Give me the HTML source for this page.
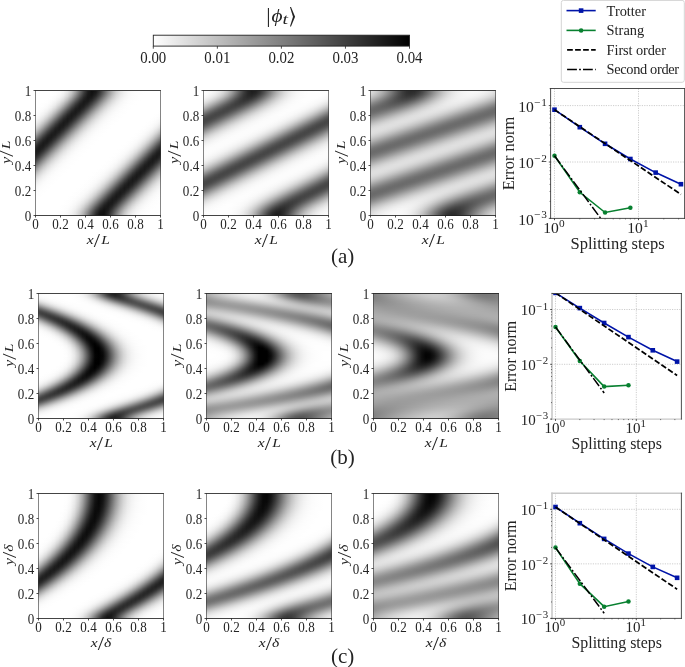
<!DOCTYPE html>
<html lang="en"><head><meta charset="utf-8"><title>Splitting error figure</title>
<style>
html,body{margin:0;padding:0;background:#fff}
body{width:685px;height:667px;position:relative;overflow:hidden;font-family:"Liberation Serif", serif}
.hm{position:absolute;overflow:hidden}
.hm i{display:block;height:1px;width:100%}
svg{position:absolute;left:0;top:0;will-change:transform}
text{font-family:"Liberation Serif", serif;fill:#242424}
.sp{fill:none;stroke:#222;stroke-width:.9}
.spv{fill:none;stroke:#333;stroke-width:.6}
.sph{fill:none;stroke:#222;stroke-width:.85}
.sp2{stroke:#222;stroke-width:.9}
.tkl{fill:none;stroke:#222;stroke-width:.8}
.tkm{fill:none;stroke:#333;stroke-width:.7}
.grid{fill:none;stroke:#b8b8b8;stroke-width:.7;stroke-dasharray:1.2 1.2}
.ref{fill:none;stroke:#000}
.r1{stroke-width:1.75}
.r2{stroke-width:1.5}
.tk{font-size:13.6px}
.al{font-size:13.5px;font-style:italic}
.sl{font-size:19.5px;font-style:normal}
.pl{font-size:15.6px}
.sup{font-size:11.3px}
.pl2{font-size:16.5px}
.cbt{font-size:15.8px}
.cbl{font-size:21px}
.ang{font-family:"DejaVu Math TeX Gyre","DejaVu Serif",serif;font-size:18px}
.cbs{font-size:15px}
.lg{font-size:14.4px}
.sub{font-size:21px}
</style></head><body>
<div class="hm" style="left:35px;top:90px;width:126px;height:126px"><i style="background:linear-gradient(90deg,#fff,#fff,#fff,#fff,#fff,#fefefe,#fcfcfc,#f5f5f5,#e6e6e6,#cacaca,#a2a2a2,#717171,#414141,#1e1e1e,#101010,#191919,#373737,#606060,#8b8b8b,#b1b1b1,#cecece,#e3e3e3,#f0f0f0,#f7f7f7,#fbfbfb,#fdfdfd,#fefefe,#fff,#fff,#fff,#fff,#fff)"></i><i style="background:linear-gradient(90deg,#fff,#fff,#fff,#fff,#fff,#fefefe,#fcfcfc,#f5f5f5,#e5e5e5,#cacaca,#a2a2a2,#717171,#414141,#1e1e1e,#101010,#191919,#373737,#606060,#8b8b8b,#b1b1b1,#cecece,#e3e3e3,#f0f0f0,#f7f7f7,#fbfbfb,#fdfdfd,#fefefe,#fff,#fff,#fff,#fff,#fff)"></i><i style="background:linear-gradient(90deg,#fff,#fff,#fff,#fff,#fff,#fefefe,#fbfbfb,#f4f4f4,#e4e4e4,#c8c8c8,#9f9f9f,#6e6e6e,#3f3f3f,#1d1d1d,#101010,#1b1b1b,#393939,#626262,#8d8d8d,#b3b3b3,#d0d0d0,#e4e4e4,#f0f0f0,#f8f8f8,#fcfcfc,#fefefe,#fefefe,#fff,#fff,#fff,#fff,#fff)"></i><i style="background:linear-gradient(90deg,#fff,#fff,#fff,#fff,#fff,#fefefe,#fbfbfb,#f2f2f2,#e1e1e1,#c4c4c4,#9a9a9a,#696969,#3b3b3b,#1b1b1b,#111,#1e1e1e,#3e3e3e,#676767,#919191,#b6b6b6,#d2d2d2,#e5e5e5,#f1f1f1,#f8f8f8,#fcfcfc,#fefefe,#fefefe,#fff,#fff,#fff,#fff,#fff)"></i><i style="background:linear-gradient(90deg,#fff,#fff,#fff,#fff,#fff,#fefefe,#fafafa,#f0f0f0,#ddd,#bebebe,#949494,#636363,#373737,#191919,#121212,#222,#434343,#6c6c6c,#969696,#bababa,#d5d5d5,#e7e7e7,#f2f2f2,#f9f9f9,#fcfcfc,#fefefe,#fefefe,#fff,#fff,#fff,#fff,#fff)"></i><i style="background:linear-gradient(90deg,#fff,#fff,#fff,#fff,#fff,#fdfdfd,#f8f8f8,#eee,#d9d9d9,#b8b8b8,#8c8c8c,#5c5c5c,#323232,#181818,#141414,#262626,#494949,#737373,#9c9c9c,#bebebe,#d8d8d8,#e9e9e9,#f3f3f3,#f9f9f9,#fcfcfc,#fefefe,#fff,#fff,#fff,#fff,#fff,#fff)"></i><i style="background:linear-gradient(90deg,#fff,#fff,#fff,#fff,#fefefe,#fcfcfc,#f7f7f7,#eaeaea,#d4d4d4,#b1b1b1,#848484,#555,#2d2d2d,#171717,#171717,#2c2c2c,#505050,#7a7a7a,#a2a2a2,#c3c3c3,#dbdbdb,#ebebeb,#f4f4f4,#fafafa,#fdfdfd,#fefefe,#fff,#fff,#fff,#fff,#fff,#fff)"></i><i style="background:linear-gradient(90deg,#fff,#fff,#fff,#fff,#fefefe,#fbfbfb,#f5f5f5,#e6e6e6,#cdcdcd,#a8a8a8,#7b7b7b,#4d4d4d,#282828,#161616,#1a1a1a,#333,#585858,#828282,#a8a8a8,#c7c7c7,#dedede,#ededed,#f6f6f6,#fafafa,#fdfdfd,#fefefe,#fff,#fff,#fff,#fff,#fff,#fff)"></i><i style="background:linear-gradient(90deg,#fff,#fff,#fff,#fff,#fefefe,#fafafa,#f2f2f2,#e2e2e2,#c6c6c6,#9f9f9f,#717171,#454545,#242424,#161616,#1e1e1e,#3a3a3a,#606060,#8a8a8a,#afafaf,#ccc,#e1e1e1,#efefef,#f7f7f7,#fbfbfb,#fdfdfd,#fefefe,#fff,#fff,#fff,#fff,#fff,#fff)"></i><i style="background:linear-gradient(90deg,#fff,#fff,#fff,#fff,#fdfdfd,#f9f9f9,#efefef,#dcdcdc,#bfbfbf,#969696,#686868,#3d3d3d,#202020,#171717,#242424,#424242,#696969,#929292,#b6b6b6,#d1d1d1,#e4e4e4,#f1f1f1,#f8f8f8,#fcfcfc,#fdfdfd,#fefefe,#fff,#fff,#fff,#fff,#fff,#fff)"></i><i style="background:linear-gradient(90deg,#fff,#fff,#fff,#fefefe,#fcfcfc,#f7f7f7,#ececec,#d7d7d7,#b6b6b6,#8c8c8c,#5e5e5e,#363636,#1d1d1d,#191919,#292929,#4a4a4a,#727272,#9a9a9a,#bcbcbc,#d6d6d6,#e7e7e7,#f2f2f2,#f9f9f9,#fcfcfc,#fefefe,#fefefe,#fff,#fff,#fff,#fff,#fff,#fff)"></i><i style="background:linear-gradient(90deg,#fff,#fff,#fff,#fefefe,#fbfbfb,#f5f5f5,#e7e7e7,#d0d0d0,#adadad,#818181,#545454,#2f2f2f,#1a1a1a,#1b1b1b,#303030,#535353,#7c7c7c,#a2a2a2,#c2c2c2,#dadada,#eaeaea,#f4f4f4,#fafafa,#fdfdfd,#fefefe,#fff,#fff,#fff,#fff,#fff,#fff,#fff)"></i><i style="background:linear-gradient(90deg,#fff,#fff,#fff,#fefefe,#fafafa,#f2f2f2,#e3e3e3,#c8c8c8,#a3a3a3,#777,#4a4a4a,#292929,#191919,#1f1f1f,#383838,#5c5c5c,#858585,#aaa,#c9c9c9,#dedede,#ededed,#f6f6f6,#fafafa,#fdfdfd,#fefefe,#fff,#fff,#fff,#fff,#fff,#fff,#fff)"></i><i style="background:linear-gradient(90deg,#fff,#fff,#fefefe,#fdfdfd,#f9f9f9,#efefef,#ddd,#c0c0c0,#999,#6c6c6c,#414141,#232323,#191919,#242424,#404040,#666,#8e8e8e,#b2b2b2,#cecece,#e2e2e2,#efefef,#f7f7f7,#fbfbfb,#fdfdfd,#fefefe,#fff,#fff,#fff,#fff,#fff,#fff,#fff)"></i><i style="background:linear-gradient(90deg,#fff,#fff,#fefefe,#fcfcfc,#f7f7f7,#ececec,#d7d7d7,#b8b8b8,#8e8e8e,#616161,#393939,#1f1f1f,#1a1a1a,#292929,#484848,#707070,#979797,#b9b9b9,#d4d4d4,#e6e6e6,#f1f1f1,#f8f8f8,#fcfcfc,#fefefe,#fefefe,#fff,#fff,#fff,#fff,#fff,#fff,#fff)"></i><i style="background:linear-gradient(90deg,#fff,#fff,#fefefe,#fbfbfb,#f5f5f5,#e8e8e8,#d1d1d1,#aeaeae,#848484,#575757,#313131,#1c1c1c,#1c1c1c,#303030,#515151,#797979,#a0a0a0,#c0c0c0,#d9d9d9,#e9e9e9,#f3f3f3,#f9f9f9,#fcfcfc,#fefefe,#fff,#fff,#fff,#fff,#fff,#fff,#fff,#fff)"></i><i style="background:linear-gradient(90deg,#fff,#fff,#fefefe,#fafafa,#f2f2f2,#e3e3e3,#c9c9c9,#a5a5a5,#797979,#4d4d4d,#2b2b2b,#1a1a1a,#1f1f1f,#373737,#5b5b5b,#838383,#a8a8a8,#c7c7c7,#ddd,#ececec,#f5f5f5,#fafafa,#fdfdfd,#fefefe,#fff,#fff,#fff,#fff,#fff,#fff,#fff,#fff)"></i><i style="background:linear-gradient(90deg,#fff,#fefefe,#fdfdfd,#f9f9f9,#f0f0f0,#dedede,#c1c1c1,#9a9a9a,#6e6e6e,#434343,#252525,#1a1a1a,#232323,#3f3f3f,#646464,#8c8c8c,#b1b1b1,#cdcdcd,#e2e2e2,#efefef,#f7f7f7,#fbfbfb,#fdfdfd,#fefefe,#fff,#fff,#fff,#fff,#fff,#fff,#fff,#fff)"></i><i style="background:linear-gradient(90deg,#fff,#fefefe,#fcfcfc,#f7f7f7,#ececec,#d8d8d8,#b9b9b9,#909090,#636363,#3b3b3b,#202020,#1a1a1a,#292929,#474747,#6e6e6e,#969696,#b8b8b8,#d3d3d3,#e5e5e5,#f1f1f1,#f8f8f8,#fcfcfc,#fdfdfd,#fefefe,#fff,#fff,#fff,#fff,#fff,#fff,#fff,#fff)"></i><i style="background:linear-gradient(90deg,#fff,#fefefe,#fbfbfb,#f5f5f5,#e8e8e8,#d1d1d1,#afafaf,#858585,#585858,#333,#1d1d1d,#1c1c1c,#2f2f2f,#505050,#787878,#9f9f9f,#bfbfbf,#d8d8d8,#e9e9e9,#f3f3f3,#f9f9f9,#fcfcfc,#fefefe,#fefefe,#fff,#fff,#fff,#fff,#fff,#fff,#fff,#fff)"></i><i style="background:linear-gradient(90deg,#fff,#fdfdfd,#fafafa,#f3f3f3,#e3e3e3,#cacaca,#a6a6a6,#7a7a7a,#4e4e4e,#2c2c2c,#1b1b1b,#1f1f1f,#363636,#5a5a5a,#828282,#a7a7a7,#c6c6c6,#ddd,#ececec,#f5f5f5,#fafafa,#fdfdfd,#fefefe,#fff,#fff,#fff,#fff,#fff,#fff,#fff,#fff,#fefefe)"></i><i style="background:linear-gradient(90deg,#fefefe,#fdfdfd,#f9f9f9,#f0f0f0,#dedede,#c2c2c2,#9b9b9b,#6f6f6f,#444,#262626,#1a1a1a,#232323,#3e3e3e,#636363,#8c8c8c,#b0b0b0,#cdcdcd,#e1e1e1,#efefef,#f6f6f6,#fbfbfb,#fdfdfd,#fefefe,#fff,#fff,#fff,#fff,#fff,#fff,#fff,#fff,#fefefe)"></i><i style="background:linear-gradient(90deg,#fefefe,#fcfcfc,#f7f7f7,#ececec,#d8d8d8,#b9b9b9,#919191,#646464,#3c3c3c,#212121,#1a1a1a,#282828,#464646,#6d6d6d,#959595,#b8b8b8,#d2d2d2,#e5e5e5,#f1f1f1,#f8f8f8,#fcfcfc,#fdfdfd,#fefefe,#fff,#fff,#fff,#fff,#fff,#fff,#fff,#fff,#fefefe)"></i><i style="background:linear-gradient(90deg,#fefefe,#fbfbfb,#f5f5f5,#e8e8e8,#d2d2d2,#b0b0b0,#868686,#595959,#343434,#1d1d1d,#1c1c1c,#2e2e2e,#4f4f4f,#777,#9e9e9e,#bfbfbf,#d8d8d8,#e9e9e9,#f3f3f3,#f9f9f9,#fcfcfc,#fefefe,#fefefe,#fff,#fff,#fff,#fff,#fff,#fff,#fff,#fff,#fdfdfd)"></i><i style="background:linear-gradient(90deg,#fdfdfd,#fafafa,#f3f3f3,#e4e4e4,#cacaca,#a6a6a6,#7b7b7b,#4f4f4f,#2c2c2c,#1b1b1b,#1f1f1f,#353535,#595959,#818181,#a7a7a7,#c6c6c6,#dcdcdc,#ececec,#f5f5f5,#fafafa,#fdfdfd,#fefefe,#fff,#fff,#fff,#fff,#fff,#fff,#fff,#fff,#fefefe,#fdfdfd)"></i><i style="background:linear-gradient(90deg,#fdfdfd,#f9f9f9,#f0f0f0,#dedede,#c3c3c3,#9c9c9c,#707070,#454545,#262626,#1a1a1a,#232323,#3d3d3d,#636363,#8b8b8b,#afafaf,#ccc,#e1e1e1,#eee,#f6f6f6,#fbfbfb,#fdfdfd,#fefefe,#fff,#fff,#fff,#fff,#fff,#fff,#fff,#fff,#fefefe,#fcfcfc)"></i><i style="background:linear-gradient(90deg,#fcfcfc,#f7f7f7,#ececec,#d9d9d9,#bababa,#929292,#656565,#3c3c3c,#212121,#1a1a1a,#282828,#464646,#6c6c6c,#949494,#b7b7b7,#d2d2d2,#e5e5e5,#f1f1f1,#f8f8f8,#fcfcfc,#fdfdfd,#fefefe,#fff,#fff,#fff,#fff,#fff,#fff,#fff,#fff,#fefefe,#fbfbfb)"></i><i style="background:linear-gradient(90deg,#fbfbfb,#f5f5f5,#e8e8e8,#d2d2d2,#b1b1b1,#878787,#5a5a5a,#343434,#1e1e1e,#1c1c1c,#2e2e2e,#4f4f4f,#767676,#9d9d9d,#bebebe,#d7d7d7,#e8e8e8,#f3f3f3,#f9f9f9,#fcfcfc,#fefefe,#fefefe,#fff,#fff,#fff,#fff,#fff,#fff,#fff,#fff,#fdfdfd,#fafafa)"></i><i style="background:linear-gradient(90deg,#fafafa,#f3f3f3,#e4e4e4,#cbcbcb,#a7a7a7,#7c7c7c,#505050,#2d2d2d,#1b1b1b,#1e1e1e,#353535,#585858,#808080,#a6a6a6,#c5c5c5,#dcdcdc,#ebebeb,#f5f5f5,#fafafa,#fdfdfd,#fefefe,#fff,#fff,#fff,#fff,#fff,#fff,#fff,#fff,#fefefe,#fdfdfd,#f9f9f9)"></i><i style="background:linear-gradient(90deg,#f9f9f9,#f0f0f0,#dfdfdf,#c3c3c3,#9d9d9d,#717171,#464646,#272727,#1a1a1a,#222,#3c3c3c,#626262,#8a8a8a,#aeaeae,#ccc,#e1e1e1,#eee,#f6f6f6,#fbfbfb,#fdfdfd,#fefefe,#fff,#fff,#fff,#fff,#fff,#fff,#fff,#fff,#fefefe,#fcfcfc,#f7f7f7)"></i><i style="background:linear-gradient(90deg,#f7f7f7,#ececec,#d9d9d9,#bbb,#939393,#666,#3d3d3d,#222,#1a1a1a,#272727,#454545,#6b6b6b,#939393,#b6b6b6,#d2d2d2,#e5e5e5,#f1f1f1,#f8f8f8,#fcfcfc,#fdfdfd,#fefefe,#fff,#fff,#fff,#fff,#fff,#fff,#fff,#fff,#fefefe,#fbfbfb,#f5f5f5)"></i><i style="background:linear-gradient(90deg,#f5f5f5,#e8e8e8,#d3d3d3,#b2b2b2,#888,#5b5b5b,#353535,#1e1e1e,#1b1b1b,#2d2d2d,#4e4e4e,#757575,#9d9d9d,#bebebe,#d7d7d7,#e8e8e8,#f3f3f3,#f9f9f9,#fcfcfc,#fefefe,#fefefe,#fff,#fff,#fff,#fff,#fff,#fff,#fff,#fff,#fdfdfd,#fafafa,#f3f3f3)"></i><i style="background:linear-gradient(90deg,#f3f3f3,#e4e4e4,#cbcbcb,#a8a8a8,#7d7d7d,#515151,#2e2e2e,#1b1b1b,#1e1e1e,#343434,#575757,#7f7f7f,#a5a5a5,#c5c5c5,#dcdcdc,#ebebeb,#f5f5f5,#fafafa,#fdfdfd,#fefefe,#fff,#fff,#fff,#fff,#fff,#fff,#fff,#fff,#fefefe,#fdfdfd,#f9f9f9,#f0f0f0)"></i><i style="background:linear-gradient(90deg,#f0f0f0,#dfdfdf,#c4c4c4,#9e9e9e,#727272,#474747,#272727,#1a1a1a,#222,#3c3c3c,#616161,#898989,#aeaeae,#cbcbcb,#e0e0e0,#eee,#f6f6f6,#fbfbfb,#fdfdfd,#fefefe,#fff,#fff,#fff,#fff,#fff,#fff,#fff,#fff,#fefefe,#fcfcfc,#f7f7f7,#ededed)"></i><i style="background:linear-gradient(90deg,#ededed,#d9d9d9,#bbb,#949494,#676767,#3e3e3e,#222,#1a1a1a,#262626,#444,#6b6b6b,#939393,#b6b6b6,#d1d1d1,#e4e4e4,#f1f1f1,#f8f8f8,#fcfcfc,#fdfdfd,#fefefe,#fff,#fff,#fff,#fff,#fff,#fff,#fff,#fff,#fefefe,#fbfbfb,#f5f5f5,#e9e9e9)"></i><i style="background:linear-gradient(90deg,#e9e9e9,#d3d3d3,#b2b2b2,#898989,#5c5c5c,#363636,#1e1e1e,#1b1b1b,#2c2c2c,#4d4d4d,#757575,#9c9c9c,#bdbdbd,#d7d7d7,#e8e8e8,#f3f3f3,#f9f9f9,#fcfcfc,#fefefe,#fff,#fff,#fff,#fff,#fff,#fff,#fff,#fff,#fff,#fdfdfd,#fafafa,#f3f3f3,#e4e4e4)"></i><i style="background:linear-gradient(90deg,#e4e4e4,#ccc,#a9a9a9,#7e7e7e,#525252,#2f2f2f,#1c1c1c,#1e1e1e,#333,#565656,#7e7e7e,#a5a5a5,#c4c4c4,#dcdcdc,#ebebeb,#f5f5f5,#fafafa,#fdfdfd,#fefefe,#fff,#fff,#fff,#fff,#fff,#fff,#fff,#fff,#fefefe,#fdfdfd,#f9f9f9,#f0f0f0,#dfdfdf)"></i><i style="background:linear-gradient(90deg,#dfdfdf,#c4c4c4,#9f9f9f,#737373,#484848,#282828,#1a1a1a,#212121,#3b3b3b,#606060,#888,#adadad,#cbcbcb,#e0e0e0,#eee,#f6f6f6,#fbfbfb,#fdfdfd,#fefefe,#fff,#fff,#fff,#fff,#fff,#fff,#fff,#fff,#fefefe,#fcfcfc,#f7f7f7,#ededed,#dadada)"></i><i style="background:linear-gradient(90deg,#dadada,#bcbcbc,#959595,#686868,#3f3f3f,#232323,#1a1a1a,#262626,#434343,#6a6a6a,#929292,#b5b5b5,#d1d1d1,#e4e4e4,#f1f1f1,#f8f8f8,#fcfcfc,#fdfdfd,#fefefe,#fff,#fff,#fff,#fff,#fff,#fff,#fff,#fff,#fefefe,#fbfbfb,#f5f5f5,#e9e9e9,#d3d3d3)"></i><i style="background:linear-gradient(90deg,#d3d3d3,#b3b3b3,#8a8a8a,#5e5e5e,#373737,#1f1f1f,#1b1b1b,#2c2c2c,#4c4c4c,#747474,#9b9b9b,#bdbdbd,#d6d6d6,#e8e8e8,#f3f3f3,#f9f9f9,#fcfcfc,#fefefe,#fff,#fff,#fff,#fff,#fff,#fff,#fff,#fff,#fff,#fdfdfd,#fafafa,#f3f3f3,#e4e4e4,#ccc)"></i><i style="background:linear-gradient(90deg,#ccc,#aaa,#7f7f7f,#535353,#2f2f2f,#1c1c1c,#1d1d1d,#323232,#555,#7e7e7e,#a4a4a4,#c4c4c4,#dbdbdb,#ebebeb,#f5f5f5,#fafafa,#fdfdfd,#fefefe,#fff,#fff,#fff,#fff,#fff,#fff,#fff,#fff,#fefefe,#fdfdfd,#f9f9f9,#f0f0f0,#e0e0e0,#c5c5c5)"></i><i style="background:linear-gradient(90deg,#c5c5c5,#a0a0a0,#747474,#494949,#292929,#1a1a1a,#212121,#3a3a3a,#5f5f5f,#878787,#adadad,#cbcbcb,#e0e0e0,#eee,#f6f6f6,#fbfbfb,#fdfdfd,#fefefe,#fff,#fff,#fff,#fff,#fff,#fff,#fff,#fff,#fefefe,#fcfcfc,#f7f7f7,#ededed,#dadada,#bdbdbd)"></i><i style="background:linear-gradient(90deg,#bdbdbd,#969696,#696969,#404040,#232323,#1a1a1a,#252525,#424242,#696969,#919191,#b5b5b5,#d1d1d1,#e4e4e4,#f1f1f1,#f8f8f8,#fcfcfc,#fdfdfd,#fefefe,#fff,#fff,#fff,#fff,#fff,#fff,#fff,#fff,#fefefe,#fbfbfb,#f5f5f5,#e9e9e9,#d4d4d4,#b4b4b4)"></i><i style="background:linear-gradient(90deg,#b4b4b4,#8b8b8b,#5f5f5f,#383838,#1f1f1f,#1b1b1b,#2b2b2b,#4b4b4b,#737373,#9a9a9a,#bcbcbc,#d6d6d6,#e8e8e8,#f3f3f3,#f9f9f9,#fcfcfc,#fefefe,#fff,#fff,#fff,#fff,#fff,#fff,#fff,#fff,#fefefe,#fdfdfd,#fafafa,#f3f3f3,#e5e5e5,#cdcdcd,#ababab)"></i><i style="background:linear-gradient(90deg,#ababab,#808080,#545454,#303030,#1c1c1c,#1d1d1d,#323232,#545454,#7d7d7d,#a3a3a3,#c4c4c4,#dbdbdb,#ebebeb,#f5f5f5,#fafafa,#fdfdfd,#fefefe,#fff,#fff,#fff,#fff,#fff,#fff,#fff,#fff,#fefefe,#fdfdfd,#f9f9f9,#f0f0f0,#e0e0e0,#c5c5c5,#a1a1a1)"></i><i style="background:linear-gradient(90deg,#a1a1a1,#757575,#4a4a4a,#292929,#1a1a1a,#202020,#393939,#5e5e5e,#878787,#acacac,#cacaca,#e0e0e0,#eee,#f6f6f6,#fbfbfb,#fdfdfd,#fefefe,#fff,#fff,#fff,#fff,#fff,#fff,#fff,#fff,#fefefe,#fcfcfc,#f7f7f7,#ededed,#dadada,#bdbdbd,#969696)"></i><i style="background:linear-gradient(90deg,#979797,#6a6a6a,#414141,#242424,#1a1a1a,#252525,#414141,#686868,#909090,#b4b4b4,#d0d0d0,#e4e4e4,#f0f0f0,#f8f8f8,#fcfcfc,#fefefe,#fefefe,#fff,#fff,#fff,#fff,#fff,#fff,#fff,#fff,#fefefe,#fbfbfb,#f5f5f5,#e9e9e9,#d4d4d4,#b5b5b5,#8c8c8c)"></i><i style="background:linear-gradient(90deg,#8c8c8c,#606060,#383838,#1f1f1f,#1a1a1a,#2a2a2a,#4a4a4a,#727272,#9a9a9a,#bcbcbc,#d6d6d6,#e8e8e8,#f3f3f3,#f9f9f9,#fcfcfc,#fefefe,#fff,#fff,#fff,#fff,#fff,#fff,#fff,#fff,#fefefe,#fdfdfd,#fafafa,#f3f3f3,#e5e5e5,#cdcdcd,#ababab,#818181)"></i><i style="background:linear-gradient(90deg,#818181,#555,#313131,#1c1c1c,#1d1d1d,#313131,#535353,#7c7c7c,#a3a3a3,#c3c3c3,#dbdbdb,#ebebeb,#f5f5f5,#fafafa,#fdfdfd,#fefefe,#fff,#fff,#fff,#fff,#fff,#fff,#fff,#fff,#fefefe,#fdfdfd,#f9f9f9,#f0f0f0,#e0e0e0,#c6c6c6,#a2a2a2,#767676)"></i><i style="background:linear-gradient(90deg,#767676,#4b4b4b,#2a2a2a,#1a1a1a,#202020,#383838,#5d5d5d,#868686,#ababab,#cacaca,#e0e0e0,#eee,#f6f6f6,#fbfbfb,#fdfdfd,#fefefe,#fff,#fff,#fff,#fff,#fff,#fff,#fff,#fff,#fefefe,#fcfcfc,#f7f7f7,#ededed,#dbdbdb,#bebebe,#979797,#6b6b6b)"></i><i style="background:linear-gradient(90deg,#6b6b6b,#424242,#242424,#1a1a1a,#242424,#404040,#676767,#8f8f8f,#b4b4b4,#d0d0d0,#e4e4e4,#f0f0f0,#f8f8f8,#fcfcfc,#fefefe,#fefefe,#fff,#fff,#fff,#fff,#fff,#fff,#fff,#fff,#fefefe,#fbfbfb,#f5f5f5,#e9e9e9,#d5d5d5,#b5b5b5,#8d8d8d,#616161)"></i><i style="background:linear-gradient(90deg,#616161,#393939,#202020,#1a1a1a,#2a2a2a,#494949,#717171,#999,#bbb,#d6d6d6,#e7e7e7,#f3f3f3,#f9f9f9,#fcfcfc,#fefefe,#fff,#fff,#fff,#fff,#fff,#fff,#fff,#fff,#fefefe,#fdfdfd,#fafafa,#f3f3f3,#e5e5e5,#cecece,#acacac,#828282,#565656)"></i><i style="background:linear-gradient(90deg,#565656,#313131,#1c1c1c,#1c1c1c,#303030,#525252,#7b7b7b,#a2a2a2,#c3c3c3,#dbdbdb,#ebebeb,#f5f5f5,#fafafa,#fdfdfd,#fefefe,#fff,#fff,#fff,#fff,#fff,#fff,#fff,#fff,#fefefe,#fdfdfd,#f9f9f9,#f0f0f0,#e0e0e0,#c7c7c7,#a2a2a2,#777,#4c4c4c)"></i><i style="background:linear-gradient(90deg,#4c4c4c,#2b2b2b,#1a1a1a,#1f1f1f,#373737,#5c5c5c,#858585,#ababab,#c9c9c9,#dfdfdf,#eee,#f6f6f6,#fbfbfb,#fdfdfd,#fefefe,#fff,#fff,#fff,#fff,#fff,#fff,#fff,#fff,#fefefe,#fcfcfc,#f7f7f7,#ededed,#dbdbdb,#bfbfbf,#989898,#6c6c6c,#434343)"></i><i style="background:linear-gradient(90deg,#434343,#252525,#1a1a1a,#242424,#3f3f3f,#666,#8f8f8f,#b3b3b3,#d0d0d0,#e4e4e4,#f0f0f0,#f8f8f8,#fcfcfc,#fefefe,#fefefe,#fff,#fff,#fff,#fff,#fff,#fff,#fff,#fff,#fefefe,#fbfbfb,#f5f5f5,#e9e9e9,#d5d5d5,#b6b6b6,#8e8e8e,#626262,#3a3a3a)"></i><i style="background:linear-gradient(90deg,#3a3a3a,#202020,#1a1a1a,#292929,#484848,#707070,#989898,#bbb,#d5d5d5,#e7e7e7,#f3f3f3,#f9f9f9,#fcfcfc,#fefefe,#fff,#fff,#fff,#fff,#fff,#fff,#fff,#fff,#fefefe,#fdfdfd,#fafafa,#f3f3f3,#e5e5e5,#cecece,#adadad,#838383,#575757,#323232)"></i><i style="background:linear-gradient(90deg,#323232,#1d1d1d,#1c1c1c,#2f2f2f,#515151,#7a7a7a,#a1a1a1,#c2c2c2,#dadada,#ebebeb,#f4f4f4,#fafafa,#fdfdfd,#fefefe,#fff,#fff,#fff,#fff,#fff,#fff,#fff,#fff,#fefefe,#fdfdfd,#f9f9f9,#f0f0f0,#e1e1e1,#c7c7c7,#a3a3a3,#787878,#4d4d4d,#2b2b2b)"></i><i style="background:linear-gradient(90deg,#2b2b2b,#1b1b1b,#1f1f1f,#373737,#5b5b5b,#848484,#aaa,#c9c9c9,#dfdfdf,#eee,#f6f6f6,#fbfbfb,#fdfdfd,#fefefe,#fff,#fff,#fff,#fff,#fff,#fff,#fff,#fff,#fefefe,#fcfcfc,#f7f7f7,#ededed,#dbdbdb,#bfbfbf,#999,#6d6d6d,#444,#252525)"></i><i style="background:linear-gradient(90deg,#252525,#1a1a1a,#232323,#3f3f3f,#656565,#8e8e8e,#b2b2b2,#cfcfcf,#e3e3e3,#f0f0f0,#f8f8f8,#fcfcfc,#fefefe,#fefefe,#fff,#fff,#fff,#fff,#fff,#fff,#fff,#fff,#fefefe,#fbfbfb,#f5f5f5,#eaeaea,#d5d5d5,#b7b7b7,#8f8f8f,#636363,#3b3b3b,#212121)"></i><i style="background:linear-gradient(90deg,#212121,#1a1a1a,#282828,#474747,#6f6f6f,#979797,#bababa,#d5d5d5,#e7e7e7,#f2f2f2,#f9f9f9,#fcfcfc,#fefefe,#fff,#fff,#fff,#fff,#fff,#fff,#fff,#fff,#fefefe,#fdfdfd,#fafafa,#f3f3f3,#e5e5e5,#cfcfcf,#aeaeae,#848484,#585858,#333,#1d1d1d)"></i><i style="background:linear-gradient(90deg,#1d1d1d,#1c1c1c,#2f2f2f,#505050,#797979,#a1a1a1,#c2c2c2,#dadada,#ebebeb,#f4f4f4,#fafafa,#fdfdfd,#fefefe,#fff,#fff,#fff,#fff,#fff,#fff,#fff,#fff,#fefefe,#fdfdfd,#f9f9f9,#f0f0f0,#e1e1e1,#c8c8c8,#a4a4a4,#797979,#4e4e4e,#2c2c2c,#1b1b1b)"></i><i style="background:linear-gradient(90deg,#1b1b1b,#1e1e1e,#363636,#5a5a5a,#838383,#a9a9a9,#c8c8c8,#dfdfdf,#eee,#f6f6f6,#fbfbfb,#fdfdfd,#fefefe,#fff,#fff,#fff,#fff,#fff,#fff,#fff,#fff,#fefefe,#fcfcfc,#f7f7f7,#ededed,#dcdcdc,#c0c0c0,#9a9a9a,#6f6f6f,#454545,#262626,#1a1a1a)"></i><i style="background:linear-gradient(90deg,#1a1a1a,#232323,#3e3e3e,#646464,#8d8d8d,#b2b2b2,#cfcfcf,#e3e3e3,#f0f0f0,#f8f8f8,#fcfcfc,#fefefe,#fefefe,#fff,#fff,#fff,#fff,#fff,#fff,#fff,#fff,#fefefe,#fbfbfb,#f5f5f5,#eaeaea,#d6d6d6,#b7b7b7,#909090,#646464,#3c3c3c,#212121,#1a1a1a)"></i><i style="background:linear-gradient(90deg,#1a1a1a,#282828,#464646,#6e6e6e,#979797,#bababa,#d5d5d5,#e7e7e7,#f2f2f2,#f9f9f9,#fcfcfc,#fefefe,#fff,#fff,#fff,#fff,#fff,#fff,#fff,#fff,#fefefe,#fdfdfd,#fafafa,#f3f3f3,#e6e6e6,#cfcfcf,#aeaeae,#858585,#595959,#343434,#1d1d1d,#1b1b1b)"></i><i style="background:linear-gradient(90deg,#1b1b1b,#2e2e2e,#505050,#787878,#a0a0a0,#c1c1c1,#dadada,#eaeaea,#f4f4f4,#fafafa,#fdfdfd,#fefefe,#fff,#fff,#fff,#fff,#fff,#fff,#fff,#fff,#fefefe,#fdfdfd,#f9f9f9,#f0f0f0,#e1e1e1,#c8c8c8,#a5a5a5,#7a7a7a,#4f4f4f,#2d2d2d,#1b1b1b,#1e1e1e)"></i><i style="background:linear-gradient(90deg,#1e1e1e,#353535,#595959,#828282,#a9a9a9,#c8c8c8,#dfdfdf,#ededed,#f6f6f6,#fbfbfb,#fdfdfd,#fefefe,#fff,#fff,#fff,#fff,#fff,#fff,#fff,#fff,#fefefe,#fcfcfc,#f7f7f7,#ededed,#dcdcdc,#c0c0c0,#9b9b9b,#707070,#464646,#262626,#1a1a1a,#222)"></i><i style="background:linear-gradient(90deg,#222,#3d3d3d,#636363,#8c8c8c,#b1b1b1,#cecece,#e3e3e3,#f0f0f0,#f8f8f8,#fcfcfc,#fefefe,#fefefe,#fff,#fff,#fff,#fff,#fff,#fff,#fff,#fff,#fefefe,#fbfbfb,#f5f5f5,#eaeaea,#d6d6d6,#b8b8b8,#919191,#656565,#3d3d3d,#212121,#1a1a1a,#272727)"></i><i style="background:linear-gradient(90deg,#272727,#454545,#6d6d6d,#969696,#b9b9b9,#d4d4d4,#e7e7e7,#f2f2f2,#f9f9f9,#fcfcfc,#fefefe,#fff,#fff,#fff,#fff,#fff,#fff,#fff,#fff,#fefefe,#fdfdfd,#fafafa,#f3f3f3,#e6e6e6,#d0d0d0,#afafaf,#868686,#5a5a5a,#353535,#1e1e1e,#1b1b1b,#2d2d2d)"></i><i style="background:linear-gradient(90deg,#2d2d2d,#4f4f4f,#777,#9f9f9f,#c1c1c1,#dadada,#eaeaea,#f4f4f4,#fafafa,#fdfdfd,#fefefe,#fff,#fff,#fff,#fff,#fff,#fff,#fff,#fff,#fefefe,#fdfdfd,#f9f9f9,#f1f1f1,#e1e1e1,#c9c9c9,#a6a6a6,#7b7b7b,#505050,#2d2d2d,#1b1b1b,#1e1e1e,#343434)"></i><i style="background:linear-gradient(90deg,#343434,#585858,#818181,#a8a8a8,#c8c8c8,#dedede,#ededed,#f6f6f6,#fbfbfb,#fdfdfd,#fefefe,#fff,#fff,#fff,#fff,#fff,#fff,#fff,#fff,#fefefe,#fcfcfc,#f7f7f7,#eee,#dcdcdc,#c1c1c1,#9c9c9c,#717171,#474747,#272727,#1a1a1a,#222,#3c3c3c)"></i><i style="background:linear-gradient(90deg,#3c3c3c,#626262,#8b8b8b,#b1b1b1,#cecece,#e3e3e3,#f0f0f0,#f8f8f8,#fcfcfc,#fefefe,#fefefe,#fff,#fff,#fff,#fff,#fff,#fff,#fff,#fff,#fefefe,#fbfbfb,#f5f5f5,#eaeaea,#d6d6d6,#b9b9b9,#929292,#666,#3e3e3e,#222,#1a1a1a,#272727,#454545)"></i><i style="background:linear-gradient(90deg,#454545,#6c6c6c,#959595,#b9b9b9,#d4d4d4,#e7e7e7,#f2f2f2,#f9f9f9,#fcfcfc,#fefefe,#fff,#fff,#fff,#fff,#fff,#fff,#fff,#fff,#fefefe,#fdfdfd,#fafafa,#f3f3f3,#e6e6e6,#d0d0d0,#b0b0b0,#878787,#5b5b5b,#353535,#1e1e1e,#1b1b1b,#2d2d2d,#4e4e4e)"></i><i style="background:linear-gradient(90deg,#4e4e4e,#767676,#9e9e9e,#c0c0c0,#d9d9d9,#eaeaea,#f4f4f4,#fafafa,#fdfdfd,#fefefe,#fff,#fff,#fff,#fff,#fff,#fff,#fff,#fff,#fefefe,#fdfdfd,#f9f9f9,#f1f1f1,#e2e2e2,#c9c9c9,#a7a7a7,#7c7c7c,#515151,#2e2e2e,#1b1b1b,#1d1d1d,#333,#575757)"></i><i style="background:linear-gradient(90deg,#575757,#808080,#a7a7a7,#c7c7c7,#dedede,#ededed,#f6f6f6,#fbfbfb,#fdfdfd,#fefefe,#fff,#fff,#fff,#fff,#fff,#fff,#fff,#fff,#fefefe,#fcfcfc,#f7f7f7,#eee,#dcdcdc,#c2c2c2,#9d9d9d,#727272,#484848,#282828,#1a1a1a,#212121,#3b3b3b,#616161)"></i><i style="background:linear-gradient(90deg,#616161,#8a8a8a,#b0b0b0,#cecece,#e3e3e3,#f0f0f0,#f8f8f8,#fcfcfc,#fefefe,#fefefe,#fff,#fff,#fff,#fff,#fff,#fff,#fff,#fff,#fefefe,#fbfbfb,#f5f5f5,#eaeaea,#d7d7d7,#b9b9b9,#939393,#676767,#3e3e3e,#222,#1a1a1a,#262626,#444,#6b6b6b)"></i><i style="background:linear-gradient(90deg,#6b6b6b,#949494,#b8b8b8,#d4d4d4,#e7e7e7,#f2f2f2,#f9f9f9,#fcfcfc,#fefefe,#fff,#fff,#fff,#fff,#fff,#fff,#fff,#fff,#fefefe,#fdfdfd,#fafafa,#f3f3f3,#e6e6e6,#d0d0d0,#b1b1b1,#888,#5c5c5c,#363636,#1e1e1e,#1b1b1b,#2c2c2c,#4d4d4d,#757575)"></i><i style="background:linear-gradient(90deg,#757575,#9e9e9e,#c0c0c0,#d9d9d9,#eaeaea,#f4f4f4,#fafafa,#fdfdfd,#fefefe,#fff,#fff,#fff,#fff,#fff,#fff,#fff,#fff,#fefefe,#fdfdfd,#f9f9f9,#f1f1f1,#e2e2e2,#cacaca,#a7a7a7,#7d7d7d,#525252,#2f2f2f,#1b1b1b,#1d1d1d,#333,#565656,#808080)"></i><i style="background:linear-gradient(90deg,#7f7f7f,#a7a7a7,#c7c7c7,#dedede,#ededed,#f6f6f6,#fbfbfb,#fdfdfd,#fefefe,#fff,#fff,#fff,#fff,#fff,#fff,#fff,#fff,#fefefe,#fcfcfc,#f7f7f7,#eee,#ddd,#c2c2c2,#9e9e9e,#737373,#494949,#282828,#1a1a1a,#212121,#3a3a3a,#606060,#8a8a8a)"></i><i style="background:linear-gradient(90deg,#8a8a8a,#afafaf,#cdcdcd,#e2e2e2,#f0f0f0,#f8f8f8,#fcfcfc,#fefefe,#fefefe,#fff,#fff,#fff,#fff,#fff,#fff,#fff,#fff,#fefefe,#fbfbfb,#f5f5f5,#eaeaea,#d7d7d7,#bababa,#939393,#686868,#3f3f3f,#232323,#1a1a1a,#252525,#434343,#6a6a6a,#939393)"></i><i style="background:linear-gradient(90deg,#939393,#b7b7b7,#d3d3d3,#e6e6e6,#f2f2f2,#f9f9f9,#fcfcfc,#fefefe,#fff,#fff,#fff,#fff,#fff,#fff,#fff,#fff,#fefefe,#fdfdfd,#fafafa,#f3f3f3,#e6e6e6,#d1d1d1,#b1b1b1,#898989,#5d5d5d,#373737,#1f1f1f,#1a1a1a,#2b2b2b,#4c4c4c,#747474,#9d9d9d)"></i><i style="background:linear-gradient(90deg,#9d9d9d,#bfbfbf,#d9d9d9,#eaeaea,#f4f4f4,#fafafa,#fdfdfd,#fefefe,#fff,#fff,#fff,#fff,#fff,#fff,#fff,#fff,#fefefe,#fdfdfd,#f9f9f9,#f1f1f1,#e2e2e2,#cacaca,#a8a8a8,#7e7e7e,#535353,#2f2f2f,#1c1c1c,#1d1d1d,#323232,#555,#7f7f7f,#a6a6a6)"></i><i style="background:linear-gradient(90deg,#a6a6a6,#c6c6c6,#dedede,#ededed,#f6f6f6,#fbfbfb,#fdfdfd,#fefefe,#fff,#fff,#fff,#fff,#fff,#fff,#fff,#fff,#fefefe,#fcfcfc,#f7f7f7,#eee,#ddd,#c3c3c3,#9e9e9e,#747474,#4a4a4a,#292929,#1a1a1a,#202020,#3a3a3a,#5f5f5f,#898989,#afafaf)"></i><i style="background:linear-gradient(90deg,#afafaf,#cdcdcd,#e2e2e2,#f0f0f0,#f8f8f8,#fcfcfc,#fefefe,#fefefe,#fff,#fff,#fff,#fff,#fff,#fff,#fff,#fefefe,#fdfdfd,#fbfbfb,#f5f5f5,#eaeaea,#d7d7d7,#bbb,#949494,#696969,#404040,#232323,#191919,#252525,#424242,#696969,#939393,#b7b7b7)"></i><i style="background:linear-gradient(90deg,#b7b7b7,#d3d3d3,#e6e6e6,#f2f2f2,#f9f9f9,#fcfcfc,#fefefe,#fff,#fff,#fff,#fff,#fff,#fff,#fff,#fff,#fefefe,#fdfdfd,#fafafa,#f3f3f3,#e7e7e7,#d1d1d1,#b2b2b2,#8a8a8a,#5f5f5f,#383838,#1f1f1f,#1a1a1a,#2a2a2a,#4b4b4b,#747474,#9c9c9c,#bfbfbf)"></i><i style="background:linear-gradient(90deg,#bfbfbf,#d8d8d8,#eaeaea,#f4f4f4,#fafafa,#fdfdfd,#fefefe,#fff,#fff,#fff,#fff,#fff,#fff,#fff,#fff,#fefefe,#fcfcfc,#f9f9f9,#f1f1f1,#e2e2e2,#cbcbcb,#a9a9a9,#7f7f7f,#545454,#303030,#1c1c1c,#1c1c1c,#313131,#545454,#7e7e7e,#a5a5a5,#c6c6c6)"></i><i style="background:linear-gradient(90deg,#c6c6c6,#ddd,#ededed,#f6f6f6,#fbfbfb,#fdfdfd,#fefefe,#fff,#fff,#fff,#fff,#fff,#fff,#fff,#fff,#fefefe,#fcfcfc,#f7f7f7,#eee,#ddd,#c3c3c3,#9f9f9f,#757575,#4a4a4a,#2a2a2a,#1a1a1a,#202020,#393939,#5e5e5e,#888,#aeaeae,#ccc)"></i><i style="background:linear-gradient(90deg,#ccc,#e2e2e2,#f0f0f0,#f8f8f8,#fcfcfc,#fefefe,#fefefe,#fff,#fff,#fff,#fff,#fff,#fff,#fff,#fefefe,#fdfdfd,#fbfbfb,#f5f5f5,#ebebeb,#d8d8d8,#bbb,#959595,#6a6a6a,#414141,#242424,#191919,#242424,#414141,#686868,#929292,#b6b6b6,#d3d3d3)"></i><i style="background:linear-gradient(90deg,#d3d3d3,#e6e6e6,#f2f2f2,#f9f9f9,#fcfcfc,#fefefe,#fff,#fff,#fff,#fff,#fff,#fff,#fff,#fff,#fefefe,#fdfdfd,#fafafa,#f3f3f3,#e7e7e7,#d2d2d2,#b3b3b3,#8b8b8b,#606060,#393939,#1f1f1f,#1a1a1a,#2a2a2a,#4a4a4a,#737373,#9b9b9b,#bebebe,#d8d8d8)"></i><i style="background:linear-gradient(90deg,#d8d8d8,#eaeaea,#f4f4f4,#fafafa,#fdfdfd,#fefefe,#fff,#fff,#fff,#fff,#fff,#fff,#fff,#fff,#fefefe,#fcfcfc,#f9f9f9,#f1f1f1,#e2e2e2,#cbcbcb,#aaa,#808080,#555,#313131,#1c1c1c,#1c1c1c,#303030,#535353,#7d7d7d,#a5a5a5,#c5c5c5,#ddd)"></i><i style="background:linear-gradient(90deg,#ddd,#ededed,#f6f6f6,#fbfbfb,#fdfdfd,#fefefe,#fff,#fff,#fff,#fff,#fff,#fff,#fff,#fff,#fefefe,#fcfcfc,#f7f7f7,#eee,#dedede,#c4c4c4,#a0a0a0,#767676,#4b4b4b,#2a2a2a,#1a1a1a,#1f1f1f,#383838,#5d5d5d,#878787,#adadad,#ccc,#e2e2e2)"></i><i style="background:linear-gradient(90deg,#e2e2e2,#f0f0f0,#f7f7f7,#fcfcfc,#fefefe,#fefefe,#fff,#fff,#fff,#fff,#fff,#fff,#fff,#fefefe,#fdfdfd,#fbfbfb,#f5f5f5,#ebebeb,#d8d8d8,#bcbcbc,#969696,#6b6b6b,#424242,#242424,#191919,#242424,#404040,#676767,#919191,#b6b6b6,#d2d2d2,#e6e6e6)"></i><i style="background:linear-gradient(90deg,#e6e6e6,#f2f2f2,#f9f9f9,#fcfcfc,#fefefe,#fff,#fff,#fff,#fff,#fff,#fff,#fff,#fff,#fefefe,#fdfdfd,#fafafa,#f3f3f3,#e7e7e7,#d2d2d2,#b3b3b3,#8c8c8c,#616161,#3a3a3a,#202020,#1a1a1a,#292929,#494949,#727272,#9b9b9b,#bebebe,#d8d8d8,#e9e9e9)"></i><i style="background:linear-gradient(90deg,#eaeaea,#f4f4f4,#fafafa,#fdfdfd,#fefefe,#fff,#fff,#fff,#fff,#fff,#fff,#fff,#fff,#fefefe,#fcfcfc,#f9f9f9,#f1f1f1,#e3e3e3,#cbcbcb,#aaa,#818181,#565656,#323232,#1c1c1c,#1c1c1c,#303030,#525252,#7c7c7c,#a4a4a4,#c5c5c5,#ddd,#ededed)"></i><i style="background:linear-gradient(90deg,#ededed,#f6f6f6,#fbfbfb,#fdfdfd,#fefefe,#fff,#fff,#fff,#fff,#fff,#fff,#fff,#fff,#fefefe,#fcfcfc,#f7f7f7,#eee,#dedede,#c4c4c4,#a1a1a1,#777,#4c4c4c,#2b2b2b,#1a1a1a,#1f1f1f,#373737,#5c5c5c,#868686,#adadad,#ccc,#e2e2e2,#efefef)"></i><i style="background:linear-gradient(90deg,#f0f0f0,#f7f7f7,#fcfcfc,#fefefe,#fefefe,#fff,#fff,#fff,#fff,#fff,#fff,#fff,#fefefe,#fdfdfd,#fbfbfb,#f5f5f5,#ebebeb,#d8d8d8,#bcbcbc,#979797,#6c6c6c,#434343,#252525,#191919,#232323,#3f3f3f,#666,#909090,#b5b5b5,#d2d2d2,#e6e6e6,#f2f2f2)"></i><i style="background:linear-gradient(90deg,#f2f2f2,#f9f9f9,#fcfcfc,#fefefe,#fff,#fff,#fff,#fff,#fff,#fff,#fff,#fff,#fefefe,#fdfdfd,#fafafa,#f3f3f3,#e7e7e7,#d2d2d2,#b4b4b4,#8d8d8d,#626262,#3a3a3a,#202020,#1a1a1a,#282828,#484848,#717171,#9a9a9a,#bdbdbd,#d8d8d8,#e9e9e9,#f4f4f4)"></i><i style="background:linear-gradient(90deg,#f4f4f4,#fafafa,#fdfdfd,#fefefe,#fff,#fff,#fff,#fff,#fff,#fff,#fff,#fff,#fefefe,#fcfcfc,#f9f9f9,#f1f1f1,#e3e3e3,#ccc,#ababab,#828282,#575757,#333,#1d1d1d,#1c1c1c,#2f2f2f,#515151,#7b7b7b,#a3a3a3,#c4c4c4,#ddd,#ededed,#f6f6f6)"></i><i style="background:linear-gradient(90deg,#f6f6f6,#fbfbfb,#fdfdfd,#fefefe,#fff,#fff,#fff,#fff,#fff,#fff,#fff,#fff,#fefefe,#fcfcfc,#f7f7f7,#eee,#dedede,#c5c5c5,#a2a2a2,#787878,#4d4d4d,#2c2c2c,#1a1a1a,#1e1e1e,#363636,#5b5b5b,#858585,#acacac,#cbcbcb,#e1e1e1,#efefef,#f7f7f7)"></i><i style="background:linear-gradient(90deg,#f7f7f7,#fcfcfc,#fefefe,#fefefe,#fff,#fff,#fff,#fff,#fff,#fff,#fff,#fefefe,#fdfdfd,#fbfbfb,#f5f5f5,#ebebeb,#d9d9d9,#bdbdbd,#989898,#6d6d6d,#444,#262626,#191919,#232323,#3e3e3e,#656565,#8f8f8f,#b5b5b5,#d2d2d2,#e6e6e6,#f2f2f2,#f9f9f9)"></i><i style="background:linear-gradient(90deg,#f9f9f9,#fcfcfc,#fefefe,#fff,#fff,#fff,#fff,#fff,#fff,#fff,#fff,#fefefe,#fdfdfd,#fafafa,#f3f3f3,#e7e7e7,#d3d3d3,#b5b5b5,#8e8e8e,#636363,#3b3b3b,#212121,#1a1a1a,#282828,#474747,#707070,#999,#bcbcbc,#d7d7d7,#e9e9e9,#f4f4f4,#fafafa)"></i><i style="background:linear-gradient(90deg,#fafafa,#fdfdfd,#fefefe,#fff,#fff,#fff,#fff,#fff,#fff,#fff,#fff,#fefefe,#fcfcfc,#f9f9f9,#f1f1f1,#e3e3e3,#ccc,#acacac,#838383,#585858,#333,#1d1d1d,#1b1b1b,#2e2e2e,#515151,#7a7a7a,#a2a2a2,#c4c4c4,#dcdcdc,#ececec,#f6f6f6,#fbfbfb)"></i><i style="background:linear-gradient(90deg,#fbfbfb,#fdfdfd,#fefefe,#fff,#fff,#fff,#fff,#fff,#fff,#fff,#fff,#fefefe,#fcfcfc,#f7f7f7,#eee,#dedede,#c5c5c5,#a3a3a3,#797979,#4e4e4e,#2c2c2c,#1b1b1b,#1e1e1e,#353535,#5a5a5a,#848484,#ababab,#cbcbcb,#e1e1e1,#efefef,#f7f7f7,#fcfcfc)"></i><i style="background:linear-gradient(90deg,#fcfcfc,#fefefe,#fefefe,#fff,#fff,#fff,#fff,#fff,#fff,#fff,#fefefe,#fdfdfd,#fbfbfb,#f6f6f6,#ebebeb,#d9d9d9,#bebebe,#999,#6e6e6e,#454545,#262626,#191919,#222,#3d3d3d,#646464,#8e8e8e,#b4b4b4,#d1d1d1,#e5e5e5,#f2f2f2,#f9f9f9,#fcfcfc)"></i><i style="background:linear-gradient(90deg,#fcfcfc,#fefefe,#fff,#fff,#fff,#fff,#fff,#fff,#fff,#fff,#fefefe,#fdfdfd,#fafafa,#f4f4f4,#e7e7e7,#d3d3d3,#b5b5b5,#8f8f8f,#646464,#3c3c3c,#212121,#1a1a1a,#272727,#464646,#6f6f6f,#989898,#bcbcbc,#d7d7d7,#e9e9e9,#f4f4f4,#fafafa,#fdfdfd)"></i><i style="background:linear-gradient(90deg,#fdfdfd,#fefefe,#fff,#fff,#fff,#fff,#fff,#fff,#fff,#fff,#fefefe,#fcfcfc,#f9f9f9,#f1f1f1,#e3e3e3,#cdcdcd,#adadad,#848484,#595959,#343434,#1d1d1d,#1b1b1b,#2d2d2d,#505050,#797979,#a2a2a2,#c3c3c3,#dcdcdc,#ececec,#f6f6f6,#fbfbfb,#fdfdfd)"></i><i style="background:linear-gradient(90deg,#fdfdfd,#fefefe,#fff,#fff,#fff,#fff,#fff,#fff,#fff,#fff,#fefefe,#fcfcfc,#f7f7f7,#eee,#dfdfdf,#c6c6c6,#a3a3a3,#7a7a7a,#4f4f4f,#2d2d2d,#1b1b1b,#1e1e1e,#353535,#595959,#838383,#ababab,#cacaca,#e1e1e1,#efefef,#f7f7f7,#fcfcfc,#fefefe)"></i><i style="background:linear-gradient(90deg,#fefefe,#fefefe,#fff,#fff,#fff,#fff,#fff,#fff,#fff,#fefefe,#fdfdfd,#fbfbfb,#f6f6f6,#ebebeb,#dadada,#bebebe,#9a9a9a,#6f6f6f,#464646,#272727,#191919,#212121,#3c3c3c,#636363,#8d8d8d,#b3b3b3,#d1d1d1,#e5e5e5,#f2f2f2,#f9f9f9,#fcfcfc,#fefefe)"></i><i style="background:linear-gradient(90deg,#fefefe,#fff,#fff,#fff,#fff,#fff,#fff,#fff,#fff,#fefefe,#fdfdfd,#fafafa,#f4f4f4,#e8e8e8,#d4d4d4,#b6b6b6,#909090,#656565,#3d3d3d,#222,#191919,#262626,#454545,#6e6e6e,#979797,#bbb,#d7d7d7,#e9e9e9,#f4f4f4,#fafafa,#fdfdfd,#fefefe)"></i><i style="background:linear-gradient(90deg,#fefefe,#fff,#fff,#fff,#fff,#fff,#fff,#fff,#fff,#fefefe,#fcfcfc,#f9f9f9,#f1f1f1,#e4e4e4,#cdcdcd,#aeaeae,#858585,#5a5a5a,#353535,#1e1e1e,#1b1b1b,#2c2c2c,#4e4e4e,#787878,#a1a1a1,#c3c3c3,#dcdcdc,#ececec,#f6f6f6,#fbfbfb,#fdfdfd,#fefefe)"></i><i style="background:linear-gradient(90deg,#fefefe,#fff,#fff,#fff,#fff,#fff,#fff,#fff,#fff,#fefefe,#fcfcfc,#f7f7f7,#efefef,#dfdfdf,#c7c7c7,#a4a4a4,#7b7b7b,#505050,#2d2d2d,#1b1b1b,#1d1d1d,#333,#585858,#828282,#aaa,#cacaca,#e1e1e1,#efefef,#f7f7f7,#fcfcfc,#fefefe,#fefefe)"></i><i style="background:linear-gradient(90deg,#fefefe,#fff,#fff,#fff,#fff,#fff,#fff,#fff,#fefefe,#fdfdfd,#fbfbfb,#f6f6f6,#ececec,#dadada,#bfbfbf,#9b9b9b,#707070,#474747,#272727,#191919,#212121,#3b3b3b,#626262,#8c8c8c,#b2b2b2,#d0d0d0,#e5e5e5,#f2f2f2,#f9f9f9,#fcfcfc,#fefefe,#fff)"></i><i style="background:linear-gradient(90deg,#fff,#fff,#fff,#fff,#fff,#fff,#fff,#fff,#fefefe,#fdfdfd,#fafafa,#f4f4f4,#e8e8e8,#d5d5d5,#b7b7b7,#919191,#666,#3e3e3e,#222,#191919,#252525,#444,#6c6c6c,#969696,#bbb,#d6d6d6,#e9e9e9,#f4f4f4,#fafafa,#fdfdfd,#fefefe,#fff)"></i><i style="background:linear-gradient(90deg,#fff,#fff,#fff,#fff,#fff,#fff,#fff,#fff,#fefefe,#fdfdfd,#f9f9f9,#f2f2f2,#e5e5e5,#cfcfcf,#afafaf,#878787,#5c5c5c,#353535,#1d1d1d,#191919,#2b2b2b,#4d4d4d,#767676,#a0a0a0,#c2c2c2,#dcdcdc,#ececec,#f6f6f6,#fbfbfb,#fdfdfd,#fefefe,#fff)"></i><i style="background:linear-gradient(90deg,#fff,#fff,#fff,#fff,#fff,#fff,#fff,#fff,#fefefe,#fcfcfc,#f8f8f8,#f0f0f0,#e1e1e1,#c8c8c8,#a6a6a6,#7d7d7d,#525252,#2e2e2e,#1a1a1a,#1b1b1b,#313131,#565656,#808080,#a9a9a9,#c9c9c9,#e0e0e0,#efefef,#f7f7f7,#fcfcfc,#fefefe,#fefefe,#fff)"></i><i style="background:linear-gradient(90deg,#fff,#fff,#fff,#fff,#fff,#fff,#fff,#fff,#fefefe,#fbfbfb,#f7f7f7,#ededed,#dcdcdc,#c2c2c2,#9d9d9d,#737373,#484848,#272727,#181818,#1e1e1e,#393939,#606060,#8a8a8a,#b1b1b1,#d0d0d0,#e5e5e5,#f2f2f2,#f9f9f9,#fcfcfc,#fefefe,#fff,#fff)"></i><i style="background:linear-gradient(90deg,#fff,#fff,#fff,#fff,#fff,#fff,#fff,#fefefe,#fdfdfd,#fbfbfb,#f5f5f5,#eaeaea,#d7d7d7,#bababa,#949494,#696969,#3f3f3f,#212121,#171717,#222,#404040,#696969,#949494,#b9b9b9,#d5d5d5,#e8e8e8,#f4f4f4,#fafafa,#fdfdfd,#fefefe,#fff,#fff)"></i><i style="background:linear-gradient(90deg,#fff,#fff,#fff,#fff,#fff,#fff,#fff,#fefefe,#fdfdfd,#fafafa,#f3f3f3,#e7e7e7,#d2d2d2,#b3b3b3,#8b8b8b,#5f5f5f,#373737,#1d1d1d,#171717,#272727,#484848,#737373,#9d9d9d,#c1c1c1,#dbdbdb,#ececec,#f6f6f6,#fbfbfb,#fdfdfd,#fefefe,#fff,#fff)"></i><i style="background:linear-gradient(90deg,#fff,#fff,#fff,#fff,#fff,#fff,#fff,#fefefe,#fdfdfd,#f9f9f9,#f2f2f2,#e4e4e4,#cdcdcd,#acacac,#828282,#555,#2f2f2f,#191919,#181818,#2c2c2c,#515151,#7c7c7c,#a6a6a6,#c7c7c7,#dfdfdf,#efefef,#f7f7f7,#fcfcfc,#fefefe,#fefefe,#fff,#fff)"></i><i style="background:linear-gradient(90deg,#fff,#fff,#fff,#fff,#fff,#fff,#fff,#fefefe,#fcfcfc,#f8f8f8,#f0f0f0,#e0e0e0,#c7c7c7,#a4a4a4,#797979,#4d4d4d,#282828,#161616,#191919,#323232,#595959,#858585,#adadad,#cdcdcd,#e3e3e3,#f1f1f1,#f8f8f8,#fcfcfc,#fefefe,#fff,#fff,#fff)"></i><i style="background:linear-gradient(90deg,#fff,#fff,#fff,#fff,#fff,#fff,#fff,#fefefe,#fcfcfc,#f7f7f7,#eee,#ddd,#c2c2c2,#9d9d9d,#717171,#444,#232323,#131313,#1b1b1b,#383838,#616161,#8d8d8d,#b5b5b5,#d3d3d3,#e7e7e7,#f3f3f3,#fafafa,#fdfdfd,#fefefe,#fff,#fff,#fff)"></i><i style="background:linear-gradient(90deg,#fff,#fff,#fff,#fff,#fff,#fff,#fff,#fefefe,#fbfbfb,#f6f6f6,#ececec,#d9d9d9,#bdbdbd,#969696,#696969,#3d3d3d,#1d1d1d,#121212,#1e1e1e,#3e3e3e,#696969,#959595,#bbb,#d7d7d7,#eaeaea,#f5f5f5,#fafafa,#fdfdfd,#fefefe,#fff,#fff,#fff)"></i><i style="background:linear-gradient(90deg,#fff,#fff,#fff,#fff,#fff,#fff,#fefefe,#fdfdfd,#fbfbfb,#f5f5f5,#eaeaea,#d6d6d6,#b8b8b8,#909090,#626262,#373737,#191919,#111,#212121,#434343,#6f6f6f,#9c9c9c,#c0c0c0,#dbdbdb,#ececec,#f6f6f6,#fbfbfb,#fdfdfd,#fefefe,#fff,#fff,#fff)"></i><i style="background:linear-gradient(90deg,#fff,#fff,#fff,#fff,#fff,#fff,#fefefe,#fdfdfd,#fafafa,#f4f4f4,#e8e8e8,#d3d3d3,#b4b4b4,#8a8a8a,#5c5c5c,#323232,#161616,#111,#232323,#484848,#757575,#a1a1a1,#c5c5c5,#dedede,#eee,#f7f7f7,#fcfcfc,#fefefe,#fff,#fff,#fff,#fff)"></i><i style="background:linear-gradient(90deg,#fff,#fff,#fff,#fff,#fff,#fff,#fefefe,#fdfdfd,#fafafa,#f3f3f3,#e7e7e7,#d1d1d1,#b0b0b0,#868686,#575757,#2e2e2e,#141414,#111,#262626,#4c4c4c,#7a7a7a,#a5a5a5,#c8c8c8,#e1e1e1,#f0f0f0,#f8f8f8,#fcfcfc,#fefefe,#fff,#fff,#fff,#fff)"></i><i style="background:linear-gradient(90deg,#fff,#fff,#fff,#fff,#fff,#fff,#fefefe,#fdfdfd,#fafafa,#f3f3f3,#e6e6e6,#cfcfcf,#aeaeae,#838383,#545454,#2b2b2b,#121212,#111,#272727,#4f4f4f,#7d7d7d,#a8a8a8,#cacaca,#e2e2e2,#f1f1f1,#f9f9f9,#fcfcfc,#fefefe,#fff,#fff,#fff,#fff)"></i><i style="background:linear-gradient(90deg,#fff,#fff,#fff,#fff,#fff,#fff,#fefefe,#fdfdfd,#fafafa,#f3f3f3,#e6e6e6,#cfcfcf,#aeaeae,#838383,#545454,#2b2b2b,#121212,#111,#272727,#4f4f4f,#7d7d7d,#a8a8a8,#cbcbcb,#e2e2e2,#f1f1f1,#f9f9f9,#fcfcfc,#fefefe,#fff,#fff,#fff,#fff)"></i></div>
<div class="hm" style="left:203px;top:90px;width:126px;height:126px"><i style="background:linear-gradient(90deg,#fdfdfd,#fcfcfc,#f8f8f8,#f2f2f2,#e8e8e8,#d9d9d9,#c2c2c2,#a5a5a5,#828282,#5f5f5f,#3f3f3f,#282828,#1e1e1e,#222,#333,#4d4d4d,#6d6d6d,#8d8d8d,#ababab,#c4c4c4,#d8d8d8,#e6e6e6,#f0f0f0,#f6f6f6,#fafafa,#fcfcfc,#fefefe,#fefefe,#fff,#fefefe,#fefefe,#fdfdfd)"></i><i style="background:linear-gradient(90deg,#fdfdfd,#fcfcfc,#f8f8f8,#f2f2f2,#e8e8e8,#d9d9d9,#c2c2c2,#a5a5a5,#828282,#5f5f5f,#3f3f3f,#282828,#1e1e1e,#222,#333,#4d4d4d,#6d6d6d,#8d8d8d,#ababab,#c4c4c4,#d8d8d8,#e6e6e6,#f0f0f0,#f6f6f6,#fafafa,#fcfcfc,#fefefe,#fefefe,#fff,#fefefe,#fefefe,#fdfdfd)"></i><i style="background:linear-gradient(90deg,#fdfdfd,#fbfbfb,#f8f8f8,#f1f1f1,#e7e7e7,#d6d6d6,#bfbfbf,#a2a2a2,#7f7f7f,#5d5d5d,#3e3e3e,#282828,#1f1f1f,#242424,#353535,#505050,#6f6f6f,#8f8f8f,#adadad,#c6c6c6,#d9d9d9,#e7e7e7,#f0f0f0,#f7f7f7,#fafafa,#fdfdfd,#fefefe,#fefefe,#fff,#fefefe,#fefefe,#fdfdfd)"></i><i style="background:linear-gradient(90deg,#fdfdfd,#fafafa,#f6f6f6,#efefef,#e3e3e3,#d2d2d2,#bbb,#9d9d9d,#7b7b7b,#595959,#3c3c3c,#282828,#202020,#272727,#393939,#545454,#747474,#949494,#b0b0b0,#c8c8c8,#dbdbdb,#e8e8e8,#f1f1f1,#f7f7f7,#fbfbfb,#fdfdfd,#fefefe,#fefefe,#fefefe,#fefefe,#fefefe,#fcfcfc)"></i><i style="background:linear-gradient(90deg,#fcfcfc,#f9f9f9,#f4f4f4,#ececec,#dfdfdf,#cdcdcd,#b4b4b4,#969696,#757575,#545454,#393939,#282828,#232323,#2b2b2b,#3f3f3f,#5a5a5a,#7a7a7a,#999,#b4b4b4,#cbcbcb,#ddd,#eaeaea,#f2f2f2,#f8f8f8,#fbfbfb,#fdfdfd,#fefefe,#fefefe,#fefefe,#fefefe,#fdfdfd,#fbfbfb)"></i><i style="background:linear-gradient(90deg,#fbfbfb,#f7f7f7,#f1f1f1,#e8e8e8,#dadada,#c6c6c6,#adadad,#8f8f8f,#6e6e6e,#505050,#373737,#282828,#262626,#313131,#464646,#626262,#808080,#9f9f9f,#b9b9b9,#cfcfcf,#dfdfdf,#ebebeb,#f3f3f3,#f8f8f8,#fbfbfb,#fdfdfd,#fefefe,#fefefe,#fefefe,#fefefe,#fcfcfc,#fafafa)"></i><i style="background:linear-gradient(90deg,#f9f9f9,#f5f5f5,#eee,#e3e3e3,#d4d4d4,#bfbfbf,#a5a5a5,#868686,#676767,#4b4b4b,#353535,#2a2a2a,#2a2a2a,#373737,#4e4e4e,#6a6a6a,#888,#a5a5a5,#bebebe,#d3d3d3,#e2e2e2,#ededed,#f4f4f4,#f9f9f9,#fcfcfc,#fdfdfd,#fefefe,#fefefe,#fefefe,#fdfdfd,#fbfbfb,#f8f8f8)"></i><i style="background:linear-gradient(90deg,#f8f8f8,#f2f2f2,#eaeaea,#ddd,#ccc,#b6b6b6,#9b9b9b,#7d7d7d,#606060,#464646,#333,#2c2c2c,#303030,#3f3f3f,#565656,#737373,#909090,#acacac,#c4c4c4,#d7d7d7,#e5e5e5,#efefef,#f6f6f6,#fafafa,#fcfcfc,#fdfdfd,#fefefe,#fefefe,#fefefe,#fcfcfc,#fafafa,#f6f6f6)"></i><i style="background:linear-gradient(90deg,#f5f5f5,#eee,#e5e5e5,#d6d6d6,#c4c4c4,#acacac,#919191,#747474,#585858,#414141,#333,#2f2f2f,#363636,#484848,#606060,#7c7c7c,#999,#b3b3b3,#cacaca,#dbdbdb,#e8e8e8,#f1f1f1,#f7f7f7,#fafafa,#fcfcfc,#fefefe,#fefefe,#fefefe,#fdfdfd,#fbfbfb,#f9f9f9,#f4f4f4)"></i><i style="background:linear-gradient(90deg,#f2f2f2,#eaeaea,#dfdfdf,#cfcfcf,#bababa,#a2a2a2,#878787,#6b6b6b,#515151,#3e3e3e,#333,#333,#3e3e3e,#515151,#6a6a6a,#868686,#a2a2a2,#bbb,#cfcfcf,#dfdfdf,#ebebeb,#f3f3f3,#f8f8f8,#fbfbfb,#fdfdfd,#fefefe,#fefefe,#fdfdfd,#fcfcfc,#fafafa,#f7f7f7,#f1f1f1)"></i><i style="background:linear-gradient(90deg,#efefef,#e5e5e5,#d8d8d8,#c6c6c6,#b0b0b0,#979797,#7c7c7c,#626262,#4b4b4b,#3c3c3c,#353535,#393939,#464646,#5b5b5b,#757575,#919191,#ababab,#c2c2c2,#d5d5d5,#e3e3e3,#ededed,#f4f4f4,#f9f9f9,#fcfcfc,#fdfdfd,#fefefe,#fefefe,#fdfdfd,#fbfbfb,#f9f9f9,#f4f4f4,#ededed)"></i><i style="background:linear-gradient(90deg,#eaeaea,#dfdfdf,#d0d0d0,#bcbcbc,#a5a5a5,#8c8c8c,#727272,#5a5a5a,#464646,#3b3b3b,#383838,#404040,#505050,#666,#808080,#9b9b9b,#b4b4b4,#c9c9c9,#dadada,#e7e7e7,#f0f0f0,#f6f6f6,#fafafa,#fcfcfc,#fdfdfd,#fefefe,#fdfdfd,#fcfcfc,#fafafa,#f7f7f7,#f1f1f1,#e8e8e8)"></i><i style="background:linear-gradient(90deg,#e5e5e5,#d8d8d8,#c7c7c7,#b2b2b2,#9a9a9a,#818181,#686868,#525252,#434343,#3b3b3b,#3d3d3d,#474747,#5a5a5a,#717171,#8b8b8b,#a5a5a5,#bcbcbc,#cfcfcf,#dfdfdf,#eaeaea,#f2f2f2,#f7f7f7,#fbfbfb,#fcfcfc,#fdfdfd,#fefefe,#fdfdfd,#fbfbfb,#f9f9f9,#f4f4f4,#ededed,#e2e2e2)"></i><i style="background:linear-gradient(90deg,#dfdfdf,#d0d0d0,#bdbdbd,#a7a7a7,#8f8f8f,#767676,#5f5f5f,#4c4c4c,#404040,#3d3d3d,#424242,#505050,#646464,#7d7d7d,#969696,#aeaeae,#c4c4c4,#d6d6d6,#e3e3e3,#ededed,#f4f4f4,#f9f9f9,#fbfbfb,#fdfdfd,#fdfdfd,#fdfdfd,#fcfcfc,#fafafa,#f7f7f7,#f1f1f1,#e8e8e8,#dcdcdc)"></i><i style="background:linear-gradient(90deg,#d8d8d8,#c7c7c7,#b3b3b3,#9c9c9c,#838383,#6b6b6b,#565656,#474747,#3f3f3f,#404040,#494949,#5a5a5a,#707070,#888,#a1a1a1,#b8b8b8,#cbcbcb,#dbdbdb,#e7e7e7,#f0f0f0,#f6f6f6,#fafafa,#fcfcfc,#fdfdfd,#fdfdfd,#fdfdfd,#fbfbfb,#f9f9f9,#f4f4f4,#ededed,#e3e3e3,#d5d5d5)"></i><i style="background:linear-gradient(90deg,#d1d1d1,#bebebe,#a8a8a8,#909090,#787878,#616161,#505050,#444,#404040,#454545,#525252,#646464,#7b7b7b,#939393,#ababab,#c0c0c0,#d2d2d2,#e1e1e1,#ebebeb,#f3f3f3,#f7f7f7,#fbfbfb,#fcfcfc,#fdfdfd,#fdfdfd,#fcfcfc,#fafafa,#f7f7f7,#f1f1f1,#e8e8e8,#dcdcdc,#ccc)"></i><i style="background:linear-gradient(90deg,#c8c8c8,#b4b4b4,#9d9d9d,#848484,#6d6d6d,#595959,#4a4a4a,#434343,#434343,#4b4b4b,#5b5b5b,#6f6f6f,#878787,#9e9e9e,#b5b5b5,#c9c9c9,#d9d9d9,#e5e5e5,#eee,#f5f5f5,#f9f9f9,#fbfbfb,#fdfdfd,#fdfdfd,#fdfdfd,#fbfbfb,#f9f9f9,#f4f4f4,#ededed,#e3e3e3,#d5d5d5,#c3c3c3)"></i><i style="background:linear-gradient(90deg,#bebebe,#a9a9a9,#919191,#797979,#636363,#525252,#464646,#434343,#474747,#535353,#656565,#7a7a7a,#929292,#a9a9a9,#bebebe,#d0d0d0,#dedede,#e9e9e9,#f1f1f1,#f7f7f7,#fafafa,#fcfcfc,#fdfdfd,#fdfdfd,#fcfcfc,#fafafa,#f7f7f7,#f1f1f1,#e8e8e8,#dcdcdc,#cdcdcd,#b9b9b9)"></i><i style="background:linear-gradient(90deg,#b4b4b4,#9d9d9d,#858585,#6e6e6e,#5a5a5a,#4c4c4c,#444,#454545,#4d4d4d,#5c5c5c,#6f6f6f,#868686,#9d9d9d,#b3b3b3,#c7c7c7,#d7d7d7,#e4e4e4,#ededed,#f4f4f4,#f8f8f8,#fbfbfb,#fcfcfc,#fdfdfd,#fdfdfd,#fbfbfb,#f9f9f9,#f4f4f4,#ededed,#e3e3e3,#d5d5d5,#c4c4c4,#afafaf)"></i><i style="background:linear-gradient(90deg,#a9a9a9,#919191,#7a7a7a,#646464,#535353,#484848,#444,#494949,#545454,#656565,#7a7a7a,#919191,#a8a8a8,#bdbdbd,#cecece,#ddd,#e8e8e8,#f0f0f0,#f6f6f6,#f9f9f9,#fcfcfc,#fdfdfd,#fdfdfd,#fcfcfc,#fafafa,#f7f7f7,#f1f1f1,#e9e9e9,#ddd,#cdcdcd,#bababa,#a3a3a3)"></i><i style="background:linear-gradient(90deg,#9e9e9e,#868686,#6f6f6f,#5b5b5b,#4d4d4d,#464646,#464646,#4e4e4e,#5c5c5c,#707070,#868686,#9c9c9c,#b2b2b2,#c5c5c5,#d6d6d6,#e2e2e2,#ececec,#f3f3f3,#f7f7f7,#fafafa,#fcfcfc,#fdfdfd,#fdfdfd,#fbfbfb,#f9f9f9,#f4f4f4,#ededed,#e3e3e3,#d5d5d5,#c4c4c4,#afafaf,#989898)"></i><i style="background:linear-gradient(90deg,#929292,#7a7a7a,#656565,#545454,#494949,#454545,#494949,#555,#666,#7a7a7a,#919191,#a7a7a7,#bcbcbc,#cdcdcd,#dcdcdc,#e7e7e7,#efefef,#f5f5f5,#f9f9f9,#fbfbfb,#fcfcfc,#fdfdfd,#fcfcfc,#fafafa,#f7f7f7,#f1f1f1,#e9e9e9,#ddd,#cdcdcd,#bababa,#a4a4a4,#8c8c8c)"></i><i style="background:linear-gradient(90deg,#868686,#6f6f6f,#5c5c5c,#4d4d4d,#464646,#464646,#4e4e4e,#5d5d5d,#707070,#868686,#9c9c9c,#b1b1b1,#c5c5c5,#d5d5d5,#e2e2e2,#ebebeb,#f2f2f2,#f7f7f7,#fafafa,#fcfcfc,#fdfdfd,#fcfcfc,#fbfbfb,#f9f9f9,#f4f4f4,#ededed,#e3e3e3,#d6d6d6,#c4c4c4,#afafaf,#989898,#808080)"></i><i style="background:linear-gradient(90deg,#7b7b7b,#656565,#545454,#494949,#464646,#4a4a4a,#555,#666,#7a7a7a,#919191,#a7a7a7,#bbb,#cdcdcd,#dbdbdb,#e6e6e6,#efefef,#f5f5f5,#f9f9f9,#fbfbfb,#fcfcfc,#fdfdfd,#fcfcfc,#fafafa,#f7f7f7,#f1f1f1,#e9e9e9,#ddd,#cecece,#bababa,#a4a4a4,#8d8d8d,#757575)"></i><i style="background:linear-gradient(90deg,#707070,#5c5c5c,#4e4e4e,#464646,#474747,#4f4f4f,#5d5d5d,#707070,#858585,#9c9c9c,#b1b1b1,#c4c4c4,#d4d4d4,#e1e1e1,#ebebeb,#f2f2f2,#f7f7f7,#fafafa,#fcfcfc,#fdfdfd,#fcfcfc,#fbfbfb,#f9f9f9,#f4f4f4,#ededed,#e3e3e3,#d6d6d6,#c5c5c5,#b0b0b0,#999,#818181,#6b6b6b)"></i><i style="background:linear-gradient(90deg,#666,#545454,#494949,#464646,#4a4a4a,#555,#666,#7a7a7a,#919191,#a7a7a7,#bbb,#ccc,#dbdbdb,#e6e6e6,#eee,#f4f4f4,#f8f8f8,#fbfbfb,#fcfcfc,#fdfdfd,#fcfcfc,#fafafa,#f7f7f7,#f1f1f1,#e9e9e9,#ddd,#cecece,#bbb,#a5a5a5,#8d8d8d,#767676,#616161)"></i><i style="background:linear-gradient(90deg,#5d5d5d,#4e4e4e,#474747,#474747,#4f4f4f,#5d5d5d,#707070,#858585,#9c9c9c,#b1b1b1,#c4c4c4,#d4d4d4,#e1e1e1,#eaeaea,#f1f1f1,#f6f6f6,#fafafa,#fcfcfc,#fcfcfc,#fcfcfc,#fbfbfb,#f9f9f9,#f4f4f4,#eee,#e4e4e4,#d6d6d6,#c5c5c5,#b0b0b0,#999,#818181,#6b6b6b,#585858)"></i><i style="background:linear-gradient(90deg,#555,#4a4a4a,#464646,#4a4a4a,#555,#666,#7a7a7a,#909090,#a6a6a6,#bababa,#ccc,#dadada,#e6e6e6,#eee,#f4f4f4,#f8f8f8,#fbfbfb,#fcfcfc,#fcfcfc,#fcfcfc,#fafafa,#f7f7f7,#f1f1f1,#e9e9e9,#ddd,#cecece,#bbb,#a5a5a5,#8e8e8e,#767676,#616161,#515151)"></i><i style="background:linear-gradient(90deg,#4e4e4e,#474747,#474747,#4e4e4e,#5d5d5d,#6f6f6f,#858585,#9b9b9b,#b0b0b0,#c3c3c3,#d3d3d3,#e0e0e0,#eaeaea,#f1f1f1,#f6f6f6,#fafafa,#fbfbfb,#fcfcfc,#fcfcfc,#fbfbfb,#f9f9f9,#f4f4f4,#eee,#e4e4e4,#d6d6d6,#c5c5c5,#b1b1b1,#9a9a9a,#828282,#6c6c6c,#595959,#4c4c4c)"></i><i style="background:linear-gradient(90deg,#4a4a4a,#464646,#4a4a4a,#555,#656565,#7a7a7a,#909090,#a6a6a6,#bababa,#ccc,#dadada,#e5e5e5,#eee,#f4f4f4,#f8f8f8,#fbfbfb,#fcfcfc,#fcfcfc,#fcfcfc,#fafafa,#f7f7f7,#f1f1f1,#e9e9e9,#dedede,#cecece,#bbb,#a6a6a6,#8e8e8e,#777,#626262,#525252,#484848)"></i><i style="background:linear-gradient(90deg,#474747,#474747,#4e4e4e,#5c5c5c,#6f6f6f,#858585,#9b9b9b,#b0b0b0,#c3c3c3,#d3d3d3,#e0e0e0,#eaeaea,#f1f1f1,#f6f6f6,#f9f9f9,#fbfbfb,#fcfcfc,#fcfcfc,#fbfbfb,#f9f9f9,#f4f4f4,#eee,#e4e4e4,#d7d7d7,#c6c6c6,#b1b1b1,#9a9a9a,#828282,#6c6c6c,#595959,#4c4c4c,#464646)"></i><i style="background:linear-gradient(90deg,#464646,#4a4a4a,#545454,#656565,#797979,#909090,#a6a6a6,#bababa,#cbcbcb,#dadada,#e5e5e5,#eee,#f4f4f4,#f8f8f8,#fbfbfb,#fcfcfc,#fcfcfc,#fcfcfc,#fafafa,#f7f7f7,#f1f1f1,#e9e9e9,#dedede,#cfcfcf,#bcbcbc,#a6a6a6,#8e8e8e,#777,#626262,#525252,#484848,#464646)"></i><i style="background:linear-gradient(90deg,#474747,#4e4e4e,#5c5c5c,#6f6f6f,#848484,#9b9b9b,#b0b0b0,#c3c3c3,#d3d3d3,#e0e0e0,#eaeaea,#f1f1f1,#f6f6f6,#f9f9f9,#fbfbfb,#fcfcfc,#fcfcfc,#fbfbfb,#f9f9f9,#f4f4f4,#eee,#e4e4e4,#d7d7d7,#c6c6c6,#b1b1b1,#9b9b9b,#838383,#6c6c6c,#595959,#4c4c4c,#464646,#484848)"></i><i style="background:linear-gradient(90deg,#494949,#545454,#656565,#797979,#8f8f8f,#a5a5a5,#bababa,#cbcbcb,#dadada,#e5e5e5,#eee,#f4f4f4,#f8f8f8,#fafafa,#fcfcfc,#fcfcfc,#fcfcfc,#fafafa,#f7f7f7,#f2f2f2,#e9e9e9,#dedede,#cfcfcf,#bcbcbc,#a6a6a6,#8f8f8f,#787878,#636363,#525252,#484848,#464646,#4b4b4b)"></i><i style="background:linear-gradient(90deg,#4e4e4e,#5c5c5c,#6e6e6e,#848484,#9a9a9a,#afafaf,#c3c3c3,#d3d3d3,#e0e0e0,#eaeaea,#f1f1f1,#f6f6f6,#f9f9f9,#fbfbfb,#fcfcfc,#fcfcfc,#fbfbfb,#f9f9f9,#f5f5f5,#eee,#e4e4e4,#d7d7d7,#c6c6c6,#b2b2b2,#9b9b9b,#838383,#6d6d6d,#5a5a5a,#4c4c4c,#464646,#484848,#515151)"></i><i style="background:linear-gradient(90deg,#545454,#646464,#797979,#8f8f8f,#a5a5a5,#b9b9b9,#cbcbcb,#dadada,#e5e5e5,#eee,#f4f4f4,#f8f8f8,#fafafa,#fcfcfc,#fcfcfc,#fcfcfc,#fafafa,#f7f7f7,#f2f2f2,#eaeaea,#dedede,#cfcfcf,#bdbdbd,#a7a7a7,#8f8f8f,#787878,#636363,#525252,#484848,#464646,#4b4b4b,#575757)"></i><i style="background:linear-gradient(90deg,#5b5b5b,#6e6e6e,#838383,#9a9a9a,#afafaf,#c2c2c2,#d3d3d3,#e0e0e0,#eaeaea,#f1f1f1,#f6f6f6,#f9f9f9,#fbfbfb,#fcfcfc,#fcfcfc,#fbfbfb,#f9f9f9,#f5f5f5,#eee,#e4e4e4,#d7d7d7,#c6c6c6,#b2b2b2,#9b9b9b,#848484,#6d6d6d,#5a5a5a,#4d4d4d,#464646,#484848,#505050,#606060)"></i><i style="background:linear-gradient(90deg,#646464,#787878,#8e8e8e,#a4a4a4,#b9b9b9,#cbcbcb,#d9d9d9,#e5e5e5,#ededed,#f4f4f4,#f8f8f8,#fafafa,#fcfcfc,#fcfcfc,#fcfcfc,#fafafa,#f7f7f7,#f2f2f2,#eaeaea,#dedede,#d0d0d0,#bdbdbd,#a7a7a7,#909090,#787878,#636363,#535353,#494949,#464646,#4b4b4b,#575757,#696969)"></i><i style="background:linear-gradient(90deg,#6e6e6e,#838383,#999,#afafaf,#c2c2c2,#d2d2d2,#dfdfdf,#e9e9e9,#f1f1f1,#f6f6f6,#f9f9f9,#fbfbfb,#fcfcfc,#fcfcfc,#fbfbfb,#f9f9f9,#f5f5f5,#eee,#e5e5e5,#d8d8d8,#c7c7c7,#b3b3b3,#9c9c9c,#848484,#6e6e6e,#5b5b5b,#4d4d4d,#464646,#484848,#505050,#5f5f5f,#737373)"></i><i style="background:linear-gradient(90deg,#787878,#8e8e8e,#a4a4a4,#b9b9b9,#cacaca,#d9d9d9,#e5e5e5,#ededed,#f4f4f4,#f8f8f8,#fafafa,#fcfcfc,#fcfcfc,#fcfcfc,#fafafa,#f7f7f7,#f2f2f2,#eaeaea,#dfdfdf,#d0d0d0,#bdbdbd,#a8a8a8,#909090,#797979,#646464,#535353,#494949,#464646,#4b4b4b,#575757,#686868,#7d7d7d)"></i><i style="background:linear-gradient(90deg,#838383,#999,#aeaeae,#c2c2c2,#d2d2d2,#dfdfdf,#e9e9e9,#f1f1f1,#f6f6f6,#f9f9f9,#fbfbfb,#fcfcfc,#fcfcfc,#fbfbfb,#f9f9f9,#f5f5f5,#eee,#e5e5e5,#d8d8d8,#c7c7c7,#b3b3b3,#9c9c9c,#858585,#6e6e6e,#5b5b5b,#4d4d4d,#464646,#474747,#505050,#5f5f5f,#727272,#888)"></i><i style="background:linear-gradient(90deg,#8e8e8e,#a4a4a4,#b8b8b8,#cacaca,#d9d9d9,#e5e5e5,#ededed,#f3f3f3,#f8f8f8,#fafafa,#fcfcfc,#fcfcfc,#fcfcfc,#fafafa,#f7f7f7,#f2f2f2,#eaeaea,#dfdfdf,#d0d0d0,#bebebe,#a8a8a8,#919191,#797979,#646464,#535353,#494949,#464646,#4b4b4b,#575757,#686868,#7d7d7d,#939393)"></i><i style="background:linear-gradient(90deg,#999,#aeaeae,#c1c1c1,#d2d2d2,#dfdfdf,#e9e9e9,#f1f1f1,#f6f6f6,#f9f9f9,#fbfbfb,#fcfcfc,#fcfcfc,#fbfbfb,#f9f9f9,#f5f5f5,#eee,#e5e5e5,#d8d8d8,#c7c7c7,#b3b3b3,#9d9d9d,#858585,#6e6e6e,#5b5b5b,#4d4d4d,#464646,#474747,#505050,#5e5e5e,#727272,#888,#9e9e9e)"></i><i style="background:linear-gradient(90deg,#a3a3a3,#b8b8b8,#cacaca,#d9d9d9,#e4e4e4,#ededed,#f3f3f3,#f8f8f8,#fafafa,#fcfcfc,#fcfcfc,#fcfcfc,#fafafa,#f7f7f7,#f2f2f2,#eaeaea,#dfdfdf,#d0d0d0,#bebebe,#a9a9a9,#919191,#7a7a7a,#646464,#545454,#494949,#464646,#4b4b4b,#565656,#686868,#7c7c7c,#939393,#a9a9a9)"></i><i style="background:linear-gradient(90deg,#aeaeae,#c1c1c1,#d2d2d2,#dfdfdf,#e9e9e9,#f1f1f1,#f6f6f6,#f9f9f9,#fbfbfb,#fcfcfc,#fcfcfc,#fbfbfb,#f9f9f9,#f5f5f5,#eee,#e5e5e5,#d8d8d8,#c8c8c8,#b4b4b4,#9d9d9d,#868686,#6f6f6f,#5c5c5c,#4e4e4e,#474747,#474747,#4f4f4f,#5e5e5e,#717171,#878787,#9e9e9e,#b3b3b3)"></i><i style="background:linear-gradient(90deg,#b8b8b8,#cacaca,#d9d9d9,#e4e4e4,#ededed,#f3f3f3,#f8f8f8,#fafafa,#fcfcfc,#fcfcfc,#fcfcfc,#fafafa,#f7f7f7,#f2f2f2,#eaeaea,#dfdfdf,#d1d1d1,#bebebe,#a9a9a9,#929292,#7a7a7a,#656565,#545454,#494949,#464646,#4a4a4a,#565656,#676767,#7c7c7c,#929292,#a8a8a8,#bcbcbc)"></i><i style="background:linear-gradient(90deg,#c1c1c1,#d1d1d1,#dfdfdf,#e9e9e9,#f0f0f0,#f6f6f6,#f9f9f9,#fbfbfb,#fcfcfc,#fcfcfc,#fbfbfb,#f9f9f9,#f5f5f5,#efefef,#e5e5e5,#d8d8d8,#c8c8c8,#b4b4b4,#9e9e9e,#868686,#6f6f6f,#5c5c5c,#4e4e4e,#474747,#474747,#4f4f4f,#5e5e5e,#717171,#878787,#9d9d9d,#b2b2b2,#c5c5c5)"></i><i style="background:linear-gradient(90deg,#c9c9c9,#d8d8d8,#e4e4e4,#ededed,#f3f3f3,#f8f8f8,#fafafa,#fcfcfc,#fcfcfc,#fcfcfc,#fafafa,#f7f7f7,#f2f2f2,#eaeaea,#dfdfdf,#d1d1d1,#bfbfbf,#a9a9a9,#929292,#7b7b7b,#656565,#545454,#494949,#464646,#4a4a4a,#565656,#676767,#7b7b7b,#929292,#a8a8a8,#bcbcbc,#cdcdcd)"></i><i style="background:linear-gradient(90deg,#d1d1d1,#dfdfdf,#e9e9e9,#f0f0f0,#f6f6f6,#f9f9f9,#fbfbfb,#fcfcfc,#fcfcfc,#fbfbfb,#f9f9f9,#f5f5f5,#efefef,#e5e5e5,#d9d9d9,#c8c8c8,#b5b5b5,#9e9e9e,#868686,#707070,#5c5c5c,#4e4e4e,#474747,#474747,#4f4f4f,#5d5d5d,#717171,#868686,#9d9d9d,#b2b2b2,#c5c5c5,#d5d5d5)"></i><i style="background:linear-gradient(90deg,#d8d8d8,#e4e4e4,#ededed,#f3f3f3,#f8f8f8,#fafafa,#fcfcfc,#fcfcfc,#fcfcfc,#fafafa,#f7f7f7,#f2f2f2,#eaeaea,#e0e0e0,#d1d1d1,#bfbfbf,#aaa,#939393,#7b7b7b,#666,#545454,#494949,#464646,#4a4a4a,#555,#666,#7b7b7b,#919191,#a7a7a7,#bcbcbc,#cdcdcd,#dbdbdb)"></i><i style="background:linear-gradient(90deg,#dedede,#e9e9e9,#f0f0f0,#f6f6f6,#f9f9f9,#fbfbfb,#fcfcfc,#fcfcfc,#fbfbfb,#f9f9f9,#f5f5f5,#efefef,#e6e6e6,#d9d9d9,#c9c9c9,#b5b5b5,#9f9f9f,#878787,#707070,#5d5d5d,#4e4e4e,#474747,#474747,#4f4f4f,#5d5d5d,#707070,#868686,#9c9c9c,#b2b2b2,#c5c5c5,#d4d4d4,#e1e1e1)"></i><i style="background:linear-gradient(90deg,#e4e4e4,#ededed,#f3f3f3,#f7f7f7,#fafafa,#fcfcfc,#fcfcfc,#fcfcfc,#fafafa,#f7f7f7,#f2f2f2,#ebebeb,#e0e0e0,#d1d1d1,#bfbfbf,#aaa,#939393,#7c7c7c,#666,#555,#4a4a4a,#464646,#4a4a4a,#555,#666,#7b7b7b,#919191,#a7a7a7,#bbb,#cdcdcd,#dbdbdb,#e6e6e6)"></i><i style="background:linear-gradient(90deg,#e9e9e9,#f0f0f0,#f5f5f5,#f9f9f9,#fbfbfb,#fcfcfc,#fcfcfc,#fbfbfb,#f9f9f9,#f5f5f5,#efefef,#e6e6e6,#d9d9d9,#c9c9c9,#b5b5b5,#9f9f9f,#878787,#717171,#5d5d5d,#4e4e4e,#474747,#474747,#4f4f4f,#5d5d5d,#707070,#868686,#9c9c9c,#b1b1b1,#c4c4c4,#d4d4d4,#e1e1e1,#ebebeb)"></i><i style="background:linear-gradient(90deg,#ededed,#f3f3f3,#f7f7f7,#fafafa,#fcfcfc,#fcfcfc,#fcfcfc,#fafafa,#f7f7f7,#f2f2f2,#ebebeb,#e0e0e0,#d2d2d2,#c0c0c0,#ababab,#939393,#7c7c7c,#666,#555,#4a4a4a,#464646,#4a4a4a,#555,#666,#7a7a7a,#919191,#a7a7a7,#bbb,#cdcdcd,#dbdbdb,#e6e6e6,#eee)"></i><i style="background:linear-gradient(90deg,#f0f0f0,#f5f5f5,#f9f9f9,#fbfbfb,#fcfcfc,#fcfcfc,#fbfbfb,#f9f9f9,#f5f5f5,#efefef,#e6e6e6,#d9d9d9,#c9c9c9,#b6b6b6,#9f9f9f,#888,#717171,#5d5d5d,#4f4f4f,#474747,#474747,#4e4e4e,#5c5c5c,#6f6f6f,#858585,#9c9c9c,#b1b1b1,#c4c4c4,#d4d4d4,#e1e1e1,#ebebeb,#f2f2f2)"></i><i style="background:linear-gradient(90deg,#f3f3f3,#f7f7f7,#fafafa,#fcfcfc,#fcfcfc,#fcfcfc,#fafafa,#f7f7f7,#f2f2f2,#ebebeb,#e0e0e0,#d2d2d2,#c0c0c0,#ababab,#949494,#7c7c7c,#676767,#555,#4a4a4a,#464646,#4a4a4a,#545454,#656565,#7a7a7a,#909090,#a6a6a6,#bbb,#ccc,#dbdbdb,#e6e6e6,#eee,#f4f4f4)"></i><i style="background:linear-gradient(90deg,#f5f5f5,#f9f9f9,#fbfbfb,#fcfcfc,#fcfcfc,#fbfbfb,#f9f9f9,#f5f5f5,#efefef,#e6e6e6,#dadada,#cacaca,#b6b6b6,#a0a0a0,#888,#727272,#5e5e5e,#4f4f4f,#474747,#474747,#4e4e4e,#5c5c5c,#6f6f6f,#858585,#9b9b9b,#b1b1b1,#c4c4c4,#d4d4d4,#e1e1e1,#eaeaea,#f2f2f2,#f6f6f6)"></i><i style="background:linear-gradient(90deg,#f7f7f7,#fafafa,#fcfcfc,#fcfcfc,#fcfcfc,#fafafa,#f7f7f7,#f2f2f2,#ebebeb,#e0e0e0,#d2d2d2,#c0c0c0,#ababab,#949494,#7d7d7d,#676767,#565656,#4a4a4a,#464646,#494949,#545454,#656565,#797979,#909090,#a6a6a6,#bababa,#ccc,#dbdbdb,#e6e6e6,#eee,#f4f4f4,#f8f8f8)"></i><i style="background:linear-gradient(90deg,#f9f9f9,#fbfbfb,#fcfcfc,#fcfcfc,#fbfbfb,#f9f9f9,#f5f5f5,#efefef,#e6e6e6,#dadada,#cacaca,#b6b6b6,#a0a0a0,#898989,#727272,#5e5e5e,#4f4f4f,#474747,#474747,#4e4e4e,#5c5c5c,#6f6f6f,#848484,#9b9b9b,#b0b0b0,#c3c3c3,#d4d4d4,#e1e1e1,#eaeaea,#f1f1f1,#f6f6f6,#fafafa)"></i><i style="background:linear-gradient(90deg,#fafafa,#fcfcfc,#fcfcfc,#fcfcfc,#fafafa,#f7f7f7,#f3f3f3,#ebebeb,#e1e1e1,#d2d2d2,#c1c1c1,#acacac,#959595,#7d7d7d,#686868,#565656,#4a4a4a,#464646,#494949,#545454,#646464,#797979,#8f8f8f,#a5a5a5,#bababa,#ccc,#dadada,#e6e6e6,#eee,#f4f4f4,#f8f8f8,#fbfbfb)"></i><i style="background:linear-gradient(90deg,#fbfbfb,#fcfcfc,#fcfcfc,#fbfbfb,#f9f9f9,#f5f5f5,#efefef,#e6e6e6,#dadada,#cacaca,#b7b7b7,#a1a1a1,#898989,#727272,#5e5e5e,#4f4f4f,#474747,#474747,#4e4e4e,#5b5b5b,#6e6e6e,#848484,#9a9a9a,#b0b0b0,#c3c3c3,#d3d3d3,#e0e0e0,#eaeaea,#f1f1f1,#f6f6f6,#fafafa,#fbfbfb)"></i><i style="background:linear-gradient(90deg,#fcfcfc,#fcfcfc,#fcfcfc,#fafafa,#f7f7f7,#f3f3f3,#ebebeb,#e1e1e1,#d3d3d3,#c1c1c1,#acacac,#959595,#7e7e7e,#686868,#565656,#4a4a4a,#464646,#494949,#545454,#646464,#797979,#8f8f8f,#a5a5a5,#bababa,#cbcbcb,#dadada,#e6e6e6,#eee,#f4f4f4,#f8f8f8,#fbfbfb,#fcfcfc)"></i><i style="background:linear-gradient(90deg,#fcfcfc,#fcfcfc,#fbfbfb,#f9f9f9,#f5f5f5,#efefef,#e6e6e6,#dadada,#cacaca,#b7b7b7,#a1a1a1,#8a8a8a,#737373,#5f5f5f,#505050,#474747,#464646,#4d4d4d,#5b5b5b,#6e6e6e,#838383,#9a9a9a,#afafaf,#c3c3c3,#d3d3d3,#e0e0e0,#eaeaea,#f1f1f1,#f6f6f6,#fafafa,#fbfbfb,#fcfcfc)"></i><i style="background:linear-gradient(90deg,#fcfcfc,#fcfcfc,#fafafa,#f7f7f7,#f3f3f3,#ebebeb,#e1e1e1,#d3d3d3,#c1c1c1,#adadad,#969696,#7e7e7e,#686868,#575757,#4b4b4b,#464646,#494949,#535353,#646464,#787878,#8e8e8e,#a5a5a5,#b9b9b9,#cbcbcb,#dadada,#e5e5e5,#eee,#f4f4f4,#f8f8f8,#fbfbfb,#fcfcfc,#fcfcfc)"></i><i style="background:linear-gradient(90deg,#fcfcfc,#fbfbfb,#f9f9f9,#f5f5f5,#efefef,#e7e7e7,#dbdbdb,#cbcbcb,#b8b8b8,#a2a2a2,#8a8a8a,#737373,#5f5f5f,#505050,#474747,#464646,#4d4d4d,#5b5b5b,#6d6d6d,#838383,#999,#afafaf,#c2c2c2,#d3d3d3,#e0e0e0,#eaeaea,#f1f1f1,#f6f6f6,#f9f9f9,#fbfbfb,#fcfcfc,#fcfcfc)"></i><i style="background:linear-gradient(90deg,#fcfcfc,#fafafa,#f8f8f8,#f3f3f3,#ebebeb,#e1e1e1,#d3d3d3,#c2c2c2,#adadad,#969696,#7f7f7f,#696969,#575757,#4b4b4b,#464646,#494949,#535353,#636363,#787878,#8e8e8e,#a4a4a4,#b9b9b9,#cbcbcb,#dadada,#e5e5e5,#eee,#f4f4f4,#f8f8f8,#fbfbfb,#fcfcfc,#fcfcfc,#fcfcfc)"></i><i style="background:linear-gradient(90deg,#fbfbfb,#f9f9f9,#f5f5f5,#efefef,#e7e7e7,#dbdbdb,#cbcbcb,#b8b8b8,#a2a2a2,#8b8b8b,#747474,#5f5f5f,#505050,#474747,#464646,#4d4d4d,#5a5a5a,#6d6d6d,#828282,#999,#afafaf,#c2c2c2,#d3d3d3,#e0e0e0,#eaeaea,#f1f1f1,#f6f6f6,#f9f9f9,#fbfbfb,#fcfcfc,#fcfcfc,#fbfbfb)"></i><i style="background:linear-gradient(90deg,#fafafa,#f8f8f8,#f3f3f3,#ececec,#e1e1e1,#d3d3d3,#c2c2c2,#adadad,#979797,#7f7f7f,#696969,#575757,#4b4b4b,#464646,#494949,#535353,#636363,#777,#8e8e8e,#a4a4a4,#b9b9b9,#cbcbcb,#dadada,#e5e5e5,#eee,#f4f4f4,#f8f8f8,#fbfbfb,#fcfcfc,#fcfcfc,#fcfcfc,#fafafa)"></i><i style="background:linear-gradient(90deg,#f9f9f9,#f5f5f5,#f0f0f0,#e7e7e7,#dbdbdb,#cbcbcb,#b8b8b8,#a2a2a2,#8b8b8b,#747474,#606060,#505050,#474747,#464646,#4d4d4d,#5a5a5a,#6c6c6c,#828282,#999,#aeaeae,#c2c2c2,#d2d2d2,#e0e0e0,#eaeaea,#f1f1f1,#f6f6f6,#f9f9f9,#fbfbfb,#fcfcfc,#fcfcfc,#fbfbfb,#f8f8f8)"></i><i style="background:linear-gradient(90deg,#f8f8f8,#f3f3f3,#ececec,#e1e1e1,#d4d4d4,#c2c2c2,#aeaeae,#979797,#808080,#6a6a6a,#575757,#4b4b4b,#464646,#494949,#525252,#636363,#777,#8d8d8d,#a3a3a3,#b8b8b8,#cacaca,#d9d9d9,#e5e5e5,#eee,#f4f4f4,#f8f8f8,#fbfbfb,#fcfcfc,#fcfcfc,#fcfcfc,#fafafa,#f7f7f7)"></i><i style="background:linear-gradient(90deg,#f6f6f6,#f0f0f0,#e7e7e7,#dbdbdb,#ccc,#b9b9b9,#a3a3a3,#8c8c8c,#757575,#606060,#515151,#484848,#464646,#4d4d4d,#5a5a5a,#6c6c6c,#828282,#989898,#aeaeae,#c2c2c2,#d2d2d2,#dfdfdf,#eaeaea,#f1f1f1,#f6f6f6,#f9f9f9,#fbfbfb,#fcfcfc,#fcfcfc,#fbfbfb,#f8f8f8,#f4f4f4)"></i><i style="background:linear-gradient(90deg,#f3f3f3,#ececec,#e2e2e2,#d4d4d4,#c3c3c3,#aeaeae,#979797,#808080,#6a6a6a,#585858,#4b4b4b,#464646,#484848,#525252,#626262,#767676,#8d8d8d,#a3a3a3,#b8b8b8,#cacaca,#d9d9d9,#e5e5e5,#eee,#f4f4f4,#f8f8f8,#fbfbfb,#fcfcfc,#fcfcfc,#fcfcfc,#fafafa,#f7f7f7,#f1f1f1)"></i><i style="background:linear-gradient(90deg,#f0f0f0,#e7e7e7,#dbdbdb,#ccc,#b9b9b9,#a3a3a3,#8c8c8c,#757575,#616161,#515151,#484848,#464646,#4c4c4c,#595959,#6c6c6c,#818181,#989898,#aeaeae,#c1c1c1,#d2d2d2,#dfdfdf,#eaeaea,#f1f1f1,#f6f6f6,#f9f9f9,#fbfbfb,#fcfcfc,#fcfcfc,#fbfbfb,#f9f9f9,#f4f4f4,#eee)"></i><i style="background:linear-gradient(90deg,#ececec,#e2e2e2,#d4d4d4,#c3c3c3,#afafaf,#989898,#818181,#6b6b6b,#585858,#4b4b4b,#464646,#484848,#525252,#626262,#767676,#8c8c8c,#a3a3a3,#b8b8b8,#cacaca,#d9d9d9,#e5e5e5,#ededed,#f4f4f4,#f8f8f8,#fafafa,#fcfcfc,#fcfcfc,#fcfcfc,#fafafa,#f7f7f7,#f1f1f1,#eaeaea)"></i><i style="background:linear-gradient(90deg,#e7e7e7,#dcdcdc,#ccc,#b9b9b9,#a4a4a4,#8c8c8c,#757575,#616161,#515151,#484848,#464646,#4c4c4c,#595959,#6b6b6b,#818181,#979797,#adadad,#c1c1c1,#d2d2d2,#dfdfdf,#e9e9e9,#f1f1f1,#f6f6f6,#f9f9f9,#fbfbfb,#fcfcfc,#fcfcfc,#fbfbfb,#f9f9f9,#f4f4f4,#eee,#e5e5e5)"></i><i style="background:linear-gradient(90deg,#e2e2e2,#d4d4d4,#c3c3c3,#afafaf,#989898,#818181,#6b6b6b,#585858,#4c4c4c,#464646,#484848,#525252,#616161,#767676,#8c8c8c,#a2a2a2,#b7b7b7,#cacaca,#d9d9d9,#e5e5e5,#ededed,#f4f4f4,#f8f8f8,#fafafa,#fcfcfc,#fcfcfc,#fcfcfc,#fafafa,#f7f7f7,#f2f2f2,#eaeaea,#dfdfdf)"></i><i style="background:linear-gradient(90deg,#dcdcdc,#ccc,#bababa,#a4a4a4,#8d8d8d,#767676,#616161,#515151,#484848,#464646,#4c4c4c,#595959,#6b6b6b,#808080,#979797,#adadad,#c1c1c1,#d1d1d1,#dfdfdf,#e9e9e9,#f1f1f1,#f6f6f6,#f9f9f9,#fbfbfb,#fcfcfc,#fcfcfc,#fbfbfb,#f9f9f9,#f4f4f4,#eee,#e5e5e5,#d8d8d8)"></i><i style="background:linear-gradient(90deg,#d5d5d5,#c4c4c4,#afafaf,#999,#818181,#6b6b6b,#595959,#4c4c4c,#464646,#484848,#515151,#616161,#757575,#8b8b8b,#a2a2a2,#b7b7b7,#c9c9c9,#d9d9d9,#e4e4e4,#ededed,#f4f4f4,#f8f8f8,#fafafa,#fcfcfc,#fcfcfc,#fcfcfc,#fafafa,#f7f7f7,#f2f2f2,#eaeaea,#dfdfdf,#d1d1d1)"></i><i style="background:linear-gradient(90deg,#cdcdcd,#bababa,#a5a5a5,#8d8d8d,#767676,#626262,#525252,#484848,#464646,#4c4c4c,#585858,#6a6a6a,#808080,#979797,#acacac,#c0c0c0,#d1d1d1,#dfdfdf,#e9e9e9,#f1f1f1,#f6f6f6,#f9f9f9,#fbfbfb,#fcfcfc,#fcfcfc,#fbfbfb,#f9f9f9,#f5f5f5,#eee,#e5e5e5,#d9d9d9,#c8c8c8)"></i><i style="background:linear-gradient(90deg,#c4c4c4,#b0b0b0,#999,#828282,#6c6c6c,#595959,#4c4c4c,#464646,#484848,#515151,#616161,#757575,#8b8b8b,#a1a1a1,#b7b7b7,#c9c9c9,#d8d8d8,#e4e4e4,#ededed,#f4f4f4,#f8f8f8,#fafafa,#fcfcfc,#fcfcfc,#fcfcfc,#fafafa,#f7f7f7,#f2f2f2,#eaeaea,#dfdfdf,#d1d1d1,#bfbfbf)"></i><i style="background:linear-gradient(90deg,#bababa,#a5a5a5,#8e8e8e,#777,#626262,#525252,#484848,#464646,#4c4c4c,#585858,#6a6a6a,#7f7f7f,#969696,#acacac,#c0c0c0,#d1d1d1,#dfdfdf,#e9e9e9,#f1f1f1,#f6f6f6,#f9f9f9,#fbfbfb,#fcfcfc,#fcfcfc,#fbfbfb,#f9f9f9,#f5f5f5,#eee,#e5e5e5,#d9d9d9,#c9c9c9,#b5b5b5)"></i><i style="background:linear-gradient(90deg,#b0b0b0,#9a9a9a,#828282,#6c6c6c,#595959,#4c4c4c,#464646,#484848,#515151,#606060,#747474,#8b8b8b,#a1a1a1,#b6b6b6,#c9c9c9,#d8d8d8,#e4e4e4,#ededed,#f3f3f3,#f8f8f8,#fafafa,#fcfcfc,#fcfcfc,#fcfcfc,#fafafa,#f7f7f7,#f2f2f2,#eaeaea,#e0e0e0,#d1d1d1,#c0c0c0,#ababab)"></i><i style="background:linear-gradient(90deg,#a5a5a5,#8e8e8e,#777,#626262,#525252,#484848,#464646,#4b4b4b,#585858,#6a6a6a,#7f7f7f,#969696,#acacac,#c0c0c0,#d1d1d1,#dedede,#e9e9e9,#f1f1f1,#f6f6f6,#f9f9f9,#fbfbfb,#fcfcfc,#fcfcfc,#fbfbfb,#f9f9f9,#f5f5f5,#eee,#e5e5e5,#d9d9d9,#c9c9c9,#b6b6b6,#a0a0a0)"></i><i style="background:linear-gradient(90deg,#9a9a9a,#838383,#6d6d6d,#5a5a5a,#4c4c4c,#464646,#484848,#515151,#606060,#747474,#8a8a8a,#a1a1a1,#b6b6b6,#c8c8c8,#d8d8d8,#e4e4e4,#ededed,#f3f3f3,#f8f8f8,#fafafa,#fcfcfc,#fcfcfc,#fcfcfc,#fafafa,#f7f7f7,#f2f2f2,#eaeaea,#e0e0e0,#d2d2d2,#c0c0c0,#ababab,#949494)"></i><i style="background:linear-gradient(90deg,#8f8f8f,#787878,#636363,#525252,#484848,#464646,#4b4b4b,#575757,#696969,#7f7f7f,#959595,#ababab,#bfbfbf,#d0d0d0,#dedede,#e9e9e9,#f0f0f0,#f6f6f6,#f9f9f9,#fbfbfb,#fcfcfc,#fcfcfc,#fbfbfb,#f9f9f9,#f5f5f5,#efefef,#e6e6e6,#d9d9d9,#c9c9c9,#b6b6b6,#a0a0a0,#898989)"></i><i style="background:linear-gradient(90deg,#838383,#6d6d6d,#5a5a5a,#4d4d4d,#464646,#484848,#505050,#606060,#737373,#8a8a8a,#a0a0a0,#b6b6b6,#c8c8c8,#d8d8d8,#e4e4e4,#ededed,#f3f3f3,#f8f8f8,#fafafa,#fcfcfc,#fcfcfc,#fcfcfc,#fafafa,#f7f7f7,#f2f2f2,#eaeaea,#e0e0e0,#d2d2d2,#c0c0c0,#acacac,#959595,#7e7e7e)"></i><i style="background:linear-gradient(90deg,#787878,#636363,#535353,#494949,#464646,#4b4b4b,#575757,#696969,#7e7e7e,#959595,#ababab,#bfbfbf,#d0d0d0,#dedede,#e9e9e9,#f0f0f0,#f6f6f6,#f9f9f9,#fbfbfb,#fcfcfc,#fcfcfc,#fbfbfb,#f9f9f9,#f5f5f5,#efefef,#e6e6e6,#d9d9d9,#cacaca,#b6b6b6,#a1a1a1,#898989,#737373)"></i><i style="background:linear-gradient(90deg,#6d6d6d,#5a5a5a,#4d4d4d,#464646,#474747,#505050,#5f5f5f,#737373,#898989,#a0a0a0,#b5b5b5,#c8c8c8,#d7d7d7,#e4e4e4,#ededed,#f3f3f3,#f8f8f8,#fafafa,#fcfcfc,#fcfcfc,#fcfcfc,#fafafa,#f7f7f7,#f2f2f2,#ebebeb,#e0e0e0,#d2d2d2,#c1c1c1,#acacac,#959595,#7e7e7e,#686868)"></i><i style="background:linear-gradient(90deg,#646464,#535353,#494949,#464646,#4b4b4b,#575757,#686868,#7e7e7e,#949494,#ababab,#bfbfbf,#d0d0d0,#dedede,#e9e9e9,#f0f0f0,#f6f6f6,#f9f9f9,#fbfbfb,#fcfcfc,#fcfcfc,#fbfbfb,#f9f9f9,#f5f5f5,#efefef,#e6e6e6,#dadada,#cacaca,#b7b7b7,#a1a1a1,#8a8a8a,#737373,#5f5f5f)"></i><i style="background:linear-gradient(90deg,#5b5b5b,#4d4d4d,#464646,#474747,#505050,#5f5f5f,#737373,#898989,#9f9f9f,#b5b5b5,#c8c8c8,#d7d7d7,#e4e4e4,#ededed,#f3f3f3,#f8f8f8,#fafafa,#fcfcfc,#fcfcfc,#fcfcfc,#fafafa,#f7f7f7,#f2f2f2,#ebebeb,#e0e0e0,#d2d2d2,#c1c1c1,#acacac,#969696,#7e7e7e,#696969,#575757)"></i><i style="background:linear-gradient(90deg,#535353,#494949,#464646,#4b4b4b,#575757,#686868,#7d7d7d,#949494,#aaa,#bebebe,#d0d0d0,#dedede,#e8e8e8,#f0f0f0,#f6f6f6,#f9f9f9,#fbfbfb,#fcfcfc,#fcfcfc,#fbfbfb,#f9f9f9,#f5f5f5,#efefef,#e6e6e6,#dadada,#cacaca,#b7b7b7,#a1a1a1,#8a8a8a,#737373,#5f5f5f,#505050)"></i><i style="background:linear-gradient(90deg,#4d4d4d,#464646,#474747,#505050,#5f5f5f,#727272,#888,#9f9f9f,#b4b4b4,#c7c7c7,#d7d7d7,#e3e3e3,#ededed,#f3f3f3,#f8f8f8,#fafafa,#fcfcfc,#fcfcfc,#fcfcfc,#fafafa,#f7f7f7,#f2f2f2,#ebebeb,#e0e0e0,#d3d3d3,#c1c1c1,#adadad,#969696,#7f7f7f,#696969,#575757,#4b4b4b)"></i><i style="background:linear-gradient(90deg,#494949,#464646,#4a4a4a,#565656,#686868,#7d7d7d,#949494,#aaa,#bebebe,#cfcfcf,#ddd,#e8e8e8,#f0f0f0,#f6f6f6,#f9f9f9,#fbfbfb,#fcfcfc,#fcfcfc,#fbfbfb,#f9f9f9,#f5f5f5,#efefef,#e6e6e6,#dadada,#cbcbcb,#b8b8b8,#a2a2a2,#8b8b8b,#747474,#606060,#505050,#474747)"></i><i style="background:linear-gradient(90deg,#464646,#474747,#4f4f4f,#5e5e5e,#727272,#888,#9f9f9f,#b4b4b4,#c7c7c7,#d7d7d7,#e3e3e3,#ececec,#f3f3f3,#f8f8f8,#fafafa,#fcfcfc,#fcfcfc,#fcfcfc,#fafafa,#f7f7f7,#f2f2f2,#ebebeb,#e1e1e1,#d3d3d3,#c2c2c2,#adadad,#979797,#7f7f7f,#6a6a6a,#575757,#4b4b4b,#464646)"></i><i style="background:linear-gradient(90deg,#464646,#4a4a4a,#565656,#676767,#7c7c7c,#939393,#a9a9a9,#bebebe,#cfcfcf,#ddd,#e8e8e8,#f0f0f0,#f6f6f6,#f9f9f9,#fbfbfb,#fcfcfc,#fcfcfc,#fbfbfb,#f9f9f9,#f5f5f5,#efefef,#e6e6e6,#dadada,#cbcbcb,#b8b8b8,#a2a2a2,#8b8b8b,#747474,#606060,#515151,#484848,#464646)"></i><i style="background:linear-gradient(90deg,#474747,#4f4f4f,#5e5e5e,#717171,#878787,#9e9e9e,#b4b4b4,#c7c7c7,#d7d7d7,#e3e3e3,#ececec,#f3f3f3,#f7f7f7,#fafafa,#fcfcfc,#fcfcfc,#fcfcfc,#fafafa,#f7f7f7,#f2f2f2,#ebebeb,#e1e1e1,#d3d3d3,#c2c2c2,#aeaeae,#979797,#808080,#6a6a6a,#585858,#4b4b4b,#464646,#484848)"></i><i style="background:linear-gradient(90deg,#4a4a4a,#565656,#676767,#7c7c7c,#939393,#a9a9a9,#bdbdbd,#cfcfcf,#ddd,#e8e8e8,#f0f0f0,#f5f5f5,#f9f9f9,#fbfbfb,#fcfcfc,#fcfcfc,#fbfbfb,#f9f9f9,#f5f5f5,#efefef,#e6e6e6,#dbdbdb,#cbcbcb,#b8b8b8,#a3a3a3,#8b8b8b,#757575,#606060,#515151,#484848,#464646,#4c4c4c)"></i><i style="background:linear-gradient(90deg,#4f4f4f,#5d5d5d,#717171,#878787,#9e9e9e,#b3b3b3,#c6c6c6,#d6d6d6,#e3e3e3,#ececec,#f3f3f3,#f7f7f7,#fafafa,#fcfcfc,#fcfcfc,#fcfcfc,#fafafa,#f7f7f7,#f3f3f3,#ebebeb,#e1e1e1,#d3d3d3,#c2c2c2,#aeaeae,#979797,#808080,#6a6a6a,#585858,#4b4b4b,#464646,#484848,#525252)"></i><i style="background:linear-gradient(90deg,#555,#666,#7c7c7c,#929292,#a9a9a9,#bdbdbd,#cfcfcf,#ddd,#e8e8e8,#f0f0f0,#f5f5f5,#f9f9f9,#fbfbfb,#fcfcfc,#fcfcfc,#fbfbfb,#f9f9f9,#f5f5f5,#efefef,#e7e7e7,#dbdbdb,#cbcbcb,#b9b9b9,#a3a3a3,#8c8c8c,#757575,#616161,#515151,#484848,#464646,#4c4c4c,#595959)"></i><i style="background:linear-gradient(90deg,#5d5d5d,#707070,#878787,#9d9d9d,#b3b3b3,#c6c6c6,#d6d6d6,#e3e3e3,#ececec,#f3f3f3,#f7f7f7,#fafafa,#fcfcfc,#fcfcfc,#fcfcfc,#fbfbfb,#f8f8f8,#f3f3f3,#ececec,#e1e1e1,#d4d4d4,#c2c2c2,#aeaeae,#989898,#808080,#6b6b6b,#585858,#4b4b4b,#464646,#484848,#525252,#616161)"></i><i style="background:linear-gradient(90deg,#666,#7b7b7b,#929292,#a8a8a8,#bdbdbd,#cecece,#ddd,#e8e8e8,#f0f0f0,#f5f5f5,#f9f9f9,#fbfbfb,#fcfcfc,#fcfcfc,#fcfcfc,#f9f9f9,#f6f6f6,#f0f0f0,#e7e7e7,#dbdbdb,#ccc,#b9b9b9,#a3a3a3,#8c8c8c,#757575,#616161,#515151,#484848,#464646,#4c4c4c,#595959,#6b6b6b)"></i><i style="background:linear-gradient(90deg,#707070,#868686,#9d9d9d,#b3b3b3,#c6c6c6,#d6d6d6,#e3e3e3,#ececec,#f3f3f3,#f7f7f7,#fafafa,#fcfcfc,#fdfdfd,#fcfcfc,#fbfbfb,#f8f8f8,#f3f3f3,#ececec,#e2e2e2,#d4d4d4,#c3c3c3,#aeaeae,#989898,#818181,#6b6b6b,#585858,#4b4b4b,#464646,#484848,#515151,#616161,#757575)"></i><i style="background:linear-gradient(90deg,#7b7b7b,#919191,#a8a8a8,#bcbcbc,#cecece,#ddd,#e8e8e8,#f0f0f0,#f5f5f5,#f9f9f9,#fbfbfb,#fcfcfc,#fdfdfd,#fcfcfc,#fafafa,#f6f6f6,#f0f0f0,#e7e7e7,#dcdcdc,#ccc,#b9b9b9,#a3a3a3,#8c8c8c,#757575,#616161,#515151,#484848,#464646,#4b4b4b,#585858,#6b6b6b,#808080)"></i><i style="background:linear-gradient(90deg,#868686,#9d9d9d,#b2b2b2,#c6c6c6,#d6d6d6,#e2e2e2,#ececec,#f3f3f3,#f7f7f7,#fafafa,#fcfcfc,#fdfdfd,#fcfcfc,#fbfbfb,#f8f8f8,#f4f4f4,#ececec,#e2e2e2,#d5d5d5,#c3c3c3,#afafaf,#989898,#818181,#6b6b6b,#585858,#4b4b4b,#454545,#474747,#515151,#616161,#757575,#8b8b8b)"></i><i style="background:linear-gradient(90deg,#919191,#a7a7a7,#bcbcbc,#cecece,#dcdcdc,#e7e7e7,#f0f0f0,#f5f5f5,#f9f9f9,#fbfbfb,#fcfcfc,#fdfdfd,#fcfcfc,#fafafa,#f6f6f6,#f1f1f1,#e8e8e8,#dcdcdc,#cdcdcd,#bababa,#a4a4a4,#8c8c8c,#757575,#616161,#515151,#474747,#454545,#4b4b4b,#585858,#6a6a6a,#808080,#979797)"></i><i style="background:linear-gradient(90deg,#9c9c9c,#b2b2b2,#c5c5c5,#d5d5d5,#e2e2e2,#ececec,#f3f3f3,#f7f7f7,#fafafa,#fcfcfc,#fdfdfd,#fdfdfd,#fbfbfb,#f9f9f9,#f4f4f4,#ededed,#e3e3e3,#d5d5d5,#c4c4c4,#afafaf,#989898,#818181,#6a6a6a,#585858,#4b4b4b,#454545,#474747,#505050,#606060,#747474,#8b8b8b,#a2a2a2)"></i><i style="background:linear-gradient(90deg,#a7a7a7,#bcbcbc,#cecece,#dcdcdc,#e7e7e7,#f0f0f0,#f5f5f5,#f9f9f9,#fbfbfb,#fdfdfd,#fdfdfd,#fcfcfc,#fbfbfb,#f7f7f7,#f2f2f2,#e9e9e9,#ddd,#cecece,#bbb,#a4a4a4,#8d8d8d,#757575,#606060,#505050,#464646,#444,#4a4a4a,#575757,#696969,#7f7f7f,#969696,#acacac)"></i><i style="background:linear-gradient(90deg,#b1b1b1,#c5c5c5,#d5d5d5,#e2e2e2,#ececec,#f3f3f3,#f7f7f7,#fafafa,#fcfcfc,#fdfdfd,#fdfdfd,#fcfcfc,#f9f9f9,#f5f5f5,#eee,#e4e4e4,#d7d7d7,#c5c5c5,#b0b0b0,#999,#818181,#6a6a6a,#575757,#4a4a4a,#444,#464646,#4f4f4f,#5f5f5f,#747474,#8a8a8a,#a1a1a1,#b6b6b6)"></i><i style="background:linear-gradient(90deg,#bbb,#cdcdcd,#dcdcdc,#e7e7e7,#efefef,#f5f5f5,#f9f9f9,#fbfbfb,#fdfdfd,#fdfdfd,#fdfdfd,#fbfbfb,#f8f8f8,#f3f3f3,#ebebeb,#dfdfdf,#cfcfcf,#bcbcbc,#a5a5a5,#8d8d8d,#757575,#606060,#4f4f4f,#454545,#434343,#494949,#565656,#686868,#7e7e7e,#959595,#acacac,#c0c0c0)"></i><i style="background:linear-gradient(90deg,#c5c5c5,#d5d5d5,#e2e2e2,#ececec,#f3f3f3,#f7f7f7,#fafafa,#fcfcfc,#fdfdfd,#fdfdfd,#fcfcfc,#fafafa,#f6f6f6,#f0f0f0,#e6e6e6,#d9d9d9,#c7c7c7,#b2b2b2,#9a9a9a,#818181,#6a6a6a,#565656,#484848,#424242,#444,#4e4e4e,#5e5e5e,#727272,#898989,#a0a0a0,#b6b6b6,#c9c9c9)"></i><i style="background:linear-gradient(90deg,#cdcdcd,#dcdcdc,#e7e7e7,#efefef,#f5f5f5,#f9f9f9,#fbfbfb,#fdfdfd,#fdfdfd,#fdfdfd,#fcfcfc,#f9f9f9,#f4f4f4,#ededed,#e1e1e1,#d2d2d2,#bebebe,#a7a7a7,#8e8e8e,#757575,#5f5f5f,#4d4d4d,#434343,#414141,#474747,#545454,#676767,#7d7d7d,#959595,#ababab,#c0c0c0,#d1d1d1)"></i><i style="background:linear-gradient(90deg,#d5d5d5,#e2e2e2,#ebebeb,#f3f3f3,#f7f7f7,#fafafa,#fcfcfc,#fdfdfd,#fdfdfd,#fdfdfd,#fbfbfb,#f8f8f8,#f2f2f2,#e9e9e9,#dcdcdc,#cacaca,#b5b5b5,#9c9c9c,#828282,#696969,#555,#464646,#3f3f3f,#414141,#4b4b4b,#5c5c5c,#717171,#888,#a0a0a0,#b5b5b5,#c8c8c8,#d8d8d8)"></i><i style="background:linear-gradient(90deg,#dbdbdb,#e7e7e7,#efefef,#f5f5f5,#f9f9f9,#fbfbfb,#fdfdfd,#fdfdfd,#fdfdfd,#fcfcfc,#fafafa,#f6f6f6,#efefef,#e5e5e5,#d6d6d6,#c2c2c2,#ababab,#909090,#767676,#5e5e5e,#4b4b4b,#404040,#3d3d3d,#434343,#515151,#646464,#7b7b7b,#939393,#aaa,#bfbfbf,#d0d0d0,#dfdfdf)"></i><i style="background:linear-gradient(90deg,#e1e1e1,#ebebeb,#f2f2f2,#f7f7f7,#fafafa,#fcfcfc,#fdfdfd,#fefefe,#fdfdfd,#fcfcfc,#f9f9f9,#f4f4f4,#ececec,#e0e0e0,#cfcfcf,#b9b9b9,#a0a0a0,#858585,#6a6a6a,#535353,#434343,#3c3c3c,#3d3d3d,#474747,#585858,#6e6e6e,#868686,#9e9e9e,#b4b4b4,#c8c8c8,#d8d8d8,#e4e4e4)"></i><i style="background:linear-gradient(90deg,#e7e7e7,#efefef,#f5f5f5,#f9f9f9,#fbfbfb,#fdfdfd,#fefefe,#fefefe,#fdfdfd,#fbfbfb,#f8f8f8,#f2f2f2,#e9e9e9,#dbdbdb,#c8c8c8,#b0b0b0,#959595,#797979,#5f5f5f,#4a4a4a,#3c3c3c,#393939,#3e3e3e,#4c4c4c,#606060,#787878,#919191,#a9a9a9,#bebebe,#d0d0d0,#dedede,#e9e9e9)"></i><i style="background:linear-gradient(90deg,#ebebeb,#f2f2f2,#f7f7f7,#fafafa,#fcfcfc,#fdfdfd,#fefefe,#fefefe,#fdfdfd,#fbfbfb,#f7f7f7,#f0f0f0,#e5e5e5,#d5d5d5,#c0c0c0,#a6a6a6,#8a8a8a,#6d6d6d,#545454,#414141,#373737,#373737,#414141,#525252,#696969,#828282,#9b9b9b,#b3b3b3,#c7c7c7,#d7d7d7,#e4e4e4,#ededed)"></i><i style="background:linear-gradient(90deg,#efefef,#f5f5f5,#f9f9f9,#fbfbfb,#fdfdfd,#fefefe,#fefefe,#fefefe,#fcfcfc,#fafafa,#f5f5f5,#ededed,#e1e1e1,#cfcfcf,#b8b8b8,#9c9c9c,#7f7f7f,#626262,#4a4a4a,#393939,#333,#373737,#444,#595959,#727272,#8c8c8c,#a5a5a5,#bcbcbc,#cfcfcf,#ddd,#e9e9e9,#f1f1f1)"></i><i style="background:linear-gradient(90deg,#f2f2f2,#f7f7f7,#fafafa,#fcfcfc,#fdfdfd,#fefefe,#fefefe,#fdfdfd,#fcfcfc,#f9f9f9,#f3f3f3,#eaeaea,#dcdcdc,#c9c9c9,#b0b0b0,#939393,#747474,#575757,#404040,#333,#303030,#383838,#494949,#616161,#7b7b7b,#969696,#afafaf,#c4c4c4,#d6d6d6,#e3e3e3,#ededed,#f3f3f3)"></i><i style="background:linear-gradient(90deg,#f5f5f5,#f9f9f9,#fbfbfb,#fdfdfd,#fefefe,#fefefe,#fefefe,#fdfdfd,#fbfbfb,#f8f8f8,#f2f2f2,#e7e7e7,#d8d8d8,#c3c3c3,#a8a8a8,#898989,#6a6a6a,#4d4d4d,#383838,#2d2d2d,#2e2e2e,#3a3a3a,#4e4e4e,#686868,#848484,#a0a0a0,#b8b8b8,#ccc,#dcdcdc,#e8e8e8,#f0f0f0,#f6f6f6)"></i><i style="background:linear-gradient(90deg,#f7f7f7,#fafafa,#fcfcfc,#fdfdfd,#fefefe,#fefefe,#fefefe,#fdfdfd,#fbfbfb,#f7f7f7,#f0f0f0,#e4e4e4,#d3d3d3,#bcbcbc,#a0a0a0,#808080,#606060,#444,#313131,#292929,#2d2d2d,#3d3d3d,#545454,#707070,#8d8d8d,#a8a8a8,#c0c0c0,#d3d3d3,#e1e1e1,#ececec,#f3f3f3,#f8f8f8)"></i><i style="background:linear-gradient(90deg,#f8f8f8,#fbfbfb,#fdfdfd,#fefefe,#fefefe,#fefefe,#fefefe,#fdfdfd,#fafafa,#f6f6f6,#eee,#e1e1e1,#cfcfcf,#b6b6b6,#989898,#777,#575757,#3c3c3c,#2b2b2b,#262626,#2d2d2d,#404040,#5a5a5a,#787878,#959595,#b0b0b0,#c7c7c7,#d8d8d8,#e6e6e6,#efefef,#f5f5f5,#f9f9f9)"></i><i style="background:linear-gradient(90deg,#fafafa,#fcfcfc,#fdfdfd,#fefefe,#fefefe,#fefefe,#fefefe,#fdfdfd,#fafafa,#f5f5f5,#ececec,#dfdfdf,#cbcbcb,#b1b1b1,#929292,#707070,#505050,#363636,#262626,#232323,#2e2e2e,#434343,#5f5f5f,#7e7e7e,#9c9c9c,#b7b7b7,#cdcdcd,#ddd,#e9e9e9,#f2f2f2,#f7f7f7,#fafafa)"></i><i style="background:linear-gradient(90deg,#fbfbfb,#fdfdfd,#fefefe,#fefefe,#fff,#fefefe,#fefefe,#fcfcfc,#f9f9f9,#f4f4f4,#ebebeb,#dcdcdc,#c8c8c8,#acacac,#8c8c8c,#6a6a6a,#494949,#303030,#222,#222,#2f2f2f,#464646,#646464,#848484,#a2a2a2,#bcbcbc,#d1d1d1,#e1e1e1,#ececec,#f4f4f4,#f8f8f8,#fbfbfb)"></i><i style="background:linear-gradient(90deg,#fbfbfb,#fdfdfd,#fefefe,#fefefe,#fff,#fefefe,#fefefe,#fcfcfc,#f9f9f9,#f3f3f3,#eaeaea,#dadada,#c5c5c5,#a9a9a9,#878787,#646464,#444,#2c2c2c,#202020,#212121,#303030,#494949,#686868,#888,#a7a7a7,#c1c1c1,#d5d5d5,#e4e4e4,#eee,#f5f5f5,#f9f9f9,#fcfcfc)"></i><i style="background:linear-gradient(90deg,#fcfcfc,#fdfdfd,#fefefe,#fefefe,#fff,#fefefe,#fefefe,#fcfcfc,#f9f9f9,#f3f3f3,#e9e9e9,#d9d9d9,#c3c3c3,#a6a6a6,#858585,#626262,#414141,#2a2a2a,#1e1e1e,#212121,#313131,#4b4b4b,#6a6a6a,#8b8b8b,#aaa,#c3c3c3,#d7d7d7,#e5e5e5,#efefef,#f6f6f6,#fafafa,#fcfcfc)"></i><i style="background:linear-gradient(90deg,#fcfcfc,#fdfdfd,#fefefe,#fefefe,#fff,#fefefe,#fefefe,#fcfcfc,#f9f9f9,#f3f3f3,#e9e9e9,#d9d9d9,#c3c3c3,#a6a6a6,#858585,#616161,#414141,#2a2a2a,#1e1e1e,#212121,#313131,#4b4b4b,#6a6a6a,#8b8b8b,#aaa,#c3c3c3,#d7d7d7,#e5e5e5,#efefef,#f6f6f6,#fafafa,#fcfcfc)"></i></div>
<div class="hm" style="left:370px;top:90px;width:126px;height:126px"><i style="background:linear-gradient(90deg,#dfdfdf,#d3d3d3,#c4c4c4,#b2b2b2,#9c9c9c,#848484,#6b6b6b,#535353,#3f3f3f,#313131,#2b2b2b,#2d2d2d,#383838,#4b4b4b,#626262,#7c7c7c,#959595,#adadad,#c2c2c2,#d3d3d3,#e1e1e1,#eaeaea,#f1f1f1,#f5f5f5,#f8f8f8,#f8f8f8,#f8f8f8,#f5f5f5,#f2f2f2,#ededed,#e6e6e6,#dcdcdc)"></i><i style="background:linear-gradient(90deg,#dfdfdf,#d3d3d3,#c4c4c4,#b2b2b2,#9c9c9c,#848484,#6b6b6b,#535353,#3f3f3f,#313131,#2b2b2b,#2d2d2d,#383838,#4b4b4b,#626262,#7c7c7c,#959595,#adadad,#c2c2c2,#d3d3d3,#e1e1e1,#eaeaea,#f1f1f1,#f5f5f5,#f8f8f8,#f8f8f8,#f8f8f8,#f5f5f5,#f2f2f2,#ededed,#e6e6e6,#dcdcdc)"></i><i style="background:linear-gradient(90deg,#ddd,#d1d1d1,#c2c2c2,#b0b0b0,#9a9a9a,#828282,#696969,#525252,#3e3e3e,#313131,#2c2c2c,#2f2f2f,#3b3b3b,#4d4d4d,#656565,#7e7e7e,#989898,#afafaf,#c4c4c4,#d4d4d4,#e1e1e1,#ebebeb,#f1f1f1,#f5f5f5,#f7f7f7,#f8f8f8,#f7f7f7,#f5f5f5,#f1f1f1,#ececec,#e4e4e4,#dadada)"></i><i style="background:linear-gradient(90deg,#dadada,#cecece,#bebebe,#acacac,#969696,#7f7f7f,#676767,#505050,#3e3e3e,#323232,#2e2e2e,#323232,#3f3f3f,#525252,#696969,#828282,#9b9b9b,#b2b2b2,#c6c6c6,#d6d6d6,#e3e3e3,#ececec,#f2f2f2,#f5f5f5,#f7f7f7,#f7f7f7,#f6f6f6,#f3f3f3,#efefef,#e9e9e9,#e1e1e1,#d7d7d7)"></i><i style="background:linear-gradient(90deg,#d6d6d6,#c9c9c9,#b9b9b9,#a7a7a7,#929292,#7b7b7b,#646464,#4f4f4f,#3e3e3e,#333,#313131,#363636,#444,#575757,#6e6e6e,#878787,#a0a0a0,#b6b6b6,#c9c9c9,#d8d8d8,#e4e4e4,#ececec,#f2f2f2,#f5f5f5,#f7f7f7,#f6f6f6,#f4f4f4,#f1f1f1,#ededed,#e6e6e6,#dedede,#d3d3d3)"></i><i style="background:linear-gradient(90deg,#d1d1d1,#c4c4c4,#b4b4b4,#a1a1a1,#8c8c8c,#767676,#606060,#4d4d4d,#3e3e3e,#353535,#353535,#3c3c3c,#4a4a4a,#5e5e5e,#757575,#8e8e8e,#a5a5a5,#bababa,#ccc,#dbdbdb,#e6e6e6,#ededed,#f2f2f2,#f5f5f5,#f6f6f6,#f5f5f5,#f3f3f3,#efefef,#e9e9e9,#e2e2e2,#d9d9d9,#cecece)"></i><i style="background:linear-gradient(90deg,#cbcbcb,#bdbdbd,#adadad,#9a9a9a,#868686,#717171,#5d5d5d,#4b4b4b,#3f3f3f,#383838,#3a3a3a,#424242,#525252,#666,#7d7d7d,#949494,#ababab,#bfbfbf,#d0d0d0,#ddd,#e7e7e7,#eee,#f2f2f2,#f4f4f4,#f5f5f5,#f3f3f3,#f0f0f0,#ececec,#e5e5e5,#ddd,#d4d4d4,#c8c8c8)"></i><i style="background:linear-gradient(90deg,#c4c4c4,#b6b6b6,#a5a5a5,#939393,#7f7f7f,#6c6c6c,#595959,#4a4a4a,#404040,#3c3c3c,#404040,#4a4a4a,#5a5a5a,#6e6e6e,#858585,#9c9c9c,#b1b1b1,#c4c4c4,#d4d4d4,#e0e0e0,#e9e9e9,#efefef,#f2f2f2,#f4f4f4,#f3f3f3,#f1f1f1,#ededed,#e8e8e8,#e1e1e1,#d8d8d8,#cdcdcd,#c1c1c1)"></i><i style="background:linear-gradient(90deg,#bcbcbc,#aeaeae,#9d9d9d,#8b8b8b,#797979,#676767,#575757,#4a4a4a,#434343,#414141,#474747,#525252,#636363,#787878,#8e8e8e,#a4a4a4,#b8b8b8,#c9c9c9,#d8d8d8,#e3e3e3,#eaeaea,#efefef,#f2f2f2,#f2f2f2,#f1f1f1,#eee,#e9e9e9,#e3e3e3,#dbdbdb,#d1d1d1,#c6c6c6,#b9b9b9)"></i><i style="background:linear-gradient(90deg,#b4b4b4,#a5a5a5,#959595,#848484,#737373,#636363,#555,#4b4b4b,#464646,#474747,#4e4e4e,#5b5b5b,#6d6d6d,#818181,#979797,#ababab,#bebebe,#cecece,#dbdbdb,#e5e5e5,#ececec,#f0f0f0,#f1f1f1,#f1f1f1,#eee,#eaeaea,#e5e5e5,#dedede,#d5d5d5,#cacaca,#bebebe,#b1b1b1)"></i><i style="background:linear-gradient(90deg,#ababab,#9d9d9d,#8d8d8d,#7d7d7d,#6d6d6d,#5f5f5f,#545454,#4d4d4d,#4a4a4a,#4e4e4e,#575757,#656565,#777,#8b8b8b,#a0a0a0,#b3b3b3,#c5c5c5,#d3d3d3,#dfdfdf,#e7e7e7,#ededed,#efefef,#f0f0f0,#efefef,#ebebeb,#e6e6e6,#e0e0e0,#d7d7d7,#cecece,#c2c2c2,#b6b6b6,#a8a8a8)"></i><i style="background:linear-gradient(90deg,#a2a2a2,#949494,#858585,#767676,#686868,#5d5d5d,#545454,#4f4f4f,#505050,#565656,#616161,#707070,#828282,#959595,#a9a9a9,#bbb,#cbcbcb,#d8d8d8,#e2e2e2,#e9e9e9,#ededed,#efefef,#eee,#ececec,#e7e7e7,#e1e1e1,#dadada,#d1d1d1,#c6c6c6,#bababa,#adadad,#9f9f9f)"></i><i style="background:linear-gradient(90deg,#999,#8b8b8b,#7d7d7d,#707070,#656565,#5b5b5b,#555,#545454,#575757,#5e5e5e,#6b6b6b,#7a7a7a,#8c8c8c,#9f9f9f,#b1b1b1,#c2c2c2,#d0d0d0,#dcdcdc,#e4e4e4,#eaeaea,#ededed,#ededed,#ececec,#e8e8e8,#e3e3e3,#dcdcdc,#d3d3d3,#c9c9c9,#bebebe,#b1b1b1,#a4a4a4,#969696)"></i><i style="background:linear-gradient(90deg,#919191,#838383,#777,#6b6b6b,#626262,#5b5b5b,#585858,#595959,#5e5e5e,#686868,#757575,#858585,#979797,#a9a9a9,#bababa,#c9c9c9,#d5d5d5,#dfdfdf,#e6e6e6,#ebebeb,#ececec,#ececec,#e9e9e9,#e4e4e4,#dedede,#d6d6d6,#ccc,#c1c1c1,#b5b5b5,#a8a8a8,#9b9b9b,#8d8d8d)"></i><i style="background:linear-gradient(90deg,#888,#7c7c7c,#717171,#686868,#616161,#5c5c5c,#5c5c5c,#5f5f5f,#676767,#727272,#808080,#909090,#a1a1a1,#b2b2b2,#c1c1c1,#cfcfcf,#dadada,#e2e2e2,#e8e8e8,#ebebeb,#ebebeb,#e9e9e9,#e5e5e5,#dfdfdf,#d8d8d8,#cfcfcf,#c4c4c4,#b8b8b8,#acacac,#9f9f9f,#929292,#858585)"></i><i style="background:linear-gradient(90deg,#808080,#767676,#6c6c6c,#656565,#616161,#5f5f5f,#616161,#676767,#707070,#7c7c7c,#8b8b8b,#9b9b9b,#ababab,#bbb,#c9c9c9,#d5d5d5,#dedede,#e4e4e4,#e8e8e8,#eaeaea,#e9e9e9,#e6e6e6,#e1e1e1,#dadada,#d1d1d1,#c7c7c7,#bcbcbc,#afafaf,#a3a3a3,#969696,#898989,#7e7e7e)"></i><i style="background:linear-gradient(90deg,#797979,#707070,#696969,#646464,#626262,#636363,#676767,#6f6f6f,#797979,#878787,#959595,#a5a5a5,#b4b4b4,#c3c3c3,#cfcfcf,#d9d9d9,#e1e1e1,#e6e6e6,#e8e8e8,#e8e8e8,#e6e6e6,#e2e2e2,#dbdbdb,#d3d3d3,#cacaca,#bfbfbf,#b3b3b3,#a6a6a6,#9a9a9a,#8d8d8d,#828282,#777)"></i><i style="background:linear-gradient(90deg,#747474,#6c6c6c,#676767,#656565,#656565,#686868,#6f6f6f,#787878,#848484,#919191,#a0a0a0,#afafaf,#bdbdbd,#cacaca,#d5d5d5,#ddd,#e3e3e3,#e7e7e7,#e8e8e8,#e6e6e6,#e2e2e2,#ddd,#d5d5d5,#ccc,#c2c2c2,#b6b6b6,#aaa,#9d9d9d,#919191,#858585,#7a7a7a,#727272)"></i><i style="background:linear-gradient(90deg,#6f6f6f,#6a6a6a,#676767,#676767,#696969,#6f6f6f,#777,#818181,#8e8e8e,#9c9c9c,#aaa,#b8b8b8,#c5c5c5,#d0d0d0,#d9d9d9,#e0e0e0,#e5e5e5,#e6e6e6,#e6e6e6,#e3e3e3,#dedede,#d7d7d7,#cecece,#c4c4c4,#b9b9b9,#adadad,#a0a0a0,#949494,#888,#7e7e7e,#757575,#6d6d6d)"></i><i style="background:linear-gradient(90deg,#6c6c6c,#686868,#686868,#6a6a6a,#6f6f6f,#767676,#808080,#8b8b8b,#989898,#a6a6a6,#b3b3b3,#c0c0c0,#ccc,#d6d6d6,#ddd,#e2e2e2,#e5e5e5,#e5e5e5,#e3e3e3,#dfdfdf,#d9d9d9,#d1d1d1,#c7c7c7,#bcbcbc,#b0b0b0,#a4a4a4,#979797,#8b8b8b,#808080,#777,#707070,#6b6b6b)"></i><i style="background:linear-gradient(90deg,#6a6a6a,#696969,#6a6a6a,#6f6f6f,#757575,#7e7e7e,#898989,#959595,#a2a2a2,#afafaf,#bcbcbc,#c8c8c8,#d2d2d2,#dadada,#e0e0e0,#e3e3e3,#e5e5e5,#e3e3e3,#e0e0e0,#dadada,#d3d3d3,#c9c9c9,#bfbfbf,#b3b3b3,#a7a7a7,#9a9a9a,#8e8e8e,#838383,#7a7a7a,#727272,#6c6c6c,#696969)"></i><i style="background:linear-gradient(90deg,#6a6a6a,#6b6b6b,#6e6e6e,#757575,#7d7d7d,#878787,#939393,#9f9f9f,#acacac,#b8b8b8,#c4c4c4,#cecece,#d7d7d7,#dedede,#e2e2e2,#e4e4e4,#e3e3e3,#e0e0e0,#dbdbdb,#d5d5d5,#ccc,#c2c2c2,#b6b6b6,#aaa,#9e9e9e,#929292,#868686,#7c7c7c,#747474,#6e6e6e,#6b6b6b,#6a6a6a)"></i><i style="background:linear-gradient(90deg,#6b6b6b,#6e6e6e,#747474,#7c7c7c,#858585,#909090,#9c9c9c,#a9a9a9,#b5b5b5,#c1c1c1,#cbcbcb,#d4d4d4,#dbdbdb,#e0e0e0,#e3e3e3,#e3e3e3,#e1e1e1,#ddd,#d6d6d6,#cecece,#c4c4c4,#b9b9b9,#adadad,#a1a1a1,#959595,#898989,#7f7f7f,#767676,#707070,#6c6c6c,#6a6a6a,#6b6b6b)"></i><i style="background:linear-gradient(90deg,#6e6e6e,#737373,#7a7a7a,#838383,#8e8e8e,#9a9a9a,#a6a6a6,#b2b2b2,#bebebe,#c8c8c8,#d1d1d1,#d9d9d9,#dedede,#e1e1e1,#e2e2e2,#e1e1e1,#ddd,#d8d8d8,#d0d0d0,#c7c7c7,#bcbcbc,#b0b0b0,#a4a4a4,#989898,#8c8c8c,#818181,#787878,#717171,#6d6d6d,#6b6b6b,#6b6b6b,#6f6f6f)"></i><i style="background:linear-gradient(90deg,#727272,#797979,#828282,#8c8c8c,#979797,#a3a3a3,#afafaf,#bbb,#c5c5c5,#cfcfcf,#d6d6d6,#dcdcdc,#e0e0e0,#e2e2e2,#e1e1e1,#dedede,#d9d9d9,#d2d2d2,#c9c9c9,#bfbfbf,#b4b4b4,#a7a7a7,#9b9b9b,#8f8f8f,#848484,#7a7a7a,#737373,#6e6e6e,#6b6b6b,#6b6b6b,#6e6e6e,#737373)"></i><i style="background:linear-gradient(90deg,#777,#808080,#8a8a8a,#959595,#a0a0a0,#acacac,#b8b8b8,#c3c3c3,#ccc,#d4d4d4,#dbdbdb,#dfdfdf,#e1e1e1,#e1e1e1,#dfdfdf,#dadada,#d4d4d4,#ccc,#c2c2c2,#b6b6b6,#ababab,#9e9e9e,#929292,#878787,#7d7d7d,#757575,#6f6f6f,#6c6c6c,#6b6b6b,#6d6d6d,#727272,#797979)"></i><i style="background:linear-gradient(90deg,#7e7e7e,#878787,#929292,#9e9e9e,#aaa,#b5b5b5,#c0c0c0,#cacaca,#d2d2d2,#d9d9d9,#dedede,#e0e0e0,#e1e1e1,#dfdfdf,#dbdbdb,#d5d5d5,#cecece,#c4c4c4,#b9b9b9,#aeaeae,#a1a1a1,#959595,#8a8a8a,#7f7f7f,#777,#707070,#6c6c6c,#6b6b6b,#6d6d6d,#717171,#777,#808080)"></i><i style="background:linear-gradient(90deg,#858585,#909090,#9b9b9b,#a7a7a7,#b2b2b2,#bdbdbd,#c7c7c7,#d0d0d0,#d7d7d7,#dcdcdc,#dfdfdf,#e0e0e0,#dfdfdf,#dcdcdc,#d7d7d7,#d0d0d0,#c7c7c7,#bcbcbc,#b1b1b1,#a5a5a5,#989898,#8d8d8d,#828282,#797979,#727272,#6d6d6d,#6b6b6b,#6c6c6c,#707070,#767676,#7e7e7e,#878787)"></i><i style="background:linear-gradient(90deg,#8d8d8d,#989898,#a4a4a4,#b0b0b0,#bbb,#c5c5c5,#cecece,#d5d5d5,#dbdbdb,#dedede,#e0e0e0,#e0e0e0,#ddd,#d8d8d8,#d2d2d2,#c9c9c9,#bfbfbf,#b4b4b4,#a8a8a8,#9c9c9c,#909090,#858585,#7b7b7b,#737373,#6e6e6e,#6b6b6b,#6c6c6c,#6e6e6e,#747474,#7c7c7c,#858585,#909090)"></i><i style="background:linear-gradient(90deg,#959595,#a1a1a1,#adadad,#b8b8b8,#c3c3c3,#ccc,#d3d3d3,#d9d9d9,#dedede,#e0e0e0,#e0e0e0,#dedede,#d9d9d9,#d3d3d3,#cbcbcb,#c2c2c2,#b7b7b7,#ababab,#9f9f9f,#939393,#878787,#7d7d7d,#757575,#6f6f6f,#6c6c6c,#6b6b6b,#6d6d6d,#727272,#797979,#838383,#8d8d8d,#989898)"></i><i style="background:linear-gradient(90deg,#9e9e9e,#aaa,#b5b5b5,#c0c0c0,#cacaca,#d2d2d2,#d8d8d8,#ddd,#dfdfdf,#e0e0e0,#dedede,#dbdbdb,#d5d5d5,#cdcdcd,#c4c4c4,#bababa,#aeaeae,#a2a2a2,#969696,#8a8a8a,#808080,#777,#717171,#6c6c6c,#6b6b6b,#6d6d6d,#717171,#777,#808080,#8a8a8a,#959595,#a1a1a1)"></i><i style="background:linear-gradient(90deg,#a7a7a7,#b3b3b3,#bebebe,#c7c7c7,#d0d0d0,#d7d7d7,#dcdcdc,#dfdfdf,#e0e0e0,#dfdfdf,#dcdcdc,#d6d6d6,#cfcfcf,#c7c7c7,#bcbcbc,#b1b1b1,#a5a5a5,#999,#8d8d8d,#828282,#797979,#727272,#6d6d6d,#6b6b6b,#6c6c6c,#707070,#767676,#7e7e7e,#888,#939393,#9e9e9e,#aaa)"></i><i style="background:linear-gradient(90deg,#b0b0b0,#bbb,#c5c5c5,#cecece,#d5d5d5,#dadada,#dedede,#e0e0e0,#dfdfdf,#ddd,#d8d8d8,#d1d1d1,#c9c9c9,#bfbfbf,#b4b4b4,#a8a8a8,#9c9c9c,#909090,#858585,#7b7b7b,#747474,#6e6e6e,#6c6c6c,#6c6c6c,#6e6e6e,#747474,#7b7b7b,#858585,#909090,#9b9b9b,#a7a7a7,#b3b3b3)"></i><i style="background:linear-gradient(90deg,#b8b8b8,#c3c3c3,#ccc,#d3d3d3,#d9d9d9,#ddd,#dfdfdf,#dfdfdf,#ddd,#d9d9d9,#d3d3d3,#cbcbcb,#c2c2c2,#b7b7b7,#ababab,#9f9f9f,#939393,#888,#7e7e7e,#757575,#6f6f6f,#6c6c6c,#6b6b6b,#6d6d6d,#727272,#797979,#828282,#8d8d8d,#989898,#a4a4a4,#b0b0b0,#bbb)"></i><i style="background:linear-gradient(90deg,#c0c0c0,#c9c9c9,#d1d1d1,#d8d8d8,#dcdcdc,#dfdfdf,#dfdfdf,#dedede,#dadada,#d5d5d5,#cdcdcd,#c4c4c4,#bababa,#aeaeae,#a2a2a2,#969696,#8b8b8b,#808080,#777,#717171,#6d6d6d,#6b6b6b,#6d6d6d,#717171,#777,#808080,#8a8a8a,#959595,#a1a1a1,#adadad,#b8b8b8,#c2c2c2)"></i><i style="background:linear-gradient(90deg,#c7c7c7,#d0d0d0,#d6d6d6,#dbdbdb,#dedede,#dfdfdf,#dfdfdf,#dbdbdb,#d6d6d6,#d0d0d0,#c7c7c7,#bdbdbd,#b2b2b2,#a6a6a6,#999,#8e8e8e,#838383,#7a7a7a,#727272,#6d6d6d,#6b6b6b,#6c6c6c,#6f6f6f,#757575,#7d7d7d,#878787,#929292,#9e9e9e,#aaa,#b5b5b5,#c0c0c0,#c9c9c9)"></i><i style="background:linear-gradient(90deg,#cecece,#d5d5d5,#dadada,#dedede,#dfdfdf,#dfdfdf,#dcdcdc,#d8d8d8,#d1d1d1,#c9c9c9,#bfbfbf,#b5b5b5,#a9a9a9,#9d9d9d,#919191,#868686,#7c7c7c,#747474,#6e6e6e,#6c6c6c,#6c6c6c,#6e6e6e,#737373,#7b7b7b,#848484,#8f8f8f,#9b9b9b,#a7a7a7,#b2b2b2,#bdbdbd,#c7c7c7,#cfcfcf)"></i><i style="background:linear-gradient(90deg,#d3d3d3,#d9d9d9,#ddd,#dfdfdf,#dfdfdf,#ddd,#d9d9d9,#d3d3d3,#ccc,#c2c2c2,#b7b7b7,#acacac,#a0a0a0,#949494,#888,#7e7e7e,#767676,#707070,#6c6c6c,#6b6b6b,#6d6d6d,#727272,#797979,#828282,#8c8c8c,#989898,#a4a4a4,#afafaf,#bababa,#c5c5c5,#cdcdcd,#d5d5d5)"></i><i style="background:linear-gradient(90deg,#d8d8d8,#dcdcdc,#dfdfdf,#dfdfdf,#dedede,#dbdbdb,#d5d5d5,#cecece,#c5c5c5,#bababa,#afafaf,#a3a3a3,#979797,#8b8b8b,#818181,#787878,#717171,#6d6d6d,#6b6b6b,#6c6c6c,#707070,#777,#7f7f7f,#898989,#959595,#a0a0a0,#acacac,#b8b8b8,#c2c2c2,#cbcbcb,#d3d3d3,#d9d9d9)"></i><i style="background:linear-gradient(90deg,#dbdbdb,#dedede,#dfdfdf,#dfdfdf,#dcdcdc,#d7d7d7,#d0d0d0,#c7c7c7,#bdbdbd,#b2b2b2,#a6a6a6,#9a9a9a,#8e8e8e,#838383,#7a7a7a,#737373,#6e6e6e,#6b6b6b,#6c6c6c,#6f6f6f,#757575,#7d7d7d,#878787,#929292,#9d9d9d,#a9a9a9,#b5b5b5,#bfbfbf,#c9c9c9,#d1d1d1,#d8d8d8,#dcdcdc)"></i><i style="background:linear-gradient(90deg,#dedede,#dfdfdf,#dfdfdf,#ddd,#d8d8d8,#d2d2d2,#cacaca,#c0c0c0,#b5b5b5,#a9a9a9,#9d9d9d,#919191,#868686,#7c7c7c,#747474,#6f6f6f,#6c6c6c,#6b6b6b,#6e6e6e,#737373,#7b7b7b,#848484,#8f8f8f,#9a9a9a,#a6a6a6,#b2b2b2,#bdbdbd,#c7c7c7,#cfcfcf,#d6d6d6,#dbdbdb,#dedede)"></i><i style="background:linear-gradient(90deg,#dfdfdf,#dfdfdf,#ddd,#d9d9d9,#d4d4d4,#ccc,#c3c3c3,#b8b8b8,#acacac,#a0a0a0,#949494,#898989,#7f7f7f,#767676,#707070,#6c6c6c,#6b6b6b,#6d6d6d,#727272,#787878,#818181,#8c8c8c,#979797,#a3a3a3,#afafaf,#bababa,#c4c4c4,#cdcdcd,#d4d4d4,#dadada,#dedede,#dfdfdf)"></i><i style="background:linear-gradient(90deg,#dfdfdf,#dedede,#dbdbdb,#d5d5d5,#cecece,#c5c5c5,#bbb,#afafaf,#a4a4a4,#979797,#8c8c8c,#818181,#787878,#717171,#6d6d6d,#6b6b6b,#6c6c6c,#707070,#767676,#7f7f7f,#898989,#949494,#a0a0a0,#acacac,#b7b7b7,#c2c2c2,#cbcbcb,#d3d3d3,#d9d9d9,#ddd,#dfdfdf,#dfdfdf)"></i><i style="background:linear-gradient(90deg,#dfdfdf,#dcdcdc,#d7d7d7,#d0d0d0,#c8c8c8,#bebebe,#b3b3b3,#a7a7a7,#9b9b9b,#8f8f8f,#848484,#7a7a7a,#737373,#6e6e6e,#6b6b6b,#6c6c6c,#6f6f6f,#757575,#7c7c7c,#868686,#919191,#9d9d9d,#a9a9a9,#b4b4b4,#bfbfbf,#c9c9c9,#d1d1d1,#d7d7d7,#dcdcdc,#dfdfdf,#dfdfdf,#dedede)"></i><i style="background:linear-gradient(90deg,#ddd,#d8d8d8,#d2d2d2,#cacaca,#c0c0c0,#b6b6b6,#aaa,#9e9e9e,#929292,#878787,#7d7d7d,#757575,#6f6f6f,#6c6c6c,#6b6b6b,#6e6e6e,#737373,#7a7a7a,#838383,#8e8e8e,#9a9a9a,#a6a6a6,#b1b1b1,#bcbcbc,#c6c6c6,#cfcfcf,#d6d6d6,#dbdbdb,#dedede,#dfdfdf,#dfdfdf,#dcdcdc)"></i><i style="background:linear-gradient(90deg,#dadada,#d4d4d4,#ccc,#c3c3c3,#b9b9b9,#adadad,#a1a1a1,#959595,#898989,#7f7f7f,#777,#707070,#6c6c6c,#6b6b6b,#6d6d6d,#717171,#787878,#818181,#8b8b8b,#979797,#a2a2a2,#aeaeae,#b9b9b9,#c4c4c4,#cdcdcd,#d4d4d4,#dadada,#dedede,#dfdfdf,#dfdfdf,#ddd,#d8d8d8)"></i><i style="background:linear-gradient(90deg,#d6d6d6,#cecece,#c6c6c6,#bbb,#b0b0b0,#a4a4a4,#989898,#8c8c8c,#828282,#797979,#727272,#6d6d6d,#6b6b6b,#6c6c6c,#707070,#767676,#7e7e7e,#888,#939393,#9f9f9f,#ababab,#b7b7b7,#c1c1c1,#cbcbcb,#d2d2d2,#d9d9d9,#ddd,#dfdfdf,#dfdfdf,#dedede,#dadada,#d4d4d4)"></i><i style="background:linear-gradient(90deg,#d1d1d1,#c8c8c8,#bebebe,#b3b3b3,#a7a7a7,#9b9b9b,#8f8f8f,#848484,#7b7b7b,#737373,#6e6e6e,#6b6b6b,#6c6c6c,#6f6f6f,#747474,#7c7c7c,#868686,#909090,#9c9c9c,#a8a8a8,#b4b4b4,#bebebe,#c8c8c8,#d0d0d0,#d7d7d7,#dcdcdc,#dfdfdf,#e0e0e0,#dedede,#dbdbdb,#d6d6d6,#cfcfcf)"></i><i style="background:linear-gradient(90deg,#cacaca,#c1c1c1,#b6b6b6,#aaa,#9e9e9e,#929292,#878787,#7d7d7d,#757575,#6f6f6f,#6c6c6c,#6b6b6b,#6e6e6e,#727272,#7a7a7a,#838383,#8d8d8d,#999,#a5a5a5,#b1b1b1,#bcbcbc,#c6c6c6,#cecece,#d6d6d6,#dbdbdb,#dedede,#dfdfdf,#dfdfdf,#dcdcdc,#d7d7d7,#d1d1d1,#c8c8c8)"></i><i style="background:linear-gradient(90deg,#c4c4c4,#b9b9b9,#aeaeae,#a2a2a2,#969696,#8a8a8a,#808080,#777,#717171,#6c6c6c,#6b6b6b,#6d6d6d,#717171,#787878,#808080,#8b8b8b,#969696,#a2a2a2,#aeaeae,#b9b9b9,#c3c3c3,#ccc,#d4d4d4,#dadada,#ddd,#dfdfdf,#dfdfdf,#ddd,#d9d9d9,#d3d3d3,#cbcbcb,#c1c1c1)"></i><i style="background:linear-gradient(90deg,#bcbcbc,#b1b1b1,#a5a5a5,#999,#8d8d8d,#828282,#797979,#727272,#6d6d6d,#6b6b6b,#6c6c6c,#707070,#767676,#7e7e7e,#888,#939393,#9f9f9f,#ababab,#b6b6b6,#c1c1c1,#cacaca,#d2d2d2,#d8d8d8,#ddd,#dfdfdf,#dfdfdf,#dedede,#dadada,#d4d4d4,#cdcdcd,#c4c4c4,#b9b9b9)"></i><i style="background:linear-gradient(90deg,#b4b4b4,#a8a8a8,#9c9c9c,#909090,#858585,#7b7b7b,#747474,#6e6e6e,#6c6c6c,#6c6c6c,#6e6e6e,#747474,#7b7b7b,#858585,#909090,#9c9c9c,#a7a7a7,#b3b3b3,#bebebe,#c8c8c8,#d0d0d0,#d7d7d7,#dcdcdc,#dfdfdf,#e0e0e0,#dedede,#dbdbdb,#d6d6d6,#cfcfcf,#c6c6c6,#bcbcbc,#b1b1b1)"></i><i style="background:linear-gradient(90deg,#ababab,#9f9f9f,#939393,#888,#7e7e7e,#757575,#6f6f6f,#6c6c6c,#6b6b6b,#6d6d6d,#727272,#797979,#828282,#8d8d8d,#989898,#a4a4a4,#b0b0b0,#bbb,#c5c5c5,#cecece,#d5d5d5,#dbdbdb,#dedede,#dfdfdf,#dfdfdf,#dcdcdc,#d8d8d8,#d1d1d1,#c9c9c9,#bfbfbf,#b4b4b4,#a8a8a8)"></i><i style="background:linear-gradient(90deg,#a2a2a2,#969696,#8b8b8b,#808080,#777,#717171,#6d6d6d,#6b6b6b,#6d6d6d,#717171,#777,#808080,#8a8a8a,#959595,#a1a1a1,#adadad,#b8b8b8,#c3c3c3,#ccc,#d3d3d3,#d9d9d9,#ddd,#dfdfdf,#dfdfdf,#ddd,#d9d9d9,#d3d3d3,#cbcbcb,#c2c2c2,#b7b7b7,#ababab,#9f9f9f)"></i><i style="background:linear-gradient(90deg,#999,#8e8e8e,#838383,#7a7a7a,#727272,#6d6d6d,#6b6b6b,#6c6c6c,#6f6f6f,#757575,#7d7d7d,#878787,#929292,#9e9e9e,#aaa,#b5b5b5,#c0c0c0,#cacaca,#d2d2d2,#d8d8d8,#dcdcdc,#dfdfdf,#dfdfdf,#dedede,#dadada,#d5d5d5,#cdcdcd,#c4c4c4,#bababa,#aeaeae,#a2a2a2,#969696)"></i><i style="background:linear-gradient(90deg,#919191,#868686,#7c7c7c,#747474,#6e6e6e,#6c6c6c,#6b6b6b,#6e6e6e,#737373,#7b7b7b,#848484,#8f8f8f,#9b9b9b,#a7a7a7,#b2b2b2,#bdbdbd,#c7c7c7,#d0d0d0,#d6d6d6,#dbdbdb,#dfdfdf,#e0e0e0,#dedede,#dbdbdb,#d6d6d6,#cfcfcf,#c7c7c7,#bdbdbd,#b1b1b1,#a6a6a6,#9a9a9a,#8e8e8e)"></i><i style="background:linear-gradient(90deg,#888,#7e7e7e,#767676,#707070,#6c6c6c,#6b6b6b,#6d6d6d,#727272,#797979,#828282,#8c8c8c,#989898,#a4a4a4,#afafaf,#bbb,#c5c5c5,#cecece,#d5d5d5,#dadada,#dedede,#dfdfdf,#dfdfdf,#dcdcdc,#d8d8d8,#d1d1d1,#c9c9c9,#bfbfbf,#b5b5b5,#a9a9a9,#9d9d9d,#919191,#868686)"></i><i style="background:linear-gradient(90deg,#818181,#787878,#717171,#6d6d6d,#6b6b6b,#6c6c6c,#707070,#777,#7f7f7f,#898989,#959595,#a1a1a1,#acacac,#b8b8b8,#c2c2c2,#cbcbcb,#d3d3d3,#d9d9d9,#ddd,#dfdfdf,#dfdfdf,#ddd,#d9d9d9,#d3d3d3,#ccc,#c2c2c2,#b8b8b8,#acacac,#a0a0a0,#949494,#898989,#7e7e7e)"></i><i style="background:linear-gradient(90deg,#7a7a7a,#737373,#6e6e6e,#6b6b6b,#6c6c6c,#6f6f6f,#757575,#7d7d7d,#878787,#929292,#9d9d9d,#a9a9a9,#b5b5b5,#c0c0c0,#c9c9c9,#d1d1d1,#d8d8d8,#dcdcdc,#dfdfdf,#dfdfdf,#dedede,#dbdbdb,#d5d5d5,#cecece,#c5c5c5,#bababa,#afafaf,#a3a3a3,#979797,#8b8b8b,#818181,#787878)"></i><i style="background:linear-gradient(90deg,#747474,#6f6f6f,#6c6c6c,#6b6b6b,#6e6e6e,#737373,#7b7b7b,#848484,#8f8f8f,#9a9a9a,#a6a6a6,#b2b2b2,#bdbdbd,#c7c7c7,#cfcfcf,#d6d6d6,#dbdbdb,#dedede,#e0e0e0,#dfdfdf,#dcdcdc,#d7d7d7,#d0d0d0,#c7c7c7,#bdbdbd,#b2b2b2,#a6a6a6,#9a9a9a,#8e8e8e,#848484,#7a7a7a,#737373)"></i><i style="background:linear-gradient(90deg,#707070,#6c6c6c,#6b6b6b,#6d6d6d,#717171,#787878,#818181,#8c8c8c,#979797,#a3a3a3,#afafaf,#bababa,#c4c4c4,#cdcdcd,#d5d5d5,#dadada,#dedede,#dfdfdf,#dfdfdf,#ddd,#d8d8d8,#d2d2d2,#cacaca,#c0c0c0,#b5b5b5,#a9a9a9,#9d9d9d,#919191,#868686,#7c7c7c,#747474,#6f6f6f)"></i><i style="background:linear-gradient(90deg,#6d6d6d,#6b6b6b,#6c6c6c,#707070,#767676,#7f7f7f,#898989,#949494,#a0a0a0,#acacac,#b7b7b7,#c2c2c2,#cbcbcb,#d3d3d3,#d9d9d9,#ddd,#dfdfdf,#dfdfdf,#ddd,#dadada,#d4d4d4,#ccc,#c3c3c3,#b8b8b8,#adadad,#a1a1a1,#959595,#898989,#7f7f7f,#767676,#707070,#6c6c6c)"></i><i style="background:linear-gradient(90deg,#6b6b6b,#6c6c6c,#6f6f6f,#747474,#7c7c7c,#868686,#919191,#9d9d9d,#a9a9a9,#b4b4b4,#bfbfbf,#c9c9c9,#d1d1d1,#d7d7d7,#dcdcdc,#dfdfdf,#dfdfdf,#dedede,#dbdbdb,#d5d5d5,#cecece,#c5c5c5,#bbb,#b0b0b0,#a4a4a4,#989898,#8c8c8c,#818181,#787878,#717171,#6d6d6d,#6b6b6b)"></i><i style="background:linear-gradient(90deg,#6b6b6b,#6e6e6e,#737373,#7a7a7a,#838383,#8e8e8e,#9a9a9a,#a6a6a6,#b1b1b1,#bcbcbc,#c6c6c6,#cfcfcf,#d6d6d6,#dbdbdb,#dedede,#e0e0e0,#dfdfdf,#dcdcdc,#d7d7d7,#d0d0d0,#c8c8c8,#bebebe,#b3b3b3,#a7a7a7,#9b9b9b,#8f8f8f,#848484,#7b7b7b,#737373,#6e6e6e,#6b6b6b,#6c6c6c)"></i><i style="background:linear-gradient(90deg,#6d6d6d,#717171,#787878,#818181,#8b8b8b,#979797,#a2a2a2,#aeaeae,#b9b9b9,#c4c4c4,#cdcdcd,#d4d4d4,#dadada,#dedede,#dfdfdf,#dfdfdf,#ddd,#d8d8d8,#d2d2d2,#cacaca,#c1c1c1,#b6b6b6,#aaa,#9e9e9e,#929292,#878787,#7d7d7d,#757575,#6f6f6f,#6c6c6c,#6b6b6b,#6e6e6e)"></i><i style="background:linear-gradient(90deg,#707070,#767676,#7e7e7e,#888,#939393,#9f9f9f,#ababab,#b7b7b7,#c1c1c1,#cbcbcb,#d2d2d2,#d9d9d9,#ddd,#dfdfdf,#dfdfdf,#dedede,#dadada,#d4d4d4,#ccc,#c3c3c3,#b9b9b9,#adadad,#a1a1a1,#959595,#8a8a8a,#7f7f7f,#777,#707070,#6c6c6c,#6b6b6b,#6d6d6d,#717171)"></i><i style="background:linear-gradient(90deg,#747474,#7c7c7c,#858585,#909090,#9c9c9c,#a8a8a8,#b4b4b4,#bfbfbf,#c8c8c8,#d1d1d1,#d7d7d7,#dcdcdc,#dfdfdf,#e0e0e0,#dedede,#dbdbdb,#d6d6d6,#cfcfcf,#c6c6c6,#bcbcbc,#b0b0b0,#a4a4a4,#989898,#8d8d8d,#828282,#797979,#727272,#6d6d6d,#6b6b6b,#6c6c6c,#707070,#767676)"></i><i style="background:linear-gradient(90deg,#7a7a7a,#838383,#8d8d8d,#999,#a5a5a5,#b1b1b1,#bcbcbc,#c6c6c6,#cfcfcf,#d6d6d6,#dbdbdb,#dedede,#dfdfdf,#dfdfdf,#dcdcdc,#d7d7d7,#d1d1d1,#c8c8c8,#bebebe,#b3b3b3,#a8a8a8,#9b9b9b,#909090,#858585,#7b7b7b,#737373,#6e6e6e,#6b6b6b,#6c6c6c,#6e6e6e,#747474,#7c7c7c)"></i><i style="background:linear-gradient(90deg,#808080,#8b8b8b,#969696,#a2a2a2,#aeaeae,#b9b9b9,#c3c3c3,#ccc,#d4d4d4,#dadada,#ddd,#dfdfdf,#dfdfdf,#ddd,#d9d9d9,#d3d3d3,#cbcbcb,#c1c1c1,#b6b6b6,#ababab,#9f9f9f,#939393,#878787,#7d7d7d,#757575,#6f6f6f,#6c6c6c,#6b6b6b,#6d6d6d,#727272,#797979,#838383)"></i><i style="background:linear-gradient(90deg,#888,#939393,#9f9f9f,#ababab,#b6b6b6,#c1c1c1,#cacaca,#d2d2d2,#d8d8d8,#ddd,#dfdfdf,#dfdfdf,#dedede,#dadada,#d4d4d4,#cdcdcd,#c4c4c4,#b9b9b9,#aeaeae,#a2a2a2,#969696,#8a8a8a,#808080,#777,#717171,#6d6d6d,#6b6b6b,#6d6d6d,#717171,#777,#808080,#8a8a8a)"></i><i style="background:linear-gradient(90deg,#909090,#9c9c9c,#a7a7a7,#b3b3b3,#bebebe,#c8c8c8,#d0d0d0,#d7d7d7,#dcdcdc,#dfdfdf,#e0e0e0,#dedede,#dbdbdb,#d6d6d6,#cfcfcf,#c6c6c6,#bcbcbc,#b1b1b1,#a5a5a5,#999,#8d8d8d,#838383,#797979,#727272,#6d6d6d,#6b6b6b,#6c6c6c,#6f6f6f,#757575,#7e7e7e,#888,#939393)"></i><i style="background:linear-gradient(90deg,#989898,#a4a4a4,#b0b0b0,#bbb,#c5c5c5,#cecece,#d5d5d5,#dbdbdb,#dedede,#dfdfdf,#dfdfdf,#dcdcdc,#d8d8d8,#d1d1d1,#c9c9c9,#bfbfbf,#b4b4b4,#a8a8a8,#9c9c9c,#909090,#858585,#7c7c7c,#747474,#6e6e6e,#6c6c6c,#6c6c6c,#6e6e6e,#747474,#7b7b7b,#858585,#909090,#9b9b9b)"></i><i style="background:linear-gradient(90deg,#a1a1a1,#adadad,#b8b8b8,#c3c3c3,#ccc,#d4d4d4,#d9d9d9,#ddd,#dfdfdf,#dfdfdf,#ddd,#d9d9d9,#d3d3d3,#cbcbcb,#c2c2c2,#b7b7b7,#ababab,#9f9f9f,#939393,#888,#7e7e7e,#767676,#707070,#6c6c6c,#6b6b6b,#6d6d6d,#727272,#797979,#828282,#8d8d8d,#989898,#a4a4a4)"></i><i style="background:linear-gradient(90deg,#aaa,#b5b5b5,#c0c0c0,#cacaca,#d2d2d2,#d8d8d8,#dcdcdc,#dfdfdf,#dfdfdf,#dedede,#dadada,#d5d5d5,#cdcdcd,#c4c4c4,#bababa,#aeaeae,#a2a2a2,#969696,#8b8b8b,#808080,#787878,#717171,#6d6d6d,#6b6b6b,#6c6c6c,#707070,#777,#808080,#8a8a8a,#959595,#a1a1a1,#adadad)"></i><i style="background:linear-gradient(90deg,#b2b2b2,#bdbdbd,#c7c7c7,#d0d0d0,#d7d7d7,#dcdcdc,#dfdfdf,#e0e0e0,#dedede,#dbdbdb,#d6d6d6,#cfcfcf,#c7c7c7,#bdbdbd,#b1b1b1,#a6a6a6,#9a9a9a,#8e8e8e,#838383,#7a7a7a,#727272,#6e6e6e,#6b6b6b,#6c6c6c,#6f6f6f,#757575,#7d7d7d,#878787,#929292,#9e9e9e,#aaa,#b5b5b5)"></i><i style="background:linear-gradient(90deg,#bbb,#c5c5c5,#cecece,#d5d5d5,#dadada,#dedede,#dfdfdf,#dfdfdf,#dcdcdc,#d8d8d8,#d1d1d1,#c9c9c9,#bfbfbf,#b4b4b4,#a9a9a9,#9d9d9d,#919191,#868686,#7c7c7c,#747474,#6f6f6f,#6c6c6c,#6b6b6b,#6e6e6e,#737373,#7b7b7b,#848484,#8f8f8f,#9b9b9b,#a7a7a7,#b2b2b2,#bdbdbd)"></i><i style="background:linear-gradient(90deg,#c2c2c2,#ccc,#d3d3d3,#d9d9d9,#ddd,#dfdfdf,#dfdfdf,#ddd,#d9d9d9,#d3d3d3,#cbcbcb,#c2c2c2,#b7b7b7,#acacac,#a0a0a0,#949494,#898989,#7e7e7e,#767676,#707070,#6c6c6c,#6b6b6b,#6d6d6d,#727272,#797979,#828282,#8c8c8c,#989898,#a3a3a3,#afafaf,#bababa,#c5c5c5)"></i><i style="background:linear-gradient(90deg,#c9c9c9,#d1d1d1,#d8d8d8,#dcdcdc,#dfdfdf,#dfdfdf,#dedede,#dadada,#d5d5d5,#cecece,#c5c5c5,#bababa,#afafaf,#a3a3a3,#979797,#8b8b8b,#818181,#787878,#717171,#6d6d6d,#6b6b6b,#6c6c6c,#707070,#777,#7f7f7f,#898989,#949494,#a0a0a0,#acacac,#b8b8b8,#c2c2c2,#cbcbcb)"></i><i style="background:linear-gradient(90deg,#cfcfcf,#d6d6d6,#dbdbdb,#dedede,#e0e0e0,#dfdfdf,#dcdcdc,#d7d7d7,#d0d0d0,#c7c7c7,#bdbdbd,#b2b2b2,#a6a6a6,#9a9a9a,#8e8e8e,#848484,#7a7a7a,#737373,#6e6e6e,#6b6b6b,#6c6c6c,#6f6f6f,#757575,#7d7d7d,#868686,#919191,#9d9d9d,#a9a9a9,#b5b5b5,#bfbfbf,#c9c9c9,#d1d1d1)"></i><i style="background:linear-gradient(90deg,#d5d5d5,#dadada,#dedede,#dfdfdf,#dfdfdf,#ddd,#d8d8d8,#d2d2d2,#cacaca,#c0c0c0,#b5b5b5,#a9a9a9,#9d9d9d,#919191,#868686,#7d7d7d,#757575,#6f6f6f,#6c6c6c,#6b6b6b,#6e6e6e,#737373,#7a7a7a,#848484,#8e8e8e,#9a9a9a,#a6a6a6,#b2b2b2,#bdbdbd,#c7c7c7,#cfcfcf,#d6d6d6)"></i><i style="background:linear-gradient(90deg,#d9d9d9,#ddd,#dfdfdf,#dfdfdf,#ddd,#d9d9d9,#d4d4d4,#ccc,#c3c3c3,#b8b8b8,#adadad,#a1a1a1,#959595,#898989,#7f7f7f,#767676,#707070,#6c6c6c,#6b6b6b,#6d6d6d,#717171,#787878,#818181,#8b8b8b,#979797,#a3a3a3,#afafaf,#bababa,#c4c4c4,#cdcdcd,#d5d5d5,#dadada)"></i><i style="background:linear-gradient(90deg,#dcdcdc,#dfdfdf,#dfdfdf,#dedede,#dbdbdb,#d5d5d5,#cecece,#c5c5c5,#bbb,#b0b0b0,#a4a4a4,#989898,#8c8c8c,#828282,#787878,#727272,#6d6d6d,#6b6b6b,#6c6c6c,#707070,#767676,#7f7f7f,#898989,#949494,#a0a0a0,#acacac,#b7b7b7,#c2c2c2,#cbcbcb,#d3d3d3,#d9d9d9,#ddd)"></i><i style="background:linear-gradient(90deg,#dedede,#dfdfdf,#dfdfdf,#dcdcdc,#d7d7d7,#d0d0d0,#c8c8c8,#bebebe,#b3b3b3,#a7a7a7,#9b9b9b,#8f8f8f,#848484,#7b7b7b,#737373,#6e6e6e,#6b6b6b,#6c6c6c,#6f6f6f,#747474,#7c7c7c,#868686,#919191,#9d9d9d,#a9a9a9,#b4b4b4,#bfbfbf,#c9c9c9,#d1d1d1,#d7d7d7,#dcdcdc,#dfdfdf)"></i><i style="background:linear-gradient(90deg,#dfdfdf,#dfdfdf,#ddd,#d8d8d8,#d2d2d2,#cacaca,#c0c0c0,#b6b6b6,#aaa,#9e9e9e,#929292,#878787,#7d7d7d,#757575,#6f6f6f,#6c6c6c,#6b6b6b,#6e6e6e,#737373,#7a7a7a,#838383,#8e8e8e,#999,#a5a5a5,#b1b1b1,#bcbcbc,#c6c6c6,#cfcfcf,#d6d6d6,#dbdbdb,#dedede,#dfdfdf)"></i><i style="background:linear-gradient(90deg,#dfdfdf,#ddd,#dadada,#d4d4d4,#ccc,#c3c3c3,#b9b9b9,#adadad,#a1a1a1,#959595,#8a8a8a,#7f7f7f,#777,#707070,#6c6c6c,#6b6b6b,#6d6d6d,#717171,#787878,#818181,#8b8b8b,#969696,#a2a2a2,#aeaeae,#b9b9b9,#c4c4c4,#cdcdcd,#d4d4d4,#dadada,#dedede,#dfdfdf,#dfdfdf)"></i><i style="background:linear-gradient(90deg,#dedede,#dbdbdb,#d6d6d6,#cecece,#c6c6c6,#bbb,#b0b0b0,#a4a4a4,#989898,#8d8d8d,#828282,#797979,#727272,#6d6d6d,#6b6b6b,#6c6c6c,#707070,#767676,#7e7e7e,#888,#939393,#9f9f9f,#ababab,#b7b7b7,#c1c1c1,#cbcbcb,#d2d2d2,#d9d9d9,#ddd,#dfdfdf,#dfdfdf,#dedede)"></i><i style="background:linear-gradient(90deg,#dcdcdc,#d7d7d7,#d0d0d0,#c8c8c8,#bebebe,#b3b3b3,#a7a7a7,#9b9b9b,#909090,#858585,#7b7b7b,#737373,#6e6e6e,#6b6b6b,#6c6c6c,#6e6e6e,#747474,#7c7c7c,#858585,#909090,#9c9c9c,#a8a8a8,#b4b4b4,#bebebe,#c8c8c8,#d1d1d1,#d7d7d7,#dcdcdc,#dfdfdf,#dfdfdf,#dedede,#dbdbdb)"></i><i style="background:linear-gradient(90deg,#d9d9d9,#d2d2d2,#cacaca,#c1c1c1,#b6b6b6,#ababab,#9f9f9f,#939393,#878787,#7d7d7d,#757575,#6f6f6f,#6c6c6c,#6b6b6b,#6d6d6d,#727272,#797979,#838383,#8d8d8d,#999,#a5a5a5,#b1b1b1,#bcbcbc,#c6c6c6,#cfcfcf,#d6d6d6,#dbdbdb,#dedede,#dfdfdf,#dfdfdf,#dcdcdc,#d7d7d7)"></i><i style="background:linear-gradient(90deg,#d4d4d4,#cdcdcd,#c4c4c4,#b9b9b9,#aeaeae,#a2a2a2,#969696,#8a8a8a,#808080,#777,#717171,#6d6d6d,#6b6b6b,#6d6d6d,#717171,#777,#808080,#8a8a8a,#969696,#a2a2a2,#aeaeae,#b9b9b9,#c3c3c3,#ccc,#d4d4d4,#dadada,#ddd,#dfdfdf,#dfdfdf,#ddd,#d9d9d9,#d2d2d2)"></i><i style="background:linear-gradient(90deg,#cfcfcf,#c6c6c6,#bcbcbc,#b1b1b1,#a5a5a5,#999,#8d8d8d,#838383,#797979,#727272,#6d6d6d,#6b6b6b,#6c6c6c,#6f6f6f,#757575,#7e7e7e,#888,#939393,#9f9f9f,#ababab,#b6b6b6,#c1c1c1,#cacaca,#d2d2d2,#d8d8d8,#ddd,#dfdfdf,#dfdfdf,#dedede,#dadada,#d4d4d4,#cdcdcd)"></i><i style="background:linear-gradient(90deg,#c8c8c8,#bfbfbf,#b4b4b4,#a8a8a8,#9c9c9c,#909090,#858585,#7c7c7c,#747474,#6e6e6e,#6c6c6c,#6c6c6c,#6e6e6e,#747474,#7b7b7b,#858585,#909090,#9b9b9b,#a7a7a7,#b3b3b3,#bebebe,#c8c8c8,#d0d0d0,#d7d7d7,#dcdcdc,#dfdfdf,#dfdfdf,#dedede,#dbdbdb,#d6d6d6,#cfcfcf,#c6c6c6)"></i><i style="background:linear-gradient(90deg,#c1c1c1,#b7b7b7,#ababab,#9f9f9f,#939393,#888,#7e7e7e,#767676,#707070,#6c6c6c,#6b6b6b,#6d6d6d,#727272,#797979,#828282,#8d8d8d,#989898,#a4a4a4,#b0b0b0,#bbb,#c6c6c6,#cecece,#d5d5d5,#dbdbdb,#dedede,#dfdfdf,#dfdfdf,#dcdcdc,#d7d7d7,#d1d1d1,#c9c9c9,#bfbfbf)"></i><i style="background:linear-gradient(90deg,#b9b9b9,#aeaeae,#a2a2a2,#969696,#8b8b8b,#808080,#787878,#717171,#6d6d6d,#6b6b6b,#6c6c6c,#707070,#777,#808080,#8a8a8a,#959595,#a1a1a1,#adadad,#b9b9b9,#c3c3c3,#ccc,#d4d4d4,#dadada,#ddd,#dfdfdf,#dfdfdf,#ddd,#d9d9d9,#d3d3d3,#cbcbcb,#c1c1c1,#b7b7b7)"></i><i style="background:linear-gradient(90deg,#b1b1b1,#a5a5a5,#999,#8e8e8e,#838383,#7a7a7a,#727272,#6e6e6e,#6b6b6b,#6c6c6c,#6f6f6f,#757575,#7d7d7d,#878787,#929292,#9e9e9e,#aaa,#b6b6b6,#c0c0c0,#cacaca,#d2d2d2,#d8d8d8,#ddd,#dfdfdf,#dfdfdf,#dedede,#dadada,#d4d4d4,#cdcdcd,#c4c4c4,#bababa,#aeaeae)"></i><i style="background:linear-gradient(90deg,#a8a8a8,#9c9c9c,#919191,#868686,#7c7c7c,#747474,#6f6f6f,#6c6c6c,#6b6b6b,#6e6e6e,#737373,#7b7b7b,#848484,#8f8f8f,#9b9b9b,#a7a7a7,#b3b3b3,#bebebe,#c8c8c8,#d0d0d0,#d7d7d7,#dcdcdc,#dfdfdf,#e0e0e0,#dedede,#dbdbdb,#d6d6d6,#cfcfcf,#c6c6c6,#bcbcbc,#b1b1b1,#a5a5a5)"></i><i style="background:linear-gradient(90deg,#9f9f9f,#949494,#888,#7e7e7e,#767676,#707070,#6c6c6c,#6b6b6b,#6d6d6d,#727272,#797979,#828282,#8c8c8c,#989898,#a4a4a4,#b0b0b0,#bbb,#c5c5c5,#cecece,#d6d6d6,#dbdbdb,#dedede,#e0e0e0,#dfdfdf,#dcdcdc,#d7d7d7,#d1d1d1,#c9c9c9,#bfbfbf,#b4b4b4,#a8a8a8,#9c9c9c)"></i><i style="background:linear-gradient(90deg,#969696,#8b8b8b,#818181,#787878,#717171,#6d6d6d,#6b6b6b,#6c6c6c,#707070,#777,#7f7f7f,#898989,#959595,#a1a1a1,#adadad,#b8b8b8,#c3c3c3,#ccc,#d4d4d4,#dadada,#dedede,#e0e0e0,#e0e0e0,#ddd,#d9d9d9,#d3d3d3,#cbcbcb,#c1c1c1,#b7b7b7,#ababab,#9f9f9f,#949494)"></i><i style="background:linear-gradient(90deg,#8e8e8e,#838383,#7a7a7a,#737373,#6e6e6e,#6b6b6b,#6c6c6c,#6f6f6f,#757575,#7d7d7d,#878787,#929292,#9e9e9e,#aaa,#b5b5b5,#c0c0c0,#cacaca,#d2d2d2,#d9d9d9,#ddd,#e0e0e0,#e0e0e0,#dedede,#dadada,#d5d5d5,#cdcdcd,#c4c4c4,#b9b9b9,#aeaeae,#a2a2a2,#969696,#8b8b8b)"></i><i style="background:linear-gradient(90deg,#868686,#7c7c7c,#747474,#6f6f6f,#6c6c6c,#6b6b6b,#6e6e6e,#737373,#7a7a7a,#848484,#8f8f8f,#9a9a9a,#a7a7a7,#b2b2b2,#bebebe,#c8c8c8,#d1d1d1,#d8d8d8,#ddd,#e0e0e0,#e0e0e0,#dfdfdf,#dcdcdc,#d6d6d6,#cfcfcf,#c6c6c6,#bcbcbc,#b1b1b1,#a5a5a5,#999,#8e8e8e,#838383)"></i><i style="background:linear-gradient(90deg,#7e7e7e,#767676,#707070,#6c6c6c,#6b6b6b,#6d6d6d,#717171,#787878,#818181,#8c8c8c,#979797,#a3a3a3,#afafaf,#bbb,#c5c5c5,#cfcfcf,#d6d6d6,#dcdcdc,#dfdfdf,#e1e1e1,#e0e0e0,#ddd,#d8d8d8,#d1d1d1,#c9c9c9,#bfbfbf,#b4b4b4,#a8a8a8,#9c9c9c,#909090,#858585,#7c7c7c)"></i><i style="background:linear-gradient(90deg,#777,#717171,#6c6c6c,#6b6b6b,#6c6c6c,#707070,#767676,#7f7f7f,#898989,#949494,#a0a0a0,#acacac,#b8b8b8,#c3c3c3,#cdcdcd,#d5d5d5,#dbdbdb,#dfdfdf,#e1e1e1,#e1e1e1,#dedede,#dadada,#d3d3d3,#cbcbcb,#c1c1c1,#b6b6b6,#ababab,#9f9f9f,#939393,#888,#7e7e7e,#767676)"></i><i style="background:linear-gradient(90deg,#727272,#6d6d6d,#6b6b6b,#6b6b6b,#6e6e6e,#747474,#7c7c7c,#868686,#919191,#9d9d9d,#a9a9a9,#b5b5b5,#c0c0c0,#cacaca,#d3d3d3,#dadada,#dfdfdf,#e1e1e1,#e2e2e2,#e0e0e0,#dcdcdc,#d6d6d6,#cecece,#c4c4c4,#b9b9b9,#adadad,#a1a1a1,#959595,#8a8a8a,#808080,#777,#717171)"></i><i style="background:linear-gradient(90deg,#6e6e6e,#6b6b6b,#6b6b6b,#6d6d6d,#727272,#7a7a7a,#838383,#8e8e8e,#9a9a9a,#a6a6a6,#b2b2b2,#bebebe,#c8c8c8,#d1d1d1,#d8d8d8,#dedede,#e1e1e1,#e2e2e2,#e1e1e1,#dedede,#d8d8d8,#d0d0d0,#c7c7c7,#bcbcbc,#b0b0b0,#a4a4a4,#989898,#8c8c8c,#828282,#797979,#727272,#6d6d6d)"></i><i style="background:linear-gradient(90deg,#6b6b6b,#6a6a6a,#6c6c6c,#717171,#777,#808080,#8b8b8b,#979797,#a3a3a3,#afafaf,#bbb,#c6c6c6,#cfcfcf,#d7d7d7,#ddd,#e1e1e1,#e3e3e3,#e3e3e3,#e0e0e0,#dadada,#d3d3d3,#cacaca,#bfbfbf,#b3b3b3,#a7a7a7,#9a9a9a,#8f8f8f,#848484,#7a7a7a,#737373,#6d6d6d,#6a6a6a)"></i><i style="background:linear-gradient(90deg,#6a6a6a,#6b6b6b,#6f6f6f,#757575,#7e7e7e,#888,#939393,#a0a0a0,#acacac,#b8b8b8,#c3c3c3,#cdcdcd,#d5d5d5,#dcdcdc,#e1e1e1,#e4e4e4,#e4e4e4,#e2e2e2,#ddd,#d6d6d6,#cdcdcd,#c2c2c2,#b6b6b6,#aaa,#9d9d9d,#919191,#858585,#7c7c7c,#747474,#6e6e6e,#6a6a6a,#6a6a6a)"></i><i style="background:linear-gradient(90deg,#6a6a6a,#6d6d6d,#737373,#7b7b7b,#858585,#909090,#9c9c9c,#a9a9a9,#b5b5b5,#c0c0c0,#cbcbcb,#d4d4d4,#dbdbdb,#e0e0e0,#e4e4e4,#e5e5e5,#e4e4e4,#e0e0e0,#d9d9d9,#d1d1d1,#c6c6c6,#bababa,#adadad,#a0a0a0,#939393,#878787,#7d7d7d,#747474,#6e6e6e,#6a6a6a,#696969,#6a6a6a)"></i><i style="background:linear-gradient(90deg,#6b6b6b,#717171,#797979,#828282,#8d8d8d,#999,#a5a5a5,#b2b2b2,#bdbdbd,#c8c8c8,#d2d2d2,#dadada,#e0e0e0,#e4e4e4,#e6e6e6,#e5e5e5,#e2e2e2,#ddd,#d4d4d4,#cacaca,#bebebe,#b1b1b1,#a3a3a3,#969696,#898989,#7e7e7e,#757575,#6e6e6e,#6a6a6a,#686868,#696969,#6d6d6d)"></i><i style="background:linear-gradient(90deg,#6e6e6e,#767676,#7f7f7f,#8a8a8a,#969696,#a2a2a2,#aeaeae,#bababa,#c5c5c5,#cfcfcf,#d8d8d8,#dfdfdf,#e4e4e4,#e6e6e6,#e7e7e7,#e5e5e5,#e0e0e0,#d8d8d8,#cfcfcf,#c3c3c3,#b5b5b5,#a7a7a7,#999,#8c8c8c,#808080,#767676,#6e6e6e,#696969,#676767,#676767,#6a6a6a,#707070)"></i><i style="background:linear-gradient(90deg,#737373,#7c7c7c,#878787,#929292,#9f9f9f,#ababab,#b7b7b7,#c3c3c3,#cdcdcd,#d6d6d6,#ddd,#e3e3e3,#e7e7e7,#e8e8e8,#e7e7e7,#e3e3e3,#ddd,#d3d3d3,#c8c8c8,#bababa,#acacac,#9d9d9d,#8e8e8e,#818181,#767676,#6e6e6e,#686868,#656565,#656565,#686868,#6d6d6d,#757575)"></i><i style="background:linear-gradient(90deg,#797979,#838383,#8f8f8f,#9b9b9b,#a8a8a8,#b4b4b4,#c0c0c0,#cacaca,#d4d4d4,#dcdcdc,#e2e2e2,#e7e7e7,#e9e9e9,#e9e9e9,#e6e6e6,#e1e1e1,#d8d8d8,#cdcdcd,#c0c0c0,#b1b1b1,#a1a1a1,#929292,#848484,#777,#6e6e6e,#676767,#636363,#636363,#656565,#6a6a6a,#727272,#7b7b7b)"></i><i style="background:linear-gradient(90deg,#7f7f7f,#8b8b8b,#979797,#a4a4a4,#b1b1b1,#bdbdbd,#c8c8c8,#d2d2d2,#dadada,#e1e1e1,#e6e6e6,#eaeaea,#ebebeb,#e9e9e9,#e5e5e5,#dedede,#d3d3d3,#c6c6c6,#b7b7b7,#a7a7a7,#979797,#878787,#797979,#6e6e6e,#666,#616161,#606060,#626262,#676767,#6e6e6e,#777,#828282)"></i><i style="background:linear-gradient(90deg,#878787,#939393,#a0a0a0,#adadad,#b9b9b9,#c5c5c5,#cfcfcf,#d8d8d8,#e0e0e0,#e6e6e6,#eaeaea,#ececec,#ebebeb,#e8e8e8,#e3e3e3,#d9d9d9,#cdcdcd,#bfbfbf,#aeaeae,#9d9d9d,#8c8c8c,#7c7c7c,#6f6f6f,#656565,#5f5f5f,#5d5d5d,#5e5e5e,#636363,#6a6a6a,#737373,#7e7e7e,#8a8a8a)"></i><i style="background:linear-gradient(90deg,#8f8f8f,#9c9c9c,#a9a9a9,#b6b6b6,#c2c2c2,#cdcdcd,#d6d6d6,#dedede,#e5e5e5,#e9e9e9,#ececec,#ededed,#ececec,#e7e7e7,#dfdfdf,#d5d5d5,#c7c7c7,#b6b6b6,#a4a4a4,#929292,#818181,#717171,#666,#5e5e5e,#5a5a5a,#5a5a5a,#5e5e5e,#646464,#6e6e6e,#797979,#858585,#929292)"></i><i style="background:linear-gradient(90deg,#979797,#a5a5a5,#b2b2b2,#bfbfbf,#cacaca,#d4d4d4,#dcdcdc,#e3e3e3,#e9e9e9,#ededed,#eee,#eee,#ebebeb,#e5e5e5,#dcdcdc,#cfcfcf,#bfbfbf,#adadad,#9a9a9a,#878787,#767676,#676767,#5d5d5d,#575757,#555,#585858,#5e5e5e,#686868,#737373,#808080,#8d8d8d,#9b9b9b)"></i><i style="background:linear-gradient(90deg,#a0a0a0,#aeaeae,#bbb,#c7c7c7,#d1d1d1,#dadada,#e2e2e2,#e8e8e8,#ececec,#efefef,#f0f0f0,#eee,#eaeaea,#e2e2e2,#d7d7d7,#c9c9c9,#b8b8b8,#a4a4a4,#909090,#7c7c7c,#6b6b6b,#5d5d5d,#555,#515151,#525252,#575757,#606060,#6c6c6c,#797979,#878787,#959595,#a4a4a4)"></i><i style="background:linear-gradient(90deg,#a9a9a9,#b6b6b6,#c3c3c3,#cecece,#d8d8d8,#e0e0e0,#e6e6e6,#ececec,#efefef,#f1f1f1,#f1f1f1,#eee,#e8e8e8,#dfdfdf,#d3d3d3,#c2c2c2,#afafaf,#9a9a9a,#858585,#717171,#616161,#545454,#4e4e4e,#4c4c4c,#505050,#585858,#636363,#717171,#808080,#8f8f8f,#9e9e9e,#acacac)"></i><i style="background:linear-gradient(90deg,#b1b1b1,#bfbfbf,#cacaca,#d5d5d5,#dedede,#e5e5e5,#ebebeb,#efefef,#f2f2f2,#f2f2f2,#f1f1f1,#ededed,#e6e6e6,#dcdcdc,#cdcdcd,#bbb,#a7a7a7,#909090,#7b7b7b,#676767,#575757,#4c4c4c,#474747,#494949,#4f4f4f,#5a5a5a,#676767,#777,#878787,#979797,#a6a6a6,#b5b5b5)"></i><i style="background:linear-gradient(90deg,#b9b9b9,#c6c6c6,#d1d1d1,#dbdbdb,#e3e3e3,#e9e9e9,#eee,#f1f1f1,#f3f3f3,#f3f3f3,#f1f1f1,#ececec,#e4e4e4,#d8d8d8,#c8c8c8,#b4b4b4,#9e9e9e,#878787,#707070,#5d5d5d,#4e4e4e,#454545,#424242,#464646,#4f4f4f,#5c5c5c,#6c6c6c,#7d7d7d,#8e8e8e,#9f9f9f,#aeaeae,#bdbdbd)"></i><i style="background:linear-gradient(90deg,#c1c1c1,#cdcdcd,#d7d7d7,#e0e0e0,#e7e7e7,#ededed,#f1f1f1,#f4f4f4,#f5f5f5,#f4f4f4,#f1f1f1,#ebebeb,#e1e1e1,#d4d4d4,#c2c2c2,#adadad,#969696,#7d7d7d,#676767,#545454,#464646,#3f3f3f,#3f3f3f,#454545,#505050,#5f5f5f,#717171,#838383,#959595,#a7a7a7,#b6b6b6,#c4c4c4)"></i><i style="background:linear-gradient(90deg,#c7c7c7,#d3d3d3,#ddd,#e5e5e5,#ebebeb,#f0f0f0,#f3f3f3,#f5f5f5,#f6f6f6,#f4f4f4,#f0f0f0,#e9e9e9,#dedede,#d0d0d0,#bdbdbd,#a6a6a6,#8e8e8e,#757575,#5e5e5e,#4b4b4b,#3f3f3f,#3a3a3a,#3c3c3c,#444,#525252,#636363,#767676,#8a8a8a,#9c9c9c,#aeaeae,#bdbdbd,#cacaca)"></i><i style="background:linear-gradient(90deg,#cdcdcd,#d8d8d8,#e1e1e1,#e9e9e9,#eee,#f2f2f2,#f5f5f5,#f7f7f7,#f6f6f6,#f4f4f4,#efefef,#e8e8e8,#dcdcdc,#ccc,#b7b7b7,#a0a0a0,#868686,#6d6d6d,#565656,#444,#393939,#353535,#393939,#444,#545454,#676767,#7b7b7b,#909090,#a3a3a3,#b4b4b4,#c3c3c3,#d0d0d0)"></i><i style="background:linear-gradient(90deg,#d2d2d2,#ddd,#e5e5e5,#ececec,#f1f1f1,#f4f4f4,#f7f7f7,#f8f8f8,#f7f7f7,#f4f4f4,#efefef,#e6e6e6,#d9d9d9,#c8c8c8,#b3b3b3,#9a9a9a,#7f7f7f,#666,#4f4f4f,#3e3e3e,#343434,#323232,#383838,#454545,#565656,#6b6b6b,#808080,#959595,#a9a9a9,#bababa,#c9c9c9,#d5d5d5)"></i><i style="background:linear-gradient(90deg,#d6d6d6,#e0e0e0,#e8e8e8,#eee,#f3f3f3,#f6f6f6,#f8f8f8,#f8f8f8,#f7f7f7,#f4f4f4,#eee,#e4e4e4,#d7d7d7,#c5c5c5,#aeaeae,#959595,#7a7a7a,#606060,#494949,#393939,#303030,#303030,#373737,#464646,#595959,#6e6e6e,#848484,#9a9a9a,#adadad,#bebebe,#cdcdcd,#d9d9d9)"></i><i style="background:linear-gradient(90deg,#d9d9d9,#e3e3e3,#eaeaea,#f0f0f0,#f4f4f4,#f7f7f7,#f8f8f8,#f9f9f9,#f7f7f7,#f4f4f4,#ededed,#e3e3e3,#d5d5d5,#c2c2c2,#ababab,#919191,#757575,#5b5b5b,#454545,#353535,#2d2d2d,#2e2e2e,#373737,#464646,#5a5a5a,#717171,#888,#9d9d9d,#b1b1b1,#c2c2c2,#d0d0d0,#dcdcdc)"></i><i style="background:linear-gradient(90deg,#dbdbdb,#e4e4e4,#ececec,#f1f1f1,#f5f5f5,#f8f8f8,#f9f9f9,#f9f9f9,#f7f7f7,#f3f3f3,#ededed,#e2e2e2,#d4d4d4,#c1c1c1,#a9a9a9,#8f8f8f,#737373,#595959,#424242,#333,#2c2c2c,#2d2d2d,#373737,#474747,#5c5c5c,#737373,#8a8a8a,#a0a0a0,#b3b3b3,#c4c4c4,#d2d2d2,#ddd)"></i><i style="background:linear-gradient(90deg,#dbdbdb,#e4e4e4,#ececec,#f1f1f1,#f5f5f5,#f8f8f8,#f9f9f9,#f9f9f9,#f7f7f7,#f3f3f3,#ededed,#e2e2e2,#d4d4d4,#c1c1c1,#a9a9a9,#8e8e8e,#737373,#595959,#424242,#333,#2c2c2c,#2d2d2d,#373737,#474747,#5c5c5c,#737373,#8a8a8a,#a0a0a0,#b3b3b3,#c4c4c4,#d2d2d2,#ddd)"></i></div>
<div class="hm" style="left:38px;top:293px;width:126px;height:126px"><i style="background:linear-gradient(90deg,#fcfcfc,#fdfdfd,#fefefe,#fff,#fff,#fff,#fff,#fff,#fefefe,#fdfdfd,#fafafa,#f3f3f3,#e7e7e7,#d2d2d2,#b4b4b4,#8e8e8e,#656565,#404040,#282828,#212121,#2c2c2c,#464646,#676767,#8a8a8a,#aaa,#c5c5c5,#d9d9d9,#e7e7e7,#f0f0f0,#f7f7f7,#fafafa,#fcfcfc)"></i><i style="background:linear-gradient(90deg,#fcfcfc,#fdfdfd,#fefefe,#fff,#fff,#fff,#fff,#fff,#fefefe,#fdfdfd,#fafafa,#f3f3f3,#e7e7e7,#d2d2d2,#b4b4b4,#8e8e8e,#656565,#414141,#282828,#212121,#2c2c2c,#464646,#676767,#8a8a8a,#aaa,#c4c4c4,#d9d9d9,#e7e7e7,#f0f0f0,#f7f7f7,#fafafa,#fcfcfc)"></i><i style="background:linear-gradient(90deg,#fbfbfb,#fdfdfd,#fefefe,#fefefe,#fff,#fff,#fff,#fff,#fefefe,#fdfdfd,#fafafa,#f5f5f5,#e9e9e9,#d6d6d6,#bababa,#969696,#6e6e6e,#494949,#2f2f2f,#252525,#2c2c2c,#424242,#616161,#838383,#a3a3a3,#bdbdbd,#d3d3d3,#e2e2e2,#ededed,#f4f4f4,#f9f9f9,#fcfcfc)"></i><i style="background:linear-gradient(90deg,#f9f9f9,#fcfcfc,#fdfdfd,#fefefe,#fff,#fff,#fff,#fff,#fff,#fefefe,#fbfbfb,#f6f6f6,#ededed,#dcdcdc,#c3c3c3,#a2a2a2,#7c7c7c,#575757,#3b3b3b,#2c2c2c,#2e2e2e,#3e3e3e,#595959,#787878,#969696,#b2b2b2,#c9c9c9,#dadada,#e7e7e7,#f0f0f0,#f6f6f6,#fafafa)"></i><i style="background:linear-gradient(90deg,#f6f6f6,#fafafa,#fcfcfc,#fefefe,#fefefe,#fff,#fff,#fff,#fff,#fefefe,#fcfcfc,#f8f8f8,#f0f0f0,#e2e2e2,#cdcdcd,#afafaf,#8c8c8c,#696969,#4a4a4a,#373737,#333,#3c3c3c,#505050,#6b6b6b,#888,#a3a3a3,#bbb,#cfcfcf,#dfdfdf,#eaeaea,#f2f2f2,#f7f7f7)"></i><i style="background:linear-gradient(90deg,#f2f2f2,#f7f7f7,#fafafa,#fdfdfd,#fefefe,#fefefe,#fff,#fff,#fff,#fefefe,#fdfdfd,#fafafa,#f4f4f4,#e8e8e8,#d7d7d7,#bdbdbd,#9e9e9e,#7c7c7c,#5d5d5d,#464646,#3b3b3b,#3d3d3d,#4a4a4a,#5f5f5f,#797979,#939393,#acacac,#c2c2c2,#d4d4d4,#e2e2e2,#ececec,#f3f3f3)"></i><i style="background:linear-gradient(90deg,#ececec,#f3f3f3,#f8f8f8,#fbfbfb,#fdfdfd,#fefefe,#fefefe,#fff,#fff,#fefefe,#fdfdfd,#fbfbfb,#f7f7f7,#eee,#e0e0e0,#cacaca,#afafaf,#909090,#717171,#575757,#474747,#414141,#474747,#555,#6a6a6a,#828282,#9a9a9a,#b2b2b2,#c6c6c6,#d7d7d7,#e4e4e4,#eee)"></i><i style="background:linear-gradient(90deg,#e4e4e4,#ededed,#f4f4f4,#f9f9f9,#fcfcfc,#fdfdfd,#fefefe,#fff,#fff,#fff,#fefefe,#fcfcfc,#f9f9f9,#f3f3f3,#e7e7e7,#d6d6d6,#bfbfbf,#a4a4a4,#868686,#6b6b6b,#565656,#4a4a4a,#484848,#4f4f4f,#5d5d5d,#717171,#888,#a0a0a0,#b6b6b6,#cacaca,#dadada,#e6e6e6)"></i><i style="background:linear-gradient(90deg,#d9d9d9,#e6e6e6,#efefef,#f6f6f6,#fafafa,#fcfcfc,#fdfdfd,#fefefe,#fff,#fff,#fefefe,#fdfdfd,#fbfbfb,#f6f6f6,#eee,#e1e1e1,#cecece,#b6b6b6,#9b9b9b,#808080,#696969,#575757,#4e4e4e,#4d4d4d,#545454,#636363,#767676,#8d8d8d,#a4a4a4,#bababa,#cdcdcd,#ddd)"></i><i style="background:linear-gradient(90deg,#cdcdcd,#dcdcdc,#e8e8e8,#f1f1f1,#f7f7f7,#fafafa,#fdfdfd,#fefefe,#fefefe,#fff,#fefefe,#fefefe,#fcfcfc,#f9f9f9,#f3f3f3,#e9e9e9,#dadada,#c7c7c7,#afafaf,#959595,#7d7d7d,#676767,#585858,#505050,#505050,#585858,#676767,#7b7b7b,#919191,#a9a9a9,#bebebe,#d1d1d1)"></i><i style="background:linear-gradient(90deg,#bdbdbd,#d0d0d0,#dfdfdf,#ebebeb,#f3f3f3,#f8f8f8,#fbfbfb,#fdfdfd,#fefefe,#fefefe,#fff,#fefefe,#fdfdfd,#fbfbfb,#f7f7f7,#f0f0f0,#e4e4e4,#d5d5d5,#c1c1c1,#aaa,#919191,#7a7a7a,#666,#585858,#515151,#515151,#5a5a5a,#6a6a6a,#7f7f7f,#969696,#adadad,#c2c2c2)"></i><i style="background:linear-gradient(90deg,#acacac,#c2c2c2,#d4d4d4,#e3e3e3,#ededed,#f4f4f4,#f9f9f9,#fcfcfc,#fdfdfd,#fefefe,#fefefe,#fefefe,#fefefe,#fcfcfc,#fafafa,#f4f4f4,#ececec,#e0e0e0,#d0d0d0,#bcbcbc,#a5a5a5,#8e8e8e,#777,#646464,#575757,#505050,#525252,#5c5c5c,#6d6d6d,#838383,#9a9a9a,#b2b2b2)"></i><i style="background:linear-gradient(90deg,#9a9a9a,#b1b1b1,#c7c7c7,#d8d8d8,#e6e6e6,#f0f0f0,#f6f6f6,#fafafa,#fcfcfc,#fefefe,#fefefe,#fefefe,#fefefe,#fdfdfd,#fcfcfc,#f8f8f8,#f2f2f2,#e9e9e9,#dcdcdc,#ccc,#b8b8b8,#a1a1a1,#8a8a8a,#747474,#616161,#545454,#4f4f4f,#535353,#5e5e5e,#717171,#878787,#a0a0a0)"></i><i style="background:linear-gradient(90deg,#868686,#9f9f9f,#b7b7b7,#ccc,#ddd,#e9e9e9,#f2f2f2,#f7f7f7,#fbfbfb,#fdfdfd,#fefefe,#fefefe,#fefefe,#fefefe,#fdfdfd,#fbfbfb,#f6f6f6,#f0f0f0,#e6e6e6,#d9d9d9,#c8c8c8,#b4b4b4,#9d9d9d,#868686,#707070,#5d5d5d,#525252,#4e4e4e,#535353,#616161,#757575,#8d8d8d)"></i><i style="background:linear-gradient(90deg,#747474,#8c8c8c,#a5a5a5,#bdbdbd,#d1d1d1,#e1e1e1,#ececec,#f4f4f4,#f9f9f9,#fcfcfc,#fdfdfd,#fefefe,#fefefe,#fefefe,#fefefe,#fcfcfc,#f9f9f9,#f5f5f5,#eee,#e4e4e4,#d6d6d6,#c4c4c4,#b0b0b0,#989898,#818181,#6b6b6b,#595959,#4e4e4e,#4d4d4d,#545454,#646464,#7a7a7a)"></i><i style="background:linear-gradient(90deg,#636363,#797979,#939393,#acacac,#c3c3c3,#d6d6d6,#e5e5e5,#efefef,#f6f6f6,#fafafa,#fcfcfc,#fefefe,#fefefe,#fefefe,#fefefe,#fdfdfd,#fcfcfc,#f8f8f8,#f3f3f3,#ececec,#e1e1e1,#d3d3d3,#c1c1c1,#ababab,#939393,#7b7b7b,#656565,#545454,#4b4b4b,#4c4c4c,#565656,#686868)"></i><i style="background:linear-gradient(90deg,#545454,#676767,#7f7f7f,#9a9a9a,#b3b3b3,#c9c9c9,#dbdbdb,#e9e9e9,#f2f2f2,#f7f7f7,#fbfbfb,#fdfdfd,#fefefe,#fefefe,#fefefe,#fefefe,#fdfdfd,#fbfbfb,#f7f7f7,#f2f2f2,#eaeaea,#dedede,#cfcfcf,#bcbcbc,#a5a5a5,#8d8d8d,#747474,#5f5f5f,#4f4f4f,#494949,#4c4c4c,#585858)"></i><i style="background:linear-gradient(90deg,#4a4a4a,#585858,#6d6d6d,#878787,#a2a2a2,#bbb,#d0d0d0,#e0e0e0,#ececec,#f4f4f4,#f9f9f9,#fcfcfc,#fdfdfd,#fefefe,#fefefe,#fefefe,#fefefe,#fcfcfc,#fafafa,#f6f6f6,#f1f1f1,#e8e8e8,#dcdcdc,#cbcbcb,#b7b7b7,#9f9f9f,#868686,#6d6d6d,#585858,#4b4b4b,#464646,#4d4d4d)"></i><i style="background:linear-gradient(90deg,#444,#4b4b4b,#5c5c5c,#747474,#8f8f8f,#aaa,#c2c2c2,#d6d6d6,#e5e5e5,#efefef,#f6f6f6,#fafafa,#fdfdfd,#fefefe,#fefefe,#fefefe,#fefefe,#fdfdfd,#fcfcfc,#f9f9f9,#f5f5f5,#efefef,#e5e5e5,#d8d8d8,#c7c7c7,#b1b1b1,#989898,#7e7e7e,#656565,#525252,#464646,#454545)"></i><i style="background:linear-gradient(90deg,#444,#434343,#4e4e4e,#626262,#7c7c7c,#989898,#b3b3b3,#cacaca,#dcdcdc,#eaeaea,#f2f2f2,#f8f8f8,#fbfbfb,#fdfdfd,#fefefe,#fefefe,#fefefe,#fefefe,#fdfdfd,#fcfcfc,#f9f9f9,#f4f4f4,#ededed,#e3e3e3,#d4d4d4,#c1c1c1,#aaa,#909090,#757575,#5d5d5d,#4b4b4b,#434343)"></i><i style="background:linear-gradient(90deg,#484848,#404040,#444,#525252,#696969,#858585,#a1a1a1,#bcbcbc,#d1d1d1,#e2e2e2,#eee,#f5f5f5,#fafafa,#fcfcfc,#fefefe,#fefefe,#fff,#fefefe,#fefefe,#fdfdfd,#fbfbfb,#f8f8f8,#f3f3f3,#ebebeb,#dfdfdf,#cfcfcf,#bbb,#a2a2a2,#878787,#6c6c6c,#555,#454545)"></i><i style="background:linear-gradient(90deg,#515151,#424242,#3e3e3e,#464646,#585858,#727272,#8f8f8f,#ababab,#c5c5c5,#d9d9d9,#e7e7e7,#f1f1f1,#f7f7f7,#fbfbfb,#fdfdfd,#fefefe,#fefefe,#fff,#fefefe,#fefefe,#fdfdfd,#fafafa,#f7f7f7,#f1f1f1,#e8e8e8,#dbdbdb,#cacaca,#b4b4b4,#999,#7d7d7d,#626262,#4c4c4c)"></i><i style="background:linear-gradient(90deg,#5e5e5e,#494949,#3d3d3d,#3d3d3d,#4a4a4a,#606060,#7c7c7c,#9a9a9a,#b6b6b6,#cdcdcd,#dfdfdf,#ececec,#f4f4f4,#f9f9f9,#fcfcfc,#fefefe,#fefefe,#fff,#fff,#fefefe,#fefefe,#fcfcfc,#fafafa,#f6f6f6,#efefef,#e5e5e5,#d7d7d7,#c3c3c3,#ababab,#8f8f8f,#727272,#585858)"></i><i style="background:linear-gradient(90deg,#6e6e6e,#535353,#414141,#393939,#3f3f3f,#505050,#696969,#878787,#a5a5a5,#c0c0c0,#d6d6d6,#e5e5e5,#f0f0f0,#f7f7f7,#fbfbfb,#fdfdfd,#fefefe,#fff,#fff,#fff,#fefefe,#fdfdfd,#fcfcfc,#f9f9f9,#f4f4f4,#ededed,#e1e1e1,#d1d1d1,#bcbcbc,#a1a1a1,#848484,#676767)"></i><i style="background:linear-gradient(90deg,#7f7f7f,#626262,#494949,#3a3a3a,#383838,#424242,#585858,#757575,#949494,#b1b1b1,#cacaca,#ddd,#ebebeb,#f4f4f4,#f9f9f9,#fcfcfc,#fefefe,#fefefe,#fff,#fff,#fefefe,#fefefe,#fdfdfd,#fbfbfb,#f8f8f8,#f2f2f2,#eaeaea,#ddd,#cacaca,#b3b3b3,#969696,#787878)"></i><i style="background:linear-gradient(90deg,#919191,#727272,#555,#404040,#353535,#383838,#484848,#626262,#818181,#a1a1a1,#bdbdbd,#d3d3d3,#e4e4e4,#f0f0f0,#f7f7f7,#fbfbfb,#fdfdfd,#fefefe,#fff,#fff,#fff,#fefefe,#fefefe,#fdfdfd,#fafafa,#f7f7f7,#f0f0f0,#e6e6e6,#d7d7d7,#c2c2c2,#a8a8a8,#8a8a8a)"></i><i style="background:linear-gradient(90deg,#a3a3a3,#848484,#646464,#494949,#383838,#333,#3c3c3c,#515151,#6f6f6f,#8f8f8f,#aeaeae,#c8c8c8,#dcdcdc,#eaeaea,#f3f3f3,#f9f9f9,#fcfcfc,#fefefe,#fefefe,#fff,#fff,#fff,#fefefe,#fefefe,#fcfcfc,#f9f9f9,#f5f5f5,#ededed,#e1e1e1,#d0d0d0,#b9b9b9,#9c9c9c)"></i><i style="background:linear-gradient(90deg,#b4b4b4,#969696,#757575,#565656,#3e3e3e,#313131,#333,#434343,#5d5d5d,#7d7d7d,#9e9e9e,#bbb,#d2d2d2,#e4e4e4,#efefef,#f7f7f7,#fbfbfb,#fdfdfd,#fefefe,#fff,#fff,#fff,#fff,#fefefe,#fdfdfd,#fbfbfb,#f8f8f8,#f3f3f3,#eaeaea,#dbdbdb,#c7c7c7,#adadad)"></i><i style="background:linear-gradient(90deg,#c4c4c4,#a8a8a8,#878787,#666,#484848,#343434,#2e2e2e,#373737,#4c4c4c,#6b6b6b,#8c8c8c,#acacac,#c7c7c7,#dcdcdc,#eaeaea,#f4f4f4,#f9f9f9,#fcfcfc,#fefefe,#fefefe,#fff,#fff,#fff,#fefefe,#fefefe,#fdfdfd,#fbfbfb,#f7f7f7,#f0f0f0,#e5e5e5,#d4d4d4,#bdbdbd)"></i><i style="background:linear-gradient(90deg,#d1d1d1,#b8b8b8,#999,#777,#565656,#3c3c3c,#2d2d2d,#2e2e2e,#3e3e3e,#595959,#7a7a7a,#9c9c9c,#bbb,#d3d3d3,#e4e4e4,#f0f0f0,#f7f7f7,#fbfbfb,#fdfdfd,#fefefe,#fff,#fff,#fff,#fff,#fefefe,#fefefe,#fcfcfc,#fafafa,#f5f5f5,#ececec,#dfdfdf,#cbcbcb)"></i><i style="background:linear-gradient(90deg,#dcdcdc,#c7c7c7,#ababab,#898989,#666,#464646,#313131,#292929,#323232,#494949,#686868,#8b8b8b,#acacac,#c8c8c8,#ddd,#ebebeb,#f4f4f4,#f9f9f9,#fcfcfc,#fefefe,#fefefe,#fff,#fff,#fff,#fff,#fefefe,#fdfdfd,#fbfbfb,#f8f8f8,#f2f2f2,#e7e7e7,#d7d7d7)"></i><i style="background:linear-gradient(90deg,#e5e5e5,#d3d3d3,#bababa,#9b9b9b,#777,#545454,#383838,#292929,#2a2a2a,#3b3b3b,#575757,#7a7a7a,#9d9d9d,#bcbcbc,#d4d4d4,#e5e5e5,#f1f1f1,#f8f8f8,#fbfbfb,#fdfdfd,#fefefe,#fff,#fff,#fff,#fff,#fff,#fefefe,#fdfdfd,#fafafa,#f6f6f6,#eee,#e1e1e1)"></i><i style="background:linear-gradient(90deg,#ececec,#dedede,#c8c8c8,#ababab,#888,#636363,#424242,#2c2c2c,#252525,#2f2f2f,#474747,#696969,#8d8d8d,#afafaf,#cacaca,#dfdfdf,#ededed,#f5f5f5,#fafafa,#fdfdfd,#fefefe,#fff,#fff,#fff,#fff,#fff,#fefefe,#fefefe,#fcfcfc,#f9f9f9,#f3f3f3,#e9e9e9)"></i><i style="background:linear-gradient(90deg,#f2f2f2,#e6e6e6,#d5d5d5,#bbb,#9a9a9a,#747474,#505050,#333,#242424,#262626,#393939,#585858,#7c7c7c,#a0a0a0,#bfbfbf,#d7d7d7,#e7e7e7,#f2f2f2,#f8f8f8,#fcfcfc,#fefefe,#fefefe,#fff,#fff,#fff,#fff,#fff,#fefefe,#fdfdfd,#fbfbfb,#f7f7f7,#efefef)"></i><i style="background:linear-gradient(90deg,#f6f6f6,#ededed,#dfdfdf,#c9c9c9,#aaa,#858585,#5f5f5f,#3d3d3d,#262626,#212121,#2d2d2d,#484848,#6b6b6b,#919191,#b3b3b3,#cecece,#e2e2e2,#eee,#f6f6f6,#fbfbfb,#fdfdfd,#fefefe,#fff,#fff,#fff,#fff,#fff,#fff,#fefefe,#fdfdfd,#fafafa,#f4f4f4)"></i><i style="background:linear-gradient(90deg,#f9f9f9,#f2f2f2,#e7e7e7,#d4d4d4,#b9b9b9,#969696,#6f6f6f,#494949,#2c2c2c,#1f1f1f,#242424,#393939,#5b5b5b,#818181,#a5a5a5,#c4c4c4,#dbdbdb,#eaeaea,#f4f4f4,#f9f9f9,#fcfcfc,#fefefe,#fff,#fff,#fff,#fff,#fff,#fff,#fefefe,#fdfdfd,#fcfcfc,#f8f8f8)"></i><i style="background:linear-gradient(90deg,#fbfbfb,#f6f6f6,#ededed,#dedede,#c7c7c7,#a7a7a7,#808080,#575757,#353535,#202020,#1d1d1d,#2d2d2d,#4b4b4b,#717171,#979797,#b9b9b9,#d3d3d3,#e5e5e5,#f1f1f1,#f8f8f8,#fcfcfc,#fdfdfd,#fefefe,#fff,#fff,#fff,#fff,#fff,#fff,#fefefe,#fdfdfd,#fafafa)"></i><i style="background:linear-gradient(90deg,#fcfcfc,#f9f9f9,#f2f2f2,#e6e6e6,#d3d3d3,#b6b6b6,#909090,#676767,#404040,#242424,#1a1a1a,#232323,#3d3d3d,#616161,#888,#adadad,#cacaca,#dfdfdf,#ededed,#f6f6f6,#fafafa,#fdfdfd,#fefefe,#fff,#fff,#fff,#fff,#fff,#fff,#fefefe,#fefefe,#fcfcfc)"></i><i style="background:linear-gradient(90deg,#fdfdfd,#fbfbfb,#f6f6f6,#ededed,#dcdcdc,#c3c3c3,#a0a0a0,#777,#4d4d4d,#2b2b2b,#191919,#1b1b1b,#303030,#525252,#797979,#a0a0a0,#c0c0c0,#d9d9d9,#e9e9e9,#f3f3f3,#f9f9f9,#fcfcfc,#fefefe,#fff,#fff,#fff,#fff,#fff,#fff,#fff,#fefefe,#fdfdfd)"></i><i style="background:linear-gradient(90deg,#fefefe,#fcfcfc,#f9f9f9,#f2f2f2,#e5e5e5,#cfcfcf,#afafaf,#878787,#5b5b5b,#353535,#1c1c1c,#161616,#242424,#434343,#6a6a6a,#939393,#b6b6b6,#d1d1d1,#e4e4e4,#f1f1f1,#f8f8f8,#fcfcfc,#fdfdfd,#fefefe,#fff,#fff,#fff,#fff,#fff,#fff,#fff,#fefefe)"></i><i style="background:linear-gradient(90deg,#fefefe,#fdfdfd,#fbfbfb,#f6f6f6,#ebebeb,#d9d9d9,#bdbdbd,#969696,#6a6a6a,#404040,#212121,#131313,#1b1b1b,#363636,#5c5c5c,#858585,#ababab,#c9c9c9,#dfdfdf,#ededed,#f6f6f6,#fbfbfb,#fdfdfd,#fefefe,#fff,#fff,#fff,#fff,#fff,#fff,#fff,#fefefe)"></i><i style="background:linear-gradient(90deg,#fff,#fefefe,#fcfcfc,#f9f9f9,#f0f0f0,#e1e1e1,#c9c9c9,#a5a5a5,#7a7a7a,#4d4d4d,#282828,#131313,#141414,#2a2a2a,#4e4e4e,#777,#9f9f9f,#c1c1c1,#d9d9d9,#eaeaea,#f4f4f4,#fafafa,#fcfcfc,#fefefe,#fff,#fff,#fff,#fff,#fff,#fff,#fff,#fff)"></i><i style="background:linear-gradient(90deg,#fff,#fefefe,#fdfdfd,#fbfbfb,#f4f4f4,#e8e8e8,#d3d3d3,#b3b3b3,#898989,#5a5a5a,#313131,#161616,#101010,#202020,#404040,#6a6a6a,#939393,#b7b7b7,#d3d3d3,#e6e6e6,#f1f1f1,#f8f8f8,#fcfcfc,#fefefe,#fefefe,#fff,#fff,#fff,#fff,#fff,#fff,#fff)"></i><i style="background:linear-gradient(90deg,#fff,#fff,#fefefe,#fcfcfc,#f8f8f8,#eee,#dcdcdc,#bfbfbf,#979797,#686868,#3b3b3b,#1a1a1a,#0d0d0d,#171717,#343434,#5c5c5c,#878787,#aeaeae,#ccc,#e1e1e1,#efefef,#f7f7f7,#fbfbfb,#fdfdfd,#fefefe,#fff,#fff,#fff,#fff,#fff,#fff,#fff)"></i><i style="background:linear-gradient(90deg,#fff,#fff,#fefefe,#fdfdfd,#fafafa,#f2f2f2,#e3e3e3,#cacaca,#a4a4a4,#767676,#474747,#202020,#0d0d0d,#101010,#292929,#4f4f4f,#7b7b7b,#a4a4a4,#c5c5c5,#dcdcdc,#ececec,#f5f5f5,#fafafa,#fdfdfd,#fefefe,#fff,#fff,#fff,#fff,#fff,#fff,#fff)"></i><i style="background:linear-gradient(90deg,#fff,#fff,#fff,#fefefe,#fbfbfb,#f6f6f6,#e9e9e9,#d3d3d3,#b1b1b1,#848484,#535353,#282828,#0e0e0e,#0b0b0b,#1f1f1f,#434343,#6f6f6f,#999,#bdbdbd,#d7d7d7,#e9e9e9,#f3f3f3,#f9f9f9,#fcfcfc,#fefefe,#fff,#fff,#fff,#fff,#fff,#fff,#fff)"></i><i style="background:linear-gradient(90deg,#fff,#fff,#fff,#fefefe,#fdfdfd,#f8f8f8,#eee,#dbdbdb,#bcbcbc,#919191,#5f5f5f,#313131,#111,#080808,#171717,#383838,#636363,#8f8f8f,#b5b5b5,#d2d2d2,#e5e5e5,#f1f1f1,#f8f8f8,#fcfcfc,#fefefe,#fefefe,#fff,#fff,#fff,#fff,#fff,#fff)"></i><i style="background:linear-gradient(90deg,#fff,#fff,#fff,#fff,#fdfdfd,#fafafa,#f2f2f2,#e2e2e2,#c6c6c6,#9d9d9d,#6b6b6b,#3a3a3a,#151515,#060606,#101010,#2e2e2e,#585858,#858585,#adadad,#ccc,#e2e2e2,#efefef,#f7f7f7,#fbfbfb,#fdfdfd,#fefefe,#fff,#fff,#fff,#fff,#fff,#fff)"></i><i style="background:linear-gradient(90deg,#fff,#fff,#fff,#fff,#fefefe,#fcfcfc,#f5f5f5,#e8e8e8,#cecece,#a8a8a8,#777,#444,#1b1b1b,#060606,#0a0a0a,#252525,#4e4e4e,#7b7b7b,#a5a5a5,#c6c6c6,#dedede,#ededed,#f6f6f6,#fbfbfb,#fdfdfd,#fefefe,#fff,#fff,#fff,#fff,#fff,#fff)"></i><i style="background:linear-gradient(90deg,#fff,#fff,#fff,#fff,#fefefe,#fdfdfd,#f8f8f8,#ececec,#d6d6d6,#b2b2b2,#828282,#4e4e4e,#212121,#070707,#060606,#1c1c1c,#444,#727272,#9d9d9d,#c0c0c0,#dadada,#ebebeb,#f5f5f5,#fafafa,#fdfdfd,#fefefe,#fff,#fff,#fff,#fff,#fff,#fff)"></i><i style="background:linear-gradient(90deg,#fff,#fff,#fff,#fff,#fff,#fefefe,#fafafa,#f0f0f0,#dcdcdc,#bbb,#8d8d8d,#585858,#282828,#090909,#020202,#151515,#3b3b3b,#686868,#959595,#bababa,#d6d6d6,#e8e8e8,#f3f3f3,#f9f9f9,#fcfcfc,#fefefe,#fff,#fff,#fff,#fff,#fff,#fff)"></i><i style="background:linear-gradient(90deg,#fff,#fff,#fff,#fff,#fff,#fefefe,#fbfbfb,#f3f3f3,#e2e2e2,#c3c3c3,#969696,#616161,#2f2f2f,#0b0b0b,#000,#0f0f0f,#323232,#606060,#8e8e8e,#b5b5b5,#d2d2d2,#e6e6e6,#f2f2f2,#f9f9f9,#fcfcfc,#fefefe,#fff,#fff,#fff,#fff,#fff,#fff)"></i><i style="background:linear-gradient(90deg,#fff,#fff,#fff,#fff,#fff,#fefefe,#fcfcfc,#f6f6f6,#e7e7e7,#cacaca,#9f9f9f,#6a6a6a,#363636,#0e0e0e,#000,#0a0a0a,#2b2b2b,#585858,#868686,#afafaf,#cecece,#e3e3e3,#f0f0f0,#f8f8f8,#fcfcfc,#fefefe,#fefefe,#fff,#fff,#fff,#fff,#fff)"></i><i style="background:linear-gradient(90deg,#fff,#fff,#fff,#fff,#fff,#fff,#fdfdfd,#f8f8f8,#eaeaea,#d0d0d0,#a7a7a7,#737373,#3d3d3d,#121212,#000,#060606,#242424,#505050,#808080,#aaa,#cacaca,#e1e1e1,#efefef,#f7f7f7,#fbfbfb,#fdfdfd,#fefefe,#fff,#fff,#fff,#fff,#fff)"></i><i style="background:linear-gradient(90deg,#fff,#fff,#fff,#fff,#fff,#fff,#fefefe,#f9f9f9,#eee,#d6d6d6,#aeaeae,#7a7a7a,#434343,#161616,#000,#020202,#1e1e1e,#4a4a4a,#797979,#a5a5a5,#c7c7c7,#dfdfdf,#eee,#f6f6f6,#fbfbfb,#fdfdfd,#fefefe,#fff,#fff,#fff,#fff,#fff)"></i><i style="background:linear-gradient(90deg,#fff,#fff,#fff,#fff,#fff,#fff,#fefefe,#fafafa,#f0f0f0,#dadada,#b4b4b4,#818181,#494949,#1a1a1a,#000,#000,#191919,#444,#747474,#a0a0a0,#c3c3c3,#dcdcdc,#ececec,#f6f6f6,#fbfbfb,#fdfdfd,#fefefe,#fff,#fff,#fff,#fff,#fff)"></i><i style="background:linear-gradient(90deg,#fff,#fff,#fff,#fff,#fff,#fff,#fefefe,#fbfbfb,#f2f2f2,#dedede,#bababa,#878787,#4f4f4f,#1d1d1d,#000,#000,#151515,#3f3f3f,#6f6f6f,#9c9c9c,#c0c0c0,#dadada,#ebebeb,#f5f5f5,#fafafa,#fdfdfd,#fefefe,#fff,#fff,#fff,#fff,#fff)"></i><i style="background:linear-gradient(90deg,#fff,#fff,#fff,#fff,#fff,#fff,#fff,#fcfcfc,#f4f4f4,#e1e1e1,#bebebe,#8d8d8d,#545454,#212121,#010101,#000,#121212,#3a3a3a,#6a6a6a,#989898,#bebebe,#d9d9d9,#eaeaea,#f4f4f4,#fafafa,#fdfdfd,#fefefe,#fff,#fff,#fff,#fff,#fff)"></i><i style="background:linear-gradient(90deg,#fff,#fff,#fff,#fff,#fff,#fff,#fff,#fdfdfd,#f5f5f5,#e3e3e3,#c2c2c2,#919191,#585858,#242424,#010101,#000,#0f0f0f,#363636,#676767,#959595,#bbb,#d7d7d7,#e9e9e9,#f4f4f4,#fafafa,#fdfdfd,#fefefe,#fff,#fff,#fff,#fff,#fff)"></i><i style="background:linear-gradient(90deg,#fff,#fff,#fff,#fff,#fff,#fff,#fff,#fdfdfd,#f6f6f6,#e5e5e5,#c5c5c5,#959595,#5b5b5b,#262626,#020202,#000,#0c0c0c,#333,#646464,#939393,#b9b9b9,#d6d6d6,#e8e8e8,#f3f3f3,#fafafa,#fdfdfd,#fefefe,#fff,#fff,#fff,#fff,#fff)"></i><i style="background:linear-gradient(90deg,#fff,#fff,#fff,#fff,#fff,#fff,#fff,#fdfdfd,#f7f7f7,#e6e6e6,#c7c7c7,#979797,#5e5e5e,#282828,#030303,#000,#0b0b0b,#313131,#616161,#919191,#b8b8b8,#d5d5d5,#e8e8e8,#f3f3f3,#f9f9f9,#fcfcfc,#fefefe,#fff,#fff,#fff,#fff,#fff)"></i><i style="background:linear-gradient(90deg,#fff,#fff,#fff,#fff,#fff,#fff,#fff,#fdfdfd,#f7f7f7,#e7e7e7,#c8c8c8,#999,#606060,#292929,#040404,#000,#0a0a0a,#303030,#606060,#8f8f8f,#b7b7b7,#d4d4d4,#e7e7e7,#f3f3f3,#f9f9f9,#fcfcfc,#fefefe,#fff,#fff,#fff,#fff,#fff)"></i><i style="background:linear-gradient(90deg,#fff,#fff,#fff,#fff,#fff,#fff,#fff,#fefefe,#f7f7f7,#e8e8e8,#c9c9c9,#9a9a9a,#616161,#2a2a2a,#040404,#000,#090909,#2f2f2f,#5f5f5f,#8f8f8f,#b6b6b6,#d4d4d4,#e7e7e7,#f3f3f3,#f9f9f9,#fcfcfc,#fefefe,#fff,#fff,#fff,#fff,#fff)"></i><i style="background:linear-gradient(90deg,#fff,#fff,#fff,#fff,#fff,#fff,#fff,#fefefe,#f7f7f7,#e8e8e8,#c9c9c9,#9a9a9a,#616161,#2a2a2a,#040404,#000,#090909,#2f2f2f,#5f5f5f,#8f8f8f,#b6b6b6,#d4d4d4,#e7e7e7,#f3f3f3,#f9f9f9,#fcfcfc,#fefefe,#fff,#fff,#fff,#fff,#fff)"></i><i style="background:linear-gradient(90deg,#fff,#fff,#fff,#fff,#fff,#fff,#fff,#fdfdfd,#f7f7f7,#e7e7e7,#c8c8c8,#999,#606060,#292929,#040404,#000,#0a0a0a,#303030,#606060,#8f8f8f,#b7b7b7,#d4d4d4,#e7e7e7,#f3f3f3,#f9f9f9,#fcfcfc,#fefefe,#fff,#fff,#fff,#fff,#fff)"></i><i style="background:linear-gradient(90deg,#fff,#fff,#fff,#fff,#fff,#fff,#fff,#fdfdfd,#f7f7f7,#e6e6e6,#c7c7c7,#979797,#5e5e5e,#282828,#030303,#000,#0b0b0b,#313131,#616161,#919191,#b8b8b8,#d5d5d5,#e8e8e8,#f3f3f3,#f9f9f9,#fcfcfc,#fefefe,#fff,#fff,#fff,#fff,#fff)"></i><i style="background:linear-gradient(90deg,#fff,#fff,#fff,#fff,#fff,#fff,#fff,#fdfdfd,#f6f6f6,#e5e5e5,#c5c5c5,#959595,#5b5b5b,#262626,#020202,#000,#0c0c0c,#333,#646464,#939393,#b9b9b9,#d6d6d6,#e8e8e8,#f3f3f3,#fafafa,#fdfdfd,#fefefe,#fff,#fff,#fff,#fff,#fff)"></i><i style="background:linear-gradient(90deg,#fff,#fff,#fff,#fff,#fff,#fff,#fff,#fdfdfd,#f5f5f5,#e3e3e3,#c2c2c2,#919191,#585858,#242424,#010101,#000,#0f0f0f,#363636,#676767,#959595,#bbb,#d7d7d7,#e9e9e9,#f4f4f4,#fafafa,#fdfdfd,#fefefe,#fff,#fff,#fff,#fff,#fff)"></i><i style="background:linear-gradient(90deg,#fff,#fff,#fff,#fff,#fff,#fff,#fff,#fcfcfc,#f4f4f4,#e1e1e1,#bebebe,#8d8d8d,#545454,#212121,#010101,#000,#121212,#3a3a3a,#6a6a6a,#989898,#bebebe,#d9d9d9,#eaeaea,#f4f4f4,#fafafa,#fdfdfd,#fefefe,#fff,#fff,#fff,#fff,#fff)"></i><i style="background:linear-gradient(90deg,#fff,#fff,#fff,#fff,#fff,#fff,#fefefe,#fbfbfb,#f2f2f2,#dedede,#bababa,#878787,#4f4f4f,#1d1d1d,#000,#000,#151515,#3f3f3f,#6f6f6f,#9c9c9c,#c0c0c0,#dadada,#ebebeb,#f5f5f5,#fafafa,#fdfdfd,#fefefe,#fff,#fff,#fff,#fff,#fff)"></i><i style="background:linear-gradient(90deg,#fff,#fff,#fff,#fff,#fff,#fff,#fefefe,#fafafa,#f0f0f0,#dadada,#b4b4b4,#818181,#494949,#1a1a1a,#000,#000,#191919,#444,#747474,#a0a0a0,#c3c3c3,#dcdcdc,#ececec,#f6f6f6,#fbfbfb,#fdfdfd,#fefefe,#fff,#fff,#fff,#fff,#fff)"></i><i style="background:linear-gradient(90deg,#fff,#fff,#fff,#fff,#fff,#fff,#fefefe,#f9f9f9,#eee,#d6d6d6,#aeaeae,#7a7a7a,#434343,#161616,#000,#020202,#1e1e1e,#4a4a4a,#797979,#a5a5a5,#c7c7c7,#dfdfdf,#eee,#f6f6f6,#fbfbfb,#fdfdfd,#fefefe,#fff,#fff,#fff,#fff,#fff)"></i><i style="background:linear-gradient(90deg,#fff,#fff,#fff,#fff,#fff,#fff,#fdfdfd,#f8f8f8,#eaeaea,#d0d0d0,#a7a7a7,#737373,#3d3d3d,#121212,#000,#060606,#242424,#505050,#808080,#aaa,#cacaca,#e1e1e1,#efefef,#f7f7f7,#fbfbfb,#fdfdfd,#fefefe,#fff,#fff,#fff,#fff,#fff)"></i><i style="background:linear-gradient(90deg,#fff,#fff,#fff,#fff,#fff,#fefefe,#fcfcfc,#f6f6f6,#e7e7e7,#cacaca,#9f9f9f,#6a6a6a,#363636,#0e0e0e,#000,#0a0a0a,#2b2b2b,#585858,#868686,#afafaf,#cecece,#e3e3e3,#f0f0f0,#f8f8f8,#fcfcfc,#fefefe,#fefefe,#fff,#fff,#fff,#fff,#fff)"></i><i style="background:linear-gradient(90deg,#fff,#fff,#fff,#fff,#fff,#fefefe,#fbfbfb,#f3f3f3,#e2e2e2,#c3c3c3,#969696,#616161,#2f2f2f,#0b0b0b,#000,#0f0f0f,#323232,#606060,#8e8e8e,#b5b5b5,#d2d2d2,#e6e6e6,#f2f2f2,#f9f9f9,#fcfcfc,#fefefe,#fff,#fff,#fff,#fff,#fff,#fff)"></i><i style="background:linear-gradient(90deg,#fff,#fff,#fff,#fff,#fff,#fefefe,#fafafa,#f0f0f0,#dcdcdc,#bbb,#8d8d8d,#585858,#282828,#090909,#020202,#151515,#3b3b3b,#686868,#959595,#bababa,#d6d6d6,#e8e8e8,#f3f3f3,#f9f9f9,#fcfcfc,#fefefe,#fff,#fff,#fff,#fff,#fff,#fff)"></i><i style="background:linear-gradient(90deg,#fff,#fff,#fff,#fff,#fefefe,#fdfdfd,#f8f8f8,#ececec,#d6d6d6,#b2b2b2,#828282,#4e4e4e,#212121,#070707,#060606,#1c1c1c,#444,#727272,#9d9d9d,#c0c0c0,#dadada,#ebebeb,#f5f5f5,#fafafa,#fdfdfd,#fefefe,#fff,#fff,#fff,#fff,#fff,#fff)"></i><i style="background:linear-gradient(90deg,#fff,#fff,#fff,#fff,#fefefe,#fcfcfc,#f5f5f5,#e8e8e8,#cecece,#a8a8a8,#777,#444,#1b1b1b,#060606,#0a0a0a,#252525,#4e4e4e,#7b7b7b,#a5a5a5,#c6c6c6,#dedede,#ededed,#f6f6f6,#fbfbfb,#fdfdfd,#fefefe,#fff,#fff,#fff,#fff,#fff,#fff)"></i><i style="background:linear-gradient(90deg,#fff,#fff,#fff,#fff,#fdfdfd,#fafafa,#f2f2f2,#e2e2e2,#c6c6c6,#9d9d9d,#6b6b6b,#3a3a3a,#151515,#060606,#101010,#2e2e2e,#585858,#858585,#adadad,#ccc,#e2e2e2,#efefef,#f7f7f7,#fbfbfb,#fdfdfd,#fefefe,#fff,#fff,#fff,#fff,#fff,#fff)"></i><i style="background:linear-gradient(90deg,#fff,#fff,#fff,#fefefe,#fdfdfd,#f8f8f8,#eee,#dbdbdb,#bcbcbc,#919191,#5f5f5f,#313131,#111,#080808,#171717,#383838,#636363,#8f8f8f,#b5b5b5,#d2d2d2,#e5e5e5,#f1f1f1,#f8f8f8,#fcfcfc,#fefefe,#fefefe,#fff,#fff,#fff,#fff,#fff,#fff)"></i><i style="background:linear-gradient(90deg,#fff,#fff,#fff,#fefefe,#fbfbfb,#f6f6f6,#e9e9e9,#d3d3d3,#b1b1b1,#848484,#535353,#282828,#0e0e0e,#0b0b0b,#1f1f1f,#434343,#6f6f6f,#999,#bdbdbd,#d7d7d7,#e9e9e9,#f3f3f3,#f9f9f9,#fcfcfc,#fefefe,#fff,#fff,#fff,#fff,#fff,#fff,#fff)"></i><i style="background:linear-gradient(90deg,#fff,#fff,#fefefe,#fdfdfd,#fafafa,#f2f2f2,#e3e3e3,#cacaca,#a4a4a4,#767676,#474747,#202020,#0d0d0d,#101010,#292929,#4f4f4f,#7b7b7b,#a4a4a4,#c5c5c5,#dcdcdc,#ececec,#f5f5f5,#fafafa,#fdfdfd,#fefefe,#fff,#fff,#fff,#fff,#fff,#fff,#fff)"></i><i style="background:linear-gradient(90deg,#fff,#fff,#fefefe,#fcfcfc,#f8f8f8,#eee,#dcdcdc,#bfbfbf,#979797,#686868,#3b3b3b,#1a1a1a,#0d0d0d,#171717,#343434,#5c5c5c,#878787,#aeaeae,#ccc,#e1e1e1,#efefef,#f7f7f7,#fbfbfb,#fdfdfd,#fefefe,#fff,#fff,#fff,#fff,#fff,#fff,#fff)"></i><i style="background:linear-gradient(90deg,#fff,#fefefe,#fdfdfd,#fbfbfb,#f4f4f4,#e8e8e8,#d3d3d3,#b3b3b3,#898989,#5a5a5a,#313131,#161616,#101010,#202020,#404040,#6a6a6a,#939393,#b7b7b7,#d3d3d3,#e6e6e6,#f1f1f1,#f8f8f8,#fcfcfc,#fefefe,#fefefe,#fff,#fff,#fff,#fff,#fff,#fff,#fff)"></i><i style="background:linear-gradient(90deg,#fff,#fefefe,#fcfcfc,#f9f9f9,#f0f0f0,#e1e1e1,#c9c9c9,#a5a5a5,#7a7a7a,#4d4d4d,#282828,#131313,#141414,#2a2a2a,#4e4e4e,#777,#9f9f9f,#c1c1c1,#d9d9d9,#eaeaea,#f4f4f4,#fafafa,#fcfcfc,#fefefe,#fff,#fff,#fff,#fff,#fff,#fff,#fff,#fff)"></i><i style="background:linear-gradient(90deg,#fefefe,#fdfdfd,#fbfbfb,#f6f6f6,#ebebeb,#d9d9d9,#bdbdbd,#969696,#6a6a6a,#404040,#212121,#131313,#1b1b1b,#363636,#5c5c5c,#858585,#ababab,#c9c9c9,#dfdfdf,#ededed,#f6f6f6,#fbfbfb,#fdfdfd,#fefefe,#fff,#fff,#fff,#fff,#fff,#fff,#fff,#fefefe)"></i><i style="background:linear-gradient(90deg,#fefefe,#fcfcfc,#f9f9f9,#f2f2f2,#e5e5e5,#cfcfcf,#afafaf,#878787,#5b5b5b,#353535,#1c1c1c,#161616,#242424,#434343,#6a6a6a,#939393,#b6b6b6,#d1d1d1,#e4e4e4,#f1f1f1,#f8f8f8,#fcfcfc,#fdfdfd,#fefefe,#fff,#fff,#fff,#fff,#fff,#fff,#fff,#fefefe)"></i><i style="background:linear-gradient(90deg,#fdfdfd,#fbfbfb,#f6f6f6,#ededed,#dcdcdc,#c3c3c3,#a0a0a0,#777,#4d4d4d,#2b2b2b,#191919,#1b1b1b,#303030,#525252,#797979,#a0a0a0,#c0c0c0,#d9d9d9,#e9e9e9,#f3f3f3,#f9f9f9,#fcfcfc,#fefefe,#fff,#fff,#fff,#fff,#fff,#fff,#fff,#fefefe,#fdfdfd)"></i><i style="background:linear-gradient(90deg,#fcfcfc,#f9f9f9,#f2f2f2,#e6e6e6,#d3d3d3,#b6b6b6,#909090,#676767,#404040,#242424,#1a1a1a,#232323,#3d3d3d,#616161,#888,#adadad,#cacaca,#dfdfdf,#ededed,#f6f6f6,#fafafa,#fdfdfd,#fefefe,#fff,#fff,#fff,#fff,#fff,#fff,#fefefe,#fefefe,#fcfcfc)"></i><i style="background:linear-gradient(90deg,#fbfbfb,#f6f6f6,#ededed,#dedede,#c7c7c7,#a7a7a7,#808080,#575757,#353535,#202020,#1d1d1d,#2d2d2d,#4b4b4b,#717171,#979797,#b9b9b9,#d3d3d3,#e5e5e5,#f1f1f1,#f8f8f8,#fcfcfc,#fdfdfd,#fefefe,#fff,#fff,#fff,#fff,#fff,#fff,#fefefe,#fdfdfd,#fafafa)"></i><i style="background:linear-gradient(90deg,#f9f9f9,#f2f2f2,#e7e7e7,#d4d4d4,#b9b9b9,#969696,#6f6f6f,#494949,#2c2c2c,#1f1f1f,#242424,#393939,#5b5b5b,#818181,#a5a5a5,#c4c4c4,#dbdbdb,#eaeaea,#f4f4f4,#f9f9f9,#fcfcfc,#fefefe,#fff,#fff,#fff,#fff,#fff,#fff,#fefefe,#fdfdfd,#fcfcfc,#f8f8f8)"></i><i style="background:linear-gradient(90deg,#f6f6f6,#ededed,#dfdfdf,#c9c9c9,#aaa,#858585,#5f5f5f,#3d3d3d,#262626,#212121,#2d2d2d,#484848,#6b6b6b,#919191,#b3b3b3,#cecece,#e2e2e2,#eee,#f6f6f6,#fbfbfb,#fdfdfd,#fefefe,#fff,#fff,#fff,#fff,#fff,#fff,#fefefe,#fdfdfd,#fafafa,#f4f4f4)"></i><i style="background:linear-gradient(90deg,#f2f2f2,#e6e6e6,#d5d5d5,#bbb,#9a9a9a,#747474,#505050,#333,#242424,#262626,#393939,#585858,#7c7c7c,#a0a0a0,#bfbfbf,#d7d7d7,#e7e7e7,#f2f2f2,#f8f8f8,#fcfcfc,#fefefe,#fefefe,#fff,#fff,#fff,#fff,#fff,#fefefe,#fdfdfd,#fbfbfb,#f7f7f7,#efefef)"></i><i style="background:linear-gradient(90deg,#ececec,#dedede,#c8c8c8,#ababab,#888,#636363,#424242,#2c2c2c,#252525,#2f2f2f,#474747,#696969,#8d8d8d,#afafaf,#cacaca,#dfdfdf,#ededed,#f5f5f5,#fafafa,#fdfdfd,#fefefe,#fff,#fff,#fff,#fff,#fff,#fefefe,#fefefe,#fcfcfc,#f9f9f9,#f3f3f3,#e9e9e9)"></i><i style="background:linear-gradient(90deg,#e5e5e5,#d3d3d3,#bababa,#9b9b9b,#777,#545454,#383838,#292929,#2a2a2a,#3b3b3b,#575757,#7a7a7a,#9d9d9d,#bcbcbc,#d4d4d4,#e5e5e5,#f1f1f1,#f8f8f8,#fbfbfb,#fdfdfd,#fefefe,#fff,#fff,#fff,#fff,#fff,#fefefe,#fdfdfd,#fafafa,#f6f6f6,#eee,#e1e1e1)"></i><i style="background:linear-gradient(90deg,#dcdcdc,#c7c7c7,#ababab,#898989,#666,#464646,#313131,#292929,#323232,#494949,#686868,#8b8b8b,#acacac,#c8c8c8,#ddd,#ebebeb,#f4f4f4,#f9f9f9,#fcfcfc,#fefefe,#fefefe,#fff,#fff,#fff,#fff,#fefefe,#fdfdfd,#fbfbfb,#f8f8f8,#f2f2f2,#e7e7e7,#d7d7d7)"></i><i style="background:linear-gradient(90deg,#d1d1d1,#b8b8b8,#999,#777,#565656,#3c3c3c,#2d2d2d,#2e2e2e,#3e3e3e,#595959,#7a7a7a,#9c9c9c,#bbb,#d3d3d3,#e4e4e4,#f0f0f0,#f7f7f7,#fbfbfb,#fdfdfd,#fefefe,#fff,#fff,#fff,#fff,#fefefe,#fefefe,#fcfcfc,#fafafa,#f5f5f5,#ececec,#dfdfdf,#cbcbcb)"></i><i style="background:linear-gradient(90deg,#c4c4c4,#a8a8a8,#878787,#666,#484848,#343434,#2e2e2e,#373737,#4c4c4c,#6b6b6b,#8c8c8c,#acacac,#c7c7c7,#dcdcdc,#eaeaea,#f4f4f4,#f9f9f9,#fcfcfc,#fefefe,#fefefe,#fff,#fff,#fff,#fefefe,#fefefe,#fdfdfd,#fbfbfb,#f7f7f7,#f0f0f0,#e5e5e5,#d4d4d4,#bdbdbd)"></i><i style="background:linear-gradient(90deg,#b4b4b4,#969696,#757575,#565656,#3e3e3e,#313131,#333,#434343,#5d5d5d,#7d7d7d,#9e9e9e,#bbb,#d2d2d2,#e4e4e4,#efefef,#f7f7f7,#fbfbfb,#fdfdfd,#fefefe,#fff,#fff,#fff,#fff,#fefefe,#fdfdfd,#fbfbfb,#f8f8f8,#f3f3f3,#eaeaea,#dbdbdb,#c7c7c7,#adadad)"></i><i style="background:linear-gradient(90deg,#a3a3a3,#848484,#646464,#494949,#383838,#333,#3c3c3c,#515151,#6f6f6f,#8f8f8f,#aeaeae,#c8c8c8,#dcdcdc,#eaeaea,#f3f3f3,#f9f9f9,#fcfcfc,#fefefe,#fefefe,#fff,#fff,#fff,#fefefe,#fefefe,#fcfcfc,#f9f9f9,#f5f5f5,#ededed,#e1e1e1,#d0d0d0,#b9b9b9,#9c9c9c)"></i><i style="background:linear-gradient(90deg,#919191,#727272,#555,#404040,#353535,#383838,#484848,#626262,#818181,#a1a1a1,#bdbdbd,#d3d3d3,#e4e4e4,#f0f0f0,#f7f7f7,#fbfbfb,#fdfdfd,#fefefe,#fff,#fff,#fff,#fefefe,#fefefe,#fdfdfd,#fafafa,#f7f7f7,#f0f0f0,#e6e6e6,#d7d7d7,#c2c2c2,#a8a8a8,#8a8a8a)"></i><i style="background:linear-gradient(90deg,#7f7f7f,#626262,#494949,#3a3a3a,#383838,#424242,#585858,#757575,#949494,#b1b1b1,#cacaca,#ddd,#ebebeb,#f4f4f4,#f9f9f9,#fcfcfc,#fefefe,#fefefe,#fff,#fff,#fefefe,#fefefe,#fdfdfd,#fbfbfb,#f8f8f8,#f2f2f2,#eaeaea,#ddd,#cacaca,#b3b3b3,#969696,#787878)"></i><i style="background:linear-gradient(90deg,#6e6e6e,#535353,#414141,#393939,#3f3f3f,#505050,#696969,#878787,#a5a5a5,#c0c0c0,#d6d6d6,#e5e5e5,#f0f0f0,#f7f7f7,#fbfbfb,#fdfdfd,#fefefe,#fff,#fff,#fff,#fefefe,#fdfdfd,#fcfcfc,#f9f9f9,#f4f4f4,#ededed,#e1e1e1,#d1d1d1,#bcbcbc,#a1a1a1,#848484,#676767)"></i><i style="background:linear-gradient(90deg,#5e5e5e,#494949,#3d3d3d,#3d3d3d,#4a4a4a,#606060,#7c7c7c,#9a9a9a,#b6b6b6,#cdcdcd,#dfdfdf,#ececec,#f4f4f4,#f9f9f9,#fcfcfc,#fefefe,#fefefe,#fff,#fff,#fefefe,#fefefe,#fcfcfc,#fafafa,#f6f6f6,#efefef,#e5e5e5,#d7d7d7,#c3c3c3,#ababab,#8f8f8f,#727272,#585858)"></i><i style="background:linear-gradient(90deg,#515151,#424242,#3e3e3e,#464646,#585858,#727272,#8f8f8f,#ababab,#c5c5c5,#d9d9d9,#e7e7e7,#f1f1f1,#f7f7f7,#fbfbfb,#fdfdfd,#fefefe,#fefefe,#fff,#fefefe,#fefefe,#fdfdfd,#fafafa,#f7f7f7,#f1f1f1,#e8e8e8,#dbdbdb,#cacaca,#b4b4b4,#999,#7d7d7d,#626262,#4c4c4c)"></i><i style="background:linear-gradient(90deg,#484848,#404040,#444,#525252,#696969,#858585,#a1a1a1,#bcbcbc,#d1d1d1,#e2e2e2,#eee,#f5f5f5,#fafafa,#fcfcfc,#fefefe,#fefefe,#fff,#fefefe,#fefefe,#fdfdfd,#fbfbfb,#f8f8f8,#f3f3f3,#ebebeb,#dfdfdf,#cfcfcf,#bbb,#a2a2a2,#878787,#6c6c6c,#555,#454545)"></i><i style="background:linear-gradient(90deg,#444,#434343,#4e4e4e,#626262,#7c7c7c,#989898,#b3b3b3,#cacaca,#dcdcdc,#eaeaea,#f2f2f2,#f8f8f8,#fbfbfb,#fdfdfd,#fefefe,#fefefe,#fefefe,#fefefe,#fdfdfd,#fcfcfc,#f9f9f9,#f4f4f4,#ededed,#e3e3e3,#d4d4d4,#c1c1c1,#aaa,#909090,#757575,#5d5d5d,#4b4b4b,#434343)"></i><i style="background:linear-gradient(90deg,#444,#4b4b4b,#5c5c5c,#747474,#8f8f8f,#aaa,#c2c2c2,#d6d6d6,#e5e5e5,#efefef,#f6f6f6,#fafafa,#fdfdfd,#fefefe,#fefefe,#fefefe,#fefefe,#fdfdfd,#fcfcfc,#f9f9f9,#f5f5f5,#efefef,#e5e5e5,#d8d8d8,#c7c7c7,#b1b1b1,#989898,#7e7e7e,#656565,#525252,#464646,#454545)"></i><i style="background:linear-gradient(90deg,#4a4a4a,#585858,#6d6d6d,#878787,#a2a2a2,#bbb,#d0d0d0,#e0e0e0,#ececec,#f4f4f4,#f9f9f9,#fcfcfc,#fdfdfd,#fefefe,#fefefe,#fefefe,#fefefe,#fcfcfc,#fafafa,#f6f6f6,#f1f1f1,#e8e8e8,#dcdcdc,#cbcbcb,#b7b7b7,#9f9f9f,#868686,#6d6d6d,#585858,#4b4b4b,#464646,#4d4d4d)"></i><i style="background:linear-gradient(90deg,#545454,#676767,#7f7f7f,#9a9a9a,#b3b3b3,#c9c9c9,#dbdbdb,#e9e9e9,#f2f2f2,#f7f7f7,#fbfbfb,#fdfdfd,#fefefe,#fefefe,#fefefe,#fefefe,#fdfdfd,#fbfbfb,#f7f7f7,#f2f2f2,#eaeaea,#dedede,#cfcfcf,#bcbcbc,#a5a5a5,#8d8d8d,#747474,#5f5f5f,#4f4f4f,#494949,#4c4c4c,#585858)"></i><i style="background:linear-gradient(90deg,#636363,#797979,#939393,#acacac,#c3c3c3,#d6d6d6,#e5e5e5,#efefef,#f6f6f6,#fafafa,#fcfcfc,#fefefe,#fefefe,#fefefe,#fefefe,#fdfdfd,#fcfcfc,#f8f8f8,#f3f3f3,#ececec,#e1e1e1,#d3d3d3,#c1c1c1,#ababab,#939393,#7b7b7b,#656565,#545454,#4b4b4b,#4c4c4c,#565656,#686868)"></i><i style="background:linear-gradient(90deg,#747474,#8c8c8c,#a5a5a5,#bdbdbd,#d1d1d1,#e1e1e1,#ececec,#f4f4f4,#f9f9f9,#fcfcfc,#fdfdfd,#fefefe,#fefefe,#fefefe,#fefefe,#fcfcfc,#f9f9f9,#f5f5f5,#eee,#e4e4e4,#d6d6d6,#c4c4c4,#b0b0b0,#989898,#818181,#6b6b6b,#595959,#4e4e4e,#4d4d4d,#545454,#646464,#7a7a7a)"></i><i style="background:linear-gradient(90deg,#868686,#9f9f9f,#b7b7b7,#ccc,#ddd,#e9e9e9,#f2f2f2,#f7f7f7,#fbfbfb,#fdfdfd,#fefefe,#fefefe,#fefefe,#fefefe,#fdfdfd,#fbfbfb,#f6f6f6,#f0f0f0,#e6e6e6,#d9d9d9,#c8c8c8,#b4b4b4,#9d9d9d,#868686,#707070,#5d5d5d,#525252,#4e4e4e,#535353,#616161,#757575,#8d8d8d)"></i><i style="background:linear-gradient(90deg,#9a9a9a,#b1b1b1,#c7c7c7,#d8d8d8,#e6e6e6,#f0f0f0,#f6f6f6,#fafafa,#fcfcfc,#fefefe,#fefefe,#fefefe,#fefefe,#fdfdfd,#fcfcfc,#f8f8f8,#f2f2f2,#e9e9e9,#dcdcdc,#ccc,#b8b8b8,#a1a1a1,#8a8a8a,#747474,#616161,#545454,#4f4f4f,#535353,#5e5e5e,#717171,#878787,#a0a0a0)"></i><i style="background:linear-gradient(90deg,#acacac,#c2c2c2,#d4d4d4,#e3e3e3,#ededed,#f4f4f4,#f9f9f9,#fcfcfc,#fdfdfd,#fefefe,#fefefe,#fefefe,#fefefe,#fcfcfc,#fafafa,#f4f4f4,#ececec,#e0e0e0,#d0d0d0,#bcbcbc,#a5a5a5,#8e8e8e,#777,#646464,#575757,#505050,#525252,#5c5c5c,#6d6d6d,#838383,#9a9a9a,#b2b2b2)"></i><i style="background:linear-gradient(90deg,#bdbdbd,#d0d0d0,#dfdfdf,#ebebeb,#f3f3f3,#f8f8f8,#fbfbfb,#fdfdfd,#fefefe,#fefefe,#fff,#fefefe,#fdfdfd,#fbfbfb,#f7f7f7,#f0f0f0,#e4e4e4,#d5d5d5,#c1c1c1,#aaa,#919191,#7a7a7a,#666,#585858,#515151,#515151,#5a5a5a,#6a6a6a,#7f7f7f,#969696,#adadad,#c2c2c2)"></i><i style="background:linear-gradient(90deg,#cdcdcd,#dcdcdc,#e8e8e8,#f1f1f1,#f7f7f7,#fafafa,#fdfdfd,#fefefe,#fefefe,#fff,#fefefe,#fefefe,#fcfcfc,#f9f9f9,#f3f3f3,#e9e9e9,#dadada,#c7c7c7,#afafaf,#959595,#7d7d7d,#676767,#585858,#505050,#505050,#585858,#676767,#7b7b7b,#919191,#a9a9a9,#bebebe,#d1d1d1)"></i><i style="background:linear-gradient(90deg,#d9d9d9,#e6e6e6,#efefef,#f6f6f6,#fafafa,#fcfcfc,#fdfdfd,#fefefe,#fff,#fff,#fefefe,#fdfdfd,#fbfbfb,#f6f6f6,#eee,#e1e1e1,#cecece,#b6b6b6,#9b9b9b,#808080,#696969,#575757,#4e4e4e,#4d4d4d,#545454,#636363,#767676,#8d8d8d,#a4a4a4,#bababa,#cdcdcd,#ddd)"></i><i style="background:linear-gradient(90deg,#e4e4e4,#ededed,#f4f4f4,#f9f9f9,#fcfcfc,#fdfdfd,#fefefe,#fff,#fff,#fff,#fefefe,#fcfcfc,#f9f9f9,#f3f3f3,#e7e7e7,#d6d6d6,#bfbfbf,#a4a4a4,#868686,#6b6b6b,#565656,#4a4a4a,#484848,#4f4f4f,#5d5d5d,#717171,#888,#a0a0a0,#b6b6b6,#cacaca,#dadada,#e6e6e6)"></i><i style="background:linear-gradient(90deg,#ececec,#f3f3f3,#f8f8f8,#fbfbfb,#fdfdfd,#fefefe,#fefefe,#fff,#fff,#fefefe,#fdfdfd,#fbfbfb,#f7f7f7,#eee,#e0e0e0,#cacaca,#afafaf,#909090,#717171,#575757,#474747,#414141,#474747,#555,#6a6a6a,#828282,#9a9a9a,#b2b2b2,#c6c6c6,#d7d7d7,#e4e4e4,#eee)"></i><i style="background:linear-gradient(90deg,#f2f2f2,#f7f7f7,#fafafa,#fdfdfd,#fefefe,#fefefe,#fff,#fff,#fff,#fefefe,#fdfdfd,#fafafa,#f4f4f4,#e8e8e8,#d7d7d7,#bdbdbd,#9e9e9e,#7c7c7c,#5d5d5d,#464646,#3b3b3b,#3d3d3d,#4a4a4a,#5f5f5f,#797979,#939393,#acacac,#c2c2c2,#d4d4d4,#e2e2e2,#ececec,#f3f3f3)"></i><i style="background:linear-gradient(90deg,#f6f6f6,#fafafa,#fcfcfc,#fefefe,#fefefe,#fff,#fff,#fff,#fff,#fefefe,#fcfcfc,#f8f8f8,#f0f0f0,#e2e2e2,#cdcdcd,#afafaf,#8c8c8c,#696969,#4a4a4a,#373737,#333,#3c3c3c,#505050,#6b6b6b,#888,#a3a3a3,#bbb,#cfcfcf,#dfdfdf,#eaeaea,#f2f2f2,#f7f7f7)"></i><i style="background:linear-gradient(90deg,#f9f9f9,#fcfcfc,#fdfdfd,#fefefe,#fff,#fff,#fff,#fff,#fff,#fefefe,#fbfbfb,#f6f6f6,#ededed,#dcdcdc,#c3c3c3,#a2a2a2,#7c7c7c,#575757,#3b3b3b,#2c2c2c,#2e2e2e,#3e3e3e,#595959,#787878,#969696,#b2b2b2,#c9c9c9,#dadada,#e7e7e7,#f0f0f0,#f6f6f6,#fafafa)"></i><i style="background:linear-gradient(90deg,#fbfbfb,#fdfdfd,#fefefe,#fefefe,#fff,#fff,#fff,#fff,#fefefe,#fdfdfd,#fafafa,#f5f5f5,#e9e9e9,#d6d6d6,#bababa,#969696,#6e6e6e,#494949,#2f2f2f,#252525,#2c2c2c,#424242,#616161,#838383,#a3a3a3,#bdbdbd,#d3d3d3,#e2e2e2,#ededed,#f4f4f4,#f9f9f9,#fcfcfc)"></i><i style="background:linear-gradient(90deg,#fcfcfc,#fdfdfd,#fefefe,#fff,#fff,#fff,#fff,#fff,#fefefe,#fdfdfd,#fafafa,#f3f3f3,#e7e7e7,#d2d2d2,#b4b4b4,#8e8e8e,#656565,#414141,#282828,#212121,#2c2c2c,#464646,#676767,#8a8a8a,#aaa,#c4c4c4,#d9d9d9,#e7e7e7,#f0f0f0,#f7f7f7,#fafafa,#fcfcfc)"></i><i style="background:linear-gradient(90deg,#fcfcfc,#fdfdfd,#fefefe,#fff,#fff,#fff,#fff,#fff,#fefefe,#fdfdfd,#fafafa,#f3f3f3,#e7e7e7,#d2d2d2,#b4b4b4,#8e8e8e,#656565,#404040,#282828,#212121,#2c2c2c,#464646,#676767,#8a8a8a,#aaa,#c5c5c5,#d9d9d9,#e7e7e7,#f0f0f0,#f7f7f7,#fafafa,#fcfcfc)"></i></div>
<div class="hm" style="left:206px;top:293px;width:126px;height:126px"><i style="background:linear-gradient(90deg,#a6a6a6,#b1b1b1,#bcbcbc,#c5c5c5,#cecece,#d5d5d5,#dcdcdc,#e2e2e2,#e7e7e7,#ebebeb,#eee,#f0f0f0,#f0f0f0,#ededed,#e7e7e7,#ddd,#cfcfcf,#bcbcbc,#a6a6a6,#8f8f8f,#797979,#686868,#5c5c5c,#565656,#575757,#5d5d5d,#686868,#747474,#828282,#909090,#9d9d9d,#a9a9a9)"></i><i style="background:linear-gradient(90deg,#a6a6a6,#b1b1b1,#bcbcbc,#c5c5c5,#cecece,#d5d5d5,#dcdcdc,#e2e2e2,#e7e7e7,#ebebeb,#eee,#f0f0f0,#f0f0f0,#ededed,#e7e7e7,#ddd,#cfcfcf,#bcbcbc,#a6a6a6,#8f8f8f,#797979,#686868,#5c5c5c,#565656,#575757,#5e5e5e,#686868,#747474,#828282,#909090,#9d9d9d,#a9a9a9)"></i><i style="background:linear-gradient(90deg,#a3a3a3,#aeaeae,#b9b9b9,#c2c2c2,#cacaca,#d2d2d2,#d9d9d9,#dfdfdf,#e4e4e4,#e8e8e8,#ececec,#eee,#eee,#ededed,#e8e8e8,#dedede,#d1d1d1,#bfbfbf,#aaa,#949494,#7f7f7f,#6d6d6d,#606060,#5a5a5a,#5a5a5a,#5f5f5f,#686868,#747474,#808080,#8d8d8d,#9a9a9a,#a6a6a6)"></i><i style="background:linear-gradient(90deg,#9f9f9f,#aaa,#b4b4b4,#bdbdbd,#c5c5c5,#cdcdcd,#d4d4d4,#dadada,#dfdfdf,#e4e4e4,#e8e8e8,#ebebeb,#ececec,#ebebeb,#e8e8e8,#e0e0e0,#d5d5d5,#c5c5c5,#b2b2b2,#9d9d9d,#888,#767676,#686868,#616161,#5f5f5f,#626262,#696969,#737373,#7f7f7f,#8b8b8b,#969696,#a2a2a2)"></i><i style="background:linear-gradient(90deg,#9a9a9a,#a4a4a4,#aeaeae,#b6b6b6,#bebebe,#c6c6c6,#cdcdcd,#d3d3d3,#d9d9d9,#dedede,#e3e3e3,#e7e7e7,#e9e9e9,#e9e9e9,#e7e7e7,#e1e1e1,#d8d8d8,#cacaca,#b9b9b9,#a6a6a6,#939393,#818181,#737373,#696969,#656565,#666,#6c6c6c,#747474,#7d7d7d,#888,#939393,#9d9d9d)"></i><i style="background:linear-gradient(90deg,#969696,#9f9f9f,#a7a7a7,#b0b0b0,#b7b7b7,#bebebe,#c5c5c5,#ccc,#d2d2d2,#d8d8d8,#ddd,#e1e1e1,#e4e4e4,#e6e6e6,#e5e5e5,#e1e1e1,#dadada,#cfcfcf,#c1c1c1,#b0b0b0,#9e9e9e,#8d8d8d,#7f7f7f,#747474,#6e6e6e,#6d6d6d,#707070,#757575,#7d7d7d,#868686,#8f8f8f,#989898)"></i><i style="background:linear-gradient(90deg,#939393,#9a9a9a,#a2a2a2,#a9a9a9,#b0b0b0,#b6b6b6,#bdbdbd,#c3c3c3,#cacaca,#cfcfcf,#d5d5d5,#dadada,#dedede,#e1e1e1,#e2e2e2,#e0e0e0,#dbdbdb,#d3d3d3,#c8c8c8,#bababa,#aaa,#9a9a9a,#8c8c8c,#808080,#797979,#767676,#767676,#797979,#7f7f7f,#858585,#8d8d8d,#949494)"></i><i style="background:linear-gradient(90deg,#909090,#979797,#9d9d9d,#a3a3a3,#a9a9a9,#afafaf,#b5b5b5,#bbb,#c1c1c1,#c7c7c7,#ccc,#d2d2d2,#d7d7d7,#dadada,#ddd,#ddd,#dbdbdb,#d6d6d6,#cdcdcd,#c2c2c2,#b4b4b4,#a6a6a6,#999,#8e8e8e,#858585,#808080,#7e7e7e,#7f7f7f,#828282,#878787,#8c8c8c,#929292)"></i><i style="background:linear-gradient(90deg,#909090,#959595,#999,#9e9e9e,#a3a3a3,#a7a7a7,#adadad,#b2b2b2,#b8b8b8,#bdbdbd,#c3c3c3,#c9c9c9,#cecece,#d3d3d3,#d6d6d6,#d9d9d9,#d9d9d9,#d6d6d6,#d0d0d0,#c8c8c8,#bebebe,#b2b2b2,#a6a6a6,#9b9b9b,#929292,#8b8b8b,#888,#868686,#878787,#8a8a8a,#8d8d8d,#919191)"></i><i style="background:linear-gradient(90deg,#929292,#959595,#979797,#9b9b9b,#9e9e9e,#a2a2a2,#a6a6a6,#aaa,#afafaf,#b4b4b4,#bababa,#bfbfbf,#c5c5c5,#cacaca,#cfcfcf,#d2d2d2,#d4d4d4,#d4d4d4,#d1d1d1,#ccc,#c4c4c4,#bbb,#b1b1b1,#a7a7a7,#9e9e9e,#979797,#929292,#8f8f8f,#8e8e8e,#8f8f8f,#909090,#939393)"></i><i style="background:linear-gradient(90deg,#969696,#979797,#989898,#999,#9b9b9b,#9e9e9e,#a0a0a0,#a3a3a3,#a7a7a7,#acacac,#b1b1b1,#b6b6b6,#bbb,#c1c1c1,#c6c6c6,#cbcbcb,#cecece,#d0d0d0,#d0d0d0,#cdcdcd,#c8c8c8,#c2c2c2,#bababa,#b2b2b2,#aaa,#a3a3a3,#9d9d9d,#999,#979797,#969696,#969696,#969696)"></i><i style="background:linear-gradient(90deg,#9b9b9b,#9b9b9b,#9a9a9a,#9a9a9a,#9b9b9b,#9b9b9b,#9d9d9d,#9f9f9f,#a1a1a1,#a4a4a4,#a8a8a8,#adadad,#b2b2b2,#b7b7b7,#bdbdbd,#c2c2c2,#c6c6c6,#cacaca,#ccc,#ccc,#cacaca,#c6c6c6,#c1c1c1,#bababa,#b4b4b4,#aeaeae,#a8a8a8,#a4a4a4,#a0a0a0,#9e9e9e,#9c9c9c,#9b9b9b)"></i><i style="background:linear-gradient(90deg,#a2a2a2,#a1a1a1,#9f9f9f,#9e9e9e,#9c9c9c,#9c9c9c,#9b9b9b,#9c9c9c,#9d9d9d,#9f9f9f,#a1a1a1,#a5a5a5,#a9a9a9,#aeaeae,#b3b3b3,#b8b8b8,#bebebe,#c2c2c2,#c6c6c6,#c8c8c8,#c8c8c8,#c7c7c7,#c4c4c4,#c0c0c0,#bcbcbc,#b7b7b7,#b2b2b2,#adadad,#aaa,#a7a7a7,#a4a4a4,#a2a2a2)"></i><i style="background:linear-gradient(90deg,#aaa,#a8a8a8,#a5a5a5,#a3a3a3,#a0a0a0,#9e9e9e,#9c9c9c,#9b9b9b,#9b9b9b,#9b9b9b,#9c9c9c,#9e9e9e,#a1a1a1,#a5a5a5,#aaa,#afafaf,#b4b4b4,#b9b9b9,#bebebe,#c2c2c2,#c4c4c4,#c5c5c5,#c5c5c5,#c3c3c3,#c1c1c1,#bdbdbd,#bababa,#b6b6b6,#b3b3b3,#afafaf,#acacac,#aaa)"></i><i style="background:linear-gradient(90deg,#b3b3b3,#afafaf,#acacac,#a9a9a9,#a6a6a6,#a3a3a3,#a0a0a0,#9d9d9d,#9b9b9b,#9a9a9a,#9a9a9a,#9a9a9a,#9c9c9c,#9e9e9e,#a2a2a2,#a6a6a6,#ababab,#b0b0b0,#b5b5b5,#bababa,#bebebe,#c1c1c1,#c3c3c3,#c3c3c3,#c3c3c3,#c2c2c2,#c0c0c0,#bdbdbd,#bbb,#b8b8b8,#b5b5b5,#b2b2b2)"></i><i style="background:linear-gradient(90deg,#bababa,#b7b7b7,#b4b4b4,#b0b0b0,#adadad,#a9a9a9,#a5a5a5,#a1a1a1,#9e9e9e,#9b9b9b,#999,#989898,#989898,#999,#9b9b9b,#9e9e9e,#a2a2a2,#a7a7a7,#acacac,#b1b1b1,#b6b6b6,#bababa,#bebebe,#c1c1c1,#c2c2c2,#c3c3c3,#c3c3c3,#c2c2c2,#c1c1c1,#bfbfbf,#bcbcbc,#bababa)"></i><i style="background:linear-gradient(90deg,#c1c1c1,#bfbfbf,#bcbcbc,#b8b8b8,#b4b4b4,#b0b0b0,#ababab,#a7a7a7,#a2a2a2,#9e9e9e,#9b9b9b,#989898,#979797,#969696,#979797,#989898,#9b9b9b,#9f9f9f,#a3a3a3,#a8a8a8,#adadad,#b2b2b2,#b7b7b7,#bbb,#bfbfbf,#c1c1c1,#c3c3c3,#c4c4c4,#c4c4c4,#c4c4c4,#c2c2c2,#c0c0c0)"></i><i style="background:linear-gradient(90deg,#c6c6c6,#c5c5c5,#c3c3c3,#c0c0c0,#bcbcbc,#b8b8b8,#b3b3b3,#aeaeae,#a9a9a9,#a4a4a4,#9f9f9f,#9b9b9b,#989898,#959595,#949494,#949494,#959595,#989898,#9b9b9b,#9f9f9f,#a4a4a4,#aaa,#afafaf,#b4b4b4,#b9b9b9,#bdbdbd,#c1c1c1,#c4c4c4,#c6c6c6,#c6c6c6,#c7c7c7,#c6c6c6)"></i><i style="background:linear-gradient(90deg,#c9c9c9,#c9c9c9,#c8c8c8,#c6c6c6,#c3c3c3,#bfbfbf,#bbb,#b6b6b6,#b0b0b0,#ababab,#a5a5a5,#a0a0a0,#9b9b9b,#979797,#949494,#939393,#929292,#929292,#949494,#979797,#9c9c9c,#a0a0a0,#a6a6a6,#acacac,#b1b1b1,#b7b7b7,#bcbcbc,#c0c0c0,#c4c4c4,#c7c7c7,#c9c9c9,#c9c9c9)"></i><i style="background:linear-gradient(90deg,#cacaca,#ccc,#ccc,#cbcbcb,#c9c9c9,#c6c6c6,#c2c2c2,#bebebe,#b8b8b8,#b2b2b2,#acacac,#a6a6a6,#a1a1a1,#9c9c9c,#979797,#939393,#919191,#909090,#909090,#919191,#949494,#989898,#9d9d9d,#a3a3a3,#a9a9a9,#afafaf,#b5b5b5,#bbb,#c0c0c0,#c5c5c5,#c8c8c8,#cbcbcb)"></i><i style="background:linear-gradient(90deg,#c8c8c8,#ccc,#cecece,#cfcfcf,#cecece,#ccc,#c9c9c9,#c5c5c5,#c1c1c1,#bbb,#b5b5b5,#aeaeae,#a8a8a8,#a2a2a2,#9c9c9c,#979797,#939393,#909090,#8e8e8e,#8d8d8d,#8e8e8e,#919191,#959595,#999,#9f9f9f,#a6a6a6,#acacac,#b3b3b3,#bababa,#c0c0c0,#c5c5c5,#c9c9c9)"></i><i style="background:linear-gradient(90deg,#c4c4c4,#c9c9c9,#cdcdcd,#d0d0d0,#d1d1d1,#d1d1d1,#cfcfcf,#ccc,#c8c8c8,#c3c3c3,#bdbdbd,#b7b7b7,#b0b0b0,#a9a9a9,#a3a3a3,#9c9c9c,#979797,#929292,#8e8e8e,#8c8c8c,#8b8b8b,#8b8b8b,#8e8e8e,#919191,#969696,#9c9c9c,#a3a3a3,#aaa,#b2b2b2,#b9b9b9,#c0c0c0,#c6c6c6)"></i><i style="background:linear-gradient(90deg,#bebebe,#c5c5c5,#cacaca,#cfcfcf,#d2d2d2,#d3d3d3,#d3d3d3,#d2d2d2,#cfcfcf,#cbcbcb,#c6c6c6,#c0c0c0,#b9b9b9,#b2b2b2,#ababab,#a3a3a3,#9d9d9d,#969696,#919191,#8d8d8d,#8a8a8a,#888,#898989,#8a8a8a,#8e8e8e,#939393,#999,#a0a0a0,#a8a8a8,#b0b0b0,#b8b8b8,#bfbfbf)"></i><i style="background:linear-gradient(90deg,#b5b5b5,#bdbdbd,#c5c5c5,#cbcbcb,#d0d0d0,#d4d4d4,#d6d6d6,#d6d6d6,#d5d5d5,#d2d2d2,#cecece,#c8c8c8,#c2c2c2,#bbb,#b4b4b4,#acacac,#a4a4a4,#9d9d9d,#969696,#909090,#8b8b8b,#888,#868686,#868686,#878787,#8b8b8b,#909090,#969696,#9e9e9e,#a6a6a6,#afafaf,#b7b7b7)"></i><i style="background:linear-gradient(90deg,#ababab,#b4b4b4,#bdbdbd,#c5c5c5,#ccc,#d2d2d2,#d6d6d6,#d8d8d8,#d8d8d8,#d7d7d7,#d4d4d4,#d0d0d0,#cbcbcb,#c4c4c4,#bdbdbd,#b5b5b5,#adadad,#a5a5a5,#9d9d9d,#969696,#909090,#8a8a8a,#868686,#848484,#838383,#848484,#888,#8d8d8d,#939393,#9b9b9b,#a4a4a4,#adadad)"></i><i style="background:linear-gradient(90deg,#a0a0a0,#aaa,#b4b4b4,#bdbdbd,#c6c6c6,#cecece,#d4d4d4,#d8d8d8,#dadada,#dbdbdb,#d9d9d9,#d7d7d7,#d2d2d2,#cdcdcd,#c6c6c6,#bfbfbf,#b7b7b7,#afafaf,#a6a6a6,#9e9e9e,#969696,#8f8f8f,#898989,#848484,#818181,#808080,#818181,#858585,#8a8a8a,#919191,#999,#a2a2a2)"></i><i style="background:linear-gradient(90deg,#959595,#9e9e9e,#a9a9a9,#b3b3b3,#bebebe,#c7c7c7,#cfcfcf,#d5d5d5,#dadada,#dcdcdc,#ddd,#dcdcdc,#d9d9d9,#d4d4d4,#cfcfcf,#c8c8c8,#c1c1c1,#b8b8b8,#b0b0b0,#a7a7a7,#9e9e9e,#959595,#8e8e8e,#878787,#828282,#7f7f7f,#7d7d7d,#7e7e7e,#818181,#878787,#8e8e8e,#979797)"></i><i style="background:linear-gradient(90deg,#898989,#939393,#9d9d9d,#a8a8a8,#b3b3b3,#bebebe,#c8c8c8,#d1d1d1,#d7d7d7,#dcdcdc,#dedede,#dfdfdf,#dedede,#dbdbdb,#d6d6d6,#d1d1d1,#cacaca,#c2c2c2,#bababa,#b1b1b1,#a7a7a7,#9e9e9e,#959595,#8d8d8d,#858585,#808080,#7c7c7c,#7a7a7a,#7b7b7b,#7e7e7e,#848484,#8c8c8c)"></i><i style="background:linear-gradient(90deg,#7f7f7f,#878787,#919191,#9c9c9c,#a8a8a8,#b4b4b4,#bfbfbf,#cacaca,#d3d3d3,#d9d9d9,#dedede,#e1e1e1,#e1e1e1,#e0e0e0,#ddd,#d8d8d8,#d3d3d3,#ccc,#c3c3c3,#bbb,#b1b1b1,#a7a7a7,#9e9e9e,#949494,#8b8b8b,#848484,#7d7d7d,#797979,#777,#787878,#7b7b7b,#818181)"></i><i style="background:linear-gradient(90deg,#777,#7d7d7d,#858585,#8f8f8f,#9b9b9b,#a8a8a8,#b5b5b5,#c1c1c1,#ccc,#d5d5d5,#dcdcdc,#e0e0e0,#e3e3e3,#e3e3e3,#e2e2e2,#dfdfdf,#dadada,#d4d4d4,#cdcdcd,#c5c5c5,#bcbcbc,#b2b2b2,#a8a8a8,#9d9d9d,#939393,#8a8a8a,#828282,#7b7b7b,#767676,#747474,#757575,#787878)"></i><i style="background:linear-gradient(90deg,#717171,#747474,#7a7a7a,#838383,#8e8e8e,#9b9b9b,#a8a8a8,#b6b6b6,#c3c3c3,#cecece,#d7d7d7,#dedede,#e3e3e3,#e5e5e5,#e5e5e5,#e4e4e4,#e0e0e0,#dcdcdc,#d6d6d6,#cecece,#c6c6c6,#bcbcbc,#b2b2b2,#a7a7a7,#9d9d9d,#929292,#888,#7f7f7f,#787878,#737373,#717171,#727272)"></i><i style="background:linear-gradient(90deg,#6e6e6e,#6e6e6e,#717171,#787878,#818181,#8d8d8d,#9b9b9b,#a9a9a9,#b8b8b8,#c5c5c5,#d0d0d0,#dadada,#e1e1e1,#e5e5e5,#e7e7e7,#e7e7e7,#e6e6e6,#e2e2e2,#ddd,#d7d7d7,#cfcfcf,#c6c6c6,#bdbdbd,#b2b2b2,#a7a7a7,#9c9c9c,#909090,#868686,#7c7c7c,#757575,#707070,#6d6d6d)"></i><i style="background:linear-gradient(90deg,#6d6d6d,#6a6a6a,#6a6a6a,#6e6e6e,#767676,#808080,#8d8d8d,#9c9c9c,#ababab,#bababa,#c8c8c8,#d3d3d3,#ddd,#e3e3e3,#e7e7e7,#e9e9e9,#e9e9e9,#e7e7e7,#e3e3e3,#dedede,#d8d8d8,#d0d0d0,#c7c7c7,#bdbdbd,#b2b2b2,#a6a6a6,#9a9a9a,#8f8f8f,#838383,#797979,#717171,#6c6c6c)"></i><i style="background:linear-gradient(90deg,#6f6f6f,#696969,#666,#676767,#6b6b6b,#747474,#808080,#8e8e8e,#9e9e9e,#aeaeae,#bdbdbd,#cbcbcb,#d7d7d7,#e0e0e0,#e6e6e6,#eaeaea,#ebebeb,#ebebeb,#e8e8e8,#e5e5e5,#dfdfdf,#d9d9d9,#d1d1d1,#c7c7c7,#bdbdbd,#b1b1b1,#a5a5a5,#999,#8c8c8c,#808080,#767676,#6e6e6e)"></i><i style="background:linear-gradient(90deg,#747474,#6b6b6b,#656565,#626262,#636363,#696969,#737373,#808080,#8f8f8f,#a0a0a0,#b1b1b1,#c1c1c1,#cfcfcf,#dadada,#e3e3e3,#e9e9e9,#ececec,#ededed,#ececec,#eaeaea,#e6e6e6,#e0e0e0,#d9d9d9,#d1d1d1,#c7c7c7,#bcbcbc,#b0b0b0,#a4a4a4,#969696,#898989,#7d7d7d,#727272)"></i><i style="background:linear-gradient(90deg,#7c7c7c,#707070,#666,#606060,#5e5e5e,#606060,#676767,#727272,#818181,#929292,#a4a4a4,#b5b5b5,#c6c6c6,#d3d3d3,#dedede,#e6e6e6,#ececec,#eee,#efefef,#eee,#ebebeb,#e6e6e6,#e1e1e1,#dadada,#d1d1d1,#c7c7c7,#bcbcbc,#afafaf,#a2a2a2,#949494,#868686,#797979)"></i><i style="background:linear-gradient(90deg,#858585,#777,#6b6b6b,#616161,#5b5b5b,#595959,#5d5d5d,#666,#727272,#838383,#959595,#a8a8a8,#bbb,#cbcbcb,#d8d8d8,#e2e2e2,#eaeaea,#eee,#f0f0f0,#f0f0f0,#efefef,#ececec,#e7e7e7,#e1e1e1,#dadada,#d1d1d1,#c6c6c6,#bababa,#adadad,#9f9f9f,#909090,#828282)"></i><i style="background:linear-gradient(90deg,#909090,#808080,#727272,#656565,#5b5b5b,#565656,#555,#5b5b5b,#656565,#747474,#868686,#9a9a9a,#aeaeae,#c0c0c0,#d0d0d0,#ddd,#e6e6e6,#ededed,#f0f0f0,#f2f2f2,#f2f2f2,#f0f0f0,#ececec,#e7e7e7,#e1e1e1,#d9d9d9,#d0d0d0,#c5c5c5,#b9b9b9,#ababab,#9c9c9c,#8c8c8c)"></i><i style="background:linear-gradient(90deg,#9c9c9c,#8b8b8b,#7b7b7b,#6b6b6b,#5e5e5e,#555,#505050,#525252,#595959,#666,#777,#8b8b8b,#a0a0a0,#b5b5b5,#c7c7c7,#d6d6d6,#e2e2e2,#eaeaea,#f0f0f0,#f3f3f3,#f3f3f3,#f3f3f3,#f0f0f0,#ededed,#e8e8e8,#e1e1e1,#d9d9d9,#cfcfcf,#c4c4c4,#b7b7b7,#a8a8a8,#989898)"></i><i style="background:linear-gradient(90deg,#a8a8a8,#979797,#858585,#747474,#646464,#575757,#4e4e4e,#4b4b4b,#4f4f4f,#595959,#686868,#7c7c7c,#929292,#a8a8a8,#bcbcbc,#cecece,#dcdcdc,#e6e6e6,#eee,#f2f2f2,#f4f4f4,#f5f5f5,#f3f3f3,#f1f1f1,#ededed,#e8e8e8,#e1e1e1,#d8d8d8,#cecece,#c2c2c2,#b4b4b4,#a4a4a4)"></i><i style="background:linear-gradient(90deg,#b4b4b4,#a3a3a3,#919191,#7e7e7e,#6c6c6c,#5c5c5c,#4f4f4f,#484848,#474747,#4d4d4d,#5a5a5a,#6c6c6c,#828282,#9a9a9a,#b0b0b0,#c4c4c4,#d5d5d5,#e2e2e2,#ebebeb,#f1f1f1,#f4f4f4,#f6f6f6,#f6f6f6,#f4f4f4,#f1f1f1,#ededed,#e7e7e7,#e0e0e0,#d7d7d7,#ccc,#bfbfbf,#b0b0b0)"></i><i style="background:linear-gradient(90deg,#bfbfbf,#b0b0b0,#9e9e9e,#8a8a8a,#767676,#636363,#535353,#474747,#424242,#444,#4d4d4d,#5e5e5e,#737373,#8b8b8b,#a3a3a3,#b9b9b9,#cdcdcd,#dcdcdc,#e7e7e7,#efefef,#f4f4f4,#f6f6f6,#f7f7f7,#f6f6f6,#f4f4f4,#f1f1f1,#ededed,#e7e7e7,#dfdfdf,#d6d6d6,#cacaca,#bcbcbc)"></i><i style="background:linear-gradient(90deg,#cacaca,#bbb,#aaa,#979797,#828282,#6d6d6d,#595959,#494949,#3f3f3f,#3c3c3c,#424242,#505050,#646464,#7c7c7c,#959595,#aeaeae,#c3c3c3,#d5d5d5,#e3e3e3,#ececec,#f2f2f2,#f6f6f6,#f8f8f8,#f8f8f8,#f7f7f7,#f5f5f5,#f1f1f1,#ececec,#e6e6e6,#dedede,#d3d3d3,#c7c7c7)"></i><i style="background:linear-gradient(90deg,#d4d4d4,#c6c6c6,#b6b6b6,#a3a3a3,#8e8e8e,#787878,#616161,#4e4e4e,#3f3f3f,#373737,#393939,#434343,#555,#6c6c6c,#878787,#a1a1a1,#b9b9b9,#cdcdcd,#ddd,#e9e9e9,#f0f0f0,#f5f5f5,#f8f8f8,#f9f9f9,#f9f9f9,#f7f7f7,#f5f5f5,#f1f1f1,#ececec,#e5e5e5,#dcdcdc,#d1d1d1)"></i><i style="background:linear-gradient(90deg,#dcdcdc,#d0d0d0,#c2c2c2,#b0b0b0,#9b9b9b,#848484,#6c6c6c,#555,#424242,#353535,#313131,#383838,#474747,#5d5d5d,#787878,#949494,#aeaeae,#c4c4c4,#d7d7d7,#e4e4e4,#eee,#f4f4f4,#f8f8f8,#f9f9f9,#fafafa,#f9f9f9,#f7f7f7,#f4f4f4,#f0f0f0,#ebebeb,#e3e3e3,#d9d9d9)"></i><i style="background:linear-gradient(90deg,#e3e3e3,#d9d9d9,#ccc,#bcbcbc,#a8a8a8,#909090,#777,#5d5d5d,#474747,#353535,#2d2d2d,#2e2e2e,#3a3a3a,#4e4e4e,#696969,#868686,#a2a2a2,#bbb,#d0d0d0,#e0e0e0,#ebebeb,#f2f2f2,#f7f7f7,#fafafa,#fafafa,#fafafa,#f9f9f9,#f7f7f7,#f4f4f4,#efefef,#e9e9e9,#e1e1e1)"></i><i style="background:linear-gradient(90deg,#e9e9e9,#e1e1e1,#d5d5d5,#c7c7c7,#b4b4b4,#9d9d9d,#838383,#686868,#4e4e4e,#383838,#2a2a2a,#272727,#2f2f2f,#414141,#5a5a5a,#787878,#969696,#b1b1b1,#c8c8c8,#dadada,#e7e7e7,#f0f0f0,#f6f6f6,#f9f9f9,#fbfbfb,#fbfbfb,#fbfbfb,#f9f9f9,#f7f7f7,#f3f3f3,#eee,#e8e8e8)"></i><i style="background:linear-gradient(90deg,#eee,#e7e7e7,#dedede,#d1d1d1,#bfbfbf,#aaa,#909090,#737373,#565656,#3d3d3d,#2a2a2a,#212121,#252525,#343434,#4c4c4c,#696969,#898989,#a6a6a6,#c0c0c0,#d4d4d4,#e3e3e3,#eee,#f5f5f5,#f9f9f9,#fbfbfb,#fcfcfc,#fcfcfc,#fbfbfb,#f9f9f9,#f6f6f6,#f2f2f2,#ededed)"></i><i style="background:linear-gradient(90deg,#f2f2f2,#ededed,#e5e5e5,#d9d9d9,#cacaca,#b6b6b6,#9d9d9d,#808080,#616161,#434343,#2c2c2c,#1e1e1e,#1d1d1d,#282828,#3e3e3e,#5c5c5c,#7c7c7c,#9b9b9b,#b7b7b7,#cecece,#dfdfdf,#ebebeb,#f3f3f3,#f8f8f8,#fbfbfb,#fcfcfc,#fcfcfc,#fcfcfc,#fbfbfb,#f9f9f9,#f6f6f6,#f1f1f1)"></i><i style="background:linear-gradient(90deg,#f6f6f6,#f1f1f1,#eaeaea,#e1e1e1,#d3d3d3,#c1c1c1,#a9a9a9,#8c8c8c,#6c6c6c,#4b4b4b,#2f2f2f,#1d1d1d,#171717,#1e1e1e,#323232,#4e4e4e,#6f6f6f,#909090,#aeaeae,#c7c7c7,#dadada,#e8e8e8,#f1f1f1,#f7f7f7,#fafafa,#fcfcfc,#fdfdfd,#fdfdfd,#fcfcfc,#fafafa,#f8f8f8,#f5f5f5)"></i><i style="background:linear-gradient(90deg,#f8f8f8,#f5f5f5,#efefef,#e7e7e7,#dcdcdc,#cbcbcb,#b5b5b5,#989898,#777,#545454,#353535,#1d1d1d,#121212,#151515,#262626,#414141,#626262,#858585,#a5a5a5,#c0c0c0,#d5d5d5,#e4e4e4,#efefef,#f6f6f6,#fafafa,#fcfcfc,#fdfdfd,#fdfdfd,#fdfdfd,#fcfcfc,#fafafa,#f7f7f7)"></i><i style="background:linear-gradient(90deg,#fafafa,#f7f7f7,#f3f3f3,#ededed,#e3e3e3,#d4d4d4,#c0c0c0,#a4a4a4,#838383,#5e5e5e,#3b3b3b,#1f1f1f,#0f0f0f,#0e0e0e,#1c1c1c,#353535,#565656,#7a7a7a,#9c9c9c,#b9b9b9,#d0d0d0,#e1e1e1,#ededed,#f4f4f4,#f9f9f9,#fcfcfc,#fdfdfd,#fdfdfd,#fdfdfd,#fdfdfd,#fbfbfb,#f9f9f9)"></i><i style="background:linear-gradient(90deg,#fbfbfb,#f9f9f9,#f6f6f6,#f1f1f1,#e9e9e9,#dcdcdc,#c9c9c9,#afafaf,#8e8e8e,#686868,#434343,#222,#0e0e0e,#080808,#121212,#2a2a2a,#4b4b4b,#6f6f6f,#939393,#b2b2b2,#cbcbcb,#ddd,#eaeaea,#f3f3f3,#f8f8f8,#fbfbfb,#fdfdfd,#fefefe,#fefefe,#fdfdfd,#fcfcfc,#fbfbfb)"></i><i style="background:linear-gradient(90deg,#fcfcfc,#fbfbfb,#f8f8f8,#f4f4f4,#eee,#e3e3e3,#d2d2d2,#bababa,#999,#737373,#4a4a4a,#272727,#0e0e0e,#040404,#0a0a0a,#202020,#404040,#656565,#8a8a8a,#ababab,#c5c5c5,#dadada,#e8e8e8,#f1f1f1,#f7f7f7,#fbfbfb,#fdfdfd,#fefefe,#fefefe,#fefefe,#fdfdfd,#fcfcfc)"></i><i style="background:linear-gradient(90deg,#fdfdfd,#fcfcfc,#fafafa,#f7f7f7,#f2f2f2,#e9e9e9,#dadada,#c3c3c3,#a3a3a3,#7c7c7c,#525252,#2b2b2b,#0e0e0e,#000,#040404,#171717,#363636,#5b5b5b,#818181,#a4a4a4,#c0c0c0,#d6d6d6,#e6e6e6,#f0f0f0,#f7f7f7,#fafafa,#fdfdfd,#fefefe,#fefefe,#fefefe,#fefefe,#fdfdfd)"></i><i style="background:linear-gradient(90deg,#fefefe,#fdfdfd,#fcfcfc,#f9f9f9,#f5f5f5,#ededed,#e0e0e0,#cbcbcb,#acacac,#868686,#5a5a5a,#313131,#101010,#000,#000,#0f0f0f,#2d2d2d,#535353,#7a7a7a,#9e9e9e,#bcbcbc,#d3d3d3,#e3e3e3,#efefef,#f6f6f6,#fafafa,#fcfcfc,#fefefe,#fefefe,#fefefe,#fefefe,#fefefe)"></i><i style="background:linear-gradient(90deg,#fefefe,#fefefe,#fdfdfd,#fbfbfb,#f8f8f8,#f1f1f1,#e5e5e5,#d2d2d2,#b5b5b5,#8e8e8e,#626262,#363636,#121212,#000,#000,#080808,#252525,#4b4b4b,#727272,#989898,#b7b7b7,#d0d0d0,#e1e1e1,#ededed,#f5f5f5,#fafafa,#fcfcfc,#fefefe,#fefefe,#fefefe,#fefefe,#fefefe)"></i><i style="background:linear-gradient(90deg,#fefefe,#fefefe,#fdfdfd,#fcfcfc,#f9f9f9,#f4f4f4,#eaeaea,#d8d8d8,#bcbcbc,#969696,#696969,#3b3b3b,#141414,#000,#000,#030303,#1e1e1e,#444,#6c6c6c,#929292,#b3b3b3,#cdcdcd,#dfdfdf,#ececec,#f4f4f4,#f9f9f9,#fcfcfc,#fdfdfd,#fefefe,#fefefe,#fefefe,#fefefe)"></i><i style="background:linear-gradient(90deg,#fff,#fefefe,#fefefe,#fdfdfd,#fbfbfb,#f7f7f7,#ededed,#ddd,#c2c2c2,#9c9c9c,#6f6f6f,#3f3f3f,#171717,#000,#000,#000,#191919,#3e3e3e,#676767,#8e8e8e,#b0b0b0,#cacaca,#dedede,#ebebeb,#f4f4f4,#f9f9f9,#fcfcfc,#fdfdfd,#fefefe,#fff,#fff,#fefefe)"></i><i style="background:linear-gradient(90deg,#fff,#fefefe,#fefefe,#fefefe,#fcfcfc,#f8f8f8,#f0f0f0,#e0e0e0,#c6c6c6,#a1a1a1,#747474,#434343,#191919,#000,#000,#000,#141414,#393939,#626262,#8a8a8a,#adadad,#c8c8c8,#dcdcdc,#eaeaea,#f3f3f3,#f8f8f8,#fcfcfc,#fdfdfd,#fefefe,#fff,#fff,#fff)"></i><i style="background:linear-gradient(90deg,#fff,#fff,#fefefe,#fefefe,#fdfdfd,#fafafa,#f2f2f2,#e3e3e3,#cacaca,#a5a5a5,#777,#464646,#1a1a1a,#000,#000,#000,#111,#353535,#5f5f5f,#878787,#aaa,#c6c6c6,#dbdbdb,#e9e9e9,#f3f3f3,#f8f8f8,#fbfbfb,#fdfdfd,#fefefe,#fff,#fff,#fff)"></i><i style="background:linear-gradient(90deg,#fff,#fff,#fff,#fefefe,#fdfdfd,#fafafa,#f3f3f3,#e5e5e5,#ccc,#a8a8a8,#7a7a7a,#484848,#1c1c1c,#000,#000,#000,#0f0f0f,#333,#5d5d5d,#858585,#a9a9a9,#c5c5c5,#dadada,#e9e9e9,#f2f2f2,#f8f8f8,#fbfbfb,#fdfdfd,#fefefe,#fff,#fff,#fff)"></i><i style="background:linear-gradient(90deg,#fff,#fff,#fff,#fefefe,#fdfdfd,#fbfbfb,#f4f4f4,#e6e6e6,#cdcdcd,#a9a9a9,#7b7b7b,#4a4a4a,#1c1c1c,#000,#000,#000,#0d0d0d,#323232,#5b5b5b,#848484,#a8a8a8,#c5c5c5,#dadada,#e9e9e9,#f2f2f2,#f8f8f8,#fbfbfb,#fdfdfd,#fefefe,#fff,#fff,#fff)"></i><i style="background:linear-gradient(90deg,#fff,#fff,#fff,#fefefe,#fdfdfd,#fbfbfb,#f4f4f4,#e6e6e6,#cdcdcd,#a9a9a9,#7b7b7b,#4a4a4a,#1c1c1c,#000,#000,#000,#0d0d0d,#323232,#5b5b5b,#848484,#a8a8a8,#c5c5c5,#dadada,#e9e9e9,#f2f2f2,#f8f8f8,#fbfbfb,#fdfdfd,#fefefe,#fff,#fff,#fff)"></i><i style="background:linear-gradient(90deg,#fff,#fff,#fff,#fefefe,#fdfdfd,#fafafa,#f3f3f3,#e5e5e5,#ccc,#a8a8a8,#7a7a7a,#484848,#1c1c1c,#000,#000,#000,#0f0f0f,#333,#5d5d5d,#858585,#a9a9a9,#c5c5c5,#dadada,#e9e9e9,#f2f2f2,#f8f8f8,#fbfbfb,#fdfdfd,#fefefe,#fff,#fff,#fff)"></i><i style="background:linear-gradient(90deg,#fff,#fff,#fefefe,#fefefe,#fdfdfd,#fafafa,#f2f2f2,#e3e3e3,#cacaca,#a5a5a5,#777,#464646,#1a1a1a,#000,#000,#000,#111,#353535,#5f5f5f,#878787,#aaa,#c6c6c6,#dbdbdb,#e9e9e9,#f3f3f3,#f8f8f8,#fbfbfb,#fdfdfd,#fefefe,#fff,#fff,#fff)"></i><i style="background:linear-gradient(90deg,#fff,#fefefe,#fefefe,#fefefe,#fcfcfc,#f8f8f8,#f0f0f0,#e0e0e0,#c6c6c6,#a1a1a1,#747474,#434343,#191919,#000,#000,#000,#141414,#393939,#626262,#8a8a8a,#adadad,#c8c8c8,#dcdcdc,#eaeaea,#f3f3f3,#f8f8f8,#fcfcfc,#fdfdfd,#fefefe,#fff,#fff,#fff)"></i><i style="background:linear-gradient(90deg,#fff,#fefefe,#fefefe,#fdfdfd,#fbfbfb,#f7f7f7,#ededed,#ddd,#c2c2c2,#9c9c9c,#6f6f6f,#3f3f3f,#171717,#000,#000,#000,#191919,#3e3e3e,#676767,#8e8e8e,#b0b0b0,#cacaca,#dedede,#ebebeb,#f4f4f4,#f9f9f9,#fcfcfc,#fdfdfd,#fefefe,#fff,#fff,#fefefe)"></i><i style="background:linear-gradient(90deg,#fefefe,#fefefe,#fdfdfd,#fcfcfc,#f9f9f9,#f4f4f4,#eaeaea,#d8d8d8,#bcbcbc,#969696,#696969,#3b3b3b,#141414,#000,#000,#030303,#1e1e1e,#444,#6c6c6c,#929292,#b3b3b3,#cdcdcd,#dfdfdf,#ececec,#f4f4f4,#f9f9f9,#fcfcfc,#fdfdfd,#fefefe,#fefefe,#fefefe,#fefefe)"></i><i style="background:linear-gradient(90deg,#fefefe,#fefefe,#fdfdfd,#fbfbfb,#f8f8f8,#f1f1f1,#e5e5e5,#d2d2d2,#b5b5b5,#8e8e8e,#626262,#363636,#121212,#000,#000,#080808,#252525,#4b4b4b,#727272,#989898,#b7b7b7,#d0d0d0,#e1e1e1,#ededed,#f5f5f5,#fafafa,#fcfcfc,#fefefe,#fefefe,#fefefe,#fefefe,#fefefe)"></i><i style="background:linear-gradient(90deg,#fefefe,#fdfdfd,#fcfcfc,#f9f9f9,#f5f5f5,#ededed,#e0e0e0,#cbcbcb,#acacac,#868686,#5a5a5a,#313131,#101010,#000,#000,#0f0f0f,#2d2d2d,#535353,#7a7a7a,#9e9e9e,#bcbcbc,#d3d3d3,#e3e3e3,#efefef,#f6f6f6,#fafafa,#fcfcfc,#fefefe,#fefefe,#fefefe,#fefefe,#fefefe)"></i><i style="background:linear-gradient(90deg,#fdfdfd,#fcfcfc,#fafafa,#f7f7f7,#f2f2f2,#e9e9e9,#dadada,#c3c3c3,#a3a3a3,#7c7c7c,#525252,#2b2b2b,#0e0e0e,#000,#040404,#171717,#363636,#5b5b5b,#818181,#a4a4a4,#c0c0c0,#d6d6d6,#e6e6e6,#f0f0f0,#f7f7f7,#fafafa,#fdfdfd,#fefefe,#fefefe,#fefefe,#fefefe,#fdfdfd)"></i><i style="background:linear-gradient(90deg,#fcfcfc,#fbfbfb,#f8f8f8,#f4f4f4,#eee,#e3e3e3,#d2d2d2,#bababa,#999,#737373,#4a4a4a,#272727,#0e0e0e,#040404,#0a0a0a,#202020,#404040,#656565,#8a8a8a,#ababab,#c5c5c5,#dadada,#e8e8e8,#f1f1f1,#f7f7f7,#fbfbfb,#fdfdfd,#fefefe,#fefefe,#fefefe,#fdfdfd,#fcfcfc)"></i><i style="background:linear-gradient(90deg,#fbfbfb,#f9f9f9,#f6f6f6,#f1f1f1,#e9e9e9,#dcdcdc,#c9c9c9,#afafaf,#8e8e8e,#686868,#434343,#222,#0e0e0e,#080808,#121212,#2a2a2a,#4b4b4b,#6f6f6f,#939393,#b2b2b2,#cbcbcb,#ddd,#eaeaea,#f3f3f3,#f8f8f8,#fbfbfb,#fdfdfd,#fefefe,#fefefe,#fdfdfd,#fcfcfc,#fbfbfb)"></i><i style="background:linear-gradient(90deg,#fafafa,#f7f7f7,#f3f3f3,#ededed,#e3e3e3,#d4d4d4,#c0c0c0,#a4a4a4,#838383,#5e5e5e,#3b3b3b,#1f1f1f,#0f0f0f,#0e0e0e,#1c1c1c,#353535,#565656,#7a7a7a,#9c9c9c,#b9b9b9,#d0d0d0,#e1e1e1,#ededed,#f4f4f4,#f9f9f9,#fcfcfc,#fdfdfd,#fdfdfd,#fdfdfd,#fdfdfd,#fbfbfb,#f9f9f9)"></i><i style="background:linear-gradient(90deg,#f8f8f8,#f5f5f5,#efefef,#e7e7e7,#dcdcdc,#cbcbcb,#b5b5b5,#989898,#777,#545454,#353535,#1d1d1d,#121212,#151515,#262626,#414141,#626262,#858585,#a5a5a5,#c0c0c0,#d5d5d5,#e4e4e4,#efefef,#f6f6f6,#fafafa,#fcfcfc,#fdfdfd,#fdfdfd,#fdfdfd,#fcfcfc,#fafafa,#f7f7f7)"></i><i style="background:linear-gradient(90deg,#f6f6f6,#f1f1f1,#eaeaea,#e1e1e1,#d3d3d3,#c1c1c1,#a9a9a9,#8c8c8c,#6c6c6c,#4b4b4b,#2f2f2f,#1d1d1d,#171717,#1e1e1e,#323232,#4e4e4e,#6f6f6f,#909090,#aeaeae,#c7c7c7,#dadada,#e8e8e8,#f1f1f1,#f7f7f7,#fafafa,#fcfcfc,#fdfdfd,#fdfdfd,#fcfcfc,#fafafa,#f8f8f8,#f5f5f5)"></i><i style="background:linear-gradient(90deg,#f2f2f2,#ededed,#e5e5e5,#d9d9d9,#cacaca,#b6b6b6,#9d9d9d,#808080,#616161,#434343,#2c2c2c,#1e1e1e,#1d1d1d,#282828,#3e3e3e,#5c5c5c,#7c7c7c,#9b9b9b,#b7b7b7,#cecece,#dfdfdf,#ebebeb,#f3f3f3,#f8f8f8,#fbfbfb,#fcfcfc,#fcfcfc,#fcfcfc,#fbfbfb,#f9f9f9,#f6f6f6,#f1f1f1)"></i><i style="background:linear-gradient(90deg,#eee,#e7e7e7,#dedede,#d1d1d1,#bfbfbf,#aaa,#909090,#737373,#565656,#3d3d3d,#2a2a2a,#212121,#252525,#343434,#4c4c4c,#696969,#898989,#a6a6a6,#c0c0c0,#d4d4d4,#e3e3e3,#eee,#f5f5f5,#f9f9f9,#fbfbfb,#fcfcfc,#fcfcfc,#fbfbfb,#f9f9f9,#f6f6f6,#f2f2f2,#ededed)"></i><i style="background:linear-gradient(90deg,#e9e9e9,#e1e1e1,#d5d5d5,#c7c7c7,#b4b4b4,#9d9d9d,#838383,#686868,#4e4e4e,#383838,#2a2a2a,#272727,#2f2f2f,#414141,#5a5a5a,#787878,#969696,#b1b1b1,#c8c8c8,#dadada,#e7e7e7,#f0f0f0,#f6f6f6,#f9f9f9,#fbfbfb,#fbfbfb,#fbfbfb,#f9f9f9,#f7f7f7,#f3f3f3,#eee,#e8e8e8)"></i><i style="background:linear-gradient(90deg,#e3e3e3,#d9d9d9,#ccc,#bcbcbc,#a8a8a8,#909090,#777,#5d5d5d,#474747,#353535,#2d2d2d,#2e2e2e,#3a3a3a,#4e4e4e,#696969,#868686,#a2a2a2,#bbb,#d0d0d0,#e0e0e0,#ebebeb,#f2f2f2,#f7f7f7,#fafafa,#fafafa,#fafafa,#f9f9f9,#f7f7f7,#f4f4f4,#efefef,#e9e9e9,#e1e1e1)"></i><i style="background:linear-gradient(90deg,#dcdcdc,#d0d0d0,#c2c2c2,#b0b0b0,#9b9b9b,#848484,#6c6c6c,#555,#424242,#353535,#313131,#383838,#474747,#5d5d5d,#787878,#949494,#aeaeae,#c4c4c4,#d7d7d7,#e4e4e4,#eee,#f4f4f4,#f8f8f8,#f9f9f9,#fafafa,#f9f9f9,#f7f7f7,#f4f4f4,#f0f0f0,#ebebeb,#e3e3e3,#d9d9d9)"></i><i style="background:linear-gradient(90deg,#d4d4d4,#c6c6c6,#b6b6b6,#a3a3a3,#8e8e8e,#787878,#616161,#4e4e4e,#3f3f3f,#373737,#393939,#434343,#555,#6c6c6c,#878787,#a1a1a1,#b9b9b9,#cdcdcd,#ddd,#e9e9e9,#f0f0f0,#f5f5f5,#f8f8f8,#f9f9f9,#f9f9f9,#f7f7f7,#f5f5f5,#f1f1f1,#ececec,#e5e5e5,#dcdcdc,#d1d1d1)"></i><i style="background:linear-gradient(90deg,#cacaca,#bbb,#aaa,#979797,#828282,#6d6d6d,#595959,#494949,#3f3f3f,#3c3c3c,#424242,#505050,#646464,#7c7c7c,#959595,#aeaeae,#c3c3c3,#d5d5d5,#e3e3e3,#ececec,#f2f2f2,#f6f6f6,#f8f8f8,#f8f8f8,#f7f7f7,#f5f5f5,#f1f1f1,#ececec,#e6e6e6,#dedede,#d3d3d3,#c7c7c7)"></i><i style="background:linear-gradient(90deg,#bfbfbf,#b0b0b0,#9e9e9e,#8a8a8a,#767676,#636363,#535353,#474747,#424242,#444,#4d4d4d,#5e5e5e,#737373,#8b8b8b,#a3a3a3,#b9b9b9,#cdcdcd,#dcdcdc,#e7e7e7,#efefef,#f4f4f4,#f6f6f6,#f7f7f7,#f6f6f6,#f4f4f4,#f1f1f1,#ededed,#e7e7e7,#dfdfdf,#d6d6d6,#cacaca,#bcbcbc)"></i><i style="background:linear-gradient(90deg,#b4b4b4,#a3a3a3,#919191,#7e7e7e,#6c6c6c,#5c5c5c,#4f4f4f,#484848,#474747,#4d4d4d,#5a5a5a,#6c6c6c,#828282,#9a9a9a,#b0b0b0,#c4c4c4,#d5d5d5,#e2e2e2,#ebebeb,#f1f1f1,#f4f4f4,#f6f6f6,#f6f6f6,#f4f4f4,#f1f1f1,#ededed,#e7e7e7,#e0e0e0,#d7d7d7,#ccc,#bfbfbf,#b0b0b0)"></i><i style="background:linear-gradient(90deg,#a8a8a8,#979797,#858585,#747474,#646464,#575757,#4e4e4e,#4b4b4b,#4f4f4f,#595959,#686868,#7c7c7c,#929292,#a8a8a8,#bcbcbc,#cecece,#dcdcdc,#e6e6e6,#eee,#f2f2f2,#f4f4f4,#f5f5f5,#f3f3f3,#f1f1f1,#ededed,#e8e8e8,#e1e1e1,#d8d8d8,#cecece,#c2c2c2,#b4b4b4,#a4a4a4)"></i><i style="background:linear-gradient(90deg,#9c9c9c,#8b8b8b,#7b7b7b,#6b6b6b,#5e5e5e,#555,#505050,#525252,#595959,#666,#777,#8b8b8b,#a0a0a0,#b5b5b5,#c7c7c7,#d6d6d6,#e2e2e2,#eaeaea,#f0f0f0,#f3f3f3,#f3f3f3,#f3f3f3,#f0f0f0,#ededed,#e8e8e8,#e1e1e1,#d9d9d9,#cfcfcf,#c4c4c4,#b7b7b7,#a8a8a8,#989898)"></i><i style="background:linear-gradient(90deg,#909090,#808080,#727272,#656565,#5b5b5b,#565656,#555,#5b5b5b,#656565,#747474,#868686,#9a9a9a,#aeaeae,#c0c0c0,#d0d0d0,#ddd,#e6e6e6,#ededed,#f0f0f0,#f2f2f2,#f2f2f2,#f0f0f0,#ececec,#e7e7e7,#e1e1e1,#d9d9d9,#d0d0d0,#c5c5c5,#b9b9b9,#ababab,#9c9c9c,#8c8c8c)"></i><i style="background:linear-gradient(90deg,#858585,#777,#6b6b6b,#616161,#5b5b5b,#595959,#5d5d5d,#666,#727272,#838383,#959595,#a8a8a8,#bbb,#cbcbcb,#d8d8d8,#e2e2e2,#eaeaea,#eee,#f0f0f0,#f0f0f0,#efefef,#ececec,#e7e7e7,#e1e1e1,#dadada,#d1d1d1,#c6c6c6,#bababa,#adadad,#9f9f9f,#909090,#828282)"></i><i style="background:linear-gradient(90deg,#7c7c7c,#707070,#666,#606060,#5e5e5e,#606060,#676767,#727272,#818181,#929292,#a4a4a4,#b5b5b5,#c6c6c6,#d3d3d3,#dedede,#e6e6e6,#ececec,#eee,#efefef,#eee,#ebebeb,#e6e6e6,#e1e1e1,#dadada,#d1d1d1,#c7c7c7,#bcbcbc,#afafaf,#a2a2a2,#949494,#868686,#797979)"></i><i style="background:linear-gradient(90deg,#747474,#6b6b6b,#656565,#626262,#636363,#696969,#737373,#808080,#8f8f8f,#a0a0a0,#b1b1b1,#c1c1c1,#cfcfcf,#dadada,#e3e3e3,#e9e9e9,#ececec,#ededed,#ececec,#eaeaea,#e6e6e6,#e0e0e0,#d9d9d9,#d1d1d1,#c7c7c7,#bcbcbc,#b0b0b0,#a4a4a4,#969696,#898989,#7d7d7d,#727272)"></i><i style="background:linear-gradient(90deg,#6f6f6f,#696969,#666,#676767,#6b6b6b,#747474,#808080,#8e8e8e,#9e9e9e,#aeaeae,#bdbdbd,#cbcbcb,#d7d7d7,#e0e0e0,#e6e6e6,#eaeaea,#ebebeb,#ebebeb,#e8e8e8,#e5e5e5,#dfdfdf,#d9d9d9,#d1d1d1,#c7c7c7,#bdbdbd,#b1b1b1,#a5a5a5,#999,#8c8c8c,#808080,#767676,#6e6e6e)"></i><i style="background:linear-gradient(90deg,#6d6d6d,#6a6a6a,#6a6a6a,#6e6e6e,#767676,#808080,#8d8d8d,#9c9c9c,#ababab,#bababa,#c8c8c8,#d3d3d3,#ddd,#e3e3e3,#e7e7e7,#e9e9e9,#e9e9e9,#e7e7e7,#e3e3e3,#dedede,#d8d8d8,#d0d0d0,#c7c7c7,#bdbdbd,#b2b2b2,#a6a6a6,#9a9a9a,#8f8f8f,#838383,#797979,#717171,#6c6c6c)"></i><i style="background:linear-gradient(90deg,#6e6e6e,#6e6e6e,#717171,#787878,#818181,#8d8d8d,#9b9b9b,#a9a9a9,#b8b8b8,#c5c5c5,#d0d0d0,#dadada,#e1e1e1,#e5e5e5,#e7e7e7,#e7e7e7,#e6e6e6,#e2e2e2,#ddd,#d7d7d7,#cfcfcf,#c6c6c6,#bdbdbd,#b2b2b2,#a7a7a7,#9c9c9c,#909090,#868686,#7c7c7c,#757575,#707070,#6d6d6d)"></i><i style="background:linear-gradient(90deg,#717171,#747474,#7a7a7a,#838383,#8e8e8e,#9b9b9b,#a8a8a8,#b6b6b6,#c3c3c3,#cecece,#d7d7d7,#dedede,#e3e3e3,#e5e5e5,#e5e5e5,#e4e4e4,#e0e0e0,#dcdcdc,#d6d6d6,#cecece,#c6c6c6,#bcbcbc,#b2b2b2,#a7a7a7,#9d9d9d,#929292,#888,#7f7f7f,#787878,#737373,#717171,#727272)"></i><i style="background:linear-gradient(90deg,#777,#7d7d7d,#858585,#8f8f8f,#9b9b9b,#a8a8a8,#b5b5b5,#c1c1c1,#ccc,#d5d5d5,#dcdcdc,#e0e0e0,#e3e3e3,#e3e3e3,#e2e2e2,#dfdfdf,#dadada,#d4d4d4,#cdcdcd,#c5c5c5,#bcbcbc,#b2b2b2,#a8a8a8,#9d9d9d,#939393,#8a8a8a,#828282,#7b7b7b,#767676,#747474,#757575,#787878)"></i><i style="background:linear-gradient(90deg,#7f7f7f,#878787,#919191,#9c9c9c,#a8a8a8,#b4b4b4,#bfbfbf,#cacaca,#d3d3d3,#d9d9d9,#dedede,#e1e1e1,#e1e1e1,#e0e0e0,#ddd,#d8d8d8,#d3d3d3,#ccc,#c3c3c3,#bbb,#b1b1b1,#a7a7a7,#9e9e9e,#949494,#8b8b8b,#848484,#7d7d7d,#797979,#777,#787878,#7b7b7b,#818181)"></i><i style="background:linear-gradient(90deg,#898989,#939393,#9d9d9d,#a8a8a8,#b3b3b3,#bebebe,#c8c8c8,#d1d1d1,#d7d7d7,#dcdcdc,#dedede,#dfdfdf,#dedede,#dbdbdb,#d6d6d6,#d1d1d1,#cacaca,#c2c2c2,#bababa,#b1b1b1,#a7a7a7,#9e9e9e,#959595,#8d8d8d,#858585,#808080,#7c7c7c,#7a7a7a,#7b7b7b,#7e7e7e,#848484,#8c8c8c)"></i><i style="background:linear-gradient(90deg,#959595,#9e9e9e,#a9a9a9,#b3b3b3,#bebebe,#c7c7c7,#cfcfcf,#d5d5d5,#dadada,#dcdcdc,#ddd,#dcdcdc,#d9d9d9,#d4d4d4,#cfcfcf,#c8c8c8,#c1c1c1,#b8b8b8,#b0b0b0,#a7a7a7,#9e9e9e,#959595,#8e8e8e,#878787,#828282,#7f7f7f,#7d7d7d,#7e7e7e,#818181,#878787,#8e8e8e,#979797)"></i><i style="background:linear-gradient(90deg,#a0a0a0,#aaa,#b4b4b4,#bdbdbd,#c6c6c6,#cecece,#d4d4d4,#d8d8d8,#dadada,#dbdbdb,#d9d9d9,#d7d7d7,#d2d2d2,#cdcdcd,#c6c6c6,#bfbfbf,#b7b7b7,#afafaf,#a6a6a6,#9e9e9e,#969696,#8f8f8f,#898989,#848484,#818181,#808080,#818181,#858585,#8a8a8a,#919191,#999,#a2a2a2)"></i><i style="background:linear-gradient(90deg,#ababab,#b4b4b4,#bdbdbd,#c5c5c5,#ccc,#d2d2d2,#d6d6d6,#d8d8d8,#d8d8d8,#d7d7d7,#d4d4d4,#d0d0d0,#cbcbcb,#c4c4c4,#bdbdbd,#b5b5b5,#adadad,#a5a5a5,#9d9d9d,#969696,#909090,#8a8a8a,#868686,#848484,#838383,#848484,#888,#8d8d8d,#939393,#9b9b9b,#a4a4a4,#adadad)"></i><i style="background:linear-gradient(90deg,#b5b5b5,#bdbdbd,#c5c5c5,#cbcbcb,#d0d0d0,#d4d4d4,#d6d6d6,#d6d6d6,#d5d5d5,#d2d2d2,#cecece,#c8c8c8,#c2c2c2,#bbb,#b4b4b4,#acacac,#a4a4a4,#9d9d9d,#969696,#909090,#8b8b8b,#888,#868686,#868686,#878787,#8b8b8b,#909090,#969696,#9e9e9e,#a6a6a6,#afafaf,#b7b7b7)"></i><i style="background:linear-gradient(90deg,#bebebe,#c5c5c5,#cacaca,#cfcfcf,#d2d2d2,#d3d3d3,#d3d3d3,#d2d2d2,#cfcfcf,#cbcbcb,#c6c6c6,#c0c0c0,#b9b9b9,#b2b2b2,#ababab,#a3a3a3,#9d9d9d,#969696,#919191,#8d8d8d,#8a8a8a,#888,#898989,#8a8a8a,#8e8e8e,#939393,#999,#a0a0a0,#a8a8a8,#b0b0b0,#b8b8b8,#bfbfbf)"></i><i style="background:linear-gradient(90deg,#c4c4c4,#c9c9c9,#cdcdcd,#d0d0d0,#d1d1d1,#d1d1d1,#cfcfcf,#ccc,#c8c8c8,#c3c3c3,#bdbdbd,#b7b7b7,#b0b0b0,#a9a9a9,#a3a3a3,#9c9c9c,#979797,#929292,#8e8e8e,#8c8c8c,#8b8b8b,#8b8b8b,#8e8e8e,#919191,#969696,#9c9c9c,#a3a3a3,#aaa,#b2b2b2,#b9b9b9,#c0c0c0,#c6c6c6)"></i><i style="background:linear-gradient(90deg,#c8c8c8,#ccc,#cecece,#cfcfcf,#cecece,#ccc,#c9c9c9,#c5c5c5,#c1c1c1,#bbb,#b5b5b5,#aeaeae,#a8a8a8,#a2a2a2,#9c9c9c,#979797,#939393,#909090,#8e8e8e,#8d8d8d,#8e8e8e,#919191,#959595,#999,#9f9f9f,#a6a6a6,#acacac,#b3b3b3,#bababa,#c0c0c0,#c5c5c5,#c9c9c9)"></i><i style="background:linear-gradient(90deg,#cacaca,#ccc,#ccc,#cbcbcb,#c9c9c9,#c6c6c6,#c2c2c2,#bebebe,#b8b8b8,#b2b2b2,#acacac,#a6a6a6,#a1a1a1,#9c9c9c,#979797,#939393,#919191,#909090,#909090,#919191,#949494,#989898,#9d9d9d,#a3a3a3,#a9a9a9,#afafaf,#b5b5b5,#bbb,#c0c0c0,#c5c5c5,#c8c8c8,#cbcbcb)"></i><i style="background:linear-gradient(90deg,#c9c9c9,#c9c9c9,#c8c8c8,#c6c6c6,#c3c3c3,#bfbfbf,#bbb,#b6b6b6,#b0b0b0,#ababab,#a5a5a5,#a0a0a0,#9b9b9b,#979797,#949494,#939393,#929292,#929292,#949494,#979797,#9c9c9c,#a0a0a0,#a6a6a6,#acacac,#b1b1b1,#b7b7b7,#bcbcbc,#c0c0c0,#c4c4c4,#c7c7c7,#c9c9c9,#c9c9c9)"></i><i style="background:linear-gradient(90deg,#c6c6c6,#c5c5c5,#c3c3c3,#c0c0c0,#bcbcbc,#b8b8b8,#b3b3b3,#aeaeae,#a9a9a9,#a4a4a4,#9f9f9f,#9b9b9b,#989898,#959595,#949494,#949494,#959595,#989898,#9b9b9b,#9f9f9f,#a4a4a4,#aaa,#afafaf,#b4b4b4,#b9b9b9,#bdbdbd,#c1c1c1,#c4c4c4,#c6c6c6,#c6c6c6,#c7c7c7,#c6c6c6)"></i><i style="background:linear-gradient(90deg,#c1c1c1,#bfbfbf,#bcbcbc,#b8b8b8,#b4b4b4,#b0b0b0,#ababab,#a7a7a7,#a2a2a2,#9e9e9e,#9b9b9b,#989898,#979797,#969696,#979797,#989898,#9b9b9b,#9f9f9f,#a3a3a3,#a8a8a8,#adadad,#b2b2b2,#b7b7b7,#bbb,#bfbfbf,#c1c1c1,#c3c3c3,#c4c4c4,#c4c4c4,#c4c4c4,#c2c2c2,#c0c0c0)"></i><i style="background:linear-gradient(90deg,#bababa,#b7b7b7,#b4b4b4,#b0b0b0,#adadad,#a9a9a9,#a5a5a5,#a1a1a1,#9e9e9e,#9b9b9b,#999,#989898,#989898,#999,#9b9b9b,#9e9e9e,#a2a2a2,#a7a7a7,#acacac,#b1b1b1,#b6b6b6,#bababa,#bebebe,#c1c1c1,#c2c2c2,#c3c3c3,#c3c3c3,#c2c2c2,#c1c1c1,#bfbfbf,#bcbcbc,#bababa)"></i><i style="background:linear-gradient(90deg,#b3b3b3,#afafaf,#acacac,#a9a9a9,#a6a6a6,#a3a3a3,#a0a0a0,#9d9d9d,#9b9b9b,#9a9a9a,#9a9a9a,#9a9a9a,#9c9c9c,#9e9e9e,#a2a2a2,#a6a6a6,#ababab,#b0b0b0,#b5b5b5,#bababa,#bebebe,#c1c1c1,#c3c3c3,#c3c3c3,#c3c3c3,#c2c2c2,#c0c0c0,#bdbdbd,#bbb,#b8b8b8,#b5b5b5,#b2b2b2)"></i><i style="background:linear-gradient(90deg,#aaa,#a8a8a8,#a5a5a5,#a3a3a3,#a0a0a0,#9e9e9e,#9c9c9c,#9b9b9b,#9b9b9b,#9b9b9b,#9c9c9c,#9e9e9e,#a1a1a1,#a5a5a5,#aaa,#afafaf,#b4b4b4,#b9b9b9,#bebebe,#c2c2c2,#c4c4c4,#c5c5c5,#c5c5c5,#c3c3c3,#c1c1c1,#bdbdbd,#bababa,#b6b6b6,#b3b3b3,#afafaf,#acacac,#aaa)"></i><i style="background:linear-gradient(90deg,#a2a2a2,#a1a1a1,#9f9f9f,#9e9e9e,#9c9c9c,#9c9c9c,#9b9b9b,#9c9c9c,#9d9d9d,#9f9f9f,#a1a1a1,#a5a5a5,#a9a9a9,#aeaeae,#b3b3b3,#b8b8b8,#bebebe,#c2c2c2,#c6c6c6,#c8c8c8,#c8c8c8,#c7c7c7,#c4c4c4,#c0c0c0,#bcbcbc,#b7b7b7,#b2b2b2,#adadad,#aaa,#a7a7a7,#a4a4a4,#a2a2a2)"></i><i style="background:linear-gradient(90deg,#9b9b9b,#9b9b9b,#9a9a9a,#9a9a9a,#9b9b9b,#9b9b9b,#9d9d9d,#9f9f9f,#a1a1a1,#a4a4a4,#a8a8a8,#adadad,#b2b2b2,#b7b7b7,#bdbdbd,#c2c2c2,#c6c6c6,#cacaca,#ccc,#ccc,#cacaca,#c6c6c6,#c1c1c1,#bababa,#b4b4b4,#aeaeae,#a8a8a8,#a4a4a4,#a0a0a0,#9e9e9e,#9c9c9c,#9b9b9b)"></i><i style="background:linear-gradient(90deg,#969696,#979797,#989898,#999,#9b9b9b,#9e9e9e,#a0a0a0,#a3a3a3,#a7a7a7,#acacac,#b1b1b1,#b6b6b6,#bbb,#c1c1c1,#c6c6c6,#cbcbcb,#cecece,#d0d0d0,#d0d0d0,#cdcdcd,#c8c8c8,#c2c2c2,#bababa,#b2b2b2,#aaa,#a3a3a3,#9d9d9d,#999,#979797,#969696,#969696,#969696)"></i><i style="background:linear-gradient(90deg,#929292,#959595,#979797,#9b9b9b,#9e9e9e,#a2a2a2,#a6a6a6,#aaa,#afafaf,#b4b4b4,#bababa,#bfbfbf,#c5c5c5,#cacaca,#cfcfcf,#d2d2d2,#d4d4d4,#d4d4d4,#d1d1d1,#ccc,#c4c4c4,#bbb,#b1b1b1,#a7a7a7,#9e9e9e,#979797,#929292,#8f8f8f,#8e8e8e,#8f8f8f,#909090,#939393)"></i><i style="background:linear-gradient(90deg,#909090,#959595,#999,#9e9e9e,#a3a3a3,#a7a7a7,#adadad,#b2b2b2,#b8b8b8,#bdbdbd,#c3c3c3,#c9c9c9,#cecece,#d3d3d3,#d6d6d6,#d9d9d9,#d9d9d9,#d6d6d6,#d0d0d0,#c8c8c8,#bebebe,#b2b2b2,#a6a6a6,#9b9b9b,#929292,#8b8b8b,#888,#868686,#878787,#8a8a8a,#8d8d8d,#919191)"></i><i style="background:linear-gradient(90deg,#909090,#979797,#9d9d9d,#a3a3a3,#a9a9a9,#afafaf,#b5b5b5,#bbb,#c1c1c1,#c7c7c7,#ccc,#d2d2d2,#d7d7d7,#dadada,#ddd,#ddd,#dbdbdb,#d6d6d6,#cdcdcd,#c2c2c2,#b4b4b4,#a6a6a6,#999,#8e8e8e,#858585,#808080,#7e7e7e,#7f7f7f,#828282,#878787,#8c8c8c,#929292)"></i><i style="background:linear-gradient(90deg,#939393,#9a9a9a,#a2a2a2,#a9a9a9,#b0b0b0,#b6b6b6,#bdbdbd,#c3c3c3,#cacaca,#cfcfcf,#d5d5d5,#dadada,#dedede,#e1e1e1,#e2e2e2,#e0e0e0,#dbdbdb,#d3d3d3,#c8c8c8,#bababa,#aaa,#9a9a9a,#8c8c8c,#808080,#797979,#767676,#767676,#797979,#7f7f7f,#858585,#8d8d8d,#949494)"></i><i style="background:linear-gradient(90deg,#969696,#9f9f9f,#a7a7a7,#b0b0b0,#b7b7b7,#bebebe,#c5c5c5,#ccc,#d2d2d2,#d8d8d8,#ddd,#e1e1e1,#e4e4e4,#e6e6e6,#e5e5e5,#e1e1e1,#dadada,#cfcfcf,#c1c1c1,#b0b0b0,#9e9e9e,#8d8d8d,#7f7f7f,#747474,#6e6e6e,#6d6d6d,#707070,#757575,#7d7d7d,#868686,#8f8f8f,#989898)"></i><i style="background:linear-gradient(90deg,#9a9a9a,#a4a4a4,#aeaeae,#b6b6b6,#bebebe,#c6c6c6,#cdcdcd,#d3d3d3,#d9d9d9,#dedede,#e3e3e3,#e7e7e7,#e9e9e9,#e9e9e9,#e7e7e7,#e1e1e1,#d8d8d8,#cacaca,#b9b9b9,#a6a6a6,#939393,#818181,#737373,#696969,#656565,#666,#6c6c6c,#747474,#7d7d7d,#888,#939393,#9d9d9d)"></i><i style="background:linear-gradient(90deg,#9f9f9f,#aaa,#b4b4b4,#bdbdbd,#c5c5c5,#cdcdcd,#d4d4d4,#dadada,#dfdfdf,#e4e4e4,#e8e8e8,#ebebeb,#ececec,#ebebeb,#e8e8e8,#e0e0e0,#d5d5d5,#c5c5c5,#b2b2b2,#9d9d9d,#888,#767676,#686868,#616161,#5f5f5f,#626262,#696969,#737373,#7f7f7f,#8b8b8b,#969696,#a2a2a2)"></i><i style="background:linear-gradient(90deg,#a3a3a3,#aeaeae,#b9b9b9,#c2c2c2,#cacaca,#d2d2d2,#d9d9d9,#dfdfdf,#e4e4e4,#e8e8e8,#ececec,#eee,#eee,#ededed,#e8e8e8,#dedede,#d1d1d1,#bfbfbf,#aaa,#949494,#7f7f7f,#6d6d6d,#606060,#5a5a5a,#5a5a5a,#5f5f5f,#686868,#747474,#808080,#8d8d8d,#9a9a9a,#a6a6a6)"></i><i style="background:linear-gradient(90deg,#a6a6a6,#b1b1b1,#bcbcbc,#c5c5c5,#cecece,#d5d5d5,#dcdcdc,#e2e2e2,#e7e7e7,#ebebeb,#eee,#f0f0f0,#f0f0f0,#ededed,#e7e7e7,#ddd,#cfcfcf,#bcbcbc,#a6a6a6,#8f8f8f,#797979,#686868,#5c5c5c,#565656,#575757,#5e5e5e,#686868,#747474,#828282,#909090,#9d9d9d,#a9a9a9)"></i><i style="background:linear-gradient(90deg,#a6a6a6,#b1b1b1,#bcbcbc,#c5c5c5,#cecece,#d5d5d5,#dcdcdc,#e2e2e2,#e7e7e7,#ebebeb,#eee,#f0f0f0,#f0f0f0,#ededed,#e7e7e7,#ddd,#cfcfcf,#bcbcbc,#a6a6a6,#8f8f8f,#797979,#686868,#5c5c5c,#565656,#575757,#5d5d5d,#686868,#747474,#828282,#909090,#9d9d9d,#a9a9a9)"></i></div>
<div class="hm" style="left:373px;top:293px;width:126px;height:126px"><i style="background:linear-gradient(90deg,#818181,#878787,#8e8e8e,#949494,#9b9b9b,#a2a2a2,#a8a8a8,#aeaeae,#b4b4b4,#bababa,#bfbfbf,#c3c3c3,#c7c7c7,#cacaca,#ccc,#cecece,#cdcdcd,#cacaca,#c6c6c6,#bfbfbf,#b6b6b6,#ababab,#a0a0a0,#959595,#8a8a8a,#828282,#7c7c7c,#797979,#787878,#7a7a7a,#7d7d7d,#838383)"></i><i style="background:linear-gradient(90deg,#818181,#878787,#8e8e8e,#949494,#9b9b9b,#a2a2a2,#a8a8a8,#aeaeae,#b4b4b4,#bababa,#bfbfbf,#c3c3c3,#c7c7c7,#cacaca,#ccc,#cecece,#cdcdcd,#cacaca,#c6c6c6,#bfbfbf,#b6b6b6,#ababab,#a0a0a0,#959595,#8a8a8a,#828282,#7c7c7c,#797979,#787878,#7a7a7a,#7d7d7d,#838383)"></i><i style="background:linear-gradient(90deg,#818181,#878787,#8d8d8d,#949494,#9a9a9a,#a1a1a1,#a7a7a7,#adadad,#b3b3b3,#b8b8b8,#bdbdbd,#c2c2c2,#c6c6c6,#c9c9c9,#cbcbcb,#ccc,#ccc,#cacaca,#c6c6c6,#bfbfbf,#b7b7b7,#adadad,#a2a2a2,#979797,#8d8d8d,#848484,#7e7e7e,#7a7a7a,#797979,#7b7b7b,#7e7e7e,#828282)"></i><i style="background:linear-gradient(90deg,#818181,#868686,#8c8c8c,#929292,#999,#9f9f9f,#a5a5a5,#ababab,#b1b1b1,#b6b6b6,#bbb,#bfbfbf,#c3c3c3,#c7c7c7,#c9c9c9,#cbcbcb,#cbcbcb,#c9c9c9,#c6c6c6,#c0c0c0,#b8b8b8,#afafaf,#a5a5a5,#9a9a9a,#909090,#888,#818181,#7d7d7d,#7b7b7b,#7c7c7c,#7f7f7f,#838383)"></i><i style="background:linear-gradient(90deg,#828282,#868686,#8b8b8b,#919191,#979797,#9d9d9d,#a3a3a3,#a9a9a9,#aeaeae,#b3b3b3,#b8b8b8,#bcbcbc,#c0c0c0,#c4c4c4,#c7c7c7,#c8c8c8,#c9c9c9,#c8c8c8,#c5c5c5,#c0c0c0,#bababa,#b2b2b2,#a8a8a8,#9e9e9e,#959595,#8c8c8c,#868686,#818181,#7e7e7e,#7e7e7e,#808080,#838383)"></i><i style="background:linear-gradient(90deg,#838383,#878787,#8b8b8b,#909090,#969696,#9b9b9b,#a1a1a1,#a6a6a6,#ababab,#b0b0b0,#b5b5b5,#b9b9b9,#bdbdbd,#c1c1c1,#c3c3c3,#c6c6c6,#c6c6c6,#c6c6c6,#c4c4c4,#c0c0c0,#bbb,#b4b4b4,#ababab,#a2a2a2,#999,#919191,#8a8a8a,#858585,#828282,#818181,#828282,#848484)"></i><i style="background:linear-gradient(90deg,#858585,#888,#8b8b8b,#909090,#949494,#999,#9f9f9f,#a4a4a4,#a9a9a9,#adadad,#b2b2b2,#b6b6b6,#bababa,#bdbdbd,#c0c0c0,#c2c2c2,#c4c4c4,#c4c4c4,#c3c3c3,#c0c0c0,#bcbcbc,#b6b6b6,#aeaeae,#a6a6a6,#9e9e9e,#969696,#8f8f8f,#8a8a8a,#868686,#848484,#848484,#868686)"></i><i style="background:linear-gradient(90deg,#888,#898989,#8c8c8c,#8f8f8f,#949494,#989898,#9d9d9d,#a1a1a1,#a6a6a6,#aaa,#afafaf,#b3b3b3,#b6b6b6,#bababa,#bdbdbd,#bfbfbf,#c0c0c0,#c1c1c1,#c1c1c1,#bfbfbf,#bcbcbc,#b7b7b7,#b1b1b1,#aaa,#a3a3a3,#9b9b9b,#959595,#8f8f8f,#8b8b8b,#888,#878787,#888)"></i><i style="background:linear-gradient(90deg,#8b8b8b,#8b8b8b,#8d8d8d,#909090,#939393,#979797,#9b9b9b,#9f9f9f,#a4a4a4,#a8a8a8,#acacac,#afafaf,#b3b3b3,#b6b6b6,#b9b9b9,#bbb,#bdbdbd,#bebebe,#bebebe,#bdbdbd,#bbb,#b7b7b7,#b2b2b2,#adadad,#a6a6a6,#a0a0a0,#999,#949494,#909090,#8d8d8d,#8b8b8b,#8b8b8b)"></i><i style="background:linear-gradient(90deg,#8e8e8e,#8e8e8e,#8f8f8f,#919191,#939393,#969696,#9a9a9a,#9e9e9e,#a1a1a1,#a5a5a5,#a9a9a9,#acacac,#b0b0b0,#b3b3b3,#b6b6b6,#b8b8b8,#bababa,#bbb,#bcbcbc,#bbb,#bababa,#b7b7b7,#b3b3b3,#afafaf,#a9a9a9,#a4a4a4,#9e9e9e,#999,#949494,#919191,#8f8f8f,#8e8e8e)"></i><i style="background:linear-gradient(90deg,#919191,#909090,#919191,#929292,#949494,#969696,#999,#9c9c9c,#a0a0a0,#a3a3a3,#a7a7a7,#aaa,#adadad,#b0b0b0,#b2b2b2,#b5b5b5,#b7b7b7,#b8b8b8,#b9b9b9,#b9b9b9,#b8b8b8,#b6b6b6,#b4b4b4,#b0b0b0,#acacac,#a7a7a7,#a2a2a2,#9d9d9d,#999,#959595,#929292,#919191)"></i><i style="background:linear-gradient(90deg,#959595,#939393,#939393,#939393,#959595,#969696,#999,#9b9b9b,#9e9e9e,#a1a1a1,#a4a4a4,#a7a7a7,#aaa,#adadad,#b0b0b0,#b2b2b2,#b4b4b4,#b5b5b5,#b6b6b6,#b7b7b7,#b6b6b6,#b5b5b5,#b3b3b3,#b1b1b1,#adadad,#a9a9a9,#a5a5a5,#a1a1a1,#9c9c9c,#999,#969696,#949494)"></i><i style="background:linear-gradient(90deg,#989898,#969696,#959595,#959595,#969696,#979797,#999,#9b9b9b,#9d9d9d,#a0a0a0,#a3a3a3,#a5a5a5,#a8a8a8,#ababab,#adadad,#afafaf,#b1b1b1,#b3b3b3,#b4b4b4,#b5b5b5,#b5b5b5,#b4b4b4,#b3b3b3,#b1b1b1,#aeaeae,#ababab,#a7a7a7,#a4a4a4,#a0a0a0,#9c9c9c,#9a9a9a,#979797)"></i><i style="background:linear-gradient(90deg,#9b9b9b,#999,#989898,#979797,#979797,#989898,#999,#9b9b9b,#9d9d9d,#9f9f9f,#a1a1a1,#a4a4a4,#a6a6a6,#a8a8a8,#ababab,#adadad,#afafaf,#b0b0b0,#b2b2b2,#b2b2b2,#b3b3b3,#b3b3b3,#b2b2b2,#b1b1b1,#afafaf,#acacac,#a9a9a9,#a6a6a6,#a3a3a3,#a0a0a0,#9d9d9d,#9a9a9a)"></i><i style="background:linear-gradient(90deg,#9e9e9e,#9c9c9c,#9a9a9a,#999,#999,#999,#9a9a9a,#9b9b9b,#9c9c9c,#9e9e9e,#a0a0a0,#a2a2a2,#a4a4a4,#a7a7a7,#a9a9a9,#ababab,#acacac,#aeaeae,#afafaf,#b0b0b0,#b1b1b1,#b1b1b1,#b1b1b1,#b0b0b0,#afafaf,#adadad,#ababab,#a8a8a8,#a5a5a5,#a2a2a2,#a0a0a0,#9d9d9d)"></i><i style="background:linear-gradient(90deg,#a0a0a0,#9e9e9e,#9d9d9d,#9b9b9b,#9a9a9a,#9a9a9a,#9a9a9a,#9b9b9b,#9c9c9c,#9d9d9d,#9f9f9f,#a1a1a1,#a3a3a3,#a5a5a5,#a7a7a7,#a9a9a9,#aaa,#acacac,#aeaeae,#afafaf,#b0b0b0,#b0b0b0,#b0b0b0,#b0b0b0,#afafaf,#adadad,#acacac,#aaa,#a7a7a7,#a5a5a5,#a2a2a2,#a0a0a0)"></i><i style="background:linear-gradient(90deg,#a3a3a3,#a1a1a1,#9f9f9f,#9d9d9d,#9c9c9c,#9c9c9c,#9b9b9b,#9c9c9c,#9c9c9c,#9d9d9d,#9e9e9e,#a0a0a0,#a1a1a1,#a3a3a3,#a5a5a5,#a7a7a7,#a9a9a9,#aaa,#acacac,#adadad,#aeaeae,#afafaf,#afafaf,#afafaf,#afafaf,#aeaeae,#acacac,#ababab,#a9a9a9,#a7a7a7,#a4a4a4,#a2a2a2)"></i><i style="background:linear-gradient(90deg,#a5a5a5,#a3a3a3,#a1a1a1,#9f9f9f,#9e9e9e,#9d9d9d,#9c9c9c,#9c9c9c,#9c9c9c,#9d9d9d,#9e9e9e,#9f9f9f,#a0a0a0,#a2a2a2,#a3a3a3,#a5a5a5,#a7a7a7,#a8a8a8,#aaa,#ababab,#acacac,#adadad,#aeaeae,#aeaeae,#aeaeae,#aeaeae,#adadad,#acacac,#aaa,#a8a8a8,#a6a6a6,#a4a4a4)"></i><i style="background:linear-gradient(90deg,#a7a7a7,#a5a5a5,#a3a3a3,#a2a2a2,#a0a0a0,#9f9f9f,#9e9e9e,#9d9d9d,#9d9d9d,#9d9d9d,#9d9d9d,#9e9e9e,#9f9f9f,#a0a0a0,#a2a2a2,#a3a3a3,#a5a5a5,#a6a6a6,#a8a8a8,#a9a9a9,#ababab,#acacac,#adadad,#adadad,#aeaeae,#aeaeae,#adadad,#acacac,#ababab,#aaa,#a8a8a8,#a6a6a6)"></i><i style="background:linear-gradient(90deg,#a9a9a9,#a7a7a7,#a5a5a5,#a4a4a4,#a2a2a2,#a1a1a1,#9f9f9f,#9e9e9e,#9e9e9e,#9d9d9d,#9d9d9d,#9e9e9e,#9e9e9e,#9f9f9f,#a0a0a0,#a2a2a2,#a3a3a3,#a5a5a5,#a6a6a6,#a8a8a8,#a9a9a9,#aaa,#ababab,#acacac,#adadad,#adadad,#adadad,#adadad,#acacac,#ababab,#aaa,#a8a8a8)"></i><i style="background:linear-gradient(90deg,#aaa,#a9a9a9,#a8a8a8,#a6a6a6,#a4a4a4,#a3a3a3,#a1a1a1,#a0a0a0,#9f9f9f,#9e9e9e,#9e9e9e,#9e9e9e,#9e9e9e,#9e9e9e,#9f9f9f,#a0a0a0,#a1a1a1,#a3a3a3,#a4a4a4,#a5a5a5,#a7a7a7,#a8a8a8,#aaa,#ababab,#acacac,#adadad,#adadad,#adadad,#adadad,#acacac,#ababab,#aaa)"></i><i style="background:linear-gradient(90deg,#acacac,#ababab,#aaa,#a8a8a8,#a7a7a7,#a5a5a5,#a3a3a3,#a2a2a2,#a1a1a1,#9f9f9f,#9f9f9f,#9e9e9e,#9e9e9e,#9e9e9e,#9e9e9e,#9f9f9f,#a0a0a0,#a1a1a1,#a2a2a2,#a3a3a3,#a5a5a5,#a6a6a6,#a8a8a8,#a9a9a9,#aaa,#ababab,#acacac,#adadad,#adadad,#adadad,#acacac,#acacac)"></i><i style="background:linear-gradient(90deg,#adadad,#acacac,#acacac,#aaa,#a9a9a9,#a8a8a8,#a6a6a6,#a4a4a4,#a3a3a3,#a1a1a1,#a0a0a0,#9f9f9f,#9e9e9e,#9e9e9e,#9e9e9e,#9e9e9e,#9e9e9e,#9f9f9f,#a0a0a0,#a1a1a1,#a2a2a2,#a4a4a4,#a6a6a6,#a7a7a7,#a9a9a9,#aaa,#ababab,#acacac,#adadad,#adadad,#adadad,#adadad)"></i><i style="background:linear-gradient(90deg,#aeaeae,#aeaeae,#adadad,#acacac,#ababab,#aaa,#a9a9a9,#a7a7a7,#a5a5a5,#a3a3a3,#a2a2a2,#a0a0a0,#9f9f9f,#9e9e9e,#9d9d9d,#9d9d9d,#9d9d9d,#9d9d9d,#9e9e9e,#9f9f9f,#a0a0a0,#a2a2a2,#a3a3a3,#a5a5a5,#a6a6a6,#a8a8a8,#a9a9a9,#ababab,#acacac,#adadad,#adadad,#aeaeae)"></i><i style="background:linear-gradient(90deg,#aeaeae,#aeaeae,#aeaeae,#aeaeae,#adadad,#acacac,#ababab,#aaa,#a8a8a8,#a6a6a6,#a4a4a4,#a2a2a2,#a1a1a1,#9f9f9f,#9e9e9e,#9d9d9d,#9d9d9d,#9c9c9c,#9d9d9d,#9d9d9d,#9e9e9e,#9f9f9f,#a0a0a0,#a2a2a2,#a4a4a4,#a5a5a5,#a7a7a7,#a9a9a9,#aaa,#acacac,#adadad,#aeaeae)"></i><i style="background:linear-gradient(90deg,#adadad,#aeaeae,#afafaf,#afafaf,#afafaf,#afafaf,#aeaeae,#adadad,#ababab,#a9a9a9,#a7a7a7,#a5a5a5,#a3a3a3,#a1a1a1,#9f9f9f,#9e9e9e,#9d9d9d,#9c9c9c,#9c9c9c,#9c9c9c,#9c9c9c,#9d9d9d,#9e9e9e,#9f9f9f,#a1a1a1,#a3a3a3,#a4a4a4,#a6a6a6,#a8a8a8,#aaa,#acacac,#adadad)"></i><i style="background:linear-gradient(90deg,#ababab,#adadad,#afafaf,#b0b0b0,#b0b0b0,#b0b0b0,#b0b0b0,#afafaf,#aeaeae,#acacac,#aaa,#a8a8a8,#a6a6a6,#a4a4a4,#a2a2a2,#a0a0a0,#9e9e9e,#9d9d9d,#9b9b9b,#9b9b9b,#9b9b9b,#9b9b9b,#9b9b9b,#9c9c9c,#9e9e9e,#9f9f9f,#a1a1a1,#a3a3a3,#a6a6a6,#a8a8a8,#aaa,#acacac)"></i><i style="background:linear-gradient(90deg,#a9a9a9,#ababab,#adadad,#afafaf,#b0b0b0,#b1b1b1,#b2b2b2,#b2b2b2,#b1b1b1,#b0b0b0,#aeaeae,#acacac,#aaa,#a7a7a7,#a5a5a5,#a2a2a2,#a0a0a0,#9e9e9e,#9c9c9c,#9b9b9b,#9a9a9a,#999,#999,#9a9a9a,#9b9b9b,#9c9c9c,#9e9e9e,#a0a0a0,#a2a2a2,#a5a5a5,#a7a7a7,#a9a9a9)"></i><i style="background:linear-gradient(90deg,#a6a6a6,#a8a8a8,#ababab,#aeaeae,#b0b0b0,#b1b1b1,#b3b3b3,#b3b3b3,#b3b3b3,#b3b3b3,#b1b1b1,#b0b0b0,#adadad,#ababab,#a8a8a8,#a5a5a5,#a3a3a3,#a0a0a0,#9e9e9e,#9c9c9c,#9a9a9a,#999,#989898,#989898,#989898,#999,#9a9a9a,#9c9c9c,#9e9e9e,#a1a1a1,#a3a3a3,#a6a6a6)"></i><i style="background:linear-gradient(90deg,#a2a2a2,#a5a5a5,#a8a8a8,#ababab,#aeaeae,#b1b1b1,#b3b3b3,#b4b4b4,#b5b5b5,#b5b5b5,#b5b5b5,#b3b3b3,#b1b1b1,#afafaf,#acacac,#a9a9a9,#a6a6a6,#a3a3a3,#a0a0a0,#9d9d9d,#9b9b9b,#999,#989898,#979797,#969696,#969696,#979797,#999,#9a9a9a,#9d9d9d,#9f9f9f,#a2a2a2)"></i><i style="background:linear-gradient(90deg,#9d9d9d,#a0a0a0,#a4a4a4,#a7a7a7,#ababab,#aeaeae,#b1b1b1,#b4b4b4,#b6b6b6,#b7b7b7,#b7b7b7,#b7b7b7,#b5b5b5,#b3b3b3,#b1b1b1,#aeaeae,#aaa,#a7a7a7,#a4a4a4,#a0a0a0,#9d9d9d,#9a9a9a,#989898,#969696,#959595,#959595,#959595,#959595,#969696,#989898,#9b9b9b,#9e9e9e)"></i><i style="background:linear-gradient(90deg,#989898,#9b9b9b,#9f9f9f,#a3a3a3,#a7a7a7,#ababab,#afafaf,#b3b3b3,#b5b5b5,#b8b8b8,#b9b9b9,#b9b9b9,#b9b9b9,#b8b8b8,#b5b5b5,#b3b3b3,#afafaf,#acacac,#a8a8a8,#a4a4a4,#a0a0a0,#9d9d9d,#9a9a9a,#979797,#959595,#939393,#939393,#929292,#939393,#949494,#969696,#999)"></i><i style="background:linear-gradient(90deg,#939393,#969696,#999,#9d9d9d,#a2a2a2,#a7a7a7,#ababab,#b0b0b0,#b4b4b4,#b7b7b7,#bababa,#bbb,#bcbcbc,#bbb,#bababa,#b7b7b7,#b4b4b4,#b1b1b1,#adadad,#a9a9a9,#a4a4a4,#a0a0a0,#9d9d9d,#999,#969696,#939393,#929292,#919191,#909090,#919191,#929292,#949494)"></i><i style="background:linear-gradient(90deg,#8f8f8f,#919191,#949494,#979797,#9c9c9c,#a1a1a1,#a6a6a6,#acacac,#b1b1b1,#b5b5b5,#b9b9b9,#bcbcbc,#bebebe,#bebebe,#bebebe,#bcbcbc,#bababa,#b6b6b6,#b2b2b2,#aeaeae,#a9a9a9,#a5a5a5,#a0a0a0,#9c9c9c,#989898,#959595,#929292,#909090,#8e8e8e,#8e8e8e,#8e8e8e,#8f8f8f)"></i><i style="background:linear-gradient(90deg,#8b8b8b,#8c8c8c,#8e8e8e,#919191,#959595,#9a9a9a,#a0a0a0,#a6a6a6,#acacac,#b2b2b2,#b7b7b7,#bcbcbc,#bfbfbf,#c1c1c1,#c1c1c1,#c0c0c0,#bfbfbf,#bcbcbc,#b8b8b8,#b4b4b4,#afafaf,#aaa,#a5a5a5,#a0a0a0,#9b9b9b,#979797,#939393,#909090,#8d8d8d,#8c8c8c,#8b8b8b,#8b8b8b)"></i><i style="background:linear-gradient(90deg,#888,#888,#898989,#8b8b8b,#8f8f8f,#939393,#999,#a0a0a0,#a6a6a6,#adadad,#b4b4b4,#bababa,#bebebe,#c2c2c2,#c4c4c4,#c4c4c4,#c3c3c3,#c1c1c1,#bebebe,#bababa,#b5b5b5,#b0b0b0,#ababab,#a5a5a5,#a0a0a0,#9b9b9b,#969696,#929292,#8e8e8e,#8b8b8b,#898989,#888)"></i><i style="background:linear-gradient(90deg,#868686,#858585,#858585,#868686,#888,#8c8c8c,#929292,#989898,#9f9f9f,#a7a7a7,#afafaf,#b6b6b6,#bcbcbc,#c1c1c1,#c5c5c5,#c7c7c7,#c7c7c7,#c6c6c6,#c3c3c3,#c0c0c0,#bbb,#b6b6b6,#b1b1b1,#ababab,#a5a5a5,#a0a0a0,#9a9a9a,#959595,#909090,#8c8c8c,#888,#868686)"></i><i style="background:linear-gradient(90deg,#868686,#838383,#818181,#818181,#828282,#858585,#8a8a8a,#909090,#979797,#9f9f9f,#a8a8a8,#b1b1b1,#b9b9b9,#bfbfbf,#c5c5c5,#c8c8c8,#cacaca,#cacaca,#c8c8c8,#c6c6c6,#c2c2c2,#bdbdbd,#b8b8b8,#b2b2b2,#acacac,#a5a5a5,#9f9f9f,#999,#939393,#8e8e8e,#898989,#858585)"></i><i style="background:linear-gradient(90deg,#878787,#838383,#7f7f7f,#7d7d7d,#7d7d7d,#7e7e7e,#828282,#878787,#8e8e8e,#979797,#a0a0a0,#aaa,#b4b4b4,#bcbcbc,#c3c3c3,#c8c8c8,#ccc,#cdcdcd,#cdcdcd,#cbcbcb,#c8c8c8,#c3c3c3,#bebebe,#b9b9b9,#b2b2b2,#acacac,#a5a5a5,#9e9e9e,#979797,#919191,#8b8b8b,#868686)"></i><i style="background:linear-gradient(90deg,#8a8a8a,#848484,#7f7f7f,#7b7b7b,#797979,#797979,#7b7b7b,#7f7f7f,#858585,#8d8d8d,#979797,#a2a2a2,#adadad,#b7b7b7,#c0c0c0,#c7c7c7,#ccc,#cfcfcf,#d0d0d0,#d0d0d0,#cdcdcd,#cacaca,#c5c5c5,#c0c0c0,#b9b9b9,#b3b3b3,#acacac,#a4a4a4,#9d9d9d,#969696,#8f8f8f,#888)"></i><i style="background:linear-gradient(90deg,#8e8e8e,#878787,#808080,#7a7a7a,#767676,#747474,#747474,#777,#7c7c7c,#848484,#8d8d8d,#999,#a5a5a5,#b0b0b0,#bbb,#c4c4c4,#cbcbcb,#d0d0d0,#d3d3d3,#d3d3d3,#d2d2d2,#cfcfcf,#cbcbcb,#c6c6c6,#c1c1c1,#bababa,#b3b3b3,#ababab,#a3a3a3,#9c9c9c,#949494,#8c8c8c)"></i><i style="background:linear-gradient(90deg,#939393,#8b8b8b,#838383,#7b7b7b,#757575,#717171,#6f6f6f,#6f6f6f,#737373,#797979,#838383,#8e8e8e,#9b9b9b,#a8a8a8,#b5b5b5,#c0c0c0,#c9c9c9,#d0d0d0,#d4d4d4,#d6d6d6,#d6d6d6,#d5d5d5,#d1d1d1,#cdcdcd,#c8c8c8,#c1c1c1,#bababa,#b3b3b3,#ababab,#a2a2a2,#9a9a9a,#919191)"></i><i style="background:linear-gradient(90deg,#9a9a9a,#909090,#878787,#7e7e7e,#767676,#6f6f6f,#6b6b6b,#696969,#6b6b6b,#707070,#787878,#838383,#919191,#9f9f9f,#adadad,#bababa,#c6c6c6,#cecece,#d5d5d5,#d8d8d8,#dadada,#d9d9d9,#d7d7d7,#d3d3d3,#cecece,#c8c8c8,#c2c2c2,#bababa,#b2b2b2,#aaa,#a1a1a1,#979797)"></i><i style="background:linear-gradient(90deg,#a1a1a1,#979797,#8c8c8c,#828282,#787878,#707070,#696969,#646464,#636363,#666,#6d6d6d,#787878,#858585,#959595,#a4a4a4,#b3b3b3,#c1c1c1,#cbcbcb,#d4d4d4,#d9d9d9,#dcdcdc,#ddd,#dcdcdc,#d9d9d9,#d5d5d5,#cfcfcf,#c9c9c9,#c2c2c2,#bababa,#b1b1b1,#a8a8a8,#9e9e9e)"></i><i style="background:linear-gradient(90deg,#a9a9a9,#9e9e9e,#939393,#888,#7c7c7c,#717171,#686868,#616161,#5d5d5d,#5e5e5e,#636363,#6c6c6c,#7a7a7a,#898989,#9a9a9a,#ababab,#bababa,#c7c7c7,#d1d1d1,#d9d9d9,#ddd,#dfdfdf,#dfdfdf,#dedede,#dadada,#d6d6d6,#d0d0d0,#c9c9c9,#c2c2c2,#b9b9b9,#b0b0b0,#a6a6a6)"></i><i style="background:linear-gradient(90deg,#b1b1b1,#a6a6a6,#9b9b9b,#8e8e8e,#818181,#757575,#696969,#606060,#595959,#575757,#595959,#616161,#6e6e6e,#7d7d7d,#8f8f8f,#a1a1a1,#b3b3b3,#c2c2c2,#cecece,#d8d8d8,#dedede,#e1e1e1,#e3e3e3,#e2e2e2,#dfdfdf,#dcdcdc,#d7d7d7,#d0d0d0,#c9c9c9,#c1c1c1,#b8b8b8,#aeaeae)"></i><i style="background:linear-gradient(90deg,#b9b9b9,#aeaeae,#a3a3a3,#969696,#888,#7a7a7a,#6c6c6c,#606060,#565656,#515151,#515151,#565656,#626262,#717171,#848484,#979797,#aaa,#bbb,#cacaca,#d5d5d5,#ddd,#e2e2e2,#e5e5e5,#e5e5e5,#e4e4e4,#e1e1e1,#dcdcdc,#d7d7d7,#d1d1d1,#c9c9c9,#c0c0c0,#b7b7b7)"></i><i style="background:linear-gradient(90deg,#c1c1c1,#b7b7b7,#ababab,#9e9e9e,#909090,#808080,#707070,#616161,#555,#4c4c4c,#494949,#4d4d4d,#565656,#656565,#777,#8c8c8c,#a1a1a1,#b4b4b4,#c5c5c5,#d2d2d2,#dcdcdc,#e3e3e3,#e6e6e6,#e8e8e8,#e7e7e7,#e5e5e5,#e2e2e2,#ddd,#d7d7d7,#d0d0d0,#c8c8c8,#bfbfbf)"></i><i style="background:linear-gradient(90deg,#c9c9c9,#bfbfbf,#b4b4b4,#a7a7a7,#989898,#878787,#767676,#656565,#555,#494949,#434343,#444,#4b4b4b,#595959,#6b6b6b,#818181,#979797,#acacac,#bfbfbf,#cecece,#dadada,#e2e2e2,#e7e7e7,#eaeaea,#eaeaea,#e9e9e9,#e6e6e6,#e2e2e2,#ddd,#d7d7d7,#d0d0d0,#c7c7c7)"></i><i style="background:linear-gradient(90deg,#d0d0d0,#c7c7c7,#bcbcbc,#b0b0b0,#a1a1a1,#8f8f8f,#7d7d7d,#696969,#575757,#484848,#3e3e3e,#3c3c3c,#414141,#4d4d4d,#5f5f5f,#757575,#8c8c8c,#a3a3a3,#b8b8b8,#c9c9c9,#d7d7d7,#e1e1e1,#e7e7e7,#ebebeb,#ededed,#ececec,#eaeaea,#e7e7e7,#e3e3e3,#ddd,#d6d6d6,#cecece)"></i><i style="background:linear-gradient(90deg,#d7d7d7,#cfcfcf,#c5c5c5,#b8b8b8,#a9a9a9,#989898,#848484,#6f6f6f,#5a5a5a,#484848,#3b3b3b,#353535,#373737,#424242,#535353,#696969,#828282,#9a9a9a,#b1b1b1,#c4c4c4,#d3d3d3,#dfdfdf,#e7e7e7,#ececec,#eee,#efefef,#ededed,#ebebeb,#e7e7e7,#e3e3e3,#ddd,#d5d5d5)"></i><i style="background:linear-gradient(90deg,#ddd,#d6d6d6,#ccc,#c1c1c1,#b2b2b2,#a1a1a1,#8c8c8c,#767676,#5f5f5f,#494949,#393939,#303030,#2f2f2f,#373737,#484848,#5e5e5e,#777,#919191,#a9a9a9,#bebebe,#cfcfcf,#ddd,#e6e6e6,#ececec,#efefef,#f1f1f1,#f0f0f0,#eee,#ebebeb,#e7e7e7,#e2e2e2,#dcdcdc)"></i><i style="background:linear-gradient(90deg,#e3e3e3,#dcdcdc,#d4d4d4,#c9c9c9,#bbb,#a9a9a9,#959595,#7d7d7d,#646464,#4c4c4c,#383838,#2c2c2c,#282828,#2e2e2e,#3d3d3d,#525252,#6c6c6c,#878787,#a1a1a1,#b8b8b8,#cbcbcb,#dadada,#e5e5e5,#ececec,#f0f0f0,#f2f2f2,#f2f2f2,#f1f1f1,#efefef,#ececec,#e7e7e7,#e1e1e1)"></i><i style="background:linear-gradient(90deg,#e8e8e8,#e2e2e2,#dadada,#d0d0d0,#c3c3c3,#b2b2b2,#9d9d9d,#848484,#696969,#4f4f4f,#383838,#292929,#222,#252525,#333,#484848,#626262,#7e7e7e,#9a9a9a,#b2b2b2,#c7c7c7,#d7d7d7,#e3e3e3,#ebebeb,#f0f0f0,#f3f3f3,#f4f4f4,#f4f4f4,#f2f2f2,#efefef,#ebebeb,#e6e6e6)"></i><i style="background:linear-gradient(90deg,#ececec,#e7e7e7,#e0e0e0,#d7d7d7,#cacaca,#bababa,#a5a5a5,#8c8c8c,#707070,#535353,#393939,#262626,#1d1d1d,#1e1e1e,#2a2a2a,#3e3e3e,#585858,#757575,#929292,#acacac,#c2c2c2,#d4d4d4,#e1e1e1,#eaeaea,#f0f0f0,#f4f4f4,#f5f5f5,#f5f5f5,#f4f4f4,#f2f2f2,#efefef,#ebebeb)"></i><i style="background:linear-gradient(90deg,#efefef,#ebebeb,#e5e5e5,#ddd,#d1d1d1,#c1c1c1,#adadad,#939393,#767676,#575757,#3b3b3b,#252525,#191919,#181818,#222,#353535,#4f4f4f,#6d6d6d,#8b8b8b,#a7a7a7,#bebebe,#d1d1d1,#dfdfdf,#e9e9e9,#f0f0f0,#f4f4f4,#f6f6f6,#f7f7f7,#f6f6f6,#f4f4f4,#f2f2f2,#eee)"></i><i style="background:linear-gradient(90deg,#f2f2f2,#eee,#e9e9e9,#e2e2e2,#d7d7d7,#c8c8c8,#b4b4b4,#9a9a9a,#7c7c7c,#5c5c5c,#3d3d3d,#252525,#161616,#121212,#1a1a1a,#2d2d2d,#474747,#666,#848484,#a1a1a1,#bababa,#cecece,#ddd,#e8e8e8,#f0f0f0,#f4f4f4,#f7f7f7,#f8f8f8,#f8f8f8,#f6f6f6,#f4f4f4,#f1f1f1)"></i><i style="background:linear-gradient(90deg,#f5f5f5,#f1f1f1,#ededed,#e6e6e6,#dcdcdc,#cecece,#bababa,#a0a0a0,#818181,#606060,#404040,#252525,#131313,#0e0e0e,#141414,#262626,#404040,#5f5f5f,#7e7e7e,#9c9c9c,#b6b6b6,#cbcbcb,#dcdcdc,#e7e7e7,#efefef,#f4f4f4,#f7f7f7,#f9f9f9,#f9f9f9,#f8f8f8,#f6f6f6,#f4f4f4)"></i><i style="background:linear-gradient(90deg,#f6f6f6,#f4f4f4,#f0f0f0,#eaeaea,#e1e1e1,#d3d3d3,#bfbfbf,#a6a6a6,#868686,#646464,#424242,#252525,#121212,#0a0a0a,#0f0f0f,#202020,#3a3a3a,#595959,#797979,#989898,#b3b3b3,#c9c9c9,#dadada,#e6e6e6,#efefef,#f4f4f4,#f8f8f8,#f9f9f9,#fafafa,#f9f9f9,#f8f8f8,#f6f6f6)"></i><i style="background:linear-gradient(90deg,#f8f8f8,#f5f5f5,#f2f2f2,#ececec,#e4e4e4,#d7d7d7,#c4c4c4,#aaa,#8b8b8b,#676767,#444,#262626,#101010,#070707,#0b0b0b,#1c1c1c,#353535,#545454,#757575,#949494,#b0b0b0,#c7c7c7,#d9d9d9,#e5e5e5,#eee,#f4f4f4,#f8f8f8,#fafafa,#fafafa,#fafafa,#f9f9f9,#f7f7f7)"></i><i style="background:linear-gradient(90deg,#f9f9f9,#f7f7f7,#f4f4f4,#efefef,#e7e7e7,#dadada,#c7c7c7,#aeaeae,#8e8e8e,#6a6a6a,#464646,#262626,#101010,#050505,#080808,#181818,#313131,#505050,#727272,#929292,#aeaeae,#c5c5c5,#d7d7d7,#e5e5e5,#eee,#f4f4f4,#f8f8f8,#fafafa,#fbfbfb,#fbfbfb,#fafafa,#f8f8f8)"></i><i style="background:linear-gradient(90deg,#fafafa,#f8f8f8,#f5f5f5,#f0f0f0,#e8e8e8,#dcdcdc,#c9c9c9,#b0b0b0,#909090,#6c6c6c,#474747,#272727,#0f0f0f,#040404,#060606,#161616,#2f2f2f,#4e4e4e,#6f6f6f,#909090,#acacac,#c4c4c4,#d7d7d7,#e4e4e4,#eee,#f4f4f4,#f8f8f8,#fafafa,#fbfbfb,#fbfbfb,#fafafa,#f9f9f9)"></i><i style="background:linear-gradient(90deg,#fafafa,#f8f8f8,#f5f5f5,#f1f1f1,#e9e9e9,#ddd,#cbcbcb,#b1b1b1,#919191,#6d6d6d,#484848,#272727,#0f0f0f,#030303,#060606,#141414,#2d2d2d,#4d4d4d,#6e6e6e,#8f8f8f,#acacac,#c4c4c4,#d6d6d6,#e4e4e4,#eee,#f4f4f4,#f8f8f8,#fafafa,#fbfbfb,#fbfbfb,#fbfbfb,#fafafa)"></i><i style="background:linear-gradient(90deg,#fafafa,#f8f8f8,#f5f5f5,#f1f1f1,#e9e9e9,#ddd,#cbcbcb,#b1b1b1,#919191,#6d6d6d,#484848,#272727,#0f0f0f,#030303,#060606,#141414,#2d2d2d,#4d4d4d,#6e6e6e,#8f8f8f,#acacac,#c4c4c4,#d6d6d6,#e4e4e4,#eee,#f4f4f4,#f8f8f8,#fafafa,#fbfbfb,#fbfbfb,#fbfbfb,#fafafa)"></i><i style="background:linear-gradient(90deg,#fafafa,#f8f8f8,#f5f5f5,#f0f0f0,#e8e8e8,#dcdcdc,#c9c9c9,#b0b0b0,#909090,#6c6c6c,#474747,#272727,#0f0f0f,#040404,#060606,#161616,#2f2f2f,#4e4e4e,#6f6f6f,#909090,#acacac,#c4c4c4,#d7d7d7,#e4e4e4,#eee,#f4f4f4,#f8f8f8,#fafafa,#fbfbfb,#fbfbfb,#fafafa,#f9f9f9)"></i><i style="background:linear-gradient(90deg,#f9f9f9,#f7f7f7,#f4f4f4,#efefef,#e7e7e7,#dadada,#c7c7c7,#aeaeae,#8e8e8e,#6a6a6a,#464646,#262626,#101010,#050505,#080808,#181818,#313131,#505050,#727272,#929292,#aeaeae,#c5c5c5,#d7d7d7,#e5e5e5,#eee,#f4f4f4,#f8f8f8,#fafafa,#fbfbfb,#fbfbfb,#fafafa,#f8f8f8)"></i><i style="background:linear-gradient(90deg,#f8f8f8,#f5f5f5,#f2f2f2,#ececec,#e4e4e4,#d7d7d7,#c4c4c4,#aaa,#8b8b8b,#676767,#444,#262626,#101010,#070707,#0b0b0b,#1c1c1c,#353535,#545454,#757575,#949494,#b0b0b0,#c7c7c7,#d9d9d9,#e5e5e5,#eee,#f4f4f4,#f8f8f8,#fafafa,#fafafa,#fafafa,#f9f9f9,#f7f7f7)"></i><i style="background:linear-gradient(90deg,#f6f6f6,#f4f4f4,#f0f0f0,#eaeaea,#e1e1e1,#d3d3d3,#bfbfbf,#a6a6a6,#868686,#646464,#424242,#252525,#121212,#0a0a0a,#0f0f0f,#202020,#3a3a3a,#595959,#797979,#989898,#b3b3b3,#c9c9c9,#dadada,#e6e6e6,#efefef,#f4f4f4,#f8f8f8,#f9f9f9,#fafafa,#f9f9f9,#f8f8f8,#f6f6f6)"></i><i style="background:linear-gradient(90deg,#f5f5f5,#f1f1f1,#ededed,#e6e6e6,#dcdcdc,#cecece,#bababa,#a0a0a0,#818181,#606060,#404040,#252525,#131313,#0e0e0e,#141414,#262626,#404040,#5f5f5f,#7e7e7e,#9c9c9c,#b6b6b6,#cbcbcb,#dcdcdc,#e7e7e7,#efefef,#f4f4f4,#f7f7f7,#f9f9f9,#f9f9f9,#f8f8f8,#f6f6f6,#f4f4f4)"></i><i style="background:linear-gradient(90deg,#f2f2f2,#eee,#e9e9e9,#e2e2e2,#d7d7d7,#c8c8c8,#b4b4b4,#9a9a9a,#7c7c7c,#5c5c5c,#3d3d3d,#252525,#161616,#121212,#1a1a1a,#2d2d2d,#474747,#666,#848484,#a1a1a1,#bababa,#cecece,#ddd,#e8e8e8,#f0f0f0,#f4f4f4,#f7f7f7,#f8f8f8,#f8f8f8,#f6f6f6,#f4f4f4,#f1f1f1)"></i><i style="background:linear-gradient(90deg,#efefef,#ebebeb,#e5e5e5,#ddd,#d1d1d1,#c1c1c1,#adadad,#939393,#767676,#575757,#3b3b3b,#252525,#191919,#181818,#222,#353535,#4f4f4f,#6d6d6d,#8b8b8b,#a7a7a7,#bebebe,#d1d1d1,#dfdfdf,#e9e9e9,#f0f0f0,#f4f4f4,#f6f6f6,#f7f7f7,#f6f6f6,#f4f4f4,#f2f2f2,#eee)"></i><i style="background:linear-gradient(90deg,#ececec,#e7e7e7,#e0e0e0,#d7d7d7,#cacaca,#bababa,#a5a5a5,#8c8c8c,#707070,#535353,#393939,#262626,#1d1d1d,#1e1e1e,#2a2a2a,#3e3e3e,#585858,#757575,#929292,#acacac,#c2c2c2,#d4d4d4,#e1e1e1,#eaeaea,#f0f0f0,#f4f4f4,#f5f5f5,#f5f5f5,#f4f4f4,#f2f2f2,#efefef,#ebebeb)"></i><i style="background:linear-gradient(90deg,#e8e8e8,#e2e2e2,#dadada,#d0d0d0,#c3c3c3,#b2b2b2,#9d9d9d,#848484,#696969,#4f4f4f,#383838,#292929,#222,#252525,#333,#484848,#626262,#7e7e7e,#9a9a9a,#b2b2b2,#c7c7c7,#d7d7d7,#e3e3e3,#ebebeb,#f0f0f0,#f3f3f3,#f4f4f4,#f4f4f4,#f2f2f2,#efefef,#ebebeb,#e6e6e6)"></i><i style="background:linear-gradient(90deg,#e3e3e3,#dcdcdc,#d4d4d4,#c9c9c9,#bbb,#a9a9a9,#959595,#7d7d7d,#646464,#4c4c4c,#383838,#2c2c2c,#282828,#2e2e2e,#3d3d3d,#525252,#6c6c6c,#878787,#a1a1a1,#b8b8b8,#cbcbcb,#dadada,#e5e5e5,#ececec,#f0f0f0,#f2f2f2,#f2f2f2,#f1f1f1,#efefef,#ececec,#e7e7e7,#e1e1e1)"></i><i style="background:linear-gradient(90deg,#ddd,#d6d6d6,#ccc,#c1c1c1,#b2b2b2,#a1a1a1,#8c8c8c,#767676,#5f5f5f,#494949,#393939,#303030,#2f2f2f,#373737,#484848,#5e5e5e,#777,#919191,#a9a9a9,#bebebe,#cfcfcf,#ddd,#e6e6e6,#ececec,#efefef,#f1f1f1,#f0f0f0,#eee,#ebebeb,#e7e7e7,#e2e2e2,#dcdcdc)"></i><i style="background:linear-gradient(90deg,#d7d7d7,#cfcfcf,#c5c5c5,#b8b8b8,#a9a9a9,#989898,#848484,#6f6f6f,#5a5a5a,#484848,#3b3b3b,#353535,#373737,#424242,#535353,#696969,#828282,#9a9a9a,#b1b1b1,#c4c4c4,#d3d3d3,#dfdfdf,#e7e7e7,#ececec,#eee,#efefef,#ededed,#ebebeb,#e7e7e7,#e3e3e3,#ddd,#d5d5d5)"></i><i style="background:linear-gradient(90deg,#d0d0d0,#c7c7c7,#bcbcbc,#b0b0b0,#a1a1a1,#8f8f8f,#7d7d7d,#696969,#575757,#484848,#3e3e3e,#3c3c3c,#414141,#4d4d4d,#5f5f5f,#757575,#8c8c8c,#a3a3a3,#b8b8b8,#c9c9c9,#d7d7d7,#e1e1e1,#e7e7e7,#ebebeb,#ededed,#ececec,#eaeaea,#e7e7e7,#e3e3e3,#ddd,#d6d6d6,#cecece)"></i><i style="background:linear-gradient(90deg,#c9c9c9,#bfbfbf,#b4b4b4,#a7a7a7,#989898,#878787,#767676,#656565,#555,#494949,#434343,#444,#4b4b4b,#595959,#6b6b6b,#818181,#979797,#acacac,#bfbfbf,#cecece,#dadada,#e2e2e2,#e7e7e7,#eaeaea,#eaeaea,#e9e9e9,#e6e6e6,#e2e2e2,#ddd,#d7d7d7,#d0d0d0,#c7c7c7)"></i><i style="background:linear-gradient(90deg,#c1c1c1,#b7b7b7,#ababab,#9e9e9e,#909090,#808080,#707070,#616161,#555,#4c4c4c,#494949,#4d4d4d,#565656,#656565,#777,#8c8c8c,#a1a1a1,#b4b4b4,#c5c5c5,#d2d2d2,#dcdcdc,#e3e3e3,#e6e6e6,#e8e8e8,#e7e7e7,#e5e5e5,#e2e2e2,#ddd,#d7d7d7,#d0d0d0,#c8c8c8,#bfbfbf)"></i><i style="background:linear-gradient(90deg,#b9b9b9,#aeaeae,#a3a3a3,#969696,#888,#7a7a7a,#6c6c6c,#606060,#565656,#515151,#515151,#565656,#626262,#717171,#848484,#979797,#aaa,#bbb,#cacaca,#d5d5d5,#ddd,#e2e2e2,#e5e5e5,#e5e5e5,#e4e4e4,#e1e1e1,#dcdcdc,#d7d7d7,#d1d1d1,#c9c9c9,#c0c0c0,#b7b7b7)"></i><i style="background:linear-gradient(90deg,#b1b1b1,#a6a6a6,#9b9b9b,#8e8e8e,#818181,#757575,#696969,#606060,#595959,#575757,#595959,#616161,#6e6e6e,#7d7d7d,#8f8f8f,#a1a1a1,#b3b3b3,#c2c2c2,#cecece,#d8d8d8,#dedede,#e1e1e1,#e3e3e3,#e2e2e2,#dfdfdf,#dcdcdc,#d7d7d7,#d0d0d0,#c9c9c9,#c1c1c1,#b8b8b8,#aeaeae)"></i><i style="background:linear-gradient(90deg,#a9a9a9,#9e9e9e,#939393,#888,#7c7c7c,#717171,#686868,#616161,#5d5d5d,#5e5e5e,#636363,#6c6c6c,#7a7a7a,#898989,#9a9a9a,#ababab,#bababa,#c7c7c7,#d1d1d1,#d9d9d9,#ddd,#dfdfdf,#dfdfdf,#dedede,#dadada,#d6d6d6,#d0d0d0,#c9c9c9,#c2c2c2,#b9b9b9,#b0b0b0,#a6a6a6)"></i><i style="background:linear-gradient(90deg,#a1a1a1,#979797,#8c8c8c,#828282,#787878,#707070,#696969,#646464,#636363,#666,#6d6d6d,#787878,#858585,#959595,#a4a4a4,#b3b3b3,#c1c1c1,#cbcbcb,#d4d4d4,#d9d9d9,#dcdcdc,#ddd,#dcdcdc,#d9d9d9,#d5d5d5,#cfcfcf,#c9c9c9,#c2c2c2,#bababa,#b1b1b1,#a8a8a8,#9e9e9e)"></i><i style="background:linear-gradient(90deg,#9a9a9a,#909090,#878787,#7e7e7e,#767676,#6f6f6f,#6b6b6b,#696969,#6b6b6b,#707070,#787878,#838383,#919191,#9f9f9f,#adadad,#bababa,#c6c6c6,#cecece,#d5d5d5,#d8d8d8,#dadada,#d9d9d9,#d7d7d7,#d3d3d3,#cecece,#c8c8c8,#c2c2c2,#bababa,#b2b2b2,#aaa,#a1a1a1,#979797)"></i><i style="background:linear-gradient(90deg,#939393,#8b8b8b,#838383,#7b7b7b,#757575,#717171,#6f6f6f,#6f6f6f,#737373,#797979,#838383,#8e8e8e,#9b9b9b,#a8a8a8,#b5b5b5,#c0c0c0,#c9c9c9,#d0d0d0,#d4d4d4,#d6d6d6,#d6d6d6,#d5d5d5,#d1d1d1,#cdcdcd,#c8c8c8,#c1c1c1,#bababa,#b3b3b3,#ababab,#a2a2a2,#9a9a9a,#919191)"></i><i style="background:linear-gradient(90deg,#8e8e8e,#878787,#808080,#7a7a7a,#767676,#747474,#747474,#777,#7c7c7c,#848484,#8d8d8d,#999,#a5a5a5,#b0b0b0,#bbb,#c4c4c4,#cbcbcb,#d0d0d0,#d3d3d3,#d3d3d3,#d2d2d2,#cfcfcf,#cbcbcb,#c6c6c6,#c1c1c1,#bababa,#b3b3b3,#ababab,#a3a3a3,#9c9c9c,#949494,#8c8c8c)"></i><i style="background:linear-gradient(90deg,#8a8a8a,#848484,#7f7f7f,#7b7b7b,#797979,#797979,#7b7b7b,#7f7f7f,#858585,#8d8d8d,#979797,#a2a2a2,#adadad,#b7b7b7,#c0c0c0,#c7c7c7,#ccc,#cfcfcf,#d0d0d0,#d0d0d0,#cdcdcd,#cacaca,#c5c5c5,#c0c0c0,#b9b9b9,#b3b3b3,#acacac,#a4a4a4,#9d9d9d,#969696,#8f8f8f,#888)"></i><i style="background:linear-gradient(90deg,#878787,#838383,#7f7f7f,#7d7d7d,#7d7d7d,#7e7e7e,#828282,#878787,#8e8e8e,#979797,#a0a0a0,#aaa,#b4b4b4,#bcbcbc,#c3c3c3,#c8c8c8,#ccc,#cdcdcd,#cdcdcd,#cbcbcb,#c8c8c8,#c3c3c3,#bebebe,#b9b9b9,#b2b2b2,#acacac,#a5a5a5,#9e9e9e,#979797,#919191,#8b8b8b,#868686)"></i><i style="background:linear-gradient(90deg,#868686,#838383,#818181,#818181,#828282,#858585,#8a8a8a,#909090,#979797,#9f9f9f,#a8a8a8,#b1b1b1,#b9b9b9,#bfbfbf,#c5c5c5,#c8c8c8,#cacaca,#cacaca,#c8c8c8,#c6c6c6,#c2c2c2,#bdbdbd,#b8b8b8,#b2b2b2,#acacac,#a5a5a5,#9f9f9f,#999,#939393,#8e8e8e,#898989,#858585)"></i><i style="background:linear-gradient(90deg,#868686,#858585,#858585,#868686,#888,#8c8c8c,#929292,#989898,#9f9f9f,#a7a7a7,#afafaf,#b6b6b6,#bcbcbc,#c1c1c1,#c5c5c5,#c7c7c7,#c7c7c7,#c6c6c6,#c3c3c3,#c0c0c0,#bbb,#b6b6b6,#b1b1b1,#ababab,#a5a5a5,#a0a0a0,#9a9a9a,#959595,#909090,#8c8c8c,#888,#868686)"></i><i style="background:linear-gradient(90deg,#888,#888,#898989,#8b8b8b,#8f8f8f,#939393,#999,#a0a0a0,#a6a6a6,#adadad,#b4b4b4,#bababa,#bebebe,#c2c2c2,#c4c4c4,#c4c4c4,#c3c3c3,#c1c1c1,#bebebe,#bababa,#b5b5b5,#b0b0b0,#ababab,#a5a5a5,#a0a0a0,#9b9b9b,#969696,#929292,#8e8e8e,#8b8b8b,#898989,#888)"></i><i style="background:linear-gradient(90deg,#8b8b8b,#8c8c8c,#8e8e8e,#919191,#959595,#9a9a9a,#a0a0a0,#a6a6a6,#acacac,#b2b2b2,#b7b7b7,#bcbcbc,#bfbfbf,#c1c1c1,#c1c1c1,#c0c0c0,#bfbfbf,#bcbcbc,#b8b8b8,#b4b4b4,#afafaf,#aaa,#a5a5a5,#a0a0a0,#9b9b9b,#979797,#939393,#909090,#8d8d8d,#8c8c8c,#8b8b8b,#8b8b8b)"></i><i style="background:linear-gradient(90deg,#8f8f8f,#919191,#949494,#979797,#9c9c9c,#a1a1a1,#a6a6a6,#acacac,#b1b1b1,#b5b5b5,#b9b9b9,#bcbcbc,#bebebe,#bebebe,#bebebe,#bcbcbc,#bababa,#b6b6b6,#b2b2b2,#aeaeae,#a9a9a9,#a5a5a5,#a0a0a0,#9c9c9c,#989898,#959595,#929292,#909090,#8e8e8e,#8e8e8e,#8e8e8e,#8f8f8f)"></i><i style="background:linear-gradient(90deg,#939393,#969696,#999,#9d9d9d,#a2a2a2,#a7a7a7,#ababab,#b0b0b0,#b4b4b4,#b7b7b7,#bababa,#bbb,#bcbcbc,#bbb,#bababa,#b7b7b7,#b4b4b4,#b1b1b1,#adadad,#a9a9a9,#a4a4a4,#a0a0a0,#9d9d9d,#999,#969696,#939393,#929292,#919191,#909090,#919191,#929292,#949494)"></i><i style="background:linear-gradient(90deg,#989898,#9b9b9b,#9f9f9f,#a3a3a3,#a7a7a7,#ababab,#afafaf,#b3b3b3,#b5b5b5,#b8b8b8,#b9b9b9,#b9b9b9,#b9b9b9,#b8b8b8,#b5b5b5,#b3b3b3,#afafaf,#acacac,#a8a8a8,#a4a4a4,#a0a0a0,#9d9d9d,#9a9a9a,#979797,#959595,#939393,#939393,#929292,#939393,#949494,#969696,#999)"></i><i style="background:linear-gradient(90deg,#9d9d9d,#a0a0a0,#a4a4a4,#a7a7a7,#ababab,#aeaeae,#b1b1b1,#b4b4b4,#b6b6b6,#b7b7b7,#b7b7b7,#b7b7b7,#b5b5b5,#b3b3b3,#b1b1b1,#aeaeae,#aaa,#a7a7a7,#a4a4a4,#a0a0a0,#9d9d9d,#9a9a9a,#989898,#969696,#959595,#959595,#959595,#959595,#969696,#989898,#9b9b9b,#9e9e9e)"></i><i style="background:linear-gradient(90deg,#a2a2a2,#a5a5a5,#a8a8a8,#ababab,#aeaeae,#b1b1b1,#b3b3b3,#b4b4b4,#b5b5b5,#b5b5b5,#b5b5b5,#b3b3b3,#b1b1b1,#afafaf,#acacac,#a9a9a9,#a6a6a6,#a3a3a3,#a0a0a0,#9d9d9d,#9b9b9b,#999,#989898,#979797,#969696,#969696,#979797,#999,#9a9a9a,#9d9d9d,#9f9f9f,#a2a2a2)"></i><i style="background:linear-gradient(90deg,#a6a6a6,#a8a8a8,#ababab,#aeaeae,#b0b0b0,#b1b1b1,#b3b3b3,#b3b3b3,#b3b3b3,#b3b3b3,#b1b1b1,#b0b0b0,#adadad,#ababab,#a8a8a8,#a5a5a5,#a3a3a3,#a0a0a0,#9e9e9e,#9c9c9c,#9a9a9a,#999,#989898,#989898,#989898,#999,#9a9a9a,#9c9c9c,#9e9e9e,#a1a1a1,#a3a3a3,#a6a6a6)"></i><i style="background:linear-gradient(90deg,#a9a9a9,#ababab,#adadad,#afafaf,#b0b0b0,#b1b1b1,#b2b2b2,#b2b2b2,#b1b1b1,#b0b0b0,#aeaeae,#acacac,#aaa,#a7a7a7,#a5a5a5,#a2a2a2,#a0a0a0,#9e9e9e,#9c9c9c,#9b9b9b,#9a9a9a,#999,#999,#9a9a9a,#9b9b9b,#9c9c9c,#9e9e9e,#a0a0a0,#a2a2a2,#a5a5a5,#a7a7a7,#a9a9a9)"></i><i style="background:linear-gradient(90deg,#ababab,#adadad,#afafaf,#b0b0b0,#b0b0b0,#b0b0b0,#b0b0b0,#afafaf,#aeaeae,#acacac,#aaa,#a8a8a8,#a6a6a6,#a4a4a4,#a2a2a2,#a0a0a0,#9e9e9e,#9d9d9d,#9b9b9b,#9b9b9b,#9b9b9b,#9b9b9b,#9b9b9b,#9c9c9c,#9e9e9e,#9f9f9f,#a1a1a1,#a3a3a3,#a6a6a6,#a8a8a8,#aaa,#acacac)"></i><i style="background:linear-gradient(90deg,#adadad,#aeaeae,#afafaf,#afafaf,#afafaf,#afafaf,#aeaeae,#adadad,#ababab,#a9a9a9,#a7a7a7,#a5a5a5,#a3a3a3,#a1a1a1,#9f9f9f,#9e9e9e,#9d9d9d,#9c9c9c,#9c9c9c,#9c9c9c,#9c9c9c,#9d9d9d,#9e9e9e,#9f9f9f,#a1a1a1,#a3a3a3,#a4a4a4,#a6a6a6,#a8a8a8,#aaa,#acacac,#adadad)"></i><i style="background:linear-gradient(90deg,#aeaeae,#aeaeae,#aeaeae,#aeaeae,#adadad,#acacac,#ababab,#aaa,#a8a8a8,#a6a6a6,#a4a4a4,#a2a2a2,#a1a1a1,#9f9f9f,#9e9e9e,#9d9d9d,#9d9d9d,#9c9c9c,#9d9d9d,#9d9d9d,#9e9e9e,#9f9f9f,#a0a0a0,#a2a2a2,#a4a4a4,#a5a5a5,#a7a7a7,#a9a9a9,#aaa,#acacac,#adadad,#aeaeae)"></i><i style="background:linear-gradient(90deg,#aeaeae,#aeaeae,#adadad,#acacac,#ababab,#aaa,#a9a9a9,#a7a7a7,#a5a5a5,#a3a3a3,#a2a2a2,#a0a0a0,#9f9f9f,#9e9e9e,#9d9d9d,#9d9d9d,#9d9d9d,#9d9d9d,#9e9e9e,#9f9f9f,#a0a0a0,#a2a2a2,#a3a3a3,#a5a5a5,#a6a6a6,#a8a8a8,#a9a9a9,#ababab,#acacac,#adadad,#adadad,#aeaeae)"></i><i style="background:linear-gradient(90deg,#adadad,#acacac,#acacac,#aaa,#a9a9a9,#a8a8a8,#a6a6a6,#a4a4a4,#a3a3a3,#a1a1a1,#a0a0a0,#9f9f9f,#9e9e9e,#9e9e9e,#9e9e9e,#9e9e9e,#9e9e9e,#9f9f9f,#a0a0a0,#a1a1a1,#a2a2a2,#a4a4a4,#a6a6a6,#a7a7a7,#a9a9a9,#aaa,#ababab,#acacac,#adadad,#adadad,#adadad,#adadad)"></i><i style="background:linear-gradient(90deg,#acacac,#ababab,#aaa,#a8a8a8,#a7a7a7,#a5a5a5,#a3a3a3,#a2a2a2,#a1a1a1,#9f9f9f,#9f9f9f,#9e9e9e,#9e9e9e,#9e9e9e,#9e9e9e,#9f9f9f,#a0a0a0,#a1a1a1,#a2a2a2,#a3a3a3,#a5a5a5,#a6a6a6,#a8a8a8,#a9a9a9,#aaa,#ababab,#acacac,#adadad,#adadad,#adadad,#acacac,#acacac)"></i><i style="background:linear-gradient(90deg,#aaa,#a9a9a9,#a8a8a8,#a6a6a6,#a4a4a4,#a3a3a3,#a1a1a1,#a0a0a0,#9f9f9f,#9e9e9e,#9e9e9e,#9e9e9e,#9e9e9e,#9e9e9e,#9f9f9f,#a0a0a0,#a1a1a1,#a3a3a3,#a4a4a4,#a5a5a5,#a7a7a7,#a8a8a8,#aaa,#ababab,#acacac,#adadad,#adadad,#adadad,#adadad,#acacac,#ababab,#aaa)"></i><i style="background:linear-gradient(90deg,#a9a9a9,#a7a7a7,#a5a5a5,#a4a4a4,#a2a2a2,#a1a1a1,#9f9f9f,#9e9e9e,#9e9e9e,#9d9d9d,#9d9d9d,#9e9e9e,#9e9e9e,#9f9f9f,#a0a0a0,#a2a2a2,#a3a3a3,#a5a5a5,#a6a6a6,#a8a8a8,#a9a9a9,#aaa,#ababab,#acacac,#adadad,#adadad,#adadad,#adadad,#acacac,#ababab,#aaa,#a8a8a8)"></i><i style="background:linear-gradient(90deg,#a7a7a7,#a5a5a5,#a3a3a3,#a2a2a2,#a0a0a0,#9f9f9f,#9e9e9e,#9d9d9d,#9d9d9d,#9d9d9d,#9d9d9d,#9e9e9e,#9f9f9f,#a0a0a0,#a2a2a2,#a3a3a3,#a5a5a5,#a6a6a6,#a8a8a8,#a9a9a9,#ababab,#acacac,#adadad,#adadad,#aeaeae,#aeaeae,#adadad,#acacac,#ababab,#aaa,#a8a8a8,#a6a6a6)"></i><i style="background:linear-gradient(90deg,#a5a5a5,#a3a3a3,#a1a1a1,#9f9f9f,#9e9e9e,#9d9d9d,#9c9c9c,#9c9c9c,#9c9c9c,#9d9d9d,#9e9e9e,#9f9f9f,#a0a0a0,#a2a2a2,#a3a3a3,#a5a5a5,#a7a7a7,#a8a8a8,#aaa,#ababab,#acacac,#adadad,#aeaeae,#aeaeae,#aeaeae,#aeaeae,#adadad,#acacac,#aaa,#a8a8a8,#a6a6a6,#a4a4a4)"></i><i style="background:linear-gradient(90deg,#a3a3a3,#a1a1a1,#9f9f9f,#9d9d9d,#9c9c9c,#9c9c9c,#9b9b9b,#9c9c9c,#9c9c9c,#9d9d9d,#9e9e9e,#a0a0a0,#a1a1a1,#a3a3a3,#a5a5a5,#a7a7a7,#a9a9a9,#aaa,#acacac,#adadad,#aeaeae,#afafaf,#afafaf,#afafaf,#afafaf,#aeaeae,#acacac,#ababab,#a9a9a9,#a7a7a7,#a4a4a4,#a2a2a2)"></i><i style="background:linear-gradient(90deg,#a0a0a0,#9e9e9e,#9d9d9d,#9b9b9b,#9a9a9a,#9a9a9a,#9a9a9a,#9b9b9b,#9c9c9c,#9d9d9d,#9f9f9f,#a1a1a1,#a3a3a3,#a5a5a5,#a7a7a7,#a9a9a9,#aaa,#acacac,#aeaeae,#afafaf,#b0b0b0,#b0b0b0,#b0b0b0,#b0b0b0,#afafaf,#adadad,#acacac,#aaa,#a7a7a7,#a5a5a5,#a2a2a2,#a0a0a0)"></i><i style="background:linear-gradient(90deg,#9e9e9e,#9c9c9c,#9a9a9a,#999,#999,#999,#9a9a9a,#9b9b9b,#9c9c9c,#9e9e9e,#a0a0a0,#a2a2a2,#a4a4a4,#a7a7a7,#a9a9a9,#ababab,#acacac,#aeaeae,#afafaf,#b0b0b0,#b1b1b1,#b1b1b1,#b1b1b1,#b0b0b0,#afafaf,#adadad,#ababab,#a8a8a8,#a5a5a5,#a2a2a2,#a0a0a0,#9d9d9d)"></i><i style="background:linear-gradient(90deg,#9b9b9b,#999,#989898,#979797,#979797,#989898,#999,#9b9b9b,#9d9d9d,#9f9f9f,#a1a1a1,#a4a4a4,#a6a6a6,#a8a8a8,#ababab,#adadad,#afafaf,#b0b0b0,#b2b2b2,#b2b2b2,#b3b3b3,#b3b3b3,#b2b2b2,#b1b1b1,#afafaf,#acacac,#a9a9a9,#a6a6a6,#a3a3a3,#a0a0a0,#9d9d9d,#9a9a9a)"></i><i style="background:linear-gradient(90deg,#989898,#969696,#959595,#959595,#969696,#979797,#999,#9b9b9b,#9d9d9d,#a0a0a0,#a3a3a3,#a5a5a5,#a8a8a8,#ababab,#adadad,#afafaf,#b1b1b1,#b3b3b3,#b4b4b4,#b5b5b5,#b5b5b5,#b4b4b4,#b3b3b3,#b1b1b1,#aeaeae,#ababab,#a7a7a7,#a4a4a4,#a0a0a0,#9c9c9c,#9a9a9a,#979797)"></i><i style="background:linear-gradient(90deg,#959595,#939393,#939393,#939393,#959595,#969696,#999,#9b9b9b,#9e9e9e,#a1a1a1,#a4a4a4,#a7a7a7,#aaa,#adadad,#b0b0b0,#b2b2b2,#b4b4b4,#b5b5b5,#b6b6b6,#b7b7b7,#b6b6b6,#b5b5b5,#b3b3b3,#b1b1b1,#adadad,#a9a9a9,#a5a5a5,#a1a1a1,#9c9c9c,#999,#969696,#949494)"></i><i style="background:linear-gradient(90deg,#919191,#909090,#919191,#929292,#949494,#969696,#999,#9c9c9c,#a0a0a0,#a3a3a3,#a7a7a7,#aaa,#adadad,#b0b0b0,#b2b2b2,#b5b5b5,#b7b7b7,#b8b8b8,#b9b9b9,#b9b9b9,#b8b8b8,#b6b6b6,#b4b4b4,#b0b0b0,#acacac,#a7a7a7,#a2a2a2,#9d9d9d,#999,#959595,#929292,#919191)"></i><i style="background:linear-gradient(90deg,#8e8e8e,#8e8e8e,#8f8f8f,#919191,#939393,#969696,#9a9a9a,#9e9e9e,#a1a1a1,#a5a5a5,#a9a9a9,#acacac,#b0b0b0,#b3b3b3,#b6b6b6,#b8b8b8,#bababa,#bbb,#bcbcbc,#bbb,#bababa,#b7b7b7,#b3b3b3,#afafaf,#a9a9a9,#a4a4a4,#9e9e9e,#999,#949494,#919191,#8f8f8f,#8e8e8e)"></i><i style="background:linear-gradient(90deg,#8b8b8b,#8b8b8b,#8d8d8d,#909090,#939393,#979797,#9b9b9b,#9f9f9f,#a4a4a4,#a8a8a8,#acacac,#afafaf,#b3b3b3,#b6b6b6,#b9b9b9,#bbb,#bdbdbd,#bebebe,#bebebe,#bdbdbd,#bbb,#b7b7b7,#b2b2b2,#adadad,#a6a6a6,#a0a0a0,#999,#949494,#909090,#8d8d8d,#8b8b8b,#8b8b8b)"></i><i style="background:linear-gradient(90deg,#888,#898989,#8c8c8c,#8f8f8f,#949494,#989898,#9d9d9d,#a1a1a1,#a6a6a6,#aaa,#afafaf,#b3b3b3,#b6b6b6,#bababa,#bdbdbd,#bfbfbf,#c0c0c0,#c1c1c1,#c1c1c1,#bfbfbf,#bcbcbc,#b7b7b7,#b1b1b1,#aaa,#a3a3a3,#9b9b9b,#959595,#8f8f8f,#8b8b8b,#888,#878787,#888)"></i><i style="background:linear-gradient(90deg,#858585,#888,#8b8b8b,#909090,#949494,#999,#9f9f9f,#a4a4a4,#a9a9a9,#adadad,#b2b2b2,#b6b6b6,#bababa,#bdbdbd,#c0c0c0,#c2c2c2,#c4c4c4,#c4c4c4,#c3c3c3,#c0c0c0,#bcbcbc,#b6b6b6,#aeaeae,#a6a6a6,#9e9e9e,#969696,#8f8f8f,#8a8a8a,#868686,#848484,#848484,#868686)"></i><i style="background:linear-gradient(90deg,#838383,#878787,#8b8b8b,#909090,#969696,#9b9b9b,#a1a1a1,#a6a6a6,#ababab,#b0b0b0,#b5b5b5,#b9b9b9,#bdbdbd,#c1c1c1,#c3c3c3,#c6c6c6,#c6c6c6,#c6c6c6,#c4c4c4,#c0c0c0,#bbb,#b4b4b4,#ababab,#a2a2a2,#999,#919191,#8a8a8a,#858585,#828282,#818181,#828282,#848484)"></i><i style="background:linear-gradient(90deg,#828282,#868686,#8b8b8b,#919191,#979797,#9d9d9d,#a3a3a3,#a9a9a9,#aeaeae,#b3b3b3,#b8b8b8,#bcbcbc,#c0c0c0,#c4c4c4,#c7c7c7,#c8c8c8,#c9c9c9,#c8c8c8,#c5c5c5,#c0c0c0,#bababa,#b2b2b2,#a8a8a8,#9e9e9e,#959595,#8c8c8c,#868686,#818181,#7e7e7e,#7e7e7e,#808080,#838383)"></i><i style="background:linear-gradient(90deg,#818181,#868686,#8c8c8c,#929292,#999,#9f9f9f,#a5a5a5,#ababab,#b1b1b1,#b6b6b6,#bbb,#bfbfbf,#c3c3c3,#c7c7c7,#c9c9c9,#cbcbcb,#cbcbcb,#c9c9c9,#c6c6c6,#c0c0c0,#b8b8b8,#afafaf,#a5a5a5,#9a9a9a,#909090,#888,#818181,#7d7d7d,#7b7b7b,#7c7c7c,#7f7f7f,#838383)"></i><i style="background:linear-gradient(90deg,#818181,#878787,#8d8d8d,#949494,#9a9a9a,#a1a1a1,#a7a7a7,#adadad,#b3b3b3,#b8b8b8,#bdbdbd,#c2c2c2,#c6c6c6,#c9c9c9,#cbcbcb,#ccc,#ccc,#cacaca,#c6c6c6,#bfbfbf,#b7b7b7,#adadad,#a2a2a2,#979797,#8d8d8d,#848484,#7e7e7e,#7a7a7a,#797979,#7b7b7b,#7e7e7e,#828282)"></i><i style="background:linear-gradient(90deg,#818181,#878787,#8e8e8e,#949494,#9b9b9b,#a2a2a2,#a8a8a8,#aeaeae,#b4b4b4,#bababa,#bfbfbf,#c3c3c3,#c7c7c7,#cacaca,#ccc,#cecece,#cdcdcd,#cacaca,#c6c6c6,#bfbfbf,#b6b6b6,#ababab,#a0a0a0,#959595,#8a8a8a,#828282,#7c7c7c,#797979,#787878,#7a7a7a,#7d7d7d,#838383)"></i><i style="background:linear-gradient(90deg,#818181,#878787,#8e8e8e,#949494,#9b9b9b,#a2a2a2,#a8a8a8,#aeaeae,#b4b4b4,#bababa,#bfbfbf,#c3c3c3,#c7c7c7,#cacaca,#ccc,#cecece,#cdcdcd,#cacaca,#c6c6c6,#bfbfbf,#b6b6b6,#ababab,#a0a0a0,#959595,#8a8a8a,#828282,#7c7c7c,#797979,#787878,#7a7a7a,#7d7d7d,#838383)"></i></div>
<div class="hm" style="left:38px;top:493px;width:126px;height:126px"><i style="background:linear-gradient(90deg,#fff,#fff,#fff,#fff,#fff,#fff,#fff,#fefefe,#fafafa,#ededed,#d2d2d2,#a8a8a8,#737373,#3d3d3d,#161616,#070707,#131313,#343434,#616161,#8e8e8e,#b5b5b5,#d3d3d3,#e6e6e6,#f2f2f2,#f9f9f9,#fcfcfc,#fefefe,#fff,#fff,#fff,#fff,#fff)"></i><i style="background:linear-gradient(90deg,#fff,#fff,#fff,#fff,#fff,#fff,#fff,#fefefe,#fafafa,#ededed,#d2d2d2,#a8a8a8,#737373,#3d3d3d,#161616,#070707,#131313,#343434,#616161,#8e8e8e,#b5b5b5,#d3d3d3,#e6e6e6,#f2f2f2,#f9f9f9,#fcfcfc,#fefefe,#fff,#fff,#fff,#fff,#fff)"></i><i style="background:linear-gradient(90deg,#fff,#fff,#fff,#fff,#fff,#fff,#fff,#fefefe,#fafafa,#ededed,#d2d2d2,#a8a8a8,#727272,#3d3d3d,#161616,#070707,#131313,#343434,#616161,#8f8f8f,#b6b6b6,#d3d3d3,#e6e6e6,#f2f2f2,#f9f9f9,#fcfcfc,#fefefe,#fff,#fff,#fff,#fff,#fff)"></i><i style="background:linear-gradient(90deg,#fff,#fff,#fff,#fff,#fff,#fff,#fff,#fefefe,#fafafa,#ececec,#d2d2d2,#a7a7a7,#727272,#3d3d3d,#161616,#070707,#131313,#353535,#626262,#8f8f8f,#b6b6b6,#d3d3d3,#e7e7e7,#f2f2f2,#f9f9f9,#fcfcfc,#fefefe,#fff,#fff,#fff,#fff,#fff)"></i><i style="background:linear-gradient(90deg,#fff,#fff,#fff,#fff,#fff,#fff,#fff,#fefefe,#f9f9f9,#ececec,#d1d1d1,#a7a7a7,#717171,#3c3c3c,#151515,#070707,#131313,#353535,#626262,#909090,#b6b6b6,#d3d3d3,#e7e7e7,#f2f2f2,#f9f9f9,#fcfcfc,#fefefe,#fff,#fff,#fff,#fff,#fff)"></i><i style="background:linear-gradient(90deg,#fff,#fff,#fff,#fff,#fff,#fff,#fff,#fefefe,#f9f9f9,#ececec,#d1d1d1,#a6a6a6,#707070,#3b3b3b,#151515,#070707,#141414,#363636,#636363,#909090,#b7b7b7,#d4d4d4,#e7e7e7,#f3f3f3,#f9f9f9,#fcfcfc,#fefefe,#fff,#fff,#fff,#fff,#fff)"></i><i style="background:linear-gradient(90deg,#fff,#fff,#fff,#fff,#fff,#fff,#fff,#fefefe,#f9f9f9,#ebebeb,#d0d0d0,#a5a5a5,#6f6f6f,#3a3a3a,#141414,#070707,#141414,#373737,#646464,#919191,#b8b8b8,#d4d4d4,#e7e7e7,#f3f3f3,#f9f9f9,#fcfcfc,#fefefe,#fff,#fff,#fff,#fff,#fff)"></i><i style="background:linear-gradient(90deg,#fff,#fff,#fff,#fff,#fff,#fff,#fff,#fefefe,#f9f9f9,#ebebeb,#cfcfcf,#a3a3a3,#6e6e6e,#393939,#141414,#070707,#151515,#383838,#656565,#929292,#b9b9b9,#d5d5d5,#e8e8e8,#f3f3f3,#f9f9f9,#fcfcfc,#fefefe,#fff,#fff,#fff,#fff,#fff)"></i><i style="background:linear-gradient(90deg,#fff,#fff,#fff,#fff,#fff,#fff,#fff,#fefefe,#f9f9f9,#eaeaea,#cecece,#a2a2a2,#6c6c6c,#383838,#131313,#070707,#161616,#393939,#676767,#949494,#bababa,#d6d6d6,#e8e8e8,#f3f3f3,#f9f9f9,#fcfcfc,#fefefe,#fff,#fff,#fff,#fff,#fff)"></i><i style="background:linear-gradient(90deg,#fff,#fff,#fff,#fff,#fff,#fff,#fff,#fefefe,#f8f8f8,#e9e9e9,#ccc,#a0a0a0,#6a6a6a,#363636,#121212,#070707,#171717,#3b3b3b,#686868,#959595,#bbb,#d6d6d6,#e9e9e9,#f4f4f4,#fafafa,#fdfdfd,#fefefe,#fff,#fff,#fff,#fff,#fff)"></i><i style="background:linear-gradient(90deg,#fff,#fff,#fff,#fff,#fff,#fff,#fff,#fefefe,#f8f8f8,#e9e9e9,#cbcbcb,#9e9e9e,#686868,#353535,#111,#070707,#181818,#3c3c3c,#6a6a6a,#979797,#bcbcbc,#d7d7d7,#e9e9e9,#f4f4f4,#fafafa,#fdfdfd,#fefefe,#fff,#fff,#fff,#fff,#fff)"></i><i style="background:linear-gradient(90deg,#fff,#fff,#fff,#fff,#fff,#fff,#fff,#fefefe,#f7f7f7,#e8e8e8,#c9c9c9,#9c9c9c,#666,#333,#101010,#080808,#191919,#3e3e3e,#6c6c6c,#989898,#bdbdbd,#d8d8d8,#eaeaea,#f4f4f4,#fafafa,#fdfdfd,#fefefe,#fff,#fff,#fff,#fff,#fff)"></i><i style="background:linear-gradient(90deg,#fff,#fff,#fff,#fff,#fff,#fff,#fff,#fdfdfd,#f7f7f7,#e6e6e6,#c8c8c8,#9a9a9a,#636363,#313131,#101010,#080808,#1b1b1b,#404040,#6e6e6e,#9a9a9a,#bebebe,#d9d9d9,#eaeaea,#f4f4f4,#fafafa,#fdfdfd,#fefefe,#fff,#fff,#fff,#fff,#fff)"></i><i style="background:linear-gradient(90deg,#fff,#fff,#fff,#fff,#fff,#fff,#fff,#fdfdfd,#f6f6f6,#e5e5e5,#c6c6c6,#979797,#616161,#2f2f2f,#0f0f0f,#080808,#1c1c1c,#424242,#707070,#9c9c9c,#c0c0c0,#dadada,#ebebeb,#f5f5f5,#fafafa,#fdfdfd,#fefefe,#fff,#fff,#fff,#fff,#fff)"></i><i style="background:linear-gradient(90deg,#fff,#fff,#fff,#fff,#fff,#fff,#fff,#fdfdfd,#f6f6f6,#e4e4e4,#c3c3c3,#949494,#5e5e5e,#2d2d2d,#0e0e0e,#090909,#1e1e1e,#454545,#737373,#9e9e9e,#c2c2c2,#dbdbdb,#ececec,#f5f5f5,#fafafa,#fdfdfd,#fefefe,#fff,#fff,#fff,#fff,#fff)"></i><i style="background:linear-gradient(90deg,#fff,#fff,#fff,#fff,#fff,#fff,#fff,#fdfdfd,#f5f5f5,#e2e2e2,#c1c1c1,#919191,#5b5b5b,#2a2a2a,#0d0d0d,#0a0a0a,#202020,#474747,#757575,#a0a0a0,#c3c3c3,#dcdcdc,#ececec,#f6f6f6,#fbfbfb,#fdfdfd,#fefefe,#fff,#fff,#fff,#fff,#fff)"></i><i style="background:linear-gradient(90deg,#fff,#fff,#fff,#fff,#fff,#fff,#fff,#fcfcfc,#f4f4f4,#e1e1e1,#bebebe,#8e8e8e,#585858,#282828,#0c0c0c,#0a0a0a,#222,#4a4a4a,#787878,#a3a3a3,#c5c5c5,#ddd,#ededed,#f6f6f6,#fbfbfb,#fdfdfd,#fefefe,#fff,#fff,#fff,#fff,#fff)"></i><i style="background:linear-gradient(90deg,#fff,#fff,#fff,#fff,#fff,#fff,#fff,#fcfcfc,#f3f3f3,#dfdfdf,#bcbcbc,#8b8b8b,#545454,#262626,#0b0b0b,#0b0b0b,#242424,#4d4d4d,#7b7b7b,#a5a5a5,#c7c7c7,#dfdfdf,#eee,#f6f6f6,#fbfbfb,#fdfdfd,#fefefe,#fff,#fff,#fff,#fff,#fff)"></i><i style="background:linear-gradient(90deg,#fff,#fff,#fff,#fff,#fff,#fff,#fff,#fcfcfc,#f2f2f2,#ddd,#b9b9b9,#878787,#515151,#232323,#0a0a0a,#0c0c0c,#262626,#505050,#7e7e7e,#a8a8a8,#c9c9c9,#e0e0e0,#eee,#f7f7f7,#fbfbfb,#fdfdfd,#fefefe,#fff,#fff,#fff,#fff,#fff)"></i><i style="background:linear-gradient(90deg,#fff,#fff,#fff,#fff,#fff,#fff,#fefefe,#fbfbfb,#f1f1f1,#dbdbdb,#b5b5b5,#838383,#4d4d4d,#212121,#0a0a0a,#0e0e0e,#292929,#535353,#818181,#aaa,#cbcbcb,#e1e1e1,#efefef,#f7f7f7,#fbfbfb,#fdfdfd,#fefefe,#fff,#fff,#fff,#fff,#fff)"></i><i style="background:linear-gradient(90deg,#fff,#fff,#fff,#fff,#fff,#fff,#fefefe,#fbfbfb,#f0f0f0,#d8d8d8,#b2b2b2,#7f7f7f,#494949,#1e1e1e,#090909,#0f0f0f,#2c2c2c,#575757,#848484,#adadad,#cdcdcd,#e2e2e2,#f0f0f0,#f8f8f8,#fcfcfc,#fefefe,#fefefe,#fff,#fff,#fff,#fff,#fff)"></i><i style="background:linear-gradient(90deg,#fff,#fff,#fff,#fff,#fff,#fff,#fefefe,#fafafa,#eee,#d6d6d6,#aeaeae,#7b7b7b,#454545,#1c1c1c,#090909,#111,#2f2f2f,#5a5a5a,#888,#b0b0b0,#cfcfcf,#e4e4e4,#f1f1f1,#f8f8f8,#fcfcfc,#fefefe,#fefefe,#fff,#fff,#fff,#fff,#fff)"></i><i style="background:linear-gradient(90deg,#fff,#fff,#fff,#fff,#fff,#fff,#fefefe,#f9f9f9,#ededed,#d3d3d3,#aaa,#767676,#414141,#191919,#090909,#131313,#323232,#5e5e5e,#8c8c8c,#b3b3b3,#d1d1d1,#e5e5e5,#f2f2f2,#f8f8f8,#fcfcfc,#fefefe,#fff,#fff,#fff,#fff,#fff,#fff)"></i><i style="background:linear-gradient(90deg,#fff,#fff,#fff,#fff,#fff,#fff,#fefefe,#f8f8f8,#ebebeb,#d0d0d0,#a6a6a6,#717171,#3d3d3d,#171717,#090909,#151515,#363636,#626262,#8f8f8f,#b6b6b6,#d3d3d3,#e6e6e6,#f2f2f2,#f9f9f9,#fcfcfc,#fefefe,#fff,#fff,#fff,#fff,#fff,#fff)"></i><i style="background:linear-gradient(90deg,#fff,#fff,#fff,#fff,#fff,#fff,#fdfdfd,#f8f8f8,#e9e9e9,#ccc,#a1a1a1,#6c6c6c,#393939,#151515,#090909,#171717,#3a3a3a,#676767,#939393,#b9b9b9,#d5d5d5,#e8e8e8,#f3f3f3,#f9f9f9,#fcfcfc,#fefefe,#fff,#fff,#fff,#fff,#fff,#fff)"></i><i style="background:linear-gradient(90deg,#fff,#fff,#fff,#fff,#fff,#fff,#fdfdfd,#f7f7f7,#e7e7e7,#c9c9c9,#9c9c9c,#676767,#353535,#131313,#090909,#1a1a1a,#3e3e3e,#6b6b6b,#979797,#bcbcbc,#d7d7d7,#e9e9e9,#f4f4f4,#fafafa,#fdfdfd,#fefefe,#fff,#fff,#fff,#fff,#fff,#fff)"></i><i style="background:linear-gradient(90deg,#fff,#fff,#fff,#fff,#fff,#fff,#fdfdfd,#f5f5f5,#e4e4e4,#c5c5c5,#979797,#626262,#313131,#111,#0a0a0a,#1d1d1d,#424242,#6f6f6f,#9b9b9b,#bfbfbf,#d9d9d9,#eaeaea,#f5f5f5,#fafafa,#fdfdfd,#fefefe,#fff,#fff,#fff,#fff,#fff,#fff)"></i><i style="background:linear-gradient(90deg,#fff,#fff,#fff,#fff,#fff,#fff,#fcfcfc,#f4f4f4,#e1e1e1,#c1c1c1,#929292,#5c5c5c,#2d2d2d,#0f0f0f,#0b0b0b,#202020,#474747,#747474,#9f9f9f,#c2c2c2,#dbdbdb,#ececec,#f5f5f5,#fafafa,#fdfdfd,#fefefe,#fff,#fff,#fff,#fff,#fff,#fff)"></i><i style="background:linear-gradient(90deg,#fff,#fff,#fff,#fff,#fff,#fefefe,#fbfbfb,#f2f2f2,#dedede,#bcbcbc,#8c8c8c,#575757,#292929,#0e0e0e,#0c0c0c,#242424,#4b4b4b,#797979,#a3a3a3,#c5c5c5,#dedede,#ededed,#f6f6f6,#fbfbfb,#fdfdfd,#fefefe,#fff,#fff,#fff,#fff,#fff,#fff)"></i><i style="background:linear-gradient(90deg,#fff,#fff,#fff,#fff,#fff,#fefefe,#fbfbfb,#f1f1f1,#dbdbdb,#b7b7b7,#868686,#515151,#252525,#0c0c0c,#0e0e0e,#282828,#505050,#7e7e7e,#a8a8a8,#c9c9c9,#e0e0e0,#eee,#f7f7f7,#fbfbfb,#fdfdfd,#fefefe,#fff,#fff,#fff,#fff,#fff,#fff)"></i><i style="background:linear-gradient(90deg,#fff,#fff,#fff,#fff,#fff,#fefefe,#fafafa,#efefef,#d8d8d8,#b2b2b2,#808080,#4b4b4b,#212121,#0b0b0b,#101010,#2c2c2c,#565656,#838383,#acacac,#ccc,#e2e2e2,#efefef,#f7f7f7,#fbfbfb,#fdfdfd,#fefefe,#fff,#fff,#fff,#fff,#fff,#fff)"></i><i style="background:linear-gradient(90deg,#fff,#fff,#fff,#fff,#fff,#fefefe,#f9f9f9,#ededed,#d4d4d4,#acacac,#7a7a7a,#464646,#1d1d1d,#0b0b0b,#131313,#303030,#5b5b5b,#888,#b0b0b0,#cfcfcf,#e4e4e4,#f1f1f1,#f8f8f8,#fcfcfc,#fefefe,#fefefe,#fff,#fff,#fff,#fff,#fff,#fff)"></i><i style="background:linear-gradient(90deg,#fff,#fff,#fff,#fff,#fff,#fdfdfd,#f8f8f8,#eaeaea,#d0d0d0,#a7a7a7,#737373,#404040,#1a1a1a,#0b0b0b,#151515,#353535,#616161,#8e8e8e,#b4b4b4,#d2d2d2,#e6e6e6,#f2f2f2,#f9f9f9,#fcfcfc,#fefefe,#fff,#fff,#fff,#fff,#fff,#fff,#fff)"></i><i style="background:linear-gradient(90deg,#fff,#fff,#fff,#fff,#fff,#fdfdfd,#f7f7f7,#e7e7e7,#cbcbcb,#a0a0a0,#6d6d6d,#3a3a3a,#171717,#0b0b0b,#191919,#3a3a3a,#676767,#939393,#b9b9b9,#d5d5d5,#e7e7e7,#f3f3f3,#f9f9f9,#fcfcfc,#fefefe,#fff,#fff,#fff,#fff,#fff,#fff,#fff)"></i><i style="background:linear-gradient(90deg,#fff,#fff,#fff,#fff,#fff,#fcfcfc,#f5f5f5,#e4e4e4,#c6c6c6,#9a9a9a,#666,#353535,#141414,#0b0b0b,#1c1c1c,#404040,#6d6d6d,#989898,#bdbdbd,#d8d8d8,#e9e9e9,#f4f4f4,#fafafa,#fdfdfd,#fefefe,#fff,#fff,#fff,#fff,#fff,#fff,#fff)"></i><i style="background:linear-gradient(90deg,#fff,#fff,#fff,#fff,#fefefe,#fcfcfc,#f3f3f3,#e1e1e1,#c1c1c1,#939393,#5f5f5f,#2f2f2f,#111,#0c0c0c,#202020,#464646,#737373,#9e9e9e,#c1c1c1,#dadada,#ebebeb,#f5f5f5,#fafafa,#fdfdfd,#fefefe,#fff,#fff,#fff,#fff,#fff,#fff,#fff)"></i><i style="background:linear-gradient(90deg,#fff,#fff,#fff,#fff,#fefefe,#fbfbfb,#f1f1f1,#ddd,#bbb,#8c8c8c,#585858,#2a2a2a,#0f0f0f,#0e0e0e,#252525,#4c4c4c,#797979,#a3a3a3,#c5c5c5,#ddd,#ededed,#f6f6f6,#fbfbfb,#fdfdfd,#fefefe,#fff,#fff,#fff,#fff,#fff,#fff,#fff)"></i><i style="background:linear-gradient(90deg,#fff,#fff,#fff,#fff,#fefefe,#fafafa,#efefef,#d9d9d9,#b5b5b5,#848484,#505050,#252525,#0e0e0e,#101010,#2a2a2a,#525252,#7f7f7f,#a8a8a8,#c9c9c9,#e0e0e0,#eee,#f7f7f7,#fbfbfb,#fdfdfd,#fefefe,#fff,#fff,#fff,#fff,#fff,#fff,#fff)"></i><i style="background:linear-gradient(90deg,#fff,#fff,#fff,#fff,#fdfdfd,#f9f9f9,#ececec,#d4d4d4,#aeaeae,#7d7d7d,#494949,#212121,#0d0d0d,#131313,#2f2f2f,#595959,#868686,#aeaeae,#cdcdcd,#e2e2e2,#f0f0f0,#f8f8f8,#fcfcfc,#fefefe,#fefefe,#fff,#fff,#fff,#fff,#fff,#fff,#fff)"></i><i style="background:linear-gradient(90deg,#fff,#fff,#fff,#fff,#fdfdfd,#f7f7f7,#e9e9e9,#cfcfcf,#a7a7a7,#757575,#424242,#1c1c1c,#0c0c0c,#161616,#353535,#5f5f5f,#8c8c8c,#b3b3b3,#d1d1d1,#e5e5e5,#f1f1f1,#f8f8f8,#fcfcfc,#fefefe,#fefefe,#fff,#fff,#fff,#fff,#fff,#fff,#fff)"></i><i style="background:linear-gradient(90deg,#fff,#fff,#fff,#fefefe,#fcfcfc,#f6f6f6,#e6e6e6,#cacaca,#a0a0a0,#6d6d6d,#3c3c3c,#181818,#0d0d0d,#1a1a1a,#3b3b3b,#666,#929292,#b8b8b8,#d4d4d4,#e7e7e7,#f3f3f3,#f9f9f9,#fcfcfc,#fefefe,#fff,#fff,#fff,#fff,#fff,#fff,#fff,#fff)"></i><i style="background:linear-gradient(90deg,#fff,#fff,#fff,#fefefe,#fcfcfc,#f4f4f4,#e2e2e2,#c4c4c4,#989898,#656565,#353535,#151515,#0d0d0d,#1e1e1e,#424242,#6e6e6e,#999,#bdbdbd,#d8d8d8,#e9e9e9,#f4f4f4,#fafafa,#fdfdfd,#fefefe,#fff,#fff,#fff,#fff,#fff,#fff,#fff,#fff)"></i><i style="background:linear-gradient(90deg,#fff,#fff,#fff,#fefefe,#fbfbfb,#f1f1f1,#dedede,#bdbdbd,#909090,#5d5d5d,#2f2f2f,#121212,#0f0f0f,#232323,#484848,#757575,#9f9f9f,#c2c2c2,#dbdbdb,#ebebeb,#f5f5f5,#fafafa,#fdfdfd,#fefefe,#fff,#fff,#fff,#fff,#fff,#fff,#fff,#fff)"></i><i style="background:linear-gradient(90deg,#fff,#fff,#fff,#fefefe,#fafafa,#efefef,#dadada,#b6b6b6,#888,#545454,#292929,#101010,#111,#282828,#505050,#7c7c7c,#a6a6a6,#c7c7c7,#dedede,#ededed,#f6f6f6,#fbfbfb,#fdfdfd,#fefefe,#fff,#fff,#fff,#fff,#fff,#fff,#fff,#fff)"></i><i style="background:linear-gradient(90deg,#fff,#fff,#fff,#fdfdfd,#f8f8f8,#ececec,#d4d4d4,#afafaf,#7f7f7f,#4c4c4c,#232323,#0f0f0f,#141414,#2e2e2e,#575757,#848484,#acacac,#cbcbcb,#e1e1e1,#efefef,#f7f7f7,#fbfbfb,#fdfdfd,#fefefe,#fff,#fff,#fff,#fff,#fff,#fff,#fff,#fff)"></i><i style="background:linear-gradient(90deg,#fff,#fff,#fefefe,#fdfdfd,#f7f7f7,#e9e9e9,#cfcfcf,#a7a7a7,#767676,#444,#1e1e1e,#0e0e0e,#171717,#353535,#5f5f5f,#8b8b8b,#b2b2b2,#d0d0d0,#e4e4e4,#f1f1f1,#f8f8f8,#fcfcfc,#fefefe,#fefefe,#fff,#fff,#fff,#fff,#fff,#fff,#fff,#fff)"></i><i style="background:linear-gradient(90deg,#fff,#fff,#fefefe,#fcfcfc,#f5f5f5,#e5e5e5,#c8c8c8,#9f9f9f,#6d6d6d,#3d3d3d,#1a1a1a,#0e0e0e,#1b1b1b,#3c3c3c,#676767,#929292,#b8b8b8,#d4d4d4,#e7e7e7,#f2f2f2,#f9f9f9,#fcfcfc,#fefefe,#fff,#fff,#fff,#fff,#fff,#fff,#fff,#fff,#fff)"></i><i style="background:linear-gradient(90deg,#fff,#fff,#fefefe,#fbfbfb,#f2f2f2,#e0e0e0,#c2c2c2,#969696,#646464,#353535,#161616,#0f0f0f,#202020,#434343,#6f6f6f,#9a9a9a,#bebebe,#d8d8d8,#e9e9e9,#f4f4f4,#fafafa,#fdfdfd,#fefefe,#fff,#fff,#fff,#fff,#fff,#fff,#fff,#fff,#fff)"></i><i style="background:linear-gradient(90deg,#fff,#fff,#fefefe,#fafafa,#f0f0f0,#dbdbdb,#bababa,#8d8d8d,#5a5a5a,#2e2e2e,#141414,#111,#262626,#4b4b4b,#777,#a1a1a1,#c3c3c3,#dcdcdc,#ececec,#f5f5f5,#fafafa,#fdfdfd,#fefefe,#fff,#fff,#fff,#fff,#fff,#fff,#fff,#fff,#fff)"></i><i style="background:linear-gradient(90deg,#fff,#fff,#fdfdfd,#f8f8f8,#ececec,#d6d6d6,#b2b2b2,#838383,#515151,#282828,#111,#141414,#2c2c2c,#535353,#7f7f7f,#a8a8a8,#c8c8c8,#dfdfdf,#eee,#f6f6f6,#fbfbfb,#fdfdfd,#fefefe,#fff,#fff,#fff,#fff,#fff,#fff,#fff,#fff,#fff)"></i><i style="background:linear-gradient(90deg,#fff,#fefefe,#fcfcfc,#f6f6f6,#e9e9e9,#d0d0d0,#aaa,#7a7a7a,#494949,#222,#101010,#171717,#333,#5c5c5c,#888,#afafaf,#cdcdcd,#e3e3e3,#f0f0f0,#f8f8f8,#fcfcfc,#fefefe,#fefefe,#fff,#fff,#fff,#fff,#fff,#fff,#fff,#fff,#fff)"></i><i style="background:linear-gradient(90deg,#fff,#fefefe,#fbfbfb,#f4f4f4,#e5e5e5,#c9c9c9,#a1a1a1,#707070,#404040,#1d1d1d,#101010,#1b1b1b,#3a3a3a,#646464,#909090,#b6b6b6,#d2d2d2,#e6e6e6,#f2f2f2,#f9f9f9,#fcfcfc,#fefefe,#fff,#fff,#fff,#fff,#fff,#fff,#fff,#fff,#fff,#fff)"></i><i style="background:linear-gradient(90deg,#fff,#fefefe,#fafafa,#f2f2f2,#e0e0e0,#c2c2c2,#979797,#666,#383838,#191919,#111,#202020,#424242,#6d6d6d,#989898,#bcbcbc,#d7d7d7,#e9e9e9,#f3f3f3,#f9f9f9,#fdfdfd,#fefefe,#fff,#fff,#fff,#fff,#fff,#fff,#fff,#fff,#fff,#fff)"></i><i style="background:linear-gradient(90deg,#fff,#fdfdfd,#f9f9f9,#efefef,#dbdbdb,#bababa,#8d8d8d,#5c5c5c,#303030,#161616,#121212,#262626,#4b4b4b,#767676,#a0a0a0,#c2c2c2,#dbdbdb,#ebebeb,#f5f5f5,#fafafa,#fdfdfd,#fefefe,#fff,#fff,#fff,#fff,#fff,#fff,#fff,#fff,#fff,#fefefe)"></i><i style="background:linear-gradient(90deg,#fefefe,#fdfdfd,#f7f7f7,#ebebeb,#d5d5d5,#b1b1b1,#838383,#525252,#292929,#131313,#151515,#2d2d2d,#545454,#7f7f7f,#a8a8a8,#c8c8c8,#dfdfdf,#eee,#f6f6f6,#fbfbfb,#fdfdfd,#fefefe,#fff,#fff,#fff,#fff,#fff,#fff,#fff,#fff,#fff,#fefefe)"></i><i style="background:linear-gradient(90deg,#fefefe,#fcfcfc,#f5f5f5,#e7e7e7,#cecece,#a8a8a8,#787878,#484848,#232323,#121212,#191919,#353535,#5d5d5d,#888,#afafaf,#cecece,#e3e3e3,#f0f0f0,#f8f8f8,#fcfcfc,#fefefe,#fefefe,#fff,#fff,#fff,#fff,#fff,#fff,#fff,#fff,#fff,#fefefe)"></i><i style="background:linear-gradient(90deg,#fefefe,#fbfbfb,#f3f3f3,#e3e3e3,#c6c6c6,#9e9e9e,#6e6e6e,#3f3f3f,#1e1e1e,#121212,#1e1e1e,#3d3d3d,#666,#919191,#b7b7b7,#d3d3d3,#e6e6e6,#f2f2f2,#f9f9f9,#fcfcfc,#fefefe,#fff,#fff,#fff,#fff,#fff,#fff,#fff,#fff,#fff,#fff,#fdfdfd)"></i><i style="background:linear-gradient(90deg,#fdfdfd,#f9f9f9,#f0f0f0,#ddd,#bebebe,#949494,#636363,#373737,#191919,#131313,#232323,#464646,#707070,#9a9a9a,#bebebe,#d8d8d8,#e9e9e9,#f4f4f4,#fafafa,#fdfdfd,#fefefe,#fff,#fff,#fff,#fff,#fff,#fff,#fff,#fff,#fff,#fefefe,#fdfdfd)"></i><i style="background:linear-gradient(90deg,#fdfdfd,#f8f8f8,#ececec,#d7d7d7,#b5b5b5,#898989,#585858,#2f2f2f,#161616,#151515,#2a2a2a,#4f4f4f,#7a7a7a,#a3a3a3,#c4c4c4,#dcdcdc,#ececec,#f5f5f5,#fafafa,#fdfdfd,#fefefe,#fff,#fff,#fff,#fff,#fff,#fff,#fff,#fff,#fff,#fefefe,#fcfcfc)"></i><i style="background:linear-gradient(90deg,#fcfcfc,#f6f6f6,#e8e8e8,#d0d0d0,#acacac,#7e7e7e,#4e4e4e,#282828,#141414,#181818,#323232,#585858,#848484,#ababab,#cacaca,#e1e1e1,#efefef,#f7f7f7,#fbfbfb,#fdfdfd,#fefefe,#fff,#fff,#fff,#fff,#fff,#fff,#fff,#fff,#fff,#fefefe,#fbfbfb)"></i><i style="background:linear-gradient(90deg,#fbfbfb,#f3f3f3,#e3e3e3,#c9c9c9,#a2a2a2,#737373,#444,#222,#131313,#1d1d1d,#3a3a3a,#626262,#8d8d8d,#b3b3b3,#d0d0d0,#e4e4e4,#f1f1f1,#f8f8f8,#fcfcfc,#fefefe,#fefefe,#fff,#fff,#fff,#fff,#fff,#fff,#fff,#fff,#fff,#fdfdfd,#f9f9f9)"></i><i style="background:linear-gradient(90deg,#f9f9f9,#f0f0f0,#dedede,#c0c0c0,#979797,#676767,#3b3b3b,#1c1c1c,#141414,#222,#434343,#6d6d6d,#979797,#bbb,#d6d6d6,#e8e8e8,#f3f3f3,#f9f9f9,#fcfcfc,#fefefe,#fff,#fff,#fff,#fff,#fff,#fff,#fff,#fff,#fff,#fefefe,#fdfdfd,#f8f8f8)"></i><i style="background:linear-gradient(90deg,#f7f7f7,#ececec,#d8d8d8,#b7b7b7,#8c8c8c,#5c5c5c,#323232,#191919,#161616,#292929,#4d4d4d,#777,#a0a0a0,#c2c2c2,#dbdbdb,#ebebeb,#f5f5f5,#fafafa,#fdfdfd,#fefefe,#fff,#fff,#fff,#fff,#fff,#fff,#fff,#fff,#fff,#fefefe,#fcfcfc,#f5f5f5)"></i><i style="background:linear-gradient(90deg,#f5f5f5,#e8e8e8,#d1d1d1,#adadad,#808080,#515151,#2a2a2a,#161616,#191919,#313131,#575757,#818181,#a9a9a9,#c9c9c9,#dfdfdf,#eee,#f6f6f6,#fbfbfb,#fdfdfd,#fefefe,#fff,#fff,#fff,#fff,#fff,#fff,#fff,#fff,#fff,#fefefe,#fafafa,#f3f3f3)"></i><i style="background:linear-gradient(90deg,#f3f3f3,#e3e3e3,#c9c9c9,#a2a2a2,#747474,#464646,#242424,#151515,#1d1d1d,#393939,#616161,#8c8c8c,#b2b2b2,#cfcfcf,#e4e4e4,#f0f0f0,#f8f8f8,#fcfcfc,#fefefe,#fefefe,#fff,#fff,#fff,#fff,#fff,#fff,#fff,#fff,#fefefe,#fdfdfd,#f9f9f9,#f0f0f0)"></i><i style="background:linear-gradient(90deg,#efefef,#ddd,#c0c0c0,#979797,#686868,#3d3d3d,#1e1e1e,#151515,#232323,#434343,#6c6c6c,#969696,#bababa,#d5d5d5,#e7e7e7,#f3f3f3,#f9f9f9,#fcfcfc,#fefefe,#fff,#fff,#fff,#fff,#fff,#fff,#fff,#fff,#fff,#fefefe,#fcfcfc,#f7f7f7,#ececec)"></i><i style="background:linear-gradient(90deg,#ebebeb,#d7d7d7,#b6b6b6,#8b8b8b,#5d5d5d,#343434,#1a1a1a,#171717,#2a2a2a,#4d4d4d,#777,#a0a0a0,#c1c1c1,#dadada,#ebebeb,#f5f5f5,#fafafa,#fdfdfd,#fefefe,#fff,#fff,#fff,#fff,#fff,#fff,#fff,#fff,#fff,#fefefe,#fbfbfb,#f5f5f5,#e7e7e7)"></i><i style="background:linear-gradient(90deg,#e7e7e7,#cfcfcf,#acacac,#7f7f7f,#515151,#2c2c2c,#181818,#1b1b1b,#323232,#585858,#828282,#a9a9a9,#c9c9c9,#dfdfdf,#eee,#f6f6f6,#fbfbfb,#fdfdfd,#fefefe,#fff,#fff,#fff,#fff,#fff,#fff,#fff,#fff,#fff,#fdfdfd,#fafafa,#f2f2f2,#e2e2e2)"></i><i style="background:linear-gradient(90deg,#e1e1e1,#c6c6c6,#a0a0a0,#737373,#464646,#252525,#171717,#1f1f1f,#3b3b3b,#636363,#8d8d8d,#b2b2b2,#cfcfcf,#e4e4e4,#f0f0f0,#f8f8f8,#fcfcfc,#fefefe,#fefefe,#fff,#fff,#fff,#fff,#fff,#fff,#fff,#fff,#fefefe,#fdfdfd,#f8f8f8,#eee,#dcdcdc)"></i><i style="background:linear-gradient(90deg,#dbdbdb,#bdbdbd,#959595,#676767,#3c3c3c,#1f1f1f,#171717,#262626,#454545,#6e6e6e,#979797,#bbb,#d6d6d6,#e8e8e8,#f3f3f3,#f9f9f9,#fcfcfc,#fefefe,#fff,#fff,#fff,#fff,#fff,#fff,#fff,#fff,#fff,#fefefe,#fcfcfc,#f6f6f6,#eaeaea,#d5d5d5)"></i><i style="background:linear-gradient(90deg,#d4d4d4,#b3b3b3,#888,#5a5a5a,#333,#1b1b1b,#191919,#2d2d2d,#505050,#797979,#a2a2a2,#c3c3c3,#dbdbdb,#ebebeb,#f5f5f5,#fafafa,#fdfdfd,#fefefe,#fff,#fff,#fff,#fff,#fff,#fff,#fff,#fff,#fff,#fdfdfd,#fafafa,#f3f3f3,#e5e5e5,#cdcdcd)"></i><i style="background:linear-gradient(90deg,#cbcbcb,#a8a8a8,#7c7c7c,#4f4f4f,#2b2b2b,#191919,#1d1d1d,#363636,#5b5b5b,#858585,#ababab,#cacaca,#e0e0e0,#eee,#f7f7f7,#fbfbfb,#fdfdfd,#fefefe,#fff,#fff,#fff,#fff,#fff,#fff,#fff,#fff,#fefefe,#fdfdfd,#f9f9f9,#f0f0f0,#dfdfdf,#c4c4c4)"></i><i style="background:linear-gradient(90deg,#c2c2c2,#9c9c9c,#6f6f6f,#444,#242424,#181818,#232323,#3f3f3f,#676767,#909090,#b5b5b5,#d1d1d1,#e5e5e5,#f1f1f1,#f8f8f8,#fcfcfc,#fefefe,#fefefe,#fff,#fff,#fff,#fff,#fff,#fff,#fff,#fff,#fefefe,#fcfcfc,#f7f7f7,#ececec,#d8d8d8,#bababa)"></i><i style="background:linear-gradient(90deg,#b8b8b8,#8f8f8f,#626262,#393939,#1f1f1f,#191919,#292929,#4a4a4a,#737373,#9b9b9b,#bebebe,#d7d7d7,#e9e9e9,#f4f4f4,#f9f9f9,#fcfcfc,#fefefe,#fff,#fff,#fff,#fff,#fff,#fff,#fff,#fff,#fff,#fefefe,#fbfbfb,#f4f4f4,#e7e7e7,#d1d1d1,#afafaf)"></i><i style="background:linear-gradient(90deg,#adadad,#828282,#565656,#303030,#1c1c1c,#1c1c1c,#323232,#555,#7f7f7f,#a6a6a6,#c6c6c6,#ddd,#ececec,#f6f6f6,#fbfbfb,#fdfdfd,#fefefe,#fff,#fff,#fff,#fff,#fff,#fff,#fff,#fff,#fefefe,#fdfdfd,#f9f9f9,#f1f1f1,#e1e1e1,#c8c8c8,#a3a3a3)"></i><i style="background:linear-gradient(90deg,#a1a1a1,#757575,#4a4a4a,#292929,#1a1a1a,#212121,#3b3b3b,#616161,#8a8a8a,#b0b0b0,#cdcdcd,#e2e2e2,#f0f0f0,#f7f7f7,#fbfbfb,#fdfdfd,#fefefe,#fff,#fff,#fff,#fff,#fff,#fff,#fff,#fff,#fefefe,#fcfcfc,#f7f7f7,#ededed,#dbdbdb,#bebebe,#979797)"></i><i style="background:linear-gradient(90deg,#959595,#686868,#3f3f3f,#232323,#1a1a1a,#272727,#464646,#6d6d6d,#969696,#b9b9b9,#d4d4d4,#e7e7e7,#f2f2f2,#f9f9f9,#fcfcfc,#fefefe,#fff,#fff,#fff,#fff,#fff,#fff,#fff,#fff,#fff,#fefefe,#fbfbfb,#f5f5f5,#e9e9e9,#d3d3d3,#b3b3b3,#8a8a8a)"></i><i style="background:linear-gradient(90deg,#878787,#5b5b5b,#353535,#1e1e1e,#1c1c1c,#2f2f2f,#515151,#7a7a7a,#a1a1a1,#c2c2c2,#dbdbdb,#ebebeb,#f5f5f5,#fafafa,#fdfdfd,#fefefe,#fff,#fff,#fff,#fff,#fff,#fff,#fff,#fff,#fefefe,#fdfdfd,#f9f9f9,#f2f2f2,#e3e3e3,#cacaca,#a7a7a7,#7c7c7c)"></i><i style="background:linear-gradient(90deg,#7a7a7a,#4f4f4f,#2d2d2d,#1c1c1c,#212121,#393939,#5d5d5d,#868686,#acacac,#cacaca,#e0e0e0,#eee,#f7f7f7,#fbfbfb,#fdfdfd,#fefefe,#fff,#fff,#fff,#fff,#fff,#fff,#fff,#fff,#fefefe,#fcfcfc,#f7f7f7,#eee,#dcdcdc,#c1c1c1,#9b9b9b,#6f6f6f)"></i><i style="background:linear-gradient(90deg,#6c6c6c,#434343,#262626,#1c1c1c,#262626,#434343,#6a6a6a,#929292,#b6b6b6,#d2d2d2,#e5e5e5,#f1f1f1,#f8f8f8,#fcfcfc,#fefefe,#fefefe,#fff,#fff,#fff,#fff,#fff,#fff,#fff,#fff,#fefefe,#fbfbfb,#f5f5f5,#e9e9e9,#d5d5d5,#b6b6b6,#8e8e8e,#626262)"></i><i style="background:linear-gradient(90deg,#5f5f5f,#393939,#212121,#1d1d1d,#2e2e2e,#4e4e4e,#767676,#9e9e9e,#bfbfbf,#d9d9d9,#e9e9e9,#f4f4f4,#fafafa,#fdfdfd,#fefefe,#fff,#fff,#fff,#fff,#fff,#fff,#fff,#fff,#fefefe,#fdfdfd,#f9f9f9,#f2f2f2,#e4e4e4,#ccc,#aaa,#808080,#555)"></i><i style="background:linear-gradient(90deg,#525252,#303030,#1e1e1e,#212121,#373737,#5b5b5b,#838383,#a9a9a9,#c8c8c8,#dfdfdf,#ededed,#f6f6f6,#fbfbfb,#fdfdfd,#fefefe,#fff,#fff,#fff,#fff,#fff,#fff,#fff,#fff,#fefefe,#fcfcfc,#f7f7f7,#eee,#ddd,#c2c2c2,#9d9d9d,#727272,#494949)"></i><i style="background:linear-gradient(90deg,#464646,#282828,#1d1d1d,#262626,#424242,#676767,#909090,#b4b4b4,#d0d0d0,#e4e4e4,#f1f1f1,#f8f8f8,#fcfcfc,#fefefe,#fefefe,#fff,#fff,#fff,#fff,#fff,#fff,#fff,#fefefe,#fdfdfd,#fbfbfb,#f5f5f5,#e9e9e9,#d5d5d5,#b7b7b7,#909090,#656565,#3d3d3d)"></i><i style="background:linear-gradient(90deg,#3b3b3b,#232323,#1e1e1e,#2e2e2e,#4d4d4d,#757575,#9c9c9c,#bebebe,#d7d7d7,#e9e9e9,#f3f3f3,#f9f9f9,#fcfcfc,#fefefe,#fff,#fff,#fff,#fff,#fff,#fff,#fff,#fff,#fefefe,#fdfdfd,#f9f9f9,#f2f2f2,#e3e3e3,#ccc,#ababab,#828282,#575757,#343434)"></i><i style="background:linear-gradient(90deg,#323232,#202020,#222,#373737,#5a5a5a,#828282,#a8a8a8,#c7c7c7,#dedede,#ededed,#f6f6f6,#fbfbfb,#fdfdfd,#fefefe,#fff,#fff,#fff,#fff,#fff,#fff,#fff,#fff,#fefefe,#fcfcfc,#f7f7f7,#eee,#ddd,#c2c2c2,#9e9e9e,#747474,#4b4b4b,#2c2c2c)"></i><i style="background:linear-gradient(90deg,#2a2a2a,#1e1e1e,#272727,#424242,#676767,#8f8f8f,#b3b3b3,#cfcfcf,#e3e3e3,#f0f0f0,#f8f8f8,#fcfcfc,#fdfdfd,#fefefe,#fff,#fff,#fff,#fff,#fff,#fff,#fff,#fefefe,#fdfdfd,#fbfbfb,#f4f4f4,#e9e9e9,#d5d5d5,#b7b7b7,#909090,#666,#3f3f3f,#252525)"></i><i style="background:linear-gradient(90deg,#252525,#202020,#2f2f2f,#4d4d4d,#747474,#9b9b9b,#bdbdbd,#d7d7d7,#e8e8e8,#f3f3f3,#f9f9f9,#fcfcfc,#fefefe,#fff,#fff,#fff,#fff,#fff,#fff,#fff,#fff,#fefefe,#fdfdfd,#f9f9f9,#f1f1f1,#e3e3e3,#ccc,#ababab,#828282,#585858,#353535,#212121)"></i><i style="background:linear-gradient(90deg,#212121,#232323,#383838,#5a5a5a,#828282,#a7a7a7,#c6c6c6,#ddd,#ececec,#f5f5f5,#fafafa,#fdfdfd,#fefefe,#fff,#fff,#fff,#fff,#fff,#fff,#fff,#fff,#fefefe,#fbfbfb,#f7f7f7,#ededed,#dcdcdc,#c1c1c1,#9d9d9d,#747474,#4b4b4b,#2d2d2d,#202020)"></i><i style="background:linear-gradient(90deg,#202020,#292929,#434343,#676767,#8f8f8f,#b3b3b3,#cfcfcf,#e3e3e3,#f0f0f0,#f7f7f7,#fbfbfb,#fdfdfd,#fefefe,#fff,#fff,#fff,#fff,#fff,#fff,#fff,#fefefe,#fdfdfd,#fafafa,#f4f4f4,#e8e8e8,#d3d3d3,#b6b6b6,#8f8f8f,#666,#404040,#272727,#202020)"></i><i style="background:linear-gradient(90deg,#212121,#303030,#4f4f4f,#757575,#9c9c9c,#bdbdbd,#d7d7d7,#e8e8e8,#f3f3f3,#f9f9f9,#fcfcfc,#fefefe,#fff,#fff,#fff,#fff,#fff,#fff,#fff,#fff,#fefefe,#fcfcfc,#f8f8f8,#f0f0f0,#e1e1e1,#cacaca,#a9a9a9,#818181,#585858,#363636,#232323,#232323)"></i><i style="background:linear-gradient(90deg,#252525,#3a3a3a,#5c5c5c,#838383,#a8a8a8,#c7c7c7,#dedede,#ededed,#f6f6f6,#fafafa,#fdfdfd,#fefefe,#fff,#fff,#fff,#fff,#fff,#fff,#fff,#fefefe,#fdfdfd,#fbfbfb,#f6f6f6,#ececec,#dadada,#bfbfbf,#9b9b9b,#727272,#4b4b4b,#2e2e2e,#212121,#282828)"></i><i style="background:linear-gradient(90deg,#2b2b2b,#454545,#6a6a6a,#919191,#b4b4b4,#d0d0d0,#e4e4e4,#f0f0f0,#f8f8f8,#fcfcfc,#fdfdfd,#fefefe,#fff,#fff,#fff,#fff,#fff,#fff,#fff,#fefefe,#fdfdfd,#f9f9f9,#f3f3f3,#e6e6e6,#d1d1d1,#b3b3b3,#8d8d8d,#646464,#3f3f3f,#272727,#222,#303030)"></i><i style="background:linear-gradient(90deg,#333,#515151,#787878,#9e9e9e,#bfbfbf,#d8d8d8,#e9e9e9,#f3f3f3,#f9f9f9,#fcfcfc,#fefefe,#fff,#fff,#fff,#fff,#fff,#fff,#fff,#fff,#fefefe,#fcfcfc,#f7f7f7,#efefef,#dfdfdf,#c7c7c7,#a6a6a6,#7e7e7e,#565656,#353535,#242424,#252525,#393939)"></i><i style="background:linear-gradient(90deg,#3d3d3d,#5f5f5f,#868686,#aaa,#c8c8c8,#dfdfdf,#ededed,#f6f6f6,#fbfbfb,#fdfdfd,#fefefe,#fff,#fff,#fff,#fff,#fff,#fff,#fff,#fefefe,#fdfdfd,#fafafa,#f5f5f5,#eaeaea,#d7d7d7,#bcbcbc,#989898,#707070,#494949,#2d2d2d,#222,#2b2b2b,#444)"></i><i style="background:linear-gradient(90deg,#484848,#6d6d6d,#949494,#b6b6b6,#d1d1d1,#e5e5e5,#f1f1f1,#f8f8f8,#fcfcfc,#fefefe,#fefefe,#fff,#fff,#fff,#fff,#fff,#fff,#fff,#fefefe,#fcfcfc,#f9f9f9,#f1f1f1,#e4e4e4,#cecece,#b0b0b0,#8a8a8a,#616161,#3e3e3e,#282828,#242424,#333,#515151)"></i><i style="background:linear-gradient(90deg,#555,#7b7b7b,#a1a1a1,#c1c1c1,#d9d9d9,#eaeaea,#f4f4f4,#fafafa,#fdfdfd,#fefefe,#fff,#fff,#fff,#fff,#fff,#fff,#fff,#fefefe,#fdfdfd,#fbfbfb,#f6f6f6,#ededed,#dcdcdc,#c4c4c4,#a2a2a2,#7b7b7b,#535353,#343434,#252525,#282828,#3d3d3d,#5e5e5e)"></i><i style="background:linear-gradient(90deg,#636363,#8a8a8a,#aeaeae,#cbcbcb,#e0e0e0,#eee,#f6f6f6,#fbfbfb,#fdfdfd,#fefefe,#fff,#fff,#fff,#fff,#fff,#fff,#fff,#fefefe,#fdfdfd,#fafafa,#f3f3f3,#e7e7e7,#d4d4d4,#b8b8b8,#949494,#6c6c6c,#474747,#2d2d2d,#242424,#2e2e2e,#494949,#6d6d6d)"></i><i style="background:linear-gradient(90deg,#727272,#989898,#b9b9b9,#d4d4d4,#e6e6e6,#f2f2f2,#f8f8f8,#fcfcfc,#fefefe,#fefefe,#fff,#fff,#fff,#fff,#fff,#fff,#fff,#fefefe,#fcfcfc,#f7f7f7,#efefef,#e1e1e1,#cacaca,#ababab,#858585,#5d5d5d,#3c3c3c,#282828,#262626,#373737,#565656,#7b7b7b)"></i><i style="background:linear-gradient(90deg,#808080,#a5a5a5,#c4c4c4,#dbdbdb,#ebebeb,#f5f5f5,#fafafa,#fdfdfd,#fefefe,#fff,#fff,#fff,#fff,#fff,#fff,#fff,#fefefe,#fdfdfd,#fafafa,#f5f5f5,#eaeaea,#d9d9d9,#bfbfbf,#9d9d9d,#757575,#505050,#333,#252525,#2b2b2b,#424242,#646464,#8a8a8a)"></i><i style="background:linear-gradient(90deg,#8f8f8f,#b2b2b2,#cecece,#e2e2e2,#efefef,#f7f7f7,#fbfbfb,#fdfdfd,#fefefe,#fff,#fff,#fff,#fff,#fff,#fff,#fff,#fefefe,#fcfcfc,#f8f8f8,#f1f1f1,#e4e4e4,#d0d0d0,#b2b2b2,#8e8e8e,#666,#434343,#2c2c2c,#262626,#323232,#4e4e4e,#727272,#989898)"></i><i style="background:linear-gradient(90deg,#9d9d9d,#bdbdbd,#d7d7d7,#e8e8e8,#f3f3f3,#f9f9f9,#fcfcfc,#fefefe,#fff,#fff,#fff,#fff,#fff,#fff,#fff,#fefefe,#fdfdfd,#fbfbfb,#f6f6f6,#ededed,#ddd,#c5c5c5,#a5a5a5,#7e7e7e,#585858,#393939,#282828,#292929,#3c3c3c,#5c5c5c,#818181,#a6a6a6)"></i><i style="background:linear-gradient(90deg,#aaa,#c8c8c8,#dedede,#ededed,#f6f6f6,#fafafa,#fdfdfd,#fefefe,#fff,#fff,#fff,#fff,#fff,#fff,#fff,#fefefe,#fdfdfd,#f9f9f9,#f3f3f3,#e7e7e7,#d4d4d4,#b9b9b9,#969696,#6f6f6f,#4b4b4b,#313131,#272727,#2f2f2f,#474747,#6a6a6a,#909090,#b2b2b2)"></i><i style="background:linear-gradient(90deg,#b7b7b7,#d2d2d2,#e5e5e5,#f1f1f1,#f8f8f8,#fcfcfc,#fefefe,#fefefe,#fff,#fff,#fff,#fff,#fff,#fff,#fefefe,#fefefe,#fbfbfb,#f7f7f7,#efefef,#e0e0e0,#cacaca,#acacac,#878787,#606060,#3f3f3f,#2b2b2b,#282828,#373737,#545454,#797979,#9e9e9e,#bebebe)"></i><i style="background:linear-gradient(90deg,#c2c2c2,#dadada,#eaeaea,#f4f4f4,#fafafa,#fdfdfd,#fefefe,#fff,#fff,#fff,#fff,#fff,#fff,#fff,#fefefe,#fdfdfd,#fafafa,#f4f4f4,#e9e9e9,#d8d8d8,#bebebe,#9d9d9d,#777,#525252,#363636,#282828,#2d2d2d,#424242,#636363,#888,#acacac,#c9c9c9)"></i><i style="background:linear-gradient(90deg,#cdcdcd,#e1e1e1,#efefef,#f7f7f7,#fbfbfb,#fdfdfd,#fefefe,#fff,#fff,#fff,#fff,#fff,#fff,#fefefe,#fefefe,#fcfcfc,#f8f8f8,#f0f0f0,#e3e3e3,#cecece,#b2b2b2,#8e8e8e,#686868,#464646,#2f2f2f,#282828,#343434,#4e4e4e,#727272,#979797,#b8b8b8,#d2d2d2)"></i><i style="background:linear-gradient(90deg,#d6d6d6,#e7e7e7,#f2f2f2,#f9f9f9,#fcfcfc,#fefefe,#fefefe,#fff,#fff,#fff,#fff,#fff,#fff,#fefefe,#fdfdfd,#fafafa,#f5f5f5,#ebebeb,#dbdbdb,#c3c3c3,#a3a3a3,#7e7e7e,#595959,#3b3b3b,#2a2a2a,#2b2b2b,#3e3e3e,#5c5c5c,#818181,#a5a5a5,#c4c4c4,#dbdbdb)"></i><i style="background:linear-gradient(90deg,#dedede,#ececec,#f5f5f5,#fafafa,#fdfdfd,#fefefe,#fff,#fff,#fff,#fff,#fff,#fff,#fff,#fefefe,#fcfcfc,#f9f9f9,#f2f2f2,#e5e5e5,#d2d2d2,#b7b7b7,#949494,#6f6f6f,#4c4c4c,#333,#292929,#313131,#494949,#6b6b6b,#909090,#b2b2b2,#cecece,#e2e2e2)"></i><i style="background:linear-gradient(90deg,#e5e5e5,#f1f1f1,#f8f8f8,#fcfcfc,#fefefe,#fefefe,#fff,#fff,#fff,#fff,#fff,#fff,#fefefe,#fdfdfd,#fbfbfb,#f6f6f6,#ededed,#dedede,#c7c7c7,#a9a9a9,#858585,#606060,#404040,#2d2d2d,#2b2b2b,#3a3a3a,#575757,#7b7b7b,#9f9f9f,#bfbfbf,#d7d7d7,#e8e8e8)"></i><i style="background:linear-gradient(90deg,#eaeaea,#f4f4f4,#fafafa,#fdfdfd,#fefefe,#fff,#fff,#fff,#fff,#fff,#fff,#fff,#fefefe,#fcfcfc,#f9f9f9,#f3f3f3,#e7e7e7,#d5d5d5,#bbb,#9a9a9a,#757575,#515151,#373737,#2a2a2a,#303030,#454545,#656565,#8a8a8a,#adadad,#cacaca,#dfdfdf,#ededed)"></i><i style="background:linear-gradient(90deg,#efefef,#f7f7f7,#fbfbfb,#fdfdfd,#fefefe,#fff,#fff,#fff,#fff,#fff,#fff,#fefefe,#fdfdfd,#fbfbfb,#f7f7f7,#efefef,#e0e0e0,#cbcbcb,#aeaeae,#8a8a8a,#656565,#454545,#303030,#2b2b2b,#373737,#525252,#757575,#999,#bababa,#d3d3d3,#e6e6e6,#f1f1f1)"></i><i style="background:linear-gradient(90deg,#f3f3f3,#f9f9f9,#fcfcfc,#fefefe,#fff,#fff,#fff,#fff,#fff,#fff,#fff,#fefefe,#fdfdfd,#fafafa,#f4f4f4,#e9e9e9,#d8d8d8,#bfbfbf,#9f9f9f,#7a7a7a,#565656,#3a3a3a,#2c2c2c,#2f2f2f,#424242,#606060,#858585,#a8a8a8,#c6c6c6,#dcdcdc,#ebebeb,#f5f5f5)"></i><i style="background:linear-gradient(90deg,#f6f6f6,#fbfbfb,#fdfdfd,#fefefe,#fff,#fff,#fff,#fff,#fff,#fff,#fff,#fefefe,#fcfcfc,#f8f8f8,#f0f0f0,#e3e3e3,#cecece,#b2b2b2,#8f8f8f,#6a6a6a,#494949,#323232,#2b2b2b,#353535,#4e4e4e,#707070,#949494,#b5b5b5,#d0d0d0,#e3e3e3,#f0f0f0,#f7f7f7)"></i><i style="background:linear-gradient(90deg,#f8f8f8,#fcfcfc,#fefefe,#fefefe,#fff,#fff,#fff,#fff,#fff,#fff,#fefefe,#fdfdfd,#fbfbfb,#f5f5f5,#ebebeb,#dbdbdb,#c3c3c3,#a4a4a4,#7f7f7f,#5b5b5b,#3d3d3d,#2d2d2d,#2d2d2d,#3e3e3e,#5c5c5c,#7f7f7f,#a3a3a3,#c2c2c2,#d9d9d9,#e9e9e9,#f3f3f3,#f9f9f9)"></i><i style="background:linear-gradient(90deg,#fafafa,#fdfdfd,#fefefe,#fff,#fff,#fff,#fff,#fff,#fff,#fff,#fefefe,#fcfcfc,#f9f9f9,#f2f2f2,#e5e5e5,#d2d2d2,#b6b6b6,#949494,#6f6f6f,#4d4d4d,#343434,#2b2b2b,#333,#4a4a4a,#6b6b6b,#8f8f8f,#b1b1b1,#cdcdcd,#e1e1e1,#eee,#f6f6f6,#fbfbfb)"></i><i style="background:linear-gradient(90deg,#fbfbfb,#fdfdfd,#fefefe,#fff,#fff,#fff,#fff,#fff,#fff,#fefefe,#fefefe,#fbfbfb,#f7f7f7,#eee,#dedede,#c7c7c7,#a9a9a9,#848484,#5f5f5f,#404040,#2e2e2e,#2c2c2c,#3b3b3b,#575757,#7b7b7b,#9e9e9e,#bebebe,#d6d6d6,#e7e7e7,#f2f2f2,#f9f9f9,#fcfcfc)"></i><i style="background:linear-gradient(90deg,#fcfcfc,#fefefe,#fff,#fff,#fff,#fff,#fff,#fff,#fff,#fefefe,#fdfdfd,#fafafa,#f4f4f4,#e9e9e9,#d6d6d6,#bcbcbc,#9a9a9a,#747474,#505050,#353535,#2a2a2a,#303030,#464646,#666,#8a8a8a,#adadad,#c9c9c9,#dfdfdf,#ededed,#f6f6f6,#fafafa,#fdfdfd)"></i><i style="background:linear-gradient(90deg,#fdfdfd,#fefefe,#fff,#fff,#fff,#fff,#fff,#fff,#fff,#fefefe,#fcfcfc,#f8f8f8,#f0f0f0,#e3e3e3,#cdcdcd,#afafaf,#8a8a8a,#636363,#424242,#2d2d2d,#292929,#363636,#525252,#757575,#9a9a9a,#bababa,#d4d4d4,#e6e6e6,#f1f1f1,#f8f8f8,#fcfcfc,#fefefe)"></i><i style="background:linear-gradient(90deg,#fefefe,#fff,#fff,#fff,#fff,#fff,#fff,#fff,#fefefe,#fefefe,#fbfbfb,#f6f6f6,#ececec,#dcdcdc,#c2c2c2,#a1a1a1,#7a7a7a,#545454,#363636,#272727,#2b2b2b,#3f3f3f,#606060,#858585,#a8a8a8,#c6c6c6,#dcdcdc,#ebebeb,#f5f5f5,#fafafa,#fdfdfd,#fefefe)"></i><i style="background:linear-gradient(90deg,#fefefe,#fff,#fff,#fff,#fff,#fff,#fff,#fff,#fefefe,#fdfdfd,#fafafa,#f4f4f4,#e8e8e8,#d4d4d4,#b7b7b7,#929292,#6a6a6a,#454545,#2c2c2c,#242424,#2f2f2f,#4a4a4a,#6e6e6e,#949494,#b6b6b6,#d1d1d1,#e4e4e4,#f0f0f0,#f7f7f7,#fbfbfb,#fdfdfd,#fefefe)"></i><i style="background:linear-gradient(90deg,#fefefe,#fff,#fff,#fff,#fff,#fff,#fff,#fff,#fefefe,#fcfcfc,#f9f9f9,#f1f1f1,#e3e3e3,#ccc,#acacac,#848484,#5b5b5b,#383838,#242424,#242424,#363636,#565656,#7c7c7c,#a2a2a2,#c2c2c2,#d9d9d9,#eaeaea,#f4f4f4,#fafafa,#fcfcfc,#fefefe,#fff)"></i><i style="background:linear-gradient(90deg,#fff,#fff,#fff,#fff,#fff,#fff,#fff,#fff,#fefefe,#fcfcfc,#f7f7f7,#eee,#ddd,#c3c3c3,#a0a0a0,#767676,#4d4d4d,#2d2d2d,#1f1f1f,#252525,#3e3e3e,#626262,#8a8a8a,#aeaeae,#ccc,#e1e1e1,#efefef,#f7f7f7,#fbfbfb,#fdfdfd,#fefefe,#fff)"></i><i style="background:linear-gradient(90deg,#fff,#fff,#fff,#fff,#fff,#fff,#fff,#fff,#fefefe,#fbfbfb,#f6f6f6,#ebebeb,#d8d8d8,#bbb,#959595,#696969,#404040,#242424,#1b1b1b,#282828,#464646,#6d6d6d,#969696,#b9b9b9,#d4d4d4,#e7e7e7,#f2f2f2,#f9f9f9,#fcfcfc,#fefefe,#fff,#fff)"></i><i style="background:linear-gradient(90deg,#fff,#fff,#fff,#fff,#fff,#fff,#fff,#fefefe,#fdfdfd,#fafafa,#f4f4f4,#e8e8e8,#d3d3d3,#b3b3b3,#8b8b8b,#5e5e5e,#363636,#1d1d1d,#191919,#2b2b2b,#4e4e4e,#787878,#a1a1a1,#c3c3c3,#dbdbdb,#ebebeb,#f5f5f5,#fafafa,#fdfdfd,#fefefe,#fff,#fff)"></i><i style="background:linear-gradient(90deg,#fff,#fff,#fff,#fff,#fff,#fff,#fff,#fefefe,#fdfdfd,#fafafa,#f3f3f3,#e5e5e5,#cecece,#adadad,#828282,#555,#2e2e2e,#181818,#191919,#2f2f2f,#555,#818181,#a9a9a9,#cacaca,#e0e0e0,#efefef,#f7f7f7,#fbfbfb,#fdfdfd,#fefefe,#fff,#fff)"></i><i style="background:linear-gradient(90deg,#fff,#fff,#fff,#fff,#fff,#fff,#fff,#fefefe,#fdfdfd,#f9f9f9,#f2f2f2,#e3e3e3,#cbcbcb,#a8a8a8,#7d7d7d,#4f4f4f,#292929,#151515,#191919,#323232,#5a5a5a,#868686,#aeaeae,#cecece,#e3e3e3,#f1f1f1,#f8f8f8,#fcfcfc,#fefefe,#fff,#fff,#fff)"></i><i style="background:linear-gradient(90deg,#fff,#fff,#fff,#fff,#fff,#fff,#fff,#fefefe,#fdfdfd,#f9f9f9,#f2f2f2,#e3e3e3,#cbcbcb,#a8a8a8,#7d7d7d,#4f4f4f,#292929,#151515,#191919,#323232,#5a5a5a,#868686,#aeaeae,#cecece,#e3e3e3,#f1f1f1,#f8f8f8,#fcfcfc,#fefefe,#fff,#fff,#fff)"></i></div>
<div class="hm" style="left:206px;top:493px;width:126px;height:126px"><i style="background:linear-gradient(90deg,#fff,#fff,#fff,#fff,#fff,#fff,#fefefe,#f7f7f7,#e7e7e7,#cdcdcd,#a6a6a6,#787878,#494949,#222,#0b0b0b,#060606,#151515,#313131,#565656,#7d7d7d,#a1a1a1,#bebebe,#d5d5d5,#e5e5e5,#f0f0f0,#f7f7f7,#fbfbfb,#fdfdfd,#fefefe,#fefefe,#fff,#fff)"></i><i style="background:linear-gradient(90deg,#fff,#fff,#fff,#fff,#fff,#fff,#fefefe,#f7f7f7,#e7e7e7,#cdcdcd,#a6a6a6,#787878,#494949,#222,#0b0b0b,#060606,#151515,#313131,#565656,#7d7d7d,#a1a1a1,#bebebe,#d5d5d5,#e5e5e5,#f0f0f0,#f7f7f7,#fbfbfb,#fdfdfd,#fefefe,#fefefe,#fff,#fff)"></i><i style="background:linear-gradient(90deg,#fff,#fff,#fff,#fff,#fff,#fff,#fdfdfd,#f7f7f7,#e7e7e7,#ccc,#a6a6a6,#787878,#494949,#222,#0b0b0b,#060606,#151515,#323232,#575757,#7e7e7e,#a1a1a1,#bfbfbf,#d5d5d5,#e5e5e5,#f0f0f0,#f7f7f7,#fbfbfb,#fdfdfd,#fefefe,#fefefe,#fff,#fff)"></i><i style="background:linear-gradient(90deg,#fff,#fff,#fff,#fff,#fff,#fff,#fdfdfd,#f6f6f6,#e7e7e7,#cbcbcb,#a5a5a5,#777,#484848,#212121,#0a0a0a,#070707,#151515,#333,#585858,#7e7e7e,#a2a2a2,#bfbfbf,#d6d6d6,#e6e6e6,#f0f0f0,#f7f7f7,#fbfbfb,#fdfdfd,#fefefe,#fefefe,#fff,#fff)"></i><i style="background:linear-gradient(90deg,#fff,#fff,#fff,#fff,#fff,#fff,#fdfdfd,#f6f6f6,#e6e6e6,#cacaca,#a4a4a4,#757575,#474747,#212121,#0a0a0a,#070707,#161616,#343434,#595959,#7f7f7f,#a3a3a3,#c0c0c0,#d6d6d6,#e6e6e6,#f0f0f0,#f7f7f7,#fbfbfb,#fdfdfd,#fefefe,#fff,#fff,#fff)"></i><i style="background:linear-gradient(90deg,#fff,#fff,#fff,#fff,#fff,#fff,#fdfdfd,#f5f5f5,#e5e5e5,#c9c9c9,#a2a2a2,#747474,#454545,#202020,#0a0a0a,#070707,#171717,#353535,#5a5a5a,#818181,#a4a4a4,#c1c1c1,#d7d7d7,#e6e6e6,#f1f1f1,#f7f7f7,#fbfbfb,#fdfdfd,#fefefe,#fff,#fff,#fff)"></i><i style="background:linear-gradient(90deg,#fff,#fff,#fff,#fff,#fff,#fff,#fdfdfd,#f5f5f5,#e4e4e4,#c8c8c8,#a0a0a0,#727272,#444,#1f1f1f,#0a0a0a,#080808,#181818,#363636,#5c5c5c,#828282,#a5a5a5,#c2c2c2,#d7d7d7,#e7e7e7,#f1f1f1,#f7f7f7,#fbfbfb,#fdfdfd,#fefefe,#fff,#fff,#fff)"></i><i style="background:linear-gradient(90deg,#fff,#fff,#fff,#fff,#fff,#fff,#fcfcfc,#f4f4f4,#e3e3e3,#c6c6c6,#9e9e9e,#6f6f6f,#424242,#1e1e1e,#090909,#090909,#1a1a1a,#383838,#5e5e5e,#848484,#a7a7a7,#c3c3c3,#d8d8d8,#e7e7e7,#f1f1f1,#f7f7f7,#fbfbfb,#fdfdfd,#fefefe,#fff,#fff,#fff)"></i><i style="background:linear-gradient(90deg,#fff,#fff,#fff,#fff,#fff,#fff,#fcfcfc,#f3f3f3,#e1e1e1,#c3c3c3,#9b9b9b,#6d6d6d,#404040,#1c1c1c,#090909,#090909,#1b1b1b,#3a3a3a,#606060,#868686,#a8a8a8,#c4c4c4,#d9d9d9,#e8e8e8,#f2f2f2,#f8f8f8,#fbfbfb,#fdfdfd,#fefefe,#fff,#fff,#fff)"></i><i style="background:linear-gradient(90deg,#fff,#fff,#fff,#fff,#fff,#fff,#fbfbfb,#f2f2f2,#dfdfdf,#c1c1c1,#989898,#6a6a6a,#3d3d3d,#1b1b1b,#090909,#0a0a0a,#1d1d1d,#3d3d3d,#626262,#888,#aaa,#c6c6c6,#dadada,#e9e9e9,#f2f2f2,#f8f8f8,#fbfbfb,#fdfdfd,#fefefe,#fff,#fff,#fff)"></i><i style="background:linear-gradient(90deg,#fff,#fff,#fff,#fff,#fff,#fff,#fbfbfb,#f1f1f1,#ddd,#bebebe,#959595,#666,#3a3a3a,#191919,#090909,#0c0c0c,#202020,#404040,#656565,#8b8b8b,#acacac,#c7c7c7,#dbdbdb,#e9e9e9,#f3f3f3,#f8f8f8,#fbfbfb,#fdfdfd,#fefefe,#fff,#fff,#fff)"></i><i style="background:linear-gradient(90deg,#fff,#fff,#fff,#fff,#fff,#fefefe,#fafafa,#efefef,#dbdbdb,#bbb,#919191,#636363,#373737,#181818,#090909,#0d0d0d,#222,#434343,#686868,#8e8e8e,#afafaf,#c9c9c9,#ddd,#eaeaea,#f3f3f3,#f8f8f8,#fcfcfc,#fdfdfd,#fefefe,#fff,#fff,#fff)"></i><i style="background:linear-gradient(90deg,#fff,#fff,#fff,#fff,#fff,#fefefe,#f9f9f9,#ededed,#d8d8d8,#b7b7b7,#8d8d8d,#5f5f5f,#343434,#161616,#090909,#0f0f0f,#252525,#464646,#6c6c6c,#919191,#b1b1b1,#cbcbcb,#dedede,#ebebeb,#f4f4f4,#f9f9f9,#fcfcfc,#fdfdfd,#fefefe,#fff,#fff,#fff)"></i><i style="background:linear-gradient(90deg,#fff,#fff,#fff,#fff,#fff,#fefefe,#f8f8f8,#ececec,#d5d5d5,#b3b3b3,#888,#5a5a5a,#313131,#141414,#090909,#111,#282828,#4a4a4a,#6f6f6f,#949494,#b4b4b4,#cdcdcd,#dfdfdf,#ececec,#f4f4f4,#f9f9f9,#fcfcfc,#fdfdfd,#fefefe,#fff,#fff,#fff)"></i><i style="background:linear-gradient(90deg,#fff,#fff,#fff,#fff,#fff,#fdfdfd,#f7f7f7,#e9e9e9,#d2d2d2,#afafaf,#848484,#565656,#2e2e2e,#131313,#0a0a0a,#131313,#2b2b2b,#4e4e4e,#737373,#989898,#b7b7b7,#cfcfcf,#e1e1e1,#ededed,#f5f5f5,#f9f9f9,#fcfcfc,#fefefe,#fefefe,#fff,#fff,#fff)"></i><i style="background:linear-gradient(90deg,#fff,#fff,#fff,#fff,#fff,#fcfcfc,#f5f5f5,#e7e7e7,#cecece,#aaa,#7e7e7e,#515151,#2b2b2b,#111,#0a0a0a,#151515,#2f2f2f,#525252,#787878,#9b9b9b,#bababa,#d1d1d1,#e2e2e2,#eee,#f5f5f5,#fafafa,#fcfcfc,#fefefe,#fefefe,#fff,#fff,#fff)"></i><i style="background:linear-gradient(90deg,#fff,#fff,#fff,#fff,#fff,#fcfcfc,#f4f4f4,#e4e4e4,#cacaca,#a5a5a5,#797979,#4c4c4c,#272727,#101010,#0b0b0b,#181818,#333,#565656,#7c7c7c,#9f9f9f,#bdbdbd,#d3d3d3,#e4e4e4,#efefef,#f6f6f6,#fafafa,#fcfcfc,#fefefe,#fefefe,#fff,#fff,#fff)"></i><i style="background:linear-gradient(90deg,#fff,#fff,#fff,#fff,#fefefe,#fbfbfb,#f2f2f2,#e1e1e1,#c5c5c5,#9f9f9f,#737373,#484848,#242424,#0f0f0f,#0d0d0d,#1b1b1b,#373737,#5b5b5b,#818181,#a3a3a3,#c0c0c0,#d6d6d6,#e5e5e5,#f0f0f0,#f7f7f7,#fafafa,#fdfdfd,#fefefe,#fefefe,#fff,#fff,#fff)"></i><i style="background:linear-gradient(90deg,#fff,#fff,#fff,#fff,#fefefe,#fafafa,#f0f0f0,#ddd,#c0c0c0,#999,#6d6d6d,#424242,#212121,#0f0f0f,#0e0e0e,#1f1f1f,#3c3c3c,#606060,#858585,#a7a7a7,#c3c3c3,#d8d8d8,#e7e7e7,#f1f1f1,#f7f7f7,#fbfbfb,#fdfdfd,#fefefe,#fff,#fff,#fff,#fff)"></i><i style="background:linear-gradient(90deg,#fff,#fff,#fff,#fff,#fdfdfd,#f8f8f8,#ededed,#d9d9d9,#bbb,#939393,#676767,#3d3d3d,#1e1e1e,#0e0e0e,#101010,#232323,#414141,#666,#8a8a8a,#ababab,#c6c6c6,#dadada,#e9e9e9,#f2f2f2,#f8f8f8,#fbfbfb,#fdfdfd,#fefefe,#fff,#fff,#fff,#fff)"></i><i style="background:linear-gradient(90deg,#fff,#fff,#fff,#fff,#fcfcfc,#f7f7f7,#eaeaea,#d5d5d5,#b5b5b5,#8c8c8c,#616161,#383838,#1b1b1b,#0e0e0e,#131313,#272727,#474747,#6b6b6b,#8f8f8f,#afafaf,#c9c9c9,#ddd,#eaeaea,#f3f3f3,#f8f8f8,#fbfbfb,#fdfdfd,#fefefe,#fff,#fff,#fff,#fff)"></i><i style="background:linear-gradient(90deg,#fff,#fff,#fff,#fefefe,#fcfcfc,#f5f5f5,#e7e7e7,#d0d0d0,#afafaf,#858585,#5a5a5a,#333,#191919,#0e0e0e,#161616,#2c2c2c,#4d4d4d,#717171,#959595,#b4b4b4,#cdcdcd,#dfdfdf,#ececec,#f4f4f4,#f9f9f9,#fcfcfc,#fdfdfd,#fefefe,#fff,#fff,#fff,#fff)"></i><i style="background:linear-gradient(90deg,#fff,#fff,#fff,#fefefe,#fafafa,#f3f3f3,#e3e3e3,#cacaca,#a8a8a8,#7e7e7e,#535353,#2f2f2f,#171717,#0f0f0f,#191919,#313131,#535353,#777,#9a9a9a,#b8b8b8,#d0d0d0,#e1e1e1,#ededed,#f5f5f5,#f9f9f9,#fcfcfc,#fefefe,#fefefe,#fff,#fff,#fff,#fff)"></i><i style="background:linear-gradient(90deg,#fff,#fff,#fff,#fdfdfd,#f9f9f9,#f0f0f0,#dfdfdf,#c5c5c5,#a1a1a1,#777,#4d4d4d,#2a2a2a,#151515,#111,#1d1d1d,#373737,#595959,#7d7d7d,#9f9f9f,#bcbcbc,#d3d3d3,#e3e3e3,#efefef,#f6f6f6,#fafafa,#fcfcfc,#fefefe,#fefefe,#fff,#fff,#fff,#fff)"></i><i style="background:linear-gradient(90deg,#fff,#fff,#fefefe,#fcfcfc,#f8f8f8,#ededed,#dadada,#bebebe,#999,#6f6f6f,#464646,#262626,#141414,#131313,#222,#3d3d3d,#606060,#848484,#a5a5a5,#c1c1c1,#d6d6d6,#e6e6e6,#f0f0f0,#f6f6f6,#fafafa,#fdfdfd,#fefefe,#fefefe,#fff,#fff,#fff,#fff)"></i><i style="background:linear-gradient(90deg,#fff,#fff,#fefefe,#fcfcfc,#f6f6f6,#eaeaea,#d5d5d5,#b7b7b7,#919191,#676767,#404040,#222,#131313,#151515,#272727,#444,#676767,#8a8a8a,#aaa,#c5c5c5,#d9d9d9,#e8e8e8,#f1f1f1,#f7f7f7,#fbfbfb,#fdfdfd,#fefefe,#fff,#fff,#fff,#fff,#fff)"></i><i style="background:linear-gradient(90deg,#fff,#fff,#fefefe,#fafafa,#f3f3f3,#e6e6e6,#cfcfcf,#b0b0b0,#898989,#5f5f5f,#3a3a3a,#1f1f1f,#131313,#181818,#2c2c2c,#4a4a4a,#6e6e6e,#919191,#b0b0b0,#c9c9c9,#dcdcdc,#eaeaea,#f3f3f3,#f8f8f8,#fbfbfb,#fdfdfd,#fefefe,#fff,#fff,#fff,#fff,#fff)"></i><i style="background:linear-gradient(90deg,#fff,#fefefe,#fdfdfd,#f9f9f9,#f1f1f1,#e1e1e1,#c9c9c9,#a8a8a8,#808080,#575757,#343434,#1c1c1c,#141414,#1c1c1c,#323232,#525252,#757575,#979797,#b5b5b5,#cdcdcd,#dfdfdf,#ececec,#f4f4f4,#f9f9f9,#fcfcfc,#fdfdfd,#fefefe,#fff,#fff,#fff,#fff,#fff)"></i><i style="background:linear-gradient(90deg,#fff,#fefefe,#fcfcfc,#f7f7f7,#ededed,#dcdcdc,#c2c2c2,#a0a0a0,#787878,#505050,#2e2e2e,#1a1a1a,#151515,#202020,#393939,#595959,#7c7c7c,#9e9e9e,#bbb,#d1d1d1,#e2e2e2,#eee,#f5f5f5,#f9f9f9,#fcfcfc,#fefefe,#fefefe,#fff,#fff,#fff,#fff,#fff)"></i><i style="background:linear-gradient(90deg,#fff,#fefefe,#fbfbfb,#f5f5f5,#eaeaea,#d7d7d7,#bbb,#979797,#6f6f6f,#484848,#2a2a2a,#181818,#171717,#262626,#404040,#616161,#848484,#a4a4a4,#c0c0c0,#d5d5d5,#e5e5e5,#efefef,#f6f6f6,#fafafa,#fcfcfc,#fefefe,#fefefe,#fff,#fff,#fff,#fff,#fefefe)"></i><i style="background:linear-gradient(90deg,#fefefe,#fdfdfd,#fafafa,#f3f3f3,#e5e5e5,#d0d0d0,#b3b3b3,#8e8e8e,#666,#414141,#252525,#181818,#1a1a1a,#2b2b2b,#474747,#696969,#8c8c8c,#ababab,#c5c5c5,#d9d9d9,#e7e7e7,#f1f1f1,#f7f7f7,#fbfbfb,#fdfdfd,#fefefe,#fefefe,#fff,#fff,#fff,#fff,#fefefe)"></i><i style="background:linear-gradient(90deg,#fefefe,#fcfcfc,#f8f8f8,#f0f0f0,#e1e1e1,#c9c9c9,#aaa,#848484,#5d5d5d,#3a3a3a,#222,#181818,#1e1e1e,#323232,#4f4f4f,#717171,#939393,#b1b1b1,#cacaca,#ddd,#eaeaea,#f2f2f2,#f8f8f8,#fbfbfb,#fdfdfd,#fefefe,#fff,#fff,#fff,#fff,#fff,#fefefe)"></i><i style="background:linear-gradient(90deg,#fefefe,#fbfbfb,#f6f6f6,#ececec,#dbdbdb,#c2c2c2,#a1a1a1,#7b7b7b,#545454,#343434,#1f1f1f,#191919,#232323,#393939,#585858,#7a7a7a,#9b9b9b,#b8b8b8,#cfcfcf,#e0e0e0,#ececec,#f4f4f4,#f9f9f9,#fcfcfc,#fdfdfd,#fefefe,#fff,#fff,#fff,#fff,#fefefe,#fdfdfd)"></i><i style="background:linear-gradient(90deg,#fdfdfd,#fafafa,#f3f3f3,#e8e8e8,#d5d5d5,#bababa,#979797,#717171,#4c4c4c,#2e2e2e,#1d1d1d,#1b1b1b,#282828,#404040,#606060,#828282,#a2a2a2,#bebebe,#d3d3d3,#e3e3e3,#eee,#f5f5f5,#fafafa,#fcfcfc,#fefefe,#fefefe,#fff,#fff,#fff,#fff,#fefefe,#fcfcfc)"></i><i style="background:linear-gradient(90deg,#fcfcfc,#f8f8f8,#f0f0f0,#e3e3e3,#cecece,#b1b1b1,#8d8d8d,#676767,#444,#2a2a2a,#1c1c1c,#1e1e1e,#2e2e2e,#494949,#696969,#8b8b8b,#a9a9a9,#c3c3c3,#d8d8d8,#e6e6e6,#f0f0f0,#f6f6f6,#fafafa,#fdfdfd,#fefefe,#fefefe,#fff,#fff,#fff,#fefefe,#fefefe,#fbfbfb)"></i><i style="background:linear-gradient(90deg,#fbfbfb,#f6f6f6,#ededed,#ddd,#c6c6c6,#a7a7a7,#838383,#5e5e5e,#3d3d3d,#262626,#1c1c1c,#222,#353535,#515151,#727272,#939393,#b1b1b1,#c9c9c9,#dcdcdc,#e9e9e9,#f2f2f2,#f8f8f8,#fbfbfb,#fdfdfd,#fefefe,#fefefe,#fff,#fff,#fff,#fefefe,#fdfdfd,#fafafa)"></i><i style="background:linear-gradient(90deg,#fafafa,#f4f4f4,#e9e9e9,#d7d7d7,#bebebe,#9d9d9d,#797979,#555,#363636,#232323,#1e1e1e,#272727,#3d3d3d,#5a5a5a,#7b7b7b,#9b9b9b,#b8b8b8,#cecece,#e0e0e0,#ececec,#f4f4f4,#f9f9f9,#fcfcfc,#fdfdfd,#fefefe,#fff,#fff,#fff,#fff,#fefefe,#fcfcfc,#f9f9f9)"></i><i style="background:linear-gradient(90deg,#f8f8f8,#f1f1f1,#e4e4e4,#d0d0d0,#b5b5b5,#939393,#6e6e6e,#4c4c4c,#303030,#212121,#202020,#2d2d2d,#454545,#646464,#848484,#a3a3a3,#bebebe,#d3d3d3,#e3e3e3,#eee,#f5f5f5,#f9f9f9,#fcfcfc,#fefefe,#fefefe,#fff,#fff,#fff,#fefefe,#fdfdfd,#fbfbfb,#f7f7f7)"></i><i style="background:linear-gradient(90deg,#f6f6f6,#ededed,#dedede,#c8c8c8,#ababab,#888,#646464,#444,#2c2c2c,#202020,#232323,#343434,#4e4e4e,#6d6d6d,#8e8e8e,#ababab,#c5c5c5,#d8d8d8,#e6e6e6,#f0f0f0,#f6f6f6,#fafafa,#fdfdfd,#fefefe,#fefefe,#fff,#fff,#fff,#fefefe,#fdfdfd,#fafafa,#f4f4f4)"></i><i style="background:linear-gradient(90deg,#f3f3f3,#e8e8e8,#d8d8d8,#bfbfbf,#a1a1a1,#7e7e7e,#5a5a5a,#3c3c3c,#282828,#212121,#282828,#3b3b3b,#575757,#777,#979797,#b3b3b3,#cbcbcb,#ddd,#e9e9e9,#f2f2f2,#f8f8f8,#fbfbfb,#fdfdfd,#fefefe,#fefefe,#fff,#fff,#fefefe,#fefefe,#fcfcfc,#f8f8f8,#f1f1f1)"></i><i style="background:linear-gradient(90deg,#f0f0f0,#e3e3e3,#d0d0d0,#b6b6b6,#969696,#737373,#515151,#363636,#262626,#232323,#2e2e2e,#444,#616161,#818181,#a0a0a0,#bbb,#d0d0d0,#e1e1e1,#ececec,#f4f4f4,#f9f9f9,#fcfcfc,#fdfdfd,#fefefe,#fff,#fff,#fff,#fefefe,#fdfdfd,#fbfbfb,#f6f6f6,#ededed)"></i><i style="background:linear-gradient(90deg,#ececec,#ddd,#c8c8c8,#acacac,#8b8b8b,#686868,#484848,#313131,#252525,#262626,#343434,#4d4d4d,#6b6b6b,#8a8a8a,#a8a8a8,#c2c2c2,#d6d6d6,#e4e4e4,#efefef,#f6f6f6,#fafafa,#fcfcfc,#fefefe,#fefefe,#fff,#fff,#fefefe,#fefefe,#fcfcfc,#f9f9f9,#f3f3f3,#e9e9e9)"></i><i style="background:linear-gradient(90deg,#e7e7e7,#d6d6d6,#bfbfbf,#a1a1a1,#808080,#5e5e5e,#414141,#2c2c2c,#252525,#2a2a2a,#3c3c3c,#565656,#757575,#949494,#b1b1b1,#c8c8c8,#dbdbdb,#e8e8e8,#f1f1f1,#f7f7f7,#fbfbfb,#fdfdfd,#fefefe,#fefefe,#fff,#fff,#fefefe,#fdfdfd,#fbfbfb,#f7f7f7,#f0f0f0,#e4e4e4)"></i><i style="background:linear-gradient(90deg,#e2e2e2,#cfcfcf,#b5b5b5,#969696,#757575,#545454,#3a3a3a,#2a2a2a,#262626,#303030,#454545,#606060,#7f7f7f,#9e9e9e,#b8b8b8,#cecece,#dfdfdf,#ebebeb,#f3f3f3,#f8f8f8,#fbfbfb,#fdfdfd,#fefefe,#fefefe,#fff,#fefefe,#fefefe,#fdfdfd,#fafafa,#f5f5f5,#ececec,#dedede)"></i><i style="background:linear-gradient(90deg,#dbdbdb,#c6c6c6,#ababab,#8b8b8b,#6a6a6a,#4b4b4b,#343434,#282828,#292929,#373737,#4e4e4e,#6b6b6b,#8a8a8a,#a7a7a7,#c0c0c0,#d4d4d4,#e3e3e3,#eee,#f5f5f5,#f9f9f9,#fcfcfc,#fdfdfd,#fefefe,#fff,#fff,#fefefe,#fdfdfd,#fcfcfc,#f8f8f8,#f2f2f2,#e7e7e7,#d7d7d7)"></i><i style="background:linear-gradient(90deg,#d4d4d4,#bdbdbd,#a0a0a0,#808080,#5f5f5f,#434343,#303030,#292929,#2e2e2e,#3f3f3f,#585858,#767676,#949494,#b0b0b0,#c7c7c7,#dadada,#e7e7e7,#f0f0f0,#f7f7f7,#fafafa,#fcfcfc,#fefefe,#fefefe,#fff,#fefefe,#fefefe,#fdfdfd,#fafafa,#f6f6f6,#eee,#e1e1e1,#cfcfcf)"></i><i style="background:linear-gradient(90deg,#ccc,#b3b3b3,#959595,#747474,#555,#3c3c3c,#2d2d2d,#2a2a2a,#343434,#484848,#626262,#808080,#9e9e9e,#b8b8b8,#cecece,#dfdfdf,#ebebeb,#f3f3f3,#f8f8f8,#fbfbfb,#fdfdfd,#fefefe,#fefefe,#fefefe,#fefefe,#fdfdfd,#fcfcfc,#f9f9f9,#f3f3f3,#e9e9e9,#dbdbdb,#c6c6c6)"></i><i style="background:linear-gradient(90deg,#c3c3c3,#a8a8a8,#898989,#696969,#4c4c4c,#373737,#2c2c2c,#2e2e2e,#3b3b3b,#515151,#6d6d6d,#8b8b8b,#a7a7a7,#c0c0c0,#d4d4d4,#e3e3e3,#eee,#f5f5f5,#f9f9f9,#fcfcfc,#fdfdfd,#fefefe,#fefefe,#fefefe,#fefefe,#fdfdfd,#fbfbfb,#f7f7f7,#efefef,#e4e4e4,#d3d3d3,#bdbdbd)"></i><i style="background:linear-gradient(90deg,#b9b9b9,#9c9c9c,#7d7d7d,#5e5e5e,#444,#333,#2c2c2c,#323232,#434343,#5b5b5b,#787878,#969696,#b1b1b1,#c8c8c8,#dadada,#e7e7e7,#f0f0f0,#f6f6f6,#fafafa,#fcfcfc,#fefefe,#fefefe,#fefefe,#fefefe,#fefefe,#fcfcfc,#f9f9f9,#f4f4f4,#ebebeb,#dedede,#cbcbcb,#b2b2b2)"></i><i style="background:linear-gradient(90deg,#aeaeae,#919191,#727272,#545454,#3d3d3d,#303030,#2e2e2e,#383838,#4c4c4c,#666,#838383,#a0a0a0,#b9b9b9,#cfcfcf,#dfdfdf,#ebebeb,#f3f3f3,#f8f8f8,#fbfbfb,#fdfdfd,#fefefe,#fefefe,#fefefe,#fefefe,#fdfdfd,#fbfbfb,#f7f7f7,#f1f1f1,#e6e6e6,#d7d7d7,#c2c2c2,#a7a7a7)"></i><i style="background:linear-gradient(90deg,#a3a3a3,#858585,#666,#4c4c4c,#383838,#2f2f2f,#323232,#404040,#565656,#717171,#8e8e8e,#aaa,#c2c2c2,#d5d5d5,#e3e3e3,#eee,#f5f5f5,#f9f9f9,#fcfcfc,#fdfdfd,#fefefe,#fefefe,#fefefe,#fdfdfd,#fcfcfc,#f9f9f9,#f4f4f4,#ececec,#e0e0e0,#cfcfcf,#b7b7b7,#9c9c9c)"></i><i style="background:linear-gradient(90deg,#979797,#797979,#5c5c5c,#444,#353535,#303030,#373737,#494949,#616161,#7d7d7d,#999,#b3b3b3,#c9c9c9,#dbdbdb,#e8e8e8,#f1f1f1,#f7f7f7,#fafafa,#fcfcfc,#fefefe,#fefefe,#fefefe,#fefefe,#fdfdfd,#fbfbfb,#f7f7f7,#f1f1f1,#e8e8e8,#d9d9d9,#c5c5c5,#adadad,#909090)"></i><i style="background:linear-gradient(90deg,#8b8b8b,#6d6d6d,#525252,#3e3e3e,#333,#333,#3e3e3e,#525252,#6c6c6c,#888,#a4a4a4,#bcbcbc,#d0d0d0,#e0e0e0,#ebebeb,#f3f3f3,#f8f8f8,#fbfbfb,#fdfdfd,#fefefe,#fefefe,#fefefe,#fdfdfd,#fcfcfc,#f9f9f9,#f5f5f5,#ededed,#e2e2e2,#d1d1d1,#bbb,#a1a1a1,#848484)"></i><i style="background:linear-gradient(90deg,#7f7f7f,#626262,#4a4a4a,#393939,#333,#383838,#464646,#5d5d5d,#787878,#949494,#aeaeae,#c5c5c5,#d7d7d7,#e5e5e5,#efefef,#f5f5f5,#f9f9f9,#fcfcfc,#fdfdfd,#fefefe,#fefefe,#fefefe,#fdfdfd,#fbfbfb,#f7f7f7,#f2f2f2,#e8e8e8,#dbdbdb,#c8c8c8,#b1b1b1,#959595,#787878)"></i><i style="background:linear-gradient(90deg,#737373,#585858,#434343,#373737,#353535,#3e3e3e,#505050,#686868,#838383,#9f9f9f,#b7b7b7,#ccc,#ddd,#e9e9e9,#f1f1f1,#f7f7f7,#fafafa,#fcfcfc,#fefefe,#fefefe,#fefefe,#fdfdfd,#fcfcfc,#f9f9f9,#f5f5f5,#eee,#e3e3e3,#d3d3d3,#bebebe,#a5a5a5,#898989,#6c6c6c)"></i><i style="background:linear-gradient(90deg,#686868,#4f4f4f,#3e3e3e,#363636,#393939,#454545,#5a5a5a,#737373,#8f8f8f,#a9a9a9,#c0c0c0,#d3d3d3,#e2e2e2,#ededed,#f4f4f4,#f8f8f8,#fbfbfb,#fdfdfd,#fefefe,#fefefe,#fefefe,#fdfdfd,#fbfbfb,#f7f7f7,#f2f2f2,#e9e9e9,#dcdcdc,#cacaca,#b4b4b4,#999,#7d7d7d,#616161)"></i><i style="background:linear-gradient(90deg,#5d5d5d,#484848,#3a3a3a,#373737,#3e3e3e,#4e4e4e,#656565,#7f7f7f,#9a9a9a,#b3b3b3,#c9c9c9,#dadada,#e7e7e7,#f0f0f0,#f6f6f6,#fafafa,#fcfcfc,#fdfdfd,#fefefe,#fefefe,#fdfdfd,#fcfcfc,#f9f9f9,#f5f5f5,#eee,#e3e3e3,#d4d4d4,#c0c0c0,#a8a8a8,#8d8d8d,#717171,#575757)"></i><i style="background:linear-gradient(90deg,#545454,#424242,#393939,#3a3a3a,#454545,#585858,#707070,#8b8b8b,#a5a5a5,#bdbdbd,#d0d0d0,#e0e0e0,#ebebeb,#f2f2f2,#f8f8f8,#fbfbfb,#fdfdfd,#fefefe,#fefefe,#fefefe,#fdfdfd,#fbfbfb,#f7f7f7,#f2f2f2,#e9e9e9,#ddd,#cbcbcb,#b6b6b6,#9c9c9c,#818181,#666,#4f4f4f)"></i><i style="background:linear-gradient(90deg,#4c4c4c,#3e3e3e,#393939,#3f3f3f,#4e4e4e,#636363,#7c7c7c,#979797,#b0b0b0,#c6c6c6,#d7d7d7,#e5e5e5,#eee,#f5f5f5,#f9f9f9,#fcfcfc,#fdfdfd,#fefefe,#fefefe,#fdfdfd,#fcfcfc,#f9f9f9,#f5f5f5,#eee,#e3e3e3,#d5d5d5,#c2c2c2,#aaa,#909090,#757575,#5c5c5c,#484848)"></i><i style="background:linear-gradient(90deg,#464646,#3c3c3c,#3c3c3c,#464646,#575757,#6f6f6f,#888,#a2a2a2,#bababa,#cecece,#ddd,#e9e9e9,#f1f1f1,#f7f7f7,#fafafa,#fcfcfc,#fdfdfd,#fefefe,#fdfdfd,#fcfcfc,#fafafa,#f7f7f7,#f1f1f1,#e9e9e9,#ddd,#ccc,#b7b7b7,#9e9e9e,#848484,#696969,#535353,#424242)"></i><i style="background:linear-gradient(90deg,#414141,#3c3c3c,#404040,#4e4e4e,#626262,#7b7b7b,#949494,#adadad,#c3c3c3,#d5d5d5,#e3e3e3,#ededed,#f4f4f4,#f8f8f8,#fbfbfb,#fdfdfd,#fdfdfd,#fdfdfd,#fdfdfd,#fbfbfb,#f9f9f9,#f4f4f4,#ededed,#e3e3e3,#d5d5d5,#c2c2c2,#acacac,#929292,#787878,#5f5f5f,#4b4b4b,#3f3f3f)"></i><i style="background:linear-gradient(90deg,#3f3f3f,#3e3e3e,#474747,#575757,#6e6e6e,#878787,#a0a0a0,#b7b7b7,#cbcbcb,#dcdcdc,#e8e8e8,#f0f0f0,#f6f6f6,#fafafa,#fcfcfc,#fdfdfd,#fdfdfd,#fdfdfd,#fcfcfc,#fafafa,#f7f7f7,#f1f1f1,#e8e8e8,#dcdcdc,#ccc,#b7b7b7,#9f9f9f,#868686,#6c6c6c,#565656,#464646,#3e3e3e)"></i><i style="background:linear-gradient(90deg,#3f3f3f,#424242,#4f4f4f,#626262,#7a7a7a,#939393,#ababab,#c1c1c1,#d3d3d3,#e1e1e1,#ececec,#f3f3f3,#f8f8f8,#fbfbfb,#fcfcfc,#fdfdfd,#fdfdfd,#fdfdfd,#fbfbfb,#f8f8f8,#f4f4f4,#ededed,#e2e2e2,#d4d4d4,#c2c2c2,#acacac,#939393,#797979,#626262,#4e4e4e,#424242,#3f3f3f)"></i><i style="background:linear-gradient(90deg,#414141,#484848,#585858,#6e6e6e,#868686,#9f9f9f,#b6b6b6,#cacaca,#dadada,#e6e6e6,#efefef,#f5f5f5,#f9f9f9,#fcfcfc,#fdfdfd,#fdfdfd,#fdfdfd,#fcfcfc,#fafafa,#f6f6f6,#f0f0f0,#e7e7e7,#dbdbdb,#cbcbcb,#b7b7b7,#a0a0a0,#878787,#6e6e6e,#585858,#494949,#414141,#424242)"></i><i style="background:linear-gradient(90deg,#454545,#505050,#636363,#7a7a7a,#929292,#aaa,#c0c0c0,#d2d2d2,#e0e0e0,#ebebeb,#f2f2f2,#f7f7f7,#fafafa,#fcfcfc,#fdfdfd,#fdfdfd,#fcfcfc,#fbfbfb,#f8f8f8,#f3f3f3,#ececec,#e1e1e1,#d3d3d3,#c1c1c1,#acacac,#939393,#7b7b7b,#636363,#515151,#454545,#414141,#474747)"></i><i style="background:linear-gradient(90deg,#4b4b4b,#5a5a5a,#6e6e6e,#868686,#9e9e9e,#b5b5b5,#c9c9c9,#d9d9d9,#e6e6e6,#efefef,#f5f5f5,#f9f9f9,#fbfbfb,#fdfdfd,#fdfdfd,#fdfdfd,#fbfbfb,#f9f9f9,#f5f5f5,#efefef,#e6e6e6,#dadada,#cacaca,#b6b6b6,#9f9f9f,#878787,#6f6f6f,#5a5a5a,#4b4b4b,#434343,#444,#4e4e4e)"></i><i style="background:linear-gradient(90deg,#525252,#646464,#7a7a7a,#929292,#aaa,#bfbfbf,#d1d1d1,#e0e0e0,#eaeaea,#f2f2f2,#f7f7f7,#fafafa,#fcfcfc,#fdfdfd,#fdfdfd,#fcfcfc,#fafafa,#f7f7f7,#f2f2f2,#eaeaea,#e0e0e0,#d2d2d2,#c0c0c0,#ababab,#939393,#7b7b7b,#656565,#535353,#474747,#444,#494949,#565656)"></i><i style="background:linear-gradient(90deg,#5c5c5c,#707070,#878787,#9f9f9f,#b5b5b5,#c9c9c9,#d9d9d9,#e5e5e5,#eee,#f4f4f4,#f9f9f9,#fbfbfb,#fcfcfc,#fdfdfd,#fcfcfc,#fbfbfb,#f8f8f8,#f4f4f4,#eee,#e5e5e5,#d8d8d8,#c8c8c8,#b5b5b5,#9e9e9e,#878787,#6f6f6f,#5b5b5b,#4d4d4d,#464646,#474747,#505050,#606060)"></i><i style="background:linear-gradient(90deg,#666,#7c7c7c,#939393,#aaa,#bfbfbf,#d1d1d1,#dfdfdf,#eaeaea,#f1f1f1,#f7f7f7,#fafafa,#fcfcfc,#fdfdfd,#fcfcfc,#fbfbfb,#f9f9f9,#f6f6f6,#f1f1f1,#e9e9e9,#dedede,#d0d0d0,#bebebe,#a9a9a9,#929292,#7b7b7b,#656565,#545454,#494949,#464646,#4c4c4c,#595959,#6b6b6b)"></i><i style="background:linear-gradient(90deg,#727272,#888,#a0a0a0,#b5b5b5,#c9c9c9,#d9d9d9,#e5e5e5,#eee,#f4f4f4,#f8f8f8,#fbfbfb,#fcfcfc,#fcfcfc,#fcfcfc,#fafafa,#f8f8f8,#f3f3f3,#ececec,#e3e3e3,#d6d6d6,#c6c6c6,#b3b3b3,#9d9d9d,#868686,#6f6f6f,#5c5c5c,#4f4f4f,#484848,#494949,#535353,#636363,#777)"></i><i style="background:linear-gradient(90deg,#7e7e7e,#959595,#ababab,#c0c0c0,#d1d1d1,#dfdfdf,#eaeaea,#f1f1f1,#f6f6f6,#fafafa,#fcfcfc,#fcfcfc,#fcfcfc,#fbfbfb,#f9f9f9,#f5f5f5,#efefef,#e7e7e7,#dcdcdc,#cdcdcd,#bbb,#a7a7a7,#909090,#7a7a7a,#656565,#555,#4b4b4b,#494949,#4f4f4f,#5b5b5b,#6e6e6e,#848484)"></i><i style="background:linear-gradient(90deg,#8b8b8b,#a1a1a1,#b7b7b7,#c9c9c9,#d9d9d9,#e5e5e5,#eee,#f4f4f4,#f8f8f8,#fbfbfb,#fcfcfc,#fcfcfc,#fbfbfb,#fafafa,#f6f6f6,#f2f2f2,#ebebeb,#e1e1e1,#d4d4d4,#c3c3c3,#b0b0b0,#9a9a9a,#848484,#6f6f6f,#5d5d5d,#505050,#4a4a4a,#4c4c4c,#565656,#666,#7a7a7a,#909090)"></i><i style="background:linear-gradient(90deg,#979797,#adadad,#c1c1c1,#d2d2d2,#e0e0e0,#eaeaea,#f1f1f1,#f6f6f6,#fafafa,#fbfbfb,#fcfcfc,#fcfcfc,#fafafa,#f8f8f8,#f4f4f4,#eee,#e5e5e5,#d9d9d9,#cacaca,#b8b8b8,#a4a4a4,#8e8e8e,#787878,#656565,#565656,#4d4d4d,#4c4c4c,#525252,#5f5f5f,#717171,#868686,#9d9d9d)"></i><i style="background:linear-gradient(90deg,#a3a3a3,#b8b8b8,#cacaca,#dadada,#e5e5e5,#eee,#f4f4f4,#f8f8f8,#fbfbfb,#fcfcfc,#fcfcfc,#fbfbfb,#f9f9f9,#f5f5f5,#f0f0f0,#e8e8e8,#dedede,#d1d1d1,#c0c0c0,#adadad,#979797,#828282,#6d6d6d,#5d5d5d,#515151,#4d4d4d,#4f4f4f,#595959,#696969,#7d7d7d,#939393,#a9a9a9)"></i><i style="background:linear-gradient(90deg,#afafaf,#c3c3c3,#d3d3d3,#e0e0e0,#eaeaea,#f2f2f2,#f6f6f6,#fafafa,#fbfbfb,#fcfcfc,#fbfbfb,#fafafa,#f7f7f7,#f2f2f2,#ebebeb,#e2e2e2,#d6d6d6,#c7c7c7,#b5b5b5,#a1a1a1,#8b8b8b,#767676,#646464,#565656,#4f4f4f,#4f4f4f,#555,#636363,#757575,#8a8a8a,#9f9f9f,#b4b4b4)"></i><i style="background:linear-gradient(90deg,#bababa,#ccc,#dbdbdb,#e6e6e6,#eee,#f4f4f4,#f8f8f8,#fafafa,#fbfbfb,#fbfbfb,#fafafa,#f8f8f8,#f4f4f4,#eee,#e6e6e6,#dbdbdb,#cdcdcd,#bcbcbc,#a9a9a9,#949494,#7f7f7f,#6c6c6c,#5c5c5c,#525252,#4f4f4f,#535353,#5d5d5d,#6d6d6d,#818181,#969696,#ababab,#bfbfbf)"></i><i style="background:linear-gradient(90deg,#c5c5c5,#d5d5d5,#e1e1e1,#ebebeb,#f2f2f2,#f7f7f7,#f9f9f9,#fbfbfb,#fbfbfb,#fafafa,#f9f9f9,#f5f5f5,#f0f0f0,#e9e9e9,#dfdfdf,#d3d3d3,#c3c3c3,#b1b1b1,#9d9d9d,#888,#747474,#636363,#575757,#515151,#525252,#595959,#676767,#797979,#8d8d8d,#a3a3a3,#b7b7b7,#c9c9c9)"></i><i style="background:linear-gradient(90deg,#cecece,#dcdcdc,#e7e7e7,#efefef,#f5f5f5,#f8f8f8,#fafafa,#fbfbfb,#fbfbfb,#f9f9f9,#f6f6f6,#f2f2f2,#ececec,#e3e3e3,#d8d8d8,#c9c9c9,#b8b8b8,#a5a5a5,#909090,#7c7c7c,#6a6a6a,#5c5c5c,#545454,#525252,#565656,#616161,#727272,#858585,#9a9a9a,#afafaf,#c2c2c2,#d2d2d2)"></i><i style="background:linear-gradient(90deg,#d6d6d6,#e3e3e3,#ececec,#f2f2f2,#f7f7f7,#f9f9f9,#fbfbfb,#fbfbfb,#fafafa,#f7f7f7,#f4f4f4,#eee,#e6e6e6,#dcdcdc,#cfcfcf,#bfbfbf,#acacac,#989898,#848484,#727272,#626262,#575757,#535353,#555,#5d5d5d,#6b6b6b,#7e7e7e,#929292,#a7a7a7,#bababa,#cbcbcb,#dadada)"></i><i style="background:linear-gradient(90deg,#dedede,#e8e8e8,#f0f0f0,#f5f5f5,#f8f8f8,#fafafa,#fbfbfb,#fafafa,#f8f8f8,#f5f5f5,#f0f0f0,#e9e9e9,#e0e0e0,#d4d4d4,#c5c5c5,#b3b3b3,#a0a0a0,#8c8c8c,#797979,#686868,#5c5c5c,#555,#545454,#5a5a5a,#666,#777,#8a8a8a,#9e9e9e,#b2b2b2,#c5c5c5,#d4d4d4,#e1e1e1)"></i><i style="background:linear-gradient(90deg,#e4e4e4,#ededed,#f3f3f3,#f7f7f7,#f9f9f9,#fafafa,#fafafa,#f9f9f9,#f6f6f6,#f2f2f2,#ebebeb,#e3e3e3,#d8d8d8,#cacaca,#bababa,#a7a7a7,#949494,#818181,#6f6f6f,#616161,#585858,#555,#585858,#626262,#717171,#838383,#979797,#ababab,#bebebe,#cecece,#dcdcdc,#e6e6e6)"></i><i style="background:linear-gradient(90deg,#e9e9e9,#f1f1f1,#f5f5f5,#f8f8f8,#fafafa,#fafafa,#f9f9f9,#f7f7f7,#f3f3f3,#eee,#e6e6e6,#dcdcdc,#cfcfcf,#c0c0c0,#aeaeae,#9b9b9b,#888,#767676,#676767,#5c5c5c,#565656,#575757,#5f5f5f,#6b6b6b,#7c7c7c,#8f8f8f,#a3a3a3,#b6b6b6,#c8c8c8,#d7d7d7,#e2e2e2,#ebebeb)"></i><i style="background:linear-gradient(90deg,#eee,#f4f4f4,#f7f7f7,#f9f9f9,#fafafa,#f9f9f9,#f8f8f8,#f4f4f4,#efefef,#e8e8e8,#dfdfdf,#d3d3d3,#c5c5c5,#b4b4b4,#a2a2a2,#8f8f8f,#7d7d7d,#6c6c6c,#606060,#595959,#585858,#5c5c5c,#676767,#767676,#888,#9c9c9c,#afafaf,#c1c1c1,#d1d1d1,#dedede,#e8e8e8,#efefef)"></i><i style="background:linear-gradient(90deg,#f1f1f1,#f6f6f6,#f8f8f8,#fafafa,#f9f9f9,#f8f8f8,#f5f5f5,#f1f1f1,#ebebeb,#e2e2e2,#d7d7d7,#cacaca,#bababa,#a9a9a9,#969696,#838383,#727272,#656565,#5c5c5c,#585858,#5b5b5b,#646464,#717171,#828282,#959595,#a8a8a8,#bbb,#cbcbcb,#d9d9d9,#e4e4e4,#ededed,#f3f3f3)"></i><i style="background:linear-gradient(90deg,#f4f4f4,#f7f7f7,#f9f9f9,#f9f9f9,#f8f8f8,#f6f6f6,#f2f2f2,#ededed,#e5e5e5,#dbdbdb,#cecece,#c0c0c0,#afafaf,#9c9c9c,#8a8a8a,#797979,#6a6a6a,#5f5f5f,#5a5a5a,#5b5b5b,#616161,#6c6c6c,#7c7c7c,#8e8e8e,#a2a2a2,#b4b4b4,#c5c5c5,#d4d4d4,#e0e0e0,#eaeaea,#f0f0f0,#f5f5f5)"></i><i style="background:linear-gradient(90deg,#f6f6f6,#f8f8f8,#f9f9f9,#f9f9f9,#f7f7f7,#f3f3f3,#eee,#e7e7e7,#dedede,#d2d2d2,#c4c4c4,#b4b4b4,#a3a3a3,#909090,#7f7f7f,#6f6f6f,#636363,#5c5c5c,#5b5b5b,#5f5f5f,#696969,#777,#888,#9b9b9b,#aeaeae,#bfbfbf,#cfcfcf,#dcdcdc,#e6e6e6,#eee,#f3f3f3,#f7f7f7)"></i><i style="background:linear-gradient(90deg,#f8f8f8,#f9f9f9,#f9f9f9,#f7f7f7,#f4f4f4,#f0f0f0,#e9e9e9,#e1e1e1,#d6d6d6,#c9c9c9,#bababa,#a8a8a8,#969696,#858585,#757575,#686868,#5f5f5f,#5c5c5c,#5e5e5e,#666,#737373,#838383,#959595,#a8a8a8,#b9b9b9,#cacaca,#d8d8d8,#e3e3e3,#ebebeb,#f2f2f2,#f6f6f6,#f8f8f8)"></i><i style="background:linear-gradient(90deg,#f8f8f8,#f9f9f9,#f8f8f8,#f5f5f5,#f1f1f1,#ebebeb,#e3e3e3,#d9d9d9,#cdcdcd,#bebebe,#aeaeae,#9c9c9c,#8b8b8b,#7a7a7a,#6c6c6c,#626262,#5d5d5d,#5e5e5e,#646464,#6f6f6f,#7e7e7e,#8f8f8f,#a1a1a1,#b4b4b4,#c4c4c4,#d3d3d3,#dfdfdf,#e8e8e8,#efefef,#f4f4f4,#f7f7f7,#f9f9f9)"></i><i style="background:linear-gradient(90deg,#f8f8f8,#f8f8f8,#f6f6f6,#f2f2f2,#ededed,#e6e6e6,#dcdcdc,#d1d1d1,#c3c3c3,#b3b3b3,#a2a2a2,#909090,#808080,#717171,#666,#5f5f5f,#5e5e5e,#626262,#6c6c6c,#797979,#8a8a8a,#9c9c9c,#aeaeae,#bfbfbf,#cecece,#dbdbdb,#e5e5e5,#ededed,#f3f3f3,#f6f6f6,#f8f8f8,#f8f8f8)"></i><i style="background:linear-gradient(90deg,#f8f8f8,#f6f6f6,#f3f3f3,#eee,#e8e8e8,#dfdfdf,#d4d4d4,#c7c7c7,#b8b8b8,#a7a7a7,#969696,#858585,#767676,#6a6a6a,#626262,#5f5f5f,#626262,#696969,#757575,#858585,#969696,#a8a8a8,#b9b9b9,#c9c9c9,#d7d7d7,#e2e2e2,#eaeaea,#f1f1f1,#f5f5f5,#f7f7f7,#f8f8f8,#f7f7f7)"></i><i style="background:linear-gradient(90deg,#f6f6f6,#f4f4f4,#efefef,#e9e9e9,#e1e1e1,#d7d7d7,#cbcbcb,#bcbcbc,#acacac,#9b9b9b,#8a8a8a,#7b7b7b,#6e6e6e,#656565,#606060,#616161,#676767,#727272,#808080,#919191,#a3a3a3,#b4b4b4,#c4c4c4,#d3d3d3,#dedede,#e8e8e8,#efefef,#f3f3f3,#f6f6f6,#f8f8f8,#f8f8f8,#f6f6f6)"></i><i style="background:linear-gradient(90deg,#f4f4f4,#f0f0f0,#ebebeb,#e3e3e3,#dadada,#cecece,#c0c0c0,#b1b1b1,#a0a0a0,#8f8f8f,#808080,#727272,#686868,#626262,#626262,#666,#6f6f6f,#7c7c7c,#8c8c8c,#9d9d9d,#afafaf,#bfbfbf,#cecece,#dbdbdb,#e5e5e5,#ececec,#f2f2f2,#f5f5f5,#f7f7f7,#f7f7f7,#f6f6f6,#f3f3f3)"></i><i style="background:linear-gradient(90deg,#f1f1f1,#ececec,#e5e5e5,#dcdcdc,#d1d1d1,#c4c4c4,#b5b5b5,#a5a5a5,#949494,#848484,#767676,#6b6b6b,#646464,#626262,#656565,#6d6d6d,#797979,#888,#989898,#aaa,#bbb,#cacaca,#d7d7d7,#e2e2e2,#eaeaea,#f0f0f0,#f4f4f4,#f7f7f7,#f7f7f7,#f6f6f6,#f4f4f4,#f0f0f0)"></i><i style="background:linear-gradient(90deg,#ededed,#e7e7e7,#dedede,#d4d4d4,#c7c7c7,#b9b9b9,#a9a9a9,#999,#898989,#7b7b7b,#6f6f6f,#676767,#636363,#656565,#6b6b6b,#767676,#848484,#949494,#a5a5a5,#b6b6b6,#c5c5c5,#d3d3d3,#dfdfdf,#e8e8e8,#eee,#f3f3f3,#f6f6f6,#f7f7f7,#f6f6f6,#f4f4f4,#f1f1f1,#ececec)"></i><i style="background:linear-gradient(90deg,#e8e8e8,#e0e0e0,#d6d6d6,#cacaca,#bdbdbd,#adadad,#9d9d9d,#8e8e8e,#7f7f7f,#737373,#6a6a6a,#656565,#656565,#6a6a6a,#737373,#808080,#909090,#a0a0a0,#b1b1b1,#c1c1c1,#cfcfcf,#dbdbdb,#e5e5e5,#ececec,#f2f2f2,#f5f5f5,#f6f6f6,#f6f6f6,#f5f5f5,#f2f2f2,#ededed,#e7e7e7)"></i><i style="background:linear-gradient(90deg,#e2e2e2,#d9d9d9,#cdcdcd,#c0c0c0,#b1b1b1,#a2a2a2,#929292,#838383,#767676,#6c6c6c,#676767,#666,#696969,#717171,#7d7d7d,#8c8c8c,#9c9c9c,#adadad,#bdbdbd,#cbcbcb,#d8d8d8,#e2e2e2,#eaeaea,#f0f0f0,#f4f4f4,#f6f6f6,#f6f6f6,#f5f5f5,#f2f2f2,#eee,#e8e8e8,#e0e0e0)"></i><i style="background:linear-gradient(90deg,#dbdbdb,#d0d0d0,#c3c3c3,#b5b5b5,#a6a6a6,#969696,#878787,#7a7a7a,#6f6f6f,#696969,#666,#696969,#707070,#7a7a7a,#888,#989898,#a8a8a8,#b9b9b9,#c7c7c7,#d5d5d5,#dfdfdf,#e8e8e8,#eee,#f3f3f3,#f5f5f5,#f6f6f6,#f5f5f5,#f3f3f3,#efefef,#e9e9e9,#e2e2e2,#d8d8d8)"></i><i style="background:linear-gradient(90deg,#d2d2d2,#c6c6c6,#b8b8b8,#a9a9a9,#9a9a9a,#8b8b8b,#7d7d7d,#727272,#6b6b6b,#686868,#696969,#6e6e6e,#787878,#858585,#949494,#a4a4a4,#b4b4b4,#c4c4c4,#d1d1d1,#ddd,#e6e6e6,#ededed,#f1f1f1,#f4f4f4,#f5f5f5,#f5f5f5,#f3f3f3,#efefef,#eaeaea,#e3e3e3,#dadada,#cfcfcf)"></i><i style="background:linear-gradient(90deg,#c9c9c9,#bbb,#adadad,#9e9e9e,#8f8f8f,#818181,#767676,#6d6d6d,#696969,#696969,#6e6e6e,#767676,#828282,#919191,#a0a0a0,#b1b1b1,#c0c0c0,#cecece,#dadada,#e3e3e3,#ebebeb,#f0f0f0,#f3f3f3,#f5f5f5,#f5f5f5,#f3f3f3,#f0f0f0,#ebebeb,#e5e5e5,#dcdcdc,#d2d2d2,#c6c6c6)"></i><i style="background:linear-gradient(90deg,#bebebe,#b0b0b0,#a1a1a1,#929292,#848484,#797979,#707070,#6b6b6b,#6a6a6a,#6d6d6d,#757575,#808080,#8e8e8e,#9d9d9d,#adadad,#bcbcbc,#cacaca,#d7d7d7,#e1e1e1,#e9e9e9,#efefef,#f3f3f3,#f5f5f5,#f5f5f5,#f3f3f3,#f1f1f1,#ececec,#e6e6e6,#dedede,#d4d4d4,#c8c8c8,#bbb)"></i><i style="background:linear-gradient(90deg,#b3b3b3,#a4a4a4,#969696,#888,#7c7c7c,#727272,#6c6c6c,#6a6a6a,#6d6d6d,#737373,#7e7e7e,#8b8b8b,#9a9a9a,#a9a9a9,#b9b9b9,#c7c7c7,#d4d4d4,#dedede,#e7e7e7,#ededed,#f2f2f2,#f4f4f4,#f5f5f5,#f4f4f4,#f1f1f1,#ededed,#e7e7e7,#dfdfdf,#d6d6d6,#cacaca,#bdbdbd,#afafaf)"></i><i style="background:linear-gradient(90deg,#a7a7a7,#999,#8b8b8b,#7f7f7f,#757575,#6e6e6e,#6b6b6b,#6d6d6d,#727272,#7c7c7c,#888,#969696,#a6a6a6,#b5b5b5,#c4c4c4,#d1d1d1,#dcdcdc,#e5e5e5,#ececec,#f1f1f1,#f3f3f3,#f4f4f4,#f4f4f4,#f1f1f1,#ededed,#e8e8e8,#e0e0e0,#d7d7d7,#ccc,#c0c0c0,#b2b2b2,#a4a4a4)"></i><i style="background:linear-gradient(90deg,#9c9c9c,#8e8e8e,#818181,#777,#707070,#6d6d6d,#6d6d6d,#727272,#7a7a7a,#868686,#949494,#a3a3a3,#b2b2b2,#c1c1c1,#cecece,#d9d9d9,#e3e3e3,#eaeaea,#efefef,#f3f3f3,#f4f4f4,#f4f4f4,#f2f2f2,#eee,#e8e8e8,#e1e1e1,#d9d9d9,#cecece,#c2c2c2,#b5b5b5,#a7a7a7,#989898)"></i><i style="background:linear-gradient(90deg,#919191,#848484,#7a7a7a,#727272,#6e6e6e,#6e6e6e,#717171,#797979,#848484,#919191,#a0a0a0,#afafaf,#bebebe,#cbcbcb,#d7d7d7,#e1e1e1,#e9e9e9,#eee,#f2f2f2,#f4f4f4,#f4f4f4,#f2f2f2,#efefef,#e9e9e9,#e2e2e2,#dadada,#d0d0d0,#c4c4c4,#b7b7b7,#a9a9a9,#9b9b9b,#8e8e8e)"></i><i style="background:linear-gradient(90deg,#878787,#7c7c7c,#747474,#6f6f6f,#6e6e6e,#717171,#787878,#828282,#8f8f8f,#9d9d9d,#acacac,#bbb,#c8c8c8,#d4d4d4,#dfdfdf,#e7e7e7,#ededed,#f1f1f1,#f4f4f4,#f4f4f4,#f2f2f2,#efefef,#eaeaea,#e3e3e3,#dbdbdb,#d1d1d1,#c6c6c6,#b9b9b9,#ababab,#9e9e9e,#909090,#848484)"></i><i style="background:linear-gradient(90deg,#7e7e7e,#767676,#717171,#6f6f6f,#717171,#777,#818181,#8d8d8d,#9b9b9b,#a9a9a9,#b8b8b8,#c6c6c6,#d2d2d2,#ddd,#e5e5e5,#ececec,#f1f1f1,#f3f3f3,#f4f4f4,#f3f3f3,#f0f0f0,#ebebeb,#e4e4e4,#dcdcdc,#d2d2d2,#c7c7c7,#bbb,#adadad,#a0a0a0,#929292,#868686,#7c7c7c)"></i><i style="background:linear-gradient(90deg,#787878,#727272,#707070,#717171,#777,#7f7f7f,#8b8b8b,#989898,#a7a7a7,#b5b5b5,#c3c3c3,#d0d0d0,#dbdbdb,#e4e4e4,#ebebeb,#f0f0f0,#f3f3f3,#f4f4f4,#f3f3f3,#f1f1f1,#ececec,#e6e6e6,#ddd,#d4d4d4,#c9c9c9,#bcbcbc,#afafaf,#a2a2a2,#949494,#888,#7e7e7e,#767676)"></i><i style="background:linear-gradient(90deg,#737373,#717171,#727272,#767676,#7e7e7e,#898989,#969696,#a4a4a4,#b3b3b3,#c1c1c1,#cdcdcd,#d9d9d9,#e2e2e2,#e9e9e9,#efefef,#f3f3f3,#f4f4f4,#f4f4f4,#f2f2f2,#ededed,#e7e7e7,#dfdfdf,#d5d5d5,#cacaca,#bebebe,#b0b0b0,#a3a3a3,#969696,#8a8a8a,#808080,#777,#727272)"></i><i style="background:linear-gradient(90deg,#717171,#727272,#767676,#7e7e7e,#888,#949494,#a2a2a2,#b0b0b0,#bebebe,#cbcbcb,#d7d7d7,#e0e0e0,#e8e8e8,#eee,#f2f2f2,#f4f4f4,#f4f4f4,#f3f3f3,#efefef,#e9e9e9,#e1e1e1,#d7d7d7,#cbcbcb,#bfbfbf,#b2b2b2,#a4a4a4,#979797,#8b8b8b,#818181,#797979,#737373,#717171)"></i><i style="background:linear-gradient(90deg,#727272,#767676,#7d7d7d,#878787,#939393,#a0a0a0,#aeaeae,#bcbcbc,#c9c9c9,#d5d5d5,#dfdfdf,#e7e7e7,#ededed,#f2f2f2,#f4f4f4,#f5f5f5,#f4f4f4,#f0f0f0,#eaeaea,#e3e3e3,#d9d9d9,#cdcdcd,#c0c0c0,#b3b3b3,#a5a5a5,#989898,#8c8c8c,#828282,#7a7a7a,#747474,#727272,#737373)"></i><i style="background:linear-gradient(90deg,#767676,#7c7c7c,#858585,#919191,#9e9e9e,#acacac,#bababa,#c7c7c7,#d3d3d3,#ddd,#e5e5e5,#ececec,#f1f1f1,#f4f4f4,#f5f5f5,#f5f5f5,#f2f2f2,#ededed,#e5e5e5,#dbdbdb,#cfcfcf,#c2c2c2,#b4b4b4,#a6a6a6,#999,#8d8d8d,#828282,#7a7a7a,#747474,#727272,#737373,#777)"></i><i style="background:linear-gradient(90deg,#7b7b7b,#848484,#909090,#9c9c9c,#aaa,#b8b8b8,#c5c5c5,#d1d1d1,#dbdbdb,#e4e4e4,#ebebeb,#f0f0f0,#f4f4f4,#f6f6f6,#f6f6f6,#f3f3f3,#efefef,#e8e8e8,#dedede,#d2d2d2,#c5c5c5,#b6b6b6,#a7a7a7,#999,#8c8c8c,#828282,#7a7a7a,#747474,#727272,#727272,#767676,#7d7d7d)"></i><i style="background:linear-gradient(90deg,#838383,#8e8e8e,#9b9b9b,#a8a8a8,#b6b6b6,#c3c3c3,#cfcfcf,#dadada,#e3e3e3,#eaeaea,#f0f0f0,#f4f4f4,#f6f6f6,#f7f7f7,#f5f5f5,#f1f1f1,#ebebeb,#e2e2e2,#d6d6d6,#c8c8c8,#b8b8b8,#a9a9a9,#9a9a9a,#8c8c8c,#818181,#787878,#737373,#717171,#717171,#757575,#7c7c7c,#868686)"></i><i style="background:linear-gradient(90deg,#8d8d8d,#999,#a7a7a7,#b4b4b4,#c1c1c1,#cdcdcd,#d8d8d8,#e1e1e1,#e9e9e9,#efefef,#f3f3f3,#f6f6f6,#f7f7f7,#f7f7f7,#f4f4f4,#eee,#e6e6e6,#dadada,#ccc,#bcbcbc,#ababab,#9b9b9b,#8c8c8c,#808080,#777,#717171,#6f6f6f,#707070,#747474,#7b7b7b,#848484,#909090)"></i><i style="background:linear-gradient(90deg,#979797,#a5a5a5,#b2b2b2,#bfbfbf,#ccc,#d7d7d7,#e0e0e0,#e8e8e8,#eee,#f3f3f3,#f6f6f6,#f8f8f8,#f8f8f8,#f6f6f6,#f1f1f1,#eaeaea,#dfdfdf,#d1d1d1,#c1c1c1,#afafaf,#9d9d9d,#8d8d8d,#7f7f7f,#757575,#6e6e6e,#6c6c6c,#6d6d6d,#717171,#797979,#828282,#8e8e8e,#9b9b9b)"></i><i style="background:linear-gradient(90deg,#a3a3a3,#b0b0b0,#bebebe,#cacaca,#d5d5d5,#dfdfdf,#e7e7e7,#ededed,#f2f2f2,#f6f6f6,#f8f8f8,#f9f9f9,#f8f8f8,#f4f4f4,#eee,#e5e5e5,#d8d8d8,#c7c7c7,#b5b5b5,#a1a1a1,#8f8f8f,#7f7f7f,#737373,#6b6b6b,#686868,#696969,#6e6e6e,#757575,#7f7f7f,#8b8b8b,#999,#a6a6a6)"></i><i style="background:linear-gradient(90deg,#aeaeae,#bcbcbc,#c8c8c8,#d4d4d4,#dedede,#e6e6e6,#ececec,#f2f2f2,#f5f5f5,#f8f8f8,#f9f9f9,#f9f9f9,#f7f7f7,#f2f2f2,#eaeaea,#dfdfdf,#cfcfcf,#bcbcbc,#a8a8a8,#939393,#808080,#727272,#686868,#636363,#636363,#686868,#717171,#7b7b7b,#888,#969696,#a4a4a4,#b2b2b2)"></i><i style="background:linear-gradient(90deg,#bababa,#c7c7c7,#d2d2d2,#dcdcdc,#e5e5e5,#ececec,#f1f1f1,#f5f5f5,#f8f8f8,#fafafa,#fafafa,#f9f9f9,#f5f5f5,#efefef,#e5e5e5,#d8d8d8,#c6c6c6,#b1b1b1,#9a9a9a,#858585,#727272,#656565,#5e5e5e,#5d5d5d,#616161,#6a6a6a,#767676,#838383,#929292,#a1a1a1,#afafaf,#bdbdbd)"></i><i style="background:linear-gradient(90deg,#c4c4c4,#d0d0d0,#dbdbdb,#e3e3e3,#ebebeb,#f0f0f0,#f5f5f5,#f8f8f8,#fafafa,#fbfbfb,#fafafa,#f8f8f8,#f4f4f4,#ececec,#e0e0e0,#d0d0d0,#bbb,#a4a4a4,#8c8c8c,#777,#656565,#5a5a5a,#565656,#595959,#616161,#6d6d6d,#7c7c7c,#8c8c8c,#9c9c9c,#acacac,#bababa,#c7c7c7)"></i><i style="background:linear-gradient(90deg,#cecece,#d9d9d9,#e2e2e2,#eaeaea,#efefef,#f4f4f4,#f7f7f7,#fafafa,#fbfbfb,#fbfbfb,#fafafa,#f7f7f7,#f2f2f2,#e8e8e8,#dadada,#c8c8c8,#b1b1b1,#989898,#7f7f7f,#696969,#595959,#515151,#515151,#575757,#636363,#737373,#848484,#969696,#a7a7a7,#b6b6b6,#c4c4c4,#d1d1d1)"></i><i style="background:linear-gradient(90deg,#d6d6d6,#e0e0e0,#e8e8e8,#eee,#f3f3f3,#f7f7f7,#f9f9f9,#fbfbfb,#fcfcfc,#fcfcfc,#fafafa,#f6f6f6,#efefef,#e4e4e4,#d4d4d4,#bfbfbf,#a6a6a6,#8c8c8c,#727272,#5d5d5d,#4f4f4f,#4a4a4a,#4d4d4d,#575757,#666,#797979,#8c8c8c,#9f9f9f,#b0b0b0,#c0c0c0,#cecece,#d9d9d9)"></i><i style="background:linear-gradient(90deg,#ddd,#e6e6e6,#ededed,#f2f2f2,#f6f6f6,#f9f9f9,#fbfbfb,#fcfcfc,#fcfcfc,#fcfcfc,#f9f9f9,#f5f5f5,#ededed,#e0e0e0,#cecece,#b7b7b7,#9d9d9d,#818181,#676767,#525252,#464646,#444,#4a4a4a,#585858,#6a6a6a,#7f7f7f,#949494,#a8a8a8,#b9b9b9,#c9c9c9,#d5d5d5,#e0e0e0)"></i><i style="background:linear-gradient(90deg,#e3e3e3,#ebebeb,#f1f1f1,#f5f5f5,#f8f8f8,#fbfbfb,#fcfcfc,#fdfdfd,#fdfdfd,#fcfcfc,#f9f9f9,#f3f3f3,#eaeaea,#dcdcdc,#c9c9c9,#b0b0b0,#949494,#777,#5d5d5d,#4a4a4a,#404040,#404040,#494949,#5a5a5a,#6f6f6f,#858585,#9b9b9b,#afafaf,#c1c1c1,#d0d0d0,#dcdcdc,#e5e5e5)"></i><i style="background:linear-gradient(90deg,#e7e7e7,#eee,#f3f3f3,#f7f7f7,#fafafa,#fcfcfc,#fdfdfd,#fdfdfd,#fdfdfd,#fbfbfb,#f8f8f8,#f2f2f2,#e8e8e8,#d9d9d9,#c4c4c4,#aaa,#8d8d8d,#6f6f6f,#555,#434343,#3b3b3b,#3e3e3e,#494949,#5c5c5c,#737373,#8b8b8b,#a1a1a1,#b6b6b6,#c7c7c7,#d5d5d5,#e0e0e0,#e9e9e9)"></i><i style="background:linear-gradient(90deg,#e9e9e9,#f0f0f0,#f5f5f5,#f8f8f8,#fbfbfb,#fcfcfc,#fdfdfd,#fdfdfd,#fdfdfd,#fbfbfb,#f8f8f8,#f1f1f1,#e7e7e7,#d7d7d7,#c1c1c1,#a6a6a6,#888,#6a6a6a,#515151,#3f3f3f,#383838,#3c3c3c,#4a4a4a,#5e5e5e,#767676,#8e8e8e,#a5a5a5,#b9b9b9,#cacaca,#d8d8d8,#e3e3e3,#ebebeb)"></i><i style="background:linear-gradient(90deg,#e9e9e9,#f0f0f0,#f5f5f5,#f8f8f8,#fbfbfb,#fcfcfc,#fdfdfd,#fdfdfd,#fdfdfd,#fbfbfb,#f8f8f8,#f1f1f1,#e7e7e7,#d7d7d7,#c1c1c1,#a6a6a6,#888,#6a6a6a,#515151,#3f3f3f,#383838,#3c3c3c,#4a4a4a,#5e5e5e,#767676,#8e8e8e,#a5a5a5,#b9b9b9,#cacaca,#d8d8d8,#e3e3e3,#ebebeb)"></i></div>
<div class="hm" style="left:373px;top:493px;width:126px;height:126px"><i style="background:linear-gradient(90deg,#fff,#fff,#fff,#fff,#fefefe,#fbfbfb,#f2f2f2,#e1e1e1,#c7c7c7,#a5a5a5,#7c7c7c,#525252,#2d2d2d,#111,#040404,#060606,#161616,#303030,#515151,#737373,#949494,#b1b1b1,#c8c8c8,#dadada,#e7e7e7,#f0f0f0,#f6f6f6,#fafafa,#fcfcfc,#fdfdfd,#fefefe,#fff)"></i><i style="background:linear-gradient(90deg,#fff,#fff,#fff,#fff,#fefefe,#fbfbfb,#f2f2f2,#e1e1e1,#c7c7c7,#a5a5a5,#7c7c7c,#525252,#2d2d2d,#111,#040404,#060606,#161616,#303030,#515151,#737373,#949494,#b1b1b1,#c8c8c8,#dadada,#e7e7e7,#f0f0f0,#f6f6f6,#fafafa,#fcfcfc,#fdfdfd,#fefefe,#fff)"></i><i style="background:linear-gradient(90deg,#fff,#fff,#fff,#fff,#fefefe,#fbfbfb,#f1f1f1,#e1e1e1,#c7c7c7,#a4a4a4,#7c7c7c,#525252,#2c2c2c,#111,#040404,#060606,#161616,#313131,#525252,#747474,#959595,#b1b1b1,#c9c9c9,#dadada,#e7e7e7,#f0f0f0,#f6f6f6,#fafafa,#fcfcfc,#fdfdfd,#fefefe,#fff)"></i><i style="background:linear-gradient(90deg,#fff,#fff,#fff,#fff,#fefefe,#fafafa,#f1f1f1,#e0e0e0,#c6c6c6,#a3a3a3,#7a7a7a,#515151,#2c2c2c,#111,#040404,#070707,#171717,#323232,#535353,#757575,#969696,#b2b2b2,#c9c9c9,#dbdbdb,#e8e8e8,#f0f0f0,#f6f6f6,#fafafa,#fcfcfc,#fdfdfd,#fefefe,#fff)"></i><i style="background:linear-gradient(90deg,#fff,#fff,#fff,#fff,#fefefe,#fafafa,#f0f0f0,#dfdfdf,#c4c4c4,#a1a1a1,#797979,#4f4f4f,#2b2b2b,#111,#050505,#080808,#181818,#333,#545454,#767676,#979797,#b3b3b3,#cacaca,#dbdbdb,#e8e8e8,#f1f1f1,#f6f6f6,#fafafa,#fcfcfc,#fdfdfd,#fefefe,#fff)"></i><i style="background:linear-gradient(90deg,#fff,#fff,#fff,#fff,#fefefe,#f9f9f9,#efefef,#ddd,#c3c3c3,#9f9f9f,#777,#4d4d4d,#292929,#101010,#050505,#090909,#1a1a1a,#353535,#565656,#787878,#989898,#b4b4b4,#cbcbcb,#dcdcdc,#e8e8e8,#f1f1f1,#f7f7f7,#fafafa,#fcfcfc,#fefefe,#fefefe,#fff)"></i><i style="background:linear-gradient(90deg,#fff,#fff,#fff,#fff,#fdfdfd,#f8f8f8,#eee,#dcdcdc,#c0c0c0,#9d9d9d,#747474,#4b4b4b,#282828,#0f0f0f,#050505,#0a0a0a,#1b1b1b,#373737,#585858,#7a7a7a,#9a9a9a,#b5b5b5,#ccc,#ddd,#e9e9e9,#f1f1f1,#f7f7f7,#fafafa,#fcfcfc,#fefefe,#fefefe,#fff)"></i><i style="background:linear-gradient(90deg,#fff,#fff,#fff,#fff,#fdfdfd,#f7f7f7,#ececec,#d9d9d9,#bebebe,#9a9a9a,#717171,#494949,#262626,#0f0f0f,#060606,#0b0b0b,#1e1e1e,#393939,#5a5a5a,#7c7c7c,#9c9c9c,#b7b7b7,#cdcdcd,#dedede,#eaeaea,#f2f2f2,#f7f7f7,#fafafa,#fcfcfc,#fefefe,#fefefe,#fff)"></i><i style="background:linear-gradient(90deg,#fff,#fff,#fff,#fefefe,#fcfcfc,#f6f6f6,#ebebeb,#d7d7d7,#bababa,#969696,#6e6e6e,#464646,#252525,#0e0e0e,#060606,#0d0d0d,#202020,#3c3c3c,#5d5d5d,#7f7f7f,#9e9e9e,#b9b9b9,#cecece,#dfdfdf,#eaeaea,#f2f2f2,#f7f7f7,#fbfbfb,#fdfdfd,#fefefe,#fefefe,#fff)"></i><i style="background:linear-gradient(90deg,#fff,#fff,#fff,#fefefe,#fbfbfb,#f5f5f5,#e8e8e8,#d4d4d4,#b7b7b7,#929292,#6a6a6a,#434343,#232323,#0e0e0e,#070707,#0f0f0f,#232323,#404040,#616161,#828282,#a1a1a1,#bbb,#d0d0d0,#e0e0e0,#ebebeb,#f3f3f3,#f8f8f8,#fbfbfb,#fdfdfd,#fefefe,#fefefe,#fff)"></i><i style="background:linear-gradient(90deg,#fff,#fff,#fff,#fefefe,#fbfbfb,#f3f3f3,#e6e6e6,#d1d1d1,#b3b3b3,#8e8e8e,#666,#404040,#212121,#0d0d0d,#080808,#111,#262626,#434343,#646464,#858585,#a4a4a4,#bdbdbd,#d2d2d2,#e1e1e1,#ececec,#f3f3f3,#f8f8f8,#fbfbfb,#fdfdfd,#fefefe,#fefefe,#fff)"></i><i style="background:linear-gradient(90deg,#fff,#fff,#fefefe,#fdfdfd,#f9f9f9,#f1f1f1,#e3e3e3,#cdcdcd,#aeaeae,#898989,#626262,#3c3c3c,#1f1f1f,#0d0d0d,#0a0a0a,#141414,#2a2a2a,#474747,#686868,#898989,#a7a7a7,#c0c0c0,#d3d3d3,#e2e2e2,#ededed,#f4f4f4,#f8f8f8,#fbfbfb,#fdfdfd,#fefefe,#fefefe,#fff)"></i><i style="background:linear-gradient(90deg,#fff,#fff,#fefefe,#fcfcfc,#f8f8f8,#efefef,#e0e0e0,#c9c9c9,#a9a9a9,#848484,#5d5d5d,#393939,#1d1d1d,#0d0d0d,#0b0b0b,#171717,#2e2e2e,#4c4c4c,#6c6c6c,#8d8d8d,#aaa,#c2c2c2,#d5d5d5,#e4e4e4,#eee,#f4f4f4,#f9f9f9,#fbfbfb,#fdfdfd,#fefefe,#fefefe,#fff)"></i><i style="background:linear-gradient(90deg,#fff,#fefefe,#fefefe,#fcfcfc,#f6f6f6,#ededed,#dcdcdc,#c4c4c4,#a4a4a4,#7f7f7f,#585858,#353535,#1b1b1b,#0d0d0d,#0d0d0d,#1a1a1a,#323232,#505050,#717171,#919191,#adadad,#c5c5c5,#d7d7d7,#e5e5e5,#efefef,#f5f5f5,#f9f9f9,#fcfcfc,#fdfdfd,#fefefe,#fefefe,#fff)"></i><i style="background:linear-gradient(90deg,#fefefe,#fefefe,#fdfdfd,#fafafa,#f5f5f5,#eaeaea,#d8d8d8,#bfbfbf,#9e9e9e,#797979,#535353,#313131,#191919,#0d0d0d,#101010,#1e1e1e,#373737,#555,#767676,#959595,#b1b1b1,#c8c8c8,#d9d9d9,#e6e6e6,#efefef,#f6f6f6,#f9f9f9,#fcfcfc,#fdfdfd,#fefefe,#fefefe,#fefefe)"></i><i style="background:linear-gradient(90deg,#fefefe,#fefefe,#fcfcfc,#f9f9f9,#f2f2f2,#e6e6e6,#d4d4d4,#b9b9b9,#989898,#737373,#4e4e4e,#2e2e2e,#181818,#0e0e0e,#121212,#232323,#3c3c3c,#5b5b5b,#7b7b7b,#9a9a9a,#b5b5b5,#cacaca,#dbdbdb,#e8e8e8,#f0f0f0,#f6f6f6,#fafafa,#fcfcfc,#fdfdfd,#fefefe,#fefefe,#fefefe)"></i><i style="background:linear-gradient(90deg,#fefefe,#fdfdfd,#fcfcfc,#f8f8f8,#f0f0f0,#e3e3e3,#cfcfcf,#b3b3b3,#919191,#6c6c6c,#484848,#2a2a2a,#161616,#0f0f0f,#161616,#272727,#424242,#616161,#808080,#9e9e9e,#b8b8b8,#cdcdcd,#dedede,#e9e9e9,#f1f1f1,#f7f7f7,#fafafa,#fcfcfc,#fdfdfd,#fefefe,#fefefe,#fefefe)"></i><i style="background:linear-gradient(90deg,#fefefe,#fdfdfd,#fbfbfb,#f6f6f6,#ededed,#dfdfdf,#c9c9c9,#adadad,#8a8a8a,#666,#434343,#272727,#161616,#111,#191919,#2c2c2c,#484848,#676767,#868686,#a3a3a3,#bcbcbc,#d0d0d0,#e0e0e0,#ebebeb,#f2f2f2,#f7f7f7,#fbfbfb,#fdfdfd,#fefefe,#fefefe,#fefefe,#fefefe)"></i><i style="background:linear-gradient(90deg,#fefefe,#fcfcfc,#f9f9f9,#f4f4f4,#eaeaea,#dadada,#c3c3c3,#a6a6a6,#838383,#5f5f5f,#3e3e3e,#242424,#151515,#131313,#1d1d1d,#323232,#4e4e4e,#6d6d6d,#8c8c8c,#a8a8a8,#c0c0c0,#d3d3d3,#e2e2e2,#ececec,#f3f3f3,#f8f8f8,#fbfbfb,#fdfdfd,#fefefe,#fefefe,#fefefe,#fdfdfd)"></i><i style="background:linear-gradient(90deg,#fdfdfd,#fbfbfb,#f8f8f8,#f1f1f1,#e6e6e6,#d5d5d5,#bdbdbd,#9e9e9e,#7c7c7c,#595959,#393939,#222,#151515,#161616,#222,#383838,#545454,#737373,#929292,#adadad,#c4c4c4,#d6d6d6,#e4e4e4,#eee,#f4f4f4,#f9f9f9,#fbfbfb,#fdfdfd,#fefefe,#fefefe,#fefefe,#fdfdfd)"></i><i style="background:linear-gradient(90deg,#fcfcfc,#fafafa,#f6f6f6,#eee,#e1e1e1,#cfcfcf,#b6b6b6,#979797,#747474,#525252,#353535,#202020,#161616,#191919,#272727,#3f3f3f,#5b5b5b,#7a7a7a,#989898,#b2b2b2,#c8c8c8,#d9d9d9,#e6e6e6,#efefef,#f5f5f5,#f9f9f9,#fcfcfc,#fdfdfd,#fefefe,#fefefe,#fdfdfd,#fcfcfc)"></i><i style="background:linear-gradient(90deg,#fcfcfc,#f9f9f9,#f4f4f4,#ebebeb,#ddd,#c8c8c8,#aeaeae,#8f8f8f,#6d6d6d,#4c4c4c,#303030,#1e1e1e,#171717,#1d1d1d,#2d2d2d,#464646,#636363,#818181,#9e9e9e,#b7b7b7,#ccc,#dcdcdc,#e8e8e8,#f1f1f1,#f6f6f6,#fafafa,#fcfcfc,#fdfdfd,#fefefe,#fefefe,#fdfdfd,#fbfbfb)"></i><i style="background:linear-gradient(90deg,#fbfbfb,#f7f7f7,#f1f1f1,#e7e7e7,#d7d7d7,#c2c2c2,#a6a6a6,#868686,#656565,#464646,#2d2d2d,#1d1d1d,#191919,#212121,#333,#4d4d4d,#6a6a6a,#888,#a4a4a4,#bcbcbc,#d0d0d0,#dfdfdf,#eaeaea,#f2f2f2,#f7f7f7,#fafafa,#fcfcfc,#fdfdfd,#fefefe,#fdfdfd,#fcfcfc,#fafafa)"></i><i style="background:linear-gradient(90deg,#f9f9f9,#f5f5f5,#eee,#e2e2e2,#d1d1d1,#bababa,#9e9e9e,#7e7e7e,#5d5d5d,#404040,#292929,#1d1d1d,#1c1c1c,#272727,#3a3a3a,#545454,#727272,#8f8f8f,#aaa,#c1c1c1,#d4d4d4,#e2e2e2,#ececec,#f3f3f3,#f8f8f8,#fbfbfb,#fcfcfc,#fdfdfd,#fdfdfd,#fdfdfd,#fbfbfb,#f9f9f9)"></i><i style="background:linear-gradient(90deg,#f8f8f8,#f3f3f3,#eaeaea,#ddd,#cacaca,#b2b2b2,#959595,#757575,#565656,#3b3b3b,#272727,#1e1e1e,#202020,#2c2c2c,#424242,#5c5c5c,#7a7a7a,#969696,#b0b0b0,#c6c6c6,#d7d7d7,#e4e4e4,#eee,#f4f4f4,#f9f9f9,#fbfbfb,#fdfdfd,#fdfdfd,#fdfdfd,#fcfcfc,#fafafa,#f7f7f7)"></i><i style="background:linear-gradient(90deg,#f6f6f6,#f0f0f0,#e6e6e6,#d7d7d7,#c3c3c3,#aaa,#8c8c8c,#6d6d6d,#4f4f4f,#363636,#252525,#1f1f1f,#242424,#333,#494949,#656565,#818181,#9d9d9d,#b6b6b6,#cbcbcb,#dbdbdb,#e7e7e7,#f0f0f0,#f5f5f5,#f9f9f9,#fbfbfb,#fdfdfd,#fdfdfd,#fdfdfd,#fcfcfc,#f9f9f9,#f5f5f5)"></i><i style="background:linear-gradient(90deg,#f4f4f4,#ececec,#e1e1e1,#d1d1d1,#bbb,#a1a1a1,#838383,#656565,#484848,#323232,#242424,#212121,#292929,#3a3a3a,#515151,#6d6d6d,#898989,#a4a4a4,#bcbcbc,#cfcfcf,#dedede,#e9e9e9,#f1f1f1,#f6f6f6,#fafafa,#fcfcfc,#fdfdfd,#fdfdfd,#fcfcfc,#fbfbfb,#f7f7f7,#f2f2f2)"></i><i style="background:linear-gradient(90deg,#f1f1f1,#e8e8e8,#dbdbdb,#cacaca,#b3b3b3,#989898,#7a7a7a,#5d5d5d,#424242,#2f2f2f,#242424,#242424,#2e2e2e,#414141,#5a5a5a,#767676,#919191,#ababab,#c1c1c1,#d3d3d3,#e1e1e1,#ececec,#f3f3f3,#f7f7f7,#fafafa,#fcfcfc,#fdfdfd,#fcfcfc,#fbfbfb,#f9f9f9,#f5f5f5,#efefef)"></i><i style="background:linear-gradient(90deg,#eee,#e3e3e3,#d5d5d5,#c2c2c2,#aaa,#8f8f8f,#717171,#555,#3d3d3d,#2c2c2c,#252525,#282828,#353535,#494949,#636363,#7e7e7e,#999,#b2b2b2,#c7c7c7,#d8d8d8,#e4e4e4,#eee,#f4f4f4,#f8f8f8,#fbfbfb,#fcfcfc,#fcfcfc,#fcfcfc,#fafafa,#f8f8f8,#f3f3f3,#ebebeb)"></i><i style="background:linear-gradient(90deg,#eaeaea,#dedede,#cecece,#bababa,#a1a1a1,#858585,#686868,#4e4e4e,#383838,#2b2b2b,#272727,#2d2d2d,#3c3c3c,#525252,#6c6c6c,#878787,#a1a1a1,#b9b9b9,#ccc,#dcdcdc,#e7e7e7,#f0f0f0,#f5f5f5,#f9f9f9,#fbfbfb,#fcfcfc,#fcfcfc,#fbfbfb,#f9f9f9,#f6f6f6,#f0f0f0,#e7e7e7)"></i><i style="background:linear-gradient(90deg,#e5e5e5,#d8d8d8,#c7c7c7,#b1b1b1,#989898,#7c7c7c,#606060,#474747,#353535,#2b2b2b,#2a2a2a,#333,#444,#5b5b5b,#757575,#909090,#a9a9a9,#bfbfbf,#d1d1d1,#dfdfdf,#eaeaea,#f1f1f1,#f6f6f6,#fafafa,#fbfbfb,#fcfcfc,#fcfcfc,#fafafa,#f8f8f8,#f3f3f3,#ececec,#e2e2e2)"></i><i style="background:linear-gradient(90deg,#e0e0e0,#d2d2d2,#bfbfbf,#a8a8a8,#8e8e8e,#727272,#585858,#424242,#323232,#2b2b2b,#2e2e2e,#393939,#4c4c4c,#646464,#7e7e7e,#989898,#b0b0b0,#c5c5c5,#d6d6d6,#e3e3e3,#ececec,#f3f3f3,#f7f7f7,#fafafa,#fbfbfb,#fcfcfc,#fbfbfb,#f9f9f9,#f6f6f6,#f0f0f0,#e8e8e8,#ddd)"></i><i style="background:linear-gradient(90deg,#dadada,#cacaca,#b6b6b6,#9e9e9e,#848484,#696969,#515151,#3d3d3d,#313131,#2d2d2d,#333,#414141,#555,#6e6e6e,#888,#a1a1a1,#b8b8b8,#cbcbcb,#dadada,#e6e6e6,#efefef,#f4f4f4,#f8f8f8,#fafafa,#fbfbfb,#fbfbfb,#fafafa,#f7f7f7,#f3f3f3,#ededed,#e3e3e3,#d7d7d7)"></i><i style="background:linear-gradient(90deg,#d4d4d4,#c2c2c2,#adadad,#959595,#7a7a7a,#616161,#4a4a4a,#3a3a3a,#313131,#303030,#393939,#494949,#5e5e5e,#777,#919191,#a9a9a9,#bebebe,#d0d0d0,#dedede,#e9e9e9,#f1f1f1,#f6f6f6,#f9f9f9,#fbfbfb,#fbfbfb,#fbfbfb,#f9f9f9,#f5f5f5,#f0f0f0,#e9e9e9,#dedede,#d0d0d0)"></i><i style="background:linear-gradient(90deg,#ccc,#b9b9b9,#a3a3a3,#8b8b8b,#717171,#595959,#454545,#373737,#323232,#343434,#404040,#525252,#686868,#818181,#9a9a9a,#b1b1b1,#c5c5c5,#d5d5d5,#e2e2e2,#ececec,#f2f2f2,#f7f7f7,#f9f9f9,#fbfbfb,#fbfbfb,#fafafa,#f7f7f7,#f3f3f3,#ededed,#e4e4e4,#d8d8d8,#c8c8c8)"></i><i style="background:linear-gradient(90deg,#c4c4c4,#b0b0b0,#999,#818181,#686868,#525252,#414141,#363636,#343434,#3a3a3a,#474747,#5b5b5b,#727272,#8b8b8b,#a3a3a3,#b9b9b9,#cbcbcb,#dadada,#e6e6e6,#eee,#f4f4f4,#f8f8f8,#fafafa,#fafafa,#fafafa,#f8f8f8,#f5f5f5,#f0f0f0,#e9e9e9,#dedede,#d1d1d1,#c0c0c0)"></i><i style="background:linear-gradient(90deg,#bcbcbc,#a7a7a7,#8f8f8f,#777,#606060,#4c4c4c,#3d3d3d,#363636,#373737,#404040,#505050,#656565,#7c7c7c,#949494,#ababab,#c0c0c0,#d1d1d1,#dfdfdf,#e9e9e9,#f0f0f0,#f5f5f5,#f8f8f8,#fafafa,#fafafa,#f9f9f9,#f7f7f7,#f3f3f3,#ececec,#e4e4e4,#d8d8d8,#c9c9c9,#b7b7b7)"></i><i style="background:linear-gradient(90deg,#b2b2b2,#9d9d9d,#858585,#6e6e6e,#585858,#474747,#3c3c3c,#383838,#3c3c3c,#474747,#595959,#6f6f6f,#868686,#9e9e9e,#b4b4b4,#c7c7c7,#d6d6d6,#e3e3e3,#ececec,#f2f2f2,#f6f6f6,#f9f9f9,#fafafa,#f9f9f9,#f8f8f8,#f4f4f4,#efefef,#e8e8e8,#dedede,#d1d1d1,#c1c1c1,#adadad)"></i><i style="background:linear-gradient(90deg,#a9a9a9,#939393,#7c7c7c,#656565,#525252,#434343,#3b3b3b,#3b3b3b,#424242,#4f4f4f,#636363,#797979,#909090,#a7a7a7,#bcbcbc,#cdcdcd,#dbdbdb,#e6e6e6,#eee,#f4f4f4,#f7f7f7,#f9f9f9,#f9f9f9,#f8f8f8,#f6f6f6,#f2f2f2,#ececec,#e3e3e3,#d8d8d8,#cacaca,#b8b8b8,#a4a4a4)"></i><i style="background:linear-gradient(90deg,#9f9f9f,#898989,#727272,#5e5e5e,#4c4c4c,#414141,#3c3c3c,#3f3f3f,#494949,#585858,#6d6d6d,#838383,#9a9a9a,#b0b0b0,#c3c3c3,#d3d3d3,#e0e0e0,#eaeaea,#f1f1f1,#f5f5f5,#f8f8f8,#f9f9f9,#f9f9f9,#f7f7f7,#f4f4f4,#efefef,#e7e7e7,#dedede,#d1d1d1,#c1c1c1,#afafaf,#9a9a9a)"></i><i style="background:linear-gradient(90deg,#959595,#7f7f7f,#6a6a6a,#575757,#484848,#404040,#3e3e3e,#444,#505050,#626262,#777,#8d8d8d,#a4a4a4,#b8b8b8,#cacaca,#d9d9d9,#e4e4e4,#ececec,#f2f2f2,#f6f6f6,#f8f8f8,#f8f8f8,#f7f7f7,#f5f5f5,#f1f1f1,#ebebeb,#e2e2e2,#d7d7d7,#c9c9c9,#b8b8b8,#a5a5a5,#8f8f8f)"></i><i style="background:linear-gradient(90deg,#8b8b8b,#757575,#626262,#515151,#464646,#404040,#424242,#4b4b4b,#595959,#6c6c6c,#818181,#989898,#adadad,#c0c0c0,#d0d0d0,#dedede,#e8e8e8,#efefef,#f4f4f4,#f7f7f7,#f8f8f8,#f8f8f8,#f6f6f6,#f2f2f2,#ededed,#e6e6e6,#ddd,#d0d0d0,#c1c1c1,#afafaf,#9b9b9b,#858585)"></i><i style="background:linear-gradient(90deg,#818181,#6d6d6d,#5b5b5b,#4d4d4d,#444,#424242,#474747,#525252,#636363,#767676,#8c8c8c,#a1a1a1,#b6b6b6,#c7c7c7,#d6d6d6,#e2e2e2,#ebebeb,#f1f1f1,#f5f5f5,#f7f7f7,#f7f7f7,#f6f6f6,#f4f4f4,#f0f0f0,#e9e9e9,#e1e1e1,#d6d6d6,#c8c8c8,#b8b8b8,#a5a5a5,#919191,#7c7c7c)"></i><i style="background:linear-gradient(90deg,#777,#656565,#555,#4a4a4a,#454545,#464646,#4e4e4e,#5b5b5b,#6d6d6d,#818181,#969696,#ababab,#bebebe,#cecece,#dcdcdc,#e6e6e6,#ededed,#f3f3f3,#f6f6f6,#f7f7f7,#f7f7f7,#f5f5f5,#f1f1f1,#ececec,#e5e5e5,#dbdbdb,#cfcfcf,#c0c0c0,#aeaeae,#9b9b9b,#878787,#737373)"></i><i style="background:linear-gradient(90deg,#6f6f6f,#5e5e5e,#515151,#494949,#474747,#4b4b4b,#555,#646464,#777,#8c8c8c,#a0a0a0,#b4b4b4,#c6c6c6,#d4d4d4,#e0e0e0,#e9e9e9,#f0f0f0,#f4f4f4,#f6f6f6,#f6f6f6,#f5f5f5,#f2f2f2,#eee,#e8e8e8,#dfdfdf,#d4d4d4,#c7c7c7,#b7b7b7,#a4a4a4,#919191,#7d7d7d,#6a6a6a)"></i><i style="background:linear-gradient(90deg,#676767,#585858,#4e4e4e,#494949,#4a4a4a,#515151,#5e5e5e,#6e6e6e,#828282,#969696,#aaa,#bdbdbd,#cdcdcd,#dadada,#e5e5e5,#ececec,#f1f1f1,#f5f5f5,#f6f6f6,#f5f5f5,#f3f3f3,#f0f0f0,#eaeaea,#e3e3e3,#d9d9d9,#ccc,#bebebe,#adadad,#9a9a9a,#878787,#747474,#636363)"></i><i style="background:linear-gradient(90deg,#606060,#545454,#4c4c4c,#4b4b4b,#4f4f4f,#595959,#676767,#797979,#8c8c8c,#a0a0a0,#b4b4b4,#c5c5c5,#d3d3d3,#dfdfdf,#e8e8e8,#efefef,#f3f3f3,#f5f5f5,#f5f5f5,#f4f4f4,#f1f1f1,#ececec,#e6e6e6,#ddd,#d2d2d2,#c4c4c4,#b5b5b5,#a3a3a3,#909090,#7d7d7d,#6c6c6c,#5d5d5d)"></i><i style="background:linear-gradient(90deg,#5b5b5b,#515151,#4d4d4d,#4e4e4e,#555,#616161,#717171,#838383,#979797,#aaa,#bcbcbc,#ccc,#d9d9d9,#e4e4e4,#ebebeb,#f0f0f0,#f3f3f3,#f5f5f5,#f4f4f4,#f2f2f2,#eee,#e8e8e8,#e0e0e0,#d6d6d6,#cacaca,#bbb,#ababab,#999,#878787,#757575,#656565,#585858)"></i><i style="background:linear-gradient(90deg,#575757,#505050,#4f4f4f,#535353,#5c5c5c,#6a6a6a,#7b7b7b,#8e8e8e,#a1a1a1,#b4b4b4,#c4c4c4,#d3d3d3,#dedede,#e7e7e7,#eee,#f2f2f2,#f4f4f4,#f4f4f4,#f2f2f2,#efefef,#eaeaea,#e3e3e3,#dadada,#cfcfcf,#c1c1c1,#b2b2b2,#a1a1a1,#8f8f8f,#7d7d7d,#6d6d6d,#5f5f5f,#555)"></i><i style="background:linear-gradient(90deg,#545454,#515151,#525252,#595959,#656565,#747474,#868686,#999,#ababab,#bdbdbd,#ccc,#d9d9d9,#e3e3e3,#eaeaea,#efefef,#f2f2f2,#f3f3f3,#f3f3f3,#f0f0f0,#ececec,#e6e6e6,#ddd,#d3d3d3,#c7c7c7,#b8b8b8,#a8a8a8,#979797,#858585,#757575,#666,#5a5a5a,#535353)"></i><i style="background:linear-gradient(90deg,#535353,#535353,#575757,#616161,#6e6e6e,#7f7f7f,#919191,#a3a3a3,#b5b5b5,#c5c5c5,#d3d3d3,#dedede,#e7e7e7,#ededed,#f1f1f1,#f2f2f2,#f2f2f2,#f1f1f1,#ededed,#e8e8e8,#e0e0e0,#d7d7d7,#cbcbcb,#bebebe,#afafaf,#9e9e9e,#8d8d8d,#7c7c7c,#6d6d6d,#606060,#575757,#535353)"></i><i style="background:linear-gradient(90deg,#545454,#575757,#5e5e5e,#696969,#787878,#898989,#9b9b9b,#adadad,#bebebe,#ccc,#d9d9d9,#e3e3e3,#eaeaea,#efefef,#f1f1f1,#f2f2f2,#f1f1f1,#eee,#e9e9e9,#e3e3e3,#dadada,#d0d0d0,#c3c3c3,#b5b5b5,#a5a5a5,#949494,#848484,#747474,#676767,#5c5c5c,#565656,#545454)"></i><i style="background:linear-gradient(90deg,#575757,#5c5c5c,#656565,#737373,#838383,#949494,#a6a6a6,#b7b7b7,#c6c6c6,#d3d3d3,#dedede,#e6e6e6,#ececec,#f0f0f0,#f1f1f1,#f1f1f1,#eee,#eaeaea,#e5e5e5,#ddd,#d3d3d3,#c8c8c8,#bababa,#ababab,#9b9b9b,#8b8b8b,#7b7b7b,#6d6d6d,#626262,#5a5a5a,#565656,#585858)"></i><i style="background:linear-gradient(90deg,#5b5b5b,#636363,#6e6e6e,#7d7d7d,#8d8d8d,#9f9f9f,#b0b0b0,#c0c0c0,#cecece,#d9d9d9,#e2e2e2,#e9e9e9,#eee,#f0f0f0,#f0f0f0,#efefef,#ebebeb,#e6e6e6,#dfdfdf,#d6d6d6,#ccc,#bfbfbf,#b1b1b1,#a1a1a1,#919191,#828282,#737373,#676767,#5e5e5e,#595959,#585858,#5d5d5d)"></i><i style="background:linear-gradient(90deg,#616161,#6b6b6b,#787878,#878787,#989898,#a9a9a9,#b9b9b9,#c8c8c8,#d4d4d4,#dedede,#e6e6e6,#ebebeb,#efefef,#f0f0f0,#efefef,#ececec,#e8e8e8,#e1e1e1,#d9d9d9,#cfcfcf,#c3c3c3,#b6b6b6,#a7a7a7,#989898,#888,#7a7a7a,#6d6d6d,#636363,#5c5c5c,#5a5a5a,#5c5c5c,#636363)"></i><i style="background:linear-gradient(90deg,#686868,#737373,#828282,#929292,#a2a2a2,#b3b3b3,#c2c2c2,#cfcfcf,#dadada,#e3e3e3,#e9e9e9,#ededed,#efefef,#efefef,#ededed,#e9e9e9,#e3e3e3,#dcdcdc,#d2d2d2,#c7c7c7,#bababa,#acacac,#9d9d9d,#8e8e8e,#808080,#727272,#676767,#606060,#5c5c5c,#5d5d5d,#626262,#6a6a6a)"></i><i style="background:linear-gradient(90deg,#707070,#7d7d7d,#8c8c8c,#9c9c9c,#adadad,#bcbcbc,#cacaca,#d5d5d5,#dfdfdf,#e6e6e6,#ebebeb,#ededed,#eee,#ededed,#e9e9e9,#e4e4e4,#dedede,#d5d5d5,#cbcbcb,#bfbfbf,#b1b1b1,#a3a3a3,#949494,#858585,#787878,#6c6c6c,#646464,#5f5f5f,#5e5e5e,#616161,#686868,#737373)"></i><i style="background:linear-gradient(90deg,#797979,#878787,#979797,#a7a7a7,#b6b6b6,#c4c4c4,#d1d1d1,#dbdbdb,#e3e3e3,#e9e9e9,#ececec,#ededed,#ececec,#eaeaea,#e5e5e5,#dfdfdf,#d7d7d7,#cecece,#c2c2c2,#b5b5b5,#a8a8a8,#999,#8b8b8b,#7d7d7d,#717171,#686868,#626262,#5f5f5f,#616161,#676767,#707070,#7c7c7c)"></i><i style="background:linear-gradient(90deg,#838383,#929292,#a1a1a1,#b1b1b1,#bfbfbf,#ccc,#d7d7d7,#e0e0e0,#e6e6e6,#eaeaea,#ececec,#ececec,#eaeaea,#e6e6e6,#e1e1e1,#d9d9d9,#d0d0d0,#c5c5c5,#b9b9b9,#acacac,#9e9e9e,#909090,#828282,#767676,#6c6c6c,#656565,#616161,#626262,#666,#6e6e6e,#797979,#868686)"></i><i style="background:linear-gradient(90deg,#8d8d8d,#9c9c9c,#ababab,#bababa,#c7c7c7,#d3d3d3,#dcdcdc,#e3e3e3,#e8e8e8,#ebebeb,#ebebeb,#eaeaea,#e7e7e7,#e2e2e2,#dbdbdb,#d3d3d3,#c8c8c8,#bdbdbd,#b0b0b0,#a2a2a2,#959595,#878787,#7b7b7b,#707070,#686868,#646464,#636363,#666,#6c6c6c,#767676,#838383,#919191)"></i><i style="background:linear-gradient(90deg,#989898,#a6a6a6,#b5b5b5,#c3c3c3,#cfcfcf,#d9d9d9,#e0e0e0,#e6e6e6,#e9e9e9,#ebebeb,#eaeaea,#e7e7e7,#e3e3e3,#ddd,#d5d5d5,#cbcbcb,#c0c0c0,#b4b4b4,#a7a7a7,#999,#8c8c8c,#7f7f7f,#757575,#6c6c6c,#676767,#646464,#666,#6b6b6b,#747474,#7f7f7f,#8d8d8d,#9b9b9b)"></i><i style="background:linear-gradient(90deg,#a2a2a2,#b0b0b0,#bebebe,#cacaca,#d5d5d5,#ddd,#e4e4e4,#e8e8e8,#e9e9e9,#e9e9e9,#e7e7e7,#e3e3e3,#dedede,#d6d6d6,#cdcdcd,#c3c3c3,#b7b7b7,#aaa,#9d9d9d,#909090,#848484,#797979,#707070,#696969,#666,#676767,#6b6b6b,#727272,#7d7d7d,#898989,#979797,#a6a6a6)"></i><i style="background:linear-gradient(90deg,#acacac,#bababa,#c6c6c6,#d1d1d1,#dadada,#e1e1e1,#e6e6e6,#e8e8e8,#e9e9e9,#e7e7e7,#e4e4e4,#dfdfdf,#d8d8d8,#cfcfcf,#c5c5c5,#bababa,#aeaeae,#a1a1a1,#949494,#888,#7d7d7d,#737373,#6c6c6c,#686868,#686868,#6b6b6b,#717171,#7a7a7a,#868686,#939393,#a1a1a1,#afafaf)"></i><i style="background:linear-gradient(90deg,#b6b6b6,#c2c2c2,#cecece,#d7d7d7,#dedede,#e4e4e4,#e7e7e7,#e8e8e8,#e7e7e7,#e4e4e4,#dfdfdf,#d9d9d9,#d1d1d1,#c8c8c8,#bdbdbd,#b1b1b1,#a5a5a5,#989898,#8c8c8c,#808080,#777,#6f6f6f,#6b6b6b,#696969,#6b6b6b,#707070,#797979,#838383,#909090,#9d9d9d,#ababab,#b9b9b9)"></i><i style="background:linear-gradient(90deg,#bebebe,#cacaca,#d4d4d4,#dcdcdc,#e1e1e1,#e5e5e5,#e7e7e7,#e6e6e6,#e4e4e4,#e0e0e0,#dadada,#d3d3d3,#cacaca,#bfbfbf,#b4b4b4,#a8a8a8,#9b9b9b,#8f8f8f,#848484,#7a7a7a,#727272,#6d6d6d,#6b6b6b,#6c6c6c,#707070,#777,#818181,#8d8d8d,#9a9a9a,#a7a7a7,#b5b5b5,#c1c1c1)"></i><i style="background:linear-gradient(90deg,#c6c6c6,#d1d1d1,#d9d9d9,#dfdfdf,#e3e3e3,#e6e6e6,#e6e6e6,#e4e4e4,#e0e0e0,#dbdbdb,#d4d4d4,#cbcbcb,#c1c1c1,#b6b6b6,#ababab,#9f9f9f,#939393,#888,#7e7e7e,#757575,#707070,#6d6d6d,#6d6d6d,#707070,#767676,#7f7f7f,#8a8a8a,#979797,#a4a4a4,#b1b1b1,#bebebe,#c9c9c9)"></i><i style="background:linear-gradient(90deg,#cdcdcd,#d6d6d6,#ddd,#e2e2e2,#e4e4e4,#e5e5e5,#e4e4e4,#e0e0e0,#dbdbdb,#d5d5d5,#cdcdcd,#c3c3c3,#b9b9b9,#adadad,#a2a2a2,#969696,#8b8b8b,#818181,#787878,#727272,#6f6f6f,#6e6e6e,#717171,#767676,#7e7e7e,#888,#949494,#a1a1a1,#aeaeae,#bababa,#c6c6c6,#d0d0d0)"></i><i style="background:linear-gradient(90deg,#d3d3d3,#dbdbdb,#e0e0e0,#e3e3e3,#e4e4e4,#e3e3e3,#e0e0e0,#dcdcdc,#d6d6d6,#cecece,#c5c5c5,#bbb,#b0b0b0,#a4a4a4,#999,#8e8e8e,#848484,#7b7b7b,#757575,#717171,#6f6f6f,#717171,#767676,#7d7d7d,#868686,#929292,#9e9e9e,#ababab,#b7b7b7,#c3c3c3,#cdcdcd,#d5d5d5)"></i><i style="background:linear-gradient(90deg,#d8d8d8,#dedede,#e1e1e1,#e3e3e3,#e2e2e2,#e0e0e0,#dcdcdc,#d6d6d6,#cfcfcf,#c6c6c6,#bdbdbd,#b2b2b2,#a7a7a7,#9c9c9c,#919191,#878787,#7e7e7e,#777,#737373,#717171,#727272,#767676,#7c7c7c,#858585,#909090,#9b9b9b,#a8a8a8,#b4b4b4,#bfbfbf,#cacaca,#d3d3d3,#dadada)"></i><i style="background:linear-gradient(90deg,#dcdcdc,#e0e0e0,#e2e2e2,#e2e2e2,#e0e0e0,#dcdcdc,#d7d7d7,#d0d0d0,#c8c8c8,#bebebe,#b4b4b4,#a9a9a9,#9e9e9e,#939393,#898989,#818181,#7a7a7a,#757575,#737373,#737373,#767676,#7c7c7c,#848484,#8e8e8e,#999,#a5a5a5,#b1b1b1,#bdbdbd,#c7c7c7,#d0d0d0,#d8d8d8,#ddd)"></i><i style="background:linear-gradient(90deg,#dedede,#e1e1e1,#e1e1e1,#dfdfdf,#dcdcdc,#d7d7d7,#d1d1d1,#c9c9c9,#c0c0c0,#b6b6b6,#ababab,#a0a0a0,#969696,#8c8c8c,#838383,#7c7c7c,#777,#747474,#747474,#777,#7c7c7c,#838383,#8d8d8d,#979797,#a3a3a3,#afafaf,#bababa,#c4c4c4,#cecece,#d5d5d5,#dbdbdb,#dfdfdf)"></i><i style="background:linear-gradient(90deg,#dfdfdf,#e0e0e0,#dfdfdf,#dcdcdc,#d7d7d7,#d1d1d1,#cacaca,#c1c1c1,#b7b7b7,#adadad,#a3a3a3,#989898,#8e8e8e,#868686,#7e7e7e,#797979,#767676,#757575,#777,#7c7c7c,#838383,#8b8b8b,#969696,#a1a1a1,#acacac,#b7b7b7,#c2c2c2,#cbcbcb,#d3d3d3,#d9d9d9,#ddd,#e0e0e0)"></i><i style="background:linear-gradient(90deg,#dfdfdf,#dedede,#dcdcdc,#d7d7d7,#d2d2d2,#cacaca,#c2c2c2,#b9b9b9,#afafaf,#a4a4a4,#9a9a9a,#919191,#888,#818181,#7b7b7b,#787878,#777,#787878,#7c7c7c,#828282,#8b8b8b,#949494,#9f9f9f,#aaa,#b5b5b5,#c0c0c0,#c9c9c9,#d1d1d1,#d7d7d7,#dcdcdc,#dedede,#dfdfdf)"></i><i style="background:linear-gradient(90deg,#ddd,#dbdbdb,#d7d7d7,#d2d2d2,#cbcbcb,#c3c3c3,#bababa,#b0b0b0,#a6a6a6,#9c9c9c,#939393,#8a8a8a,#838383,#7d7d7d,#797979,#787878,#797979,#7c7c7c,#828282,#8a8a8a,#939393,#9d9d9d,#a8a8a8,#b3b3b3,#bebebe,#c7c7c7,#cfcfcf,#d5d5d5,#dadada,#ddd,#dedede,#ddd)"></i><i style="background:linear-gradient(90deg,#dbdbdb,#d7d7d7,#d2d2d2,#cbcbcb,#c4c4c4,#bbb,#b1b1b1,#a8a8a8,#9e9e9e,#949494,#8c8c8c,#858585,#7f7f7f,#7b7b7b,#797979,#7a7a7a,#7d7d7d,#828282,#898989,#929292,#9c9c9c,#a7a7a7,#b1b1b1,#bcbcbc,#c5c5c5,#cdcdcd,#d4d4d4,#d9d9d9,#dcdcdc,#ddd,#dcdcdc,#dadada)"></i><i style="background:linear-gradient(90deg,#d7d7d7,#d2d2d2,#ccc,#c4c4c4,#bcbcbc,#b3b3b3,#a9a9a9,#9f9f9f,#969696,#8e8e8e,#868686,#818181,#7d7d7d,#7b7b7b,#7b7b7b,#7e7e7e,#838383,#898989,#929292,#9b9b9b,#a5a5a5,#b0b0b0,#bababa,#c3c3c3,#cbcbcb,#d2d2d2,#d7d7d7,#dadada,#dcdcdc,#dcdcdc,#d9d9d9,#d6d6d6)"></i><i style="background:linear-gradient(90deg,#d2d2d2,#ccc,#c5c5c5,#bcbcbc,#b3b3b3,#aaa,#a1a1a1,#989898,#8f8f8f,#888,#828282,#7e7e7e,#7c7c7c,#7c7c7c,#7e7e7e,#838383,#898989,#919191,#9a9a9a,#a4a4a4,#aeaeae,#b8b8b8,#c1c1c1,#c9c9c9,#d0d0d0,#d6d6d6,#d9d9d9,#dbdbdb,#dbdbdb,#d9d9d9,#d5d5d5,#d0d0d0)"></i><i style="background:linear-gradient(90deg,#ccc,#c5c5c5,#bdbdbd,#b4b4b4,#ababab,#a2a2a2,#999,#919191,#8a8a8a,#848484,#808080,#7d7d7d,#7d7d7d,#7f7f7f,#838383,#898989,#919191,#9a9a9a,#a3a3a3,#adadad,#b7b7b7,#c0c0c0,#c8c8c8,#cfcfcf,#d4d4d4,#d8d8d8,#dadada,#dadada,#d8d8d8,#d5d5d5,#d0d0d0,#cacaca)"></i><i style="background:linear-gradient(90deg,#c5c5c5,#bdbdbd,#b5b5b5,#acacac,#a3a3a3,#9a9a9a,#929292,#8b8b8b,#858585,#818181,#7f7f7f,#7e7e7e,#808080,#848484,#898989,#919191,#999,#a2a2a2,#acacac,#b5b5b5,#bebebe,#c6c6c6,#cdcdcd,#d3d3d3,#d6d6d6,#d8d8d8,#d9d9d9,#d7d7d7,#d4d4d4,#d0d0d0,#cacaca,#c3c3c3)"></i><i style="background:linear-gradient(90deg,#bebebe,#b5b5b5,#adadad,#a4a4a4,#9c9c9c,#949494,#8d8d8d,#878787,#838383,#808080,#808080,#818181,#858585,#8a8a8a,#919191,#999,#a2a2a2,#ababab,#b4b4b4,#bdbdbd,#c5c5c5,#ccc,#d1d1d1,#d5d5d5,#d7d7d7,#d8d8d8,#d7d7d7,#d4d4d4,#d0d0d0,#cacaca,#c3c3c3,#bcbcbc)"></i><i style="background:linear-gradient(90deg,#b6b6b6,#adadad,#a5a5a5,#9d9d9d,#959595,#8e8e8e,#888,#848484,#818181,#818181,#828282,#858585,#8a8a8a,#919191,#989898,#a1a1a1,#aaa,#b3b3b3,#bcbcbc,#c4c4c4,#cbcbcb,#d0d0d0,#d4d4d4,#d6d6d6,#d7d7d7,#d6d6d6,#d3d3d3,#cfcfcf,#cacaca,#c3c3c3,#bcbcbc,#b4b4b4)"></i><i style="background:linear-gradient(90deg,#aeaeae,#a6a6a6,#9e9e9e,#969696,#8f8f8f,#898989,#858585,#838383,#828282,#838383,#868686,#8b8b8b,#919191,#989898,#a1a1a1,#a9a9a9,#b2b2b2,#bbb,#c3c3c3,#c9c9c9,#cfcfcf,#d3d3d3,#d5d5d5,#d6d6d6,#d5d5d5,#d3d3d3,#cfcfcf,#cacaca,#c3c3c3,#bcbcbc,#b4b4b4,#acacac)"></i><i style="background:linear-gradient(90deg,#a6a6a6,#9e9e9e,#979797,#909090,#8b8b8b,#868686,#848484,#838383,#848484,#878787,#8b8b8b,#919191,#989898,#a0a0a0,#a9a9a9,#b2b2b2,#bababa,#c2c2c2,#c8c8c8,#cecece,#d2d2d2,#d4d4d4,#d5d5d5,#d4d4d4,#d2d2d2,#cecece,#c9c9c9,#c3c3c3,#bcbcbc,#b4b4b4,#acacac,#a4a4a4)"></i><i style="background:linear-gradient(90deg,#9f9f9f,#989898,#919191,#8c8c8c,#888,#858585,#848484,#858585,#888,#8c8c8c,#929292,#999,#a0a0a0,#a9a9a9,#b1b1b1,#b9b9b9,#c1c1c1,#c7c7c7,#cdcdcd,#d1d1d1,#d3d3d3,#d4d4d4,#d3d3d3,#d1d1d1,#cecece,#c9c9c9,#c3c3c3,#bcbcbc,#b5b5b5,#adadad,#a5a5a5,#9d9d9d)"></i><i style="background:linear-gradient(90deg,#989898,#929292,#8d8d8d,#898989,#868686,#858585,#868686,#898989,#8d8d8d,#929292,#999,#a0a0a0,#a8a8a8,#b1b1b1,#b8b8b8,#c0c0c0,#c6c6c6,#ccc,#cfcfcf,#d2d2d2,#d3d3d3,#d2d2d2,#d0d0d0,#cdcdcd,#c8c8c8,#c2c2c2,#bcbcbc,#b5b5b5,#adadad,#a5a5a5,#9e9e9e,#979797)"></i><i style="background:linear-gradient(90deg,#939393,#8e8e8e,#8a8a8a,#878787,#868686,#878787,#898989,#8d8d8d,#939393,#999,#a0a0a0,#a8a8a8,#b0b0b0,#b8b8b8,#bfbfbf,#c5c5c5,#cbcbcb,#cfcfcf,#d1d1d1,#d2d2d2,#d2d2d2,#d0d0d0,#ccc,#c8c8c8,#c2c2c2,#bcbcbc,#b5b5b5,#adadad,#a6a6a6,#9e9e9e,#979797,#929292)"></i><i style="background:linear-gradient(90deg,#8f8f8f,#8b8b8b,#888,#878787,#888,#8a8a8a,#8e8e8e,#939393,#9a9a9a,#a1a1a1,#a8a8a8,#b0b0b0,#b7b7b7,#bebebe,#c5c5c5,#cacaca,#cecece,#d0d0d0,#d1d1d1,#d1d1d1,#cfcfcf,#ccc,#c7c7c7,#c2c2c2,#bbb,#b4b4b4,#adadad,#a6a6a6,#9f9f9f,#989898,#929292,#8e8e8e)"></i><i style="background:linear-gradient(90deg,#8c8c8c,#898989,#888,#898989,#8b8b8b,#8f8f8f,#949494,#9a9a9a,#a1a1a1,#a8a8a8,#b0b0b0,#b7b7b7,#bebebe,#c4c4c4,#c9c9c9,#cdcdcd,#cfcfcf,#d0d0d0,#d0d0d0,#cecece,#cbcbcb,#c6c6c6,#c1c1c1,#bbb,#b4b4b4,#adadad,#a6a6a6,#9f9f9f,#999,#939393,#8e8e8e,#8b8b8b)"></i><i style="background:linear-gradient(90deg,#8a8a8a,#898989,#8a8a8a,#8c8c8c,#909090,#959595,#9b9b9b,#a1a1a1,#a8a8a8,#b0b0b0,#b7b7b7,#bdbdbd,#c3c3c3,#c8c8c8,#ccc,#cecece,#cfcfcf,#cfcfcf,#cdcdcd,#cacaca,#c6c6c6,#c0c0c0,#bababa,#b4b4b4,#adadad,#a6a6a6,#9f9f9f,#999,#949494,#8f8f8f,#8c8c8c,#8a8a8a)"></i><i style="background:linear-gradient(90deg,#8a8a8a,#8b8b8b,#8d8d8d,#919191,#969696,#9b9b9b,#a2a2a2,#a9a9a9,#b0b0b0,#b7b7b7,#bdbdbd,#c3c3c3,#c7c7c7,#cbcbcb,#cdcdcd,#cecece,#cecece,#ccc,#c9c9c9,#c5c5c5,#c0c0c0,#bababa,#b4b4b4,#adadad,#a6a6a6,#a0a0a0,#999,#949494,#909090,#8d8d8d,#8b8b8b,#8b8b8b)"></i><i style="background:linear-gradient(90deg,#8c8c8c,#8e8e8e,#929292,#969696,#9c9c9c,#a2a2a2,#a9a9a9,#b0b0b0,#b7b7b7,#bdbdbd,#c2c2c2,#c7c7c7,#cacaca,#ccc,#cdcdcd,#cdcdcd,#cbcbcb,#c8c8c8,#c4c4c4,#bfbfbf,#b9b9b9,#b3b3b3,#adadad,#a6a6a6,#a0a0a0,#9a9a9a,#959595,#919191,#8e8e8e,#8c8c8c,#8c8c8c,#8d8d8d)"></i><i style="background:linear-gradient(90deg,#8f8f8f,#939393,#979797,#9d9d9d,#a3a3a3,#a9a9a9,#b0b0b0,#b6b6b6,#bcbcbc,#c2c2c2,#c6c6c6,#cacaca,#ccc,#ccc,#ccc,#cacaca,#c7c7c7,#c3c3c3,#bebebe,#b9b9b9,#b3b3b3,#acacac,#a6a6a6,#a0a0a0,#9a9a9a,#959595,#919191,#8e8e8e,#8d8d8d,#8d8d8d,#8e8e8e,#909090)"></i><i style="background:linear-gradient(90deg,#949494,#989898,#9d9d9d,#a3a3a3,#aaa,#b0b0b0,#b6b6b6,#bcbcbc,#c1c1c1,#c6c6c6,#c9c9c9,#cbcbcb,#ccc,#cbcbcb,#c9c9c9,#c6c6c6,#c2c2c2,#bebebe,#b8b8b8,#b2b2b2,#acacac,#a6a6a6,#a0a0a0,#9a9a9a,#969696,#929292,#8f8f8f,#8e8e8e,#8e8e8e,#8f8f8f,#919191,#959595)"></i><i style="background:linear-gradient(90deg,#999,#9e9e9e,#a4a4a4,#aaa,#b0b0b0,#b7b7b7,#bcbcbc,#c1c1c1,#c5c5c5,#c8c8c8,#cacaca,#cbcbcb,#cacaca,#c8c8c8,#c5c5c5,#c1c1c1,#bdbdbd,#b7b7b7,#b2b2b2,#acacac,#a6a6a6,#a0a0a0,#9b9b9b,#969696,#929292,#909090,#8f8f8f,#8f8f8f,#909090,#929292,#969696,#9a9a9a)"></i><i style="background:linear-gradient(90deg,#9f9f9f,#a5a5a5,#ababab,#b1b1b1,#b7b7b7,#bcbcbc,#c1c1c1,#c5c5c5,#c7c7c7,#c9c9c9,#cacaca,#c9c9c9,#c7c7c7,#c4c4c4,#c1c1c1,#bcbcbc,#b7b7b7,#b1b1b1,#ababab,#a5a5a5,#a0a0a0,#9b9b9b,#969696,#939393,#919191,#909090,#909090,#919191,#939393,#979797,#9b9b9b,#a1a1a1)"></i><i style="background:linear-gradient(90deg,#a6a6a6,#ababab,#b1b1b1,#b7b7b7,#bcbcbc,#c0c0c0,#c4c4c4,#c7c7c7,#c8c8c8,#c9c9c9,#c8c8c8,#c6c6c6,#c3c3c3,#c0c0c0,#bbb,#b6b6b6,#b0b0b0,#ababab,#a5a5a5,#a0a0a0,#9b9b9b,#979797,#949494,#919191,#909090,#919191,#929292,#949494,#989898,#9c9c9c,#a1a1a1,#a7a7a7)"></i><i style="background:linear-gradient(90deg,#acacac,#b1b1b1,#b7b7b7,#bcbcbc,#c0c0c0,#c4c4c4,#c6c6c6,#c7c7c7,#c8c8c8,#c7c7c7,#c5c5c5,#c2c2c2,#bfbfbf,#bababa,#b5b5b5,#b0b0b0,#aaa,#a5a5a5,#a0a0a0,#9b9b9b,#979797,#949494,#929292,#919191,#929292,#939393,#969696,#999,#9d9d9d,#a2a2a2,#a8a8a8,#adadad)"></i><i style="background:linear-gradient(90deg,#b2b2b2,#b7b7b7,#bcbcbc,#c0c0c0,#c3c3c3,#c5c5c5,#c7c7c7,#c7c7c7,#c6c6c6,#c4c4c4,#c1c1c1,#bdbdbd,#b9b9b9,#b4b4b4,#afafaf,#aaa,#a4a4a4,#9f9f9f,#9b9b9b,#979797,#959595,#939393,#929292,#939393,#949494,#979797,#9a9a9a,#9f9f9f,#a3a3a3,#a9a9a9,#aeaeae,#b3b3b3)"></i><i style="background:linear-gradient(90deg,#b7b7b7,#bcbcbc,#bfbfbf,#c2c2c2,#c5c5c5,#c6c6c6,#c6c6c6,#c5c5c5,#c3c3c3,#c0c0c0,#bcbcbc,#b8b8b8,#b3b3b3,#aeaeae,#a9a9a9,#a4a4a4,#9f9f9f,#9b9b9b,#989898,#959595,#949494,#939393,#949494,#969696,#989898,#9c9c9c,#a0a0a0,#a4a4a4,#a9a9a9,#afafaf,#b4b4b4,#b8b8b8)"></i><i style="background:linear-gradient(90deg,#bcbcbc,#bfbfbf,#c2c2c2,#c4c4c4,#c5c5c5,#c5c5c5,#c4c4c4,#c2c2c2,#bfbfbf,#bbb,#b7b7b7,#b2b2b2,#adadad,#a8a8a8,#a4a4a4,#9f9f9f,#9b9b9b,#989898,#969696,#959595,#949494,#959595,#979797,#9a9a9a,#9d9d9d,#a1a1a1,#a6a6a6,#aaa,#afafaf,#b4b4b4,#b9b9b9,#bdbdbd)"></i><i style="background:linear-gradient(90deg,#bfbfbf,#c1c1c1,#c3c3c3,#c4c4c4,#c3c3c3,#c2c2c2,#c0c0c0,#bdbdbd,#bababa,#b6b6b6,#b1b1b1,#acacac,#a8a8a8,#a3a3a3,#9f9f9f,#9b9b9b,#989898,#969696,#959595,#959595,#969696,#989898,#9b9b9b,#9e9e9e,#a2a2a2,#a7a7a7,#ababab,#b0b0b0,#b5b5b5,#b9b9b9,#bcbcbc,#bfbfbf)"></i><i style="background:linear-gradient(90deg,#c1c1c1,#c2c2c2,#c2c2c2,#c2c2c2,#c1c1c1,#bfbfbf,#bcbcbc,#b9b9b9,#b5b5b5,#b0b0b0,#acacac,#a7a7a7,#a3a3a3,#9f9f9f,#9b9b9b,#999,#979797,#969696,#969696,#989898,#9a9a9a,#9c9c9c,#a0a0a0,#a4a4a4,#a8a8a8,#adadad,#b1b1b1,#b5b5b5,#b9b9b9,#bcbcbc,#bfbfbf,#c1c1c1)"></i><i style="background:linear-gradient(90deg,#c1c1c1,#c1c1c1,#c1c1c1,#bfbfbf,#bdbdbd,#bbb,#b7b7b7,#b3b3b3,#afafaf,#ababab,#a6a6a6,#a2a2a2,#9f9f9f,#9b9b9b,#999,#989898,#979797,#989898,#999,#9b9b9b,#9e9e9e,#a2a2a2,#a6a6a6,#aaa,#aeaeae,#b2b2b2,#b6b6b6,#b9b9b9,#bcbcbc,#bfbfbf,#c0c0c0,#c1c1c1)"></i><i style="background:linear-gradient(90deg,#c0c0c0,#bfbfbf,#bebebe,#bcbcbc,#b9b9b9,#b6b6b6,#b2b2b2,#aeaeae,#aaa,#a6a6a6,#a2a2a2,#9e9e9e,#9c9c9c,#9a9a9a,#989898,#989898,#999,#9a9a9a,#9d9d9d,#a0a0a0,#a3a3a3,#a7a7a7,#ababab,#afafaf,#b3b3b3,#b7b7b7,#bababa,#bcbcbc,#bebebe,#bfbfbf,#c0c0c0,#c0c0c0)"></i><i style="background:linear-gradient(90deg,#bdbdbd,#bcbcbc,#bababa,#b7b7b7,#b4b4b4,#b0b0b0,#acacac,#a9a9a9,#a5a5a5,#a1a1a1,#9e9e9e,#9c9c9c,#9a9a9a,#999,#999,#9a9a9a,#9c9c9c,#9e9e9e,#a1a1a1,#a5a5a5,#a9a9a9,#adadad,#b1b1b1,#b5b5b5,#b8b8b8,#bbb,#bdbdbd,#bebebe,#bfbfbf,#bfbfbf,#bebebe,#bdbdbd)"></i><i style="background:linear-gradient(90deg,#bababa,#b8b8b8,#b5b5b5,#b2b2b2,#aeaeae,#ababab,#a7a7a7,#a4a4a4,#a1a1a1,#9e9e9e,#9c9c9c,#9a9a9a,#9a9a9a,#9a9a9a,#9b9b9b,#9d9d9d,#a0a0a0,#a3a3a3,#a7a7a7,#ababab,#afafaf,#b3b3b3,#b6b6b6,#b9b9b9,#bbb,#bdbdbd,#bebebe,#bebebe,#bebebe,#bdbdbd,#bbb,#b9b9b9)"></i><i style="background:linear-gradient(90deg,#b5b5b5,#b2b2b2,#afafaf,#acacac,#a9a9a9,#a6a6a6,#a3a3a3,#a0a0a0,#9e9e9e,#9c9c9c,#9b9b9b,#9a9a9a,#9b9b9b,#9c9c9c,#9e9e9e,#a1a1a1,#a5a5a5,#a9a9a9,#adadad,#b1b1b1,#b5b5b5,#b8b8b8,#bbb,#bdbdbd,#bebebe,#bebebe,#bdbdbd,#bcbcbc,#bbb,#b9b9b9,#b7b7b7,#b4b4b4)"></i><i style="background:linear-gradient(90deg,#b0b0b0,#adadad,#aaa,#a7a7a7,#a4a4a4,#a1a1a1,#9f9f9f,#9d9d9d,#9c9c9c,#9b9b9b,#9b9b9b,#9c9c9c,#9d9d9d,#a0a0a0,#a3a3a3,#a7a7a7,#ababab,#afafaf,#b3b3b3,#b7b7b7,#bababa,#bdbdbd,#bebebe,#bebebe,#bebebe,#bdbdbd,#bbb,#b9b9b9,#b7b7b7,#b5b5b5,#b2b2b2,#afafaf)"></i><i style="background:linear-gradient(90deg,#aaa,#a7a7a7,#a5a5a5,#a2a2a2,#a0a0a0,#9e9e9e,#9c9c9c,#9b9b9b,#9b9b9b,#9c9c9c,#9d9d9d,#9f9f9f,#a1a1a1,#a5a5a5,#a9a9a9,#adadad,#b1b1b1,#b6b6b6,#bababa,#bdbdbd,#bfbfbf,#c0c0c0,#c0c0c0,#bfbfbf,#bdbdbd,#bbb,#b8b8b8,#b5b5b5,#b2b2b2,#afafaf,#acacac,#a9a9a9)"></i><i style="background:linear-gradient(90deg,#a4a4a4,#a2a2a2,#a0a0a0,#9e9e9e,#9d9d9d,#9c9c9c,#9b9b9b,#9b9b9b,#9c9c9c,#9e9e9e,#a0a0a0,#a3a3a3,#a7a7a7,#ababab,#afafaf,#b4b4b4,#b8b8b8,#bcbcbc,#bfbfbf,#c1c1c1,#c2c2c2,#c2c2c2,#c0c0c0,#bebebe,#bababa,#b7b7b7,#b3b3b3,#afafaf,#acacac,#a9a9a9,#a6a6a6,#a3a3a3)"></i><i style="background:linear-gradient(90deg,#9e9e9e,#9d9d9d,#9c9c9c,#9b9b9b,#9b9b9b,#9b9b9b,#9b9b9b,#9d9d9d,#9e9e9e,#a1a1a1,#a4a4a4,#a8a8a8,#adadad,#b1b1b1,#b6b6b6,#bbb,#bfbfbf,#c2c2c2,#c4c4c4,#c5c5c5,#c4c4c4,#c2c2c2,#bfbfbf,#bbb,#b6b6b6,#b1b1b1,#adadad,#a9a9a9,#a5a5a5,#a2a2a2,#a0a0a0,#9e9e9e)"></i><i style="background:linear-gradient(90deg,#999,#999,#999,#999,#9a9a9a,#9b9b9b,#9d9d9d,#9f9f9f,#a2a2a2,#a6a6a6,#aaa,#aeaeae,#b3b3b3,#b8b8b8,#bdbdbd,#c1c1c1,#c5c5c5,#c7c7c7,#c8c8c8,#c7c7c7,#c4c4c4,#c0c0c0,#bbb,#b6b6b6,#b0b0b0,#aaa,#a6a6a6,#a1a1a1,#9e9e9e,#9c9c9c,#9a9a9a,#999)"></i><i style="background:linear-gradient(90deg,#959595,#969696,#979797,#989898,#9a9a9a,#9d9d9d,#a0a0a0,#a3a3a3,#a7a7a7,#ababab,#b0b0b0,#b5b5b5,#bababa,#bfbfbf,#c4c4c4,#c7c7c7,#cacaca,#cbcbcb,#cacaca,#c7c7c7,#c3c3c3,#bdbdbd,#b7b7b7,#b0b0b0,#a9a9a9,#a3a3a3,#9e9e9e,#9a9a9a,#979797,#969696,#959595,#959595)"></i><i style="background:linear-gradient(90deg,#929292,#949494,#969696,#999,#9c9c9c,#a0a0a0,#a4a4a4,#a8a8a8,#adadad,#b2b2b2,#b7b7b7,#bcbcbc,#c2c2c2,#c6c6c6,#cacaca,#cdcdcd,#cecece,#cdcdcd,#cbcbcb,#c6c6c6,#c0c0c0,#b8b8b8,#b0b0b0,#a8a8a8,#a1a1a1,#9a9a9a,#969696,#939393,#919191,#919191,#919191,#939393)"></i><i style="background:linear-gradient(90deg,#909090,#949494,#979797,#9b9b9b,#a0a0a0,#a4a4a4,#a9a9a9,#aeaeae,#b3b3b3,#b9b9b9,#bebebe,#c4c4c4,#c9c9c9,#cdcdcd,#d0d0d0,#d2d2d2,#d1d1d1,#cfcfcf,#cacaca,#c4c4c4,#bbb,#b2b2b2,#a8a8a8,#9f9f9f,#989898,#929292,#8e8e8e,#8c8c8c,#8b8b8b,#8c8c8c,#8e8e8e,#919191)"></i><i style="background:linear-gradient(90deg,#909090,#949494,#999,#9f9f9f,#a4a4a4,#a9a9a9,#afafaf,#b5b5b5,#bababa,#c0c0c0,#c6c6c6,#cbcbcb,#cfcfcf,#d3d3d3,#d5d5d5,#d5d5d5,#d3d3d3,#cfcfcf,#c8c8c8,#bfbfbf,#b5b5b5,#aaa,#9f9f9f,#969696,#8e8e8e,#898989,#868686,#858585,#868686,#898989,#8d8d8d,#919191)"></i><i style="background:linear-gradient(90deg,#909090,#969696,#9d9d9d,#a3a3a3,#a9a9a9,#afafaf,#b6b6b6,#bcbcbc,#c2c2c2,#c7c7c7,#cdcdcd,#d2d2d2,#d5d5d5,#d8d8d8,#d9d9d9,#d8d8d8,#d4d4d4,#cecece,#c5c5c5,#bababa,#aeaeae,#a1a1a1,#969696,#8c8c8c,#858585,#818181,#7f7f7f,#808080,#838383,#878787,#8c8c8c,#929292)"></i><i style="background:linear-gradient(90deg,#929292,#9a9a9a,#a1a1a1,#a8a8a8,#afafaf,#b6b6b6,#bcbcbc,#c3c3c3,#c9c9c9,#cecece,#d3d3d3,#d8d8d8,#dbdbdb,#dcdcdc,#dcdcdc,#d9d9d9,#d3d3d3,#cbcbcb,#c0c0c0,#b3b3b3,#a5a5a5,#989898,#8c8c8c,#838383,#7c7c7c,#797979,#797979,#7c7c7c,#808080,#868686,#8d8d8d,#949494)"></i><i style="background:linear-gradient(90deg,#959595,#9e9e9e,#a6a6a6,#aeaeae,#b5b5b5,#bcbcbc,#c3c3c3,#cacaca,#cfcfcf,#d5d5d5,#d9d9d9,#ddd,#dfdfdf,#e0e0e0,#dedede,#d9d9d9,#d2d2d2,#c7c7c7,#bababa,#acacac,#9c9c9c,#8e8e8e,#828282,#797979,#747474,#727272,#747474,#797979,#7f7f7f,#878787,#8f8f8f,#979797)"></i><i style="background:linear-gradient(90deg,#999,#a2a2a2,#ababab,#b3b3b3,#bbb,#c3c3c3,#cacaca,#d0d0d0,#d6d6d6,#dbdbdb,#dfdfdf,#e2e2e2,#e3e3e3,#e2e2e2,#dfdfdf,#d9d9d9,#cfcfcf,#c3c3c3,#b4b4b4,#a4a4a4,#939393,#858585,#797979,#717171,#6d6d6d,#6d6d6d,#707070,#777,#7f7f7f,#888,#919191,#9b9b9b)"></i><i style="background:linear-gradient(90deg,#9d9d9d,#a7a7a7,#b0b0b0,#b9b9b9,#c1c1c1,#c9c9c9,#d0d0d0,#d6d6d6,#dbdbdb,#e0e0e0,#e3e3e3,#e6e6e6,#e6e6e6,#e4e4e4,#dfdfdf,#d7d7d7,#ccc,#bebebe,#adadad,#9c9c9c,#8b8b8b,#7c7c7c,#707070,#696969,#676767,#696969,#6e6e6e,#767676,#7f7f7f,#8a8a8a,#959595,#9f9f9f)"></i><i style="background:linear-gradient(90deg,#a0a0a0,#ababab,#b5b5b5,#bebebe,#c7c7c7,#cecece,#d5d5d5,#dbdbdb,#e0e0e0,#e4e4e4,#e7e7e7,#e8e8e8,#e8e8e8,#e5e5e5,#dfdfdf,#d6d6d6,#c9c9c9,#b9b9b9,#a7a7a7,#949494,#838383,#747474,#696969,#636363,#626262,#656565,#6c6c6c,#767676,#818181,#8c8c8c,#989898,#a3a3a3)"></i><i style="background:linear-gradient(90deg,#a4a4a4,#afafaf,#b9b9b9,#c3c3c3,#cbcbcb,#d3d3d3,#d9d9d9,#dfdfdf,#e4e4e4,#e7e7e7,#eaeaea,#ebebeb,#e9e9e9,#e5e5e5,#dedede,#d4d4d4,#c5c5c5,#b4b4b4,#a1a1a1,#8d8d8d,#7c7c7c,#6d6d6d,#636363,#5e5e5e,#5e5e5e,#636363,#6b6b6b,#767676,#828282,#8f8f8f,#9b9b9b,#a7a7a7)"></i><i style="background:linear-gradient(90deg,#a7a7a7,#b3b3b3,#bdbdbd,#c6c6c6,#cfcfcf,#d6d6d6,#dcdcdc,#e2e2e2,#e6e6e6,#eaeaea,#ececec,#ececec,#eaeaea,#e5e5e5,#ddd,#d2d2d2,#c2c2c2,#b0b0b0,#9c9c9c,#888,#767676,#686868,#5e5e5e,#5a5a5a,#5c5c5c,#626262,#6b6b6b,#777,#848484,#919191,#9e9e9e,#aaa)"></i><i style="background:linear-gradient(90deg,#a9a9a9,#b5b5b5,#bfbfbf,#c8c8c8,#d1d1d1,#d8d8d8,#dedede,#e4e4e4,#e8e8e8,#ebebeb,#ededed,#ededed,#ebebeb,#e5e5e5,#ddd,#d0d0d0,#c0c0c0,#adadad,#999,#858585,#737373,#656565,#5c5c5c,#585858,#5a5a5a,#616161,#6b6b6b,#787878,#858585,#939393,#a0a0a0,#acacac)"></i><i style="background:linear-gradient(90deg,#a9a9a9,#b5b5b5,#bfbfbf,#c8c8c8,#d1d1d1,#d8d8d8,#dedede,#e4e4e4,#e8e8e8,#ebebeb,#ededed,#ededed,#ebebeb,#e5e5e5,#ddd,#d0d0d0,#c0c0c0,#adadad,#999,#858585,#737373,#656565,#5c5c5c,#585858,#5a5a5a,#616161,#6b6b6b,#787878,#858585,#939393,#a0a0a0,#acacac)"></i></div>
<svg width="685" height="667" viewBox="0 0 685 667">
<path d="M35.5 90.5V215.5M160.5 90.5V215.5" class="spv"/>
<path d="M35.1 90.5H160.9M35.1 215.5H160.9" class="sph"/>
<text transform="translate(35.5 229.2) scale(.96 1)" class="tk" text-anchor="middle">0</text>
<text transform="translate(31.2 220.5) scale(.96 1)" class="tk" text-anchor="end">0</text>
<text transform="translate(60.5 229.2) scale(.96 1)" class="tk" text-anchor="middle">0.2</text>
<text transform="translate(31.2 195.5) scale(.96 1)" class="tk" text-anchor="end">0.2</text>
<text transform="translate(85.5 229.2) scale(.96 1)" class="tk" text-anchor="middle">0.4</text>
<text transform="translate(31.2 170.5) scale(.96 1)" class="tk" text-anchor="end">0.4</text>
<text transform="translate(110.5 229.2) scale(.96 1)" class="tk" text-anchor="middle">0.6</text>
<text transform="translate(31.2 145.5) scale(.96 1)" class="tk" text-anchor="end">0.6</text>
<text transform="translate(135.5 229.2) scale(.96 1)" class="tk" text-anchor="middle">0.8</text>
<text transform="translate(31.2 120.5) scale(.96 1)" class="tk" text-anchor="end">0.8</text>
<text transform="translate(160.5 229.2) scale(.96 1)" class="tk" text-anchor="middle">1</text>
<text transform="translate(31.2 95.5) scale(.96 1)" class="tk" text-anchor="end">1</text>
<path d="M35.5 215.5v2M35.5 215.5h-2M60.5 215.5v2M35.5 190.5h-2M85.5 215.5v2M35.5 165.5h-2M110.5 215.5v2M35.5 140.5h-2M135.5 215.5v2M35.5 115.5h-2M160.5 215.5v2M35.5 90.5h-2" class="tkl"/>
<g transform="translate(98 244.2)"><text transform="translate(-11.3 0) scale(1.15 1)" class="al">x<tspan class="sl" dy="2.9" dx="0.1">/</tspan><tspan dy="-2.9" dx="1.1">L</tspan></text></g>
<g transform="translate(10 152.4) rotate(-90)"><text transform="translate(-11.3 0) scale(1.15 1)" class="al">y<tspan class="sl" dy="2.9" dx="0.1">/</tspan><tspan dy="-2.9" dx="1.1">L</tspan></text></g>
<path d="M203.5 90.5V215.5M328.5 90.5V215.5" class="spv"/>
<path d="M203.1 90.5H328.9M203.1 215.5H328.9" class="sph"/>
<text transform="translate(203.5 229.2) scale(.96 1)" class="tk" text-anchor="middle">0</text>
<text transform="translate(199.2 220.5) scale(.96 1)" class="tk" text-anchor="end">0</text>
<text transform="translate(228.5 229.2) scale(.96 1)" class="tk" text-anchor="middle">0.2</text>
<text transform="translate(199.2 195.5) scale(.96 1)" class="tk" text-anchor="end">0.2</text>
<text transform="translate(253.5 229.2) scale(.96 1)" class="tk" text-anchor="middle">0.4</text>
<text transform="translate(199.2 170.5) scale(.96 1)" class="tk" text-anchor="end">0.4</text>
<text transform="translate(278.5 229.2) scale(.96 1)" class="tk" text-anchor="middle">0.6</text>
<text transform="translate(199.2 145.5) scale(.96 1)" class="tk" text-anchor="end">0.6</text>
<text transform="translate(303.5 229.2) scale(.96 1)" class="tk" text-anchor="middle">0.8</text>
<text transform="translate(199.2 120.5) scale(.96 1)" class="tk" text-anchor="end">0.8</text>
<text transform="translate(328.5 229.2) scale(.96 1)" class="tk" text-anchor="middle">1</text>
<text transform="translate(199.2 95.5) scale(.96 1)" class="tk" text-anchor="end">1</text>
<path d="M203.5 215.5v2M203.5 215.5h-2M228.5 215.5v2M203.5 190.5h-2M253.5 215.5v2M203.5 165.5h-2M278.5 215.5v2M203.5 140.5h-2M303.5 215.5v2M203.5 115.5h-2M328.5 215.5v2M203.5 90.5h-2" class="tkl"/>
<g transform="translate(266 244.2)"><text transform="translate(-11.3 0) scale(1.15 1)" class="al">x<tspan class="sl" dy="2.9" dx="0.1">/</tspan><tspan dy="-2.9" dx="1.1">L</tspan></text></g>
<g transform="translate(178 152.4) rotate(-90)"><text transform="translate(-11.3 0) scale(1.15 1)" class="al">y<tspan class="sl" dy="2.9" dx="0.1">/</tspan><tspan dy="-2.9" dx="1.1">L</tspan></text></g>
<path d="M370.5 90.5V215.5M495.5 90.5V215.5" class="spv"/>
<path d="M370.1 90.5H495.9M370.1 215.5H495.9" class="sph"/>
<text transform="translate(370.5 229.2) scale(.96 1)" class="tk" text-anchor="middle">0</text>
<text transform="translate(366.2 220.5) scale(.96 1)" class="tk" text-anchor="end">0</text>
<text transform="translate(395.5 229.2) scale(.96 1)" class="tk" text-anchor="middle">0.2</text>
<text transform="translate(366.2 195.5) scale(.96 1)" class="tk" text-anchor="end">0.2</text>
<text transform="translate(420.5 229.2) scale(.96 1)" class="tk" text-anchor="middle">0.4</text>
<text transform="translate(366.2 170.5) scale(.96 1)" class="tk" text-anchor="end">0.4</text>
<text transform="translate(445.5 229.2) scale(.96 1)" class="tk" text-anchor="middle">0.6</text>
<text transform="translate(366.2 145.5) scale(.96 1)" class="tk" text-anchor="end">0.6</text>
<text transform="translate(470.5 229.2) scale(.96 1)" class="tk" text-anchor="middle">0.8</text>
<text transform="translate(366.2 120.5) scale(.96 1)" class="tk" text-anchor="end">0.8</text>
<text transform="translate(495.5 229.2) scale(.96 1)" class="tk" text-anchor="middle">1</text>
<text transform="translate(366.2 95.5) scale(.96 1)" class="tk" text-anchor="end">1</text>
<path d="M370.5 215.5v2M370.5 215.5h-2M395.5 215.5v2M370.5 190.5h-2M420.5 215.5v2M370.5 165.5h-2M445.5 215.5v2M370.5 140.5h-2M470.5 215.5v2M370.5 115.5h-2M495.5 215.5v2M370.5 90.5h-2" class="tkl"/>
<g transform="translate(433 244.2)"><text transform="translate(-11.3 0) scale(1.15 1)" class="al">x<tspan class="sl" dy="2.9" dx="0.1">/</tspan><tspan dy="-2.9" dx="1.1">L</tspan></text></g>
<g transform="translate(345 152.4) rotate(-90)"><text transform="translate(-11.3 0) scale(1.15 1)" class="al">y<tspan class="sl" dy="2.9" dx="0.1">/</tspan><tspan dy="-2.9" dx="1.1">L</tspan></text></g>
<text x="342.6" y="263.3" class="sub" text-anchor="middle">(a)</text>
<path d="M38.5 293.5V418.5M163.5 293.5V418.5" class="spv"/>
<path d="M38.1 293.5H163.9M38.1 418.5H163.9" class="sph"/>
<text transform="translate(38.5 432.2) scale(.96 1)" class="tk" text-anchor="middle">0</text>
<text transform="translate(34.2 423.5) scale(.96 1)" class="tk" text-anchor="end">0</text>
<text transform="translate(63.5 432.2) scale(.96 1)" class="tk" text-anchor="middle">0.2</text>
<text transform="translate(34.2 398.5) scale(.96 1)" class="tk" text-anchor="end">0.2</text>
<text transform="translate(88.5 432.2) scale(.96 1)" class="tk" text-anchor="middle">0.4</text>
<text transform="translate(34.2 373.5) scale(.96 1)" class="tk" text-anchor="end">0.4</text>
<text transform="translate(113.5 432.2) scale(.96 1)" class="tk" text-anchor="middle">0.6</text>
<text transform="translate(34.2 348.5) scale(.96 1)" class="tk" text-anchor="end">0.6</text>
<text transform="translate(138.5 432.2) scale(.96 1)" class="tk" text-anchor="middle">0.8</text>
<text transform="translate(34.2 323.5) scale(.96 1)" class="tk" text-anchor="end">0.8</text>
<text transform="translate(163.5 432.2) scale(.96 1)" class="tk" text-anchor="middle">1</text>
<text transform="translate(34.2 298.5) scale(.96 1)" class="tk" text-anchor="end">1</text>
<path d="M38.5 418.5v2M38.5 418.5h-2M63.5 418.5v2M38.5 393.5h-2M88.5 418.5v2M38.5 368.5h-2M113.5 418.5v2M38.5 343.5h-2M138.5 418.5v2M38.5 318.5h-2M163.5 418.5v2M38.5 293.5h-2" class="tkl"/>
<g transform="translate(101 447.2)"><text transform="translate(-11.3 0) scale(1.15 1)" class="al">x<tspan class="sl" dy="2.9" dx="0.1">/</tspan><tspan dy="-2.9" dx="1.1">L</tspan></text></g>
<g transform="translate(13 355.4) rotate(-90)"><text transform="translate(-11.3 0) scale(1.15 1)" class="al">y<tspan class="sl" dy="2.9" dx="0.1">/</tspan><tspan dy="-2.9" dx="1.1">L</tspan></text></g>
<path d="M206.5 293.5V418.5M331.5 293.5V418.5" class="spv"/>
<path d="M206.1 293.5H331.9M206.1 418.5H331.9" class="sph"/>
<text transform="translate(206.5 432.2) scale(.96 1)" class="tk" text-anchor="middle">0</text>
<text transform="translate(202.2 423.5) scale(.96 1)" class="tk" text-anchor="end">0</text>
<text transform="translate(231.5 432.2) scale(.96 1)" class="tk" text-anchor="middle">0.2</text>
<text transform="translate(202.2 398.5) scale(.96 1)" class="tk" text-anchor="end">0.2</text>
<text transform="translate(256.5 432.2) scale(.96 1)" class="tk" text-anchor="middle">0.4</text>
<text transform="translate(202.2 373.5) scale(.96 1)" class="tk" text-anchor="end">0.4</text>
<text transform="translate(281.5 432.2) scale(.96 1)" class="tk" text-anchor="middle">0.6</text>
<text transform="translate(202.2 348.5) scale(.96 1)" class="tk" text-anchor="end">0.6</text>
<text transform="translate(306.5 432.2) scale(.96 1)" class="tk" text-anchor="middle">0.8</text>
<text transform="translate(202.2 323.5) scale(.96 1)" class="tk" text-anchor="end">0.8</text>
<text transform="translate(331.5 432.2) scale(.96 1)" class="tk" text-anchor="middle">1</text>
<text transform="translate(202.2 298.5) scale(.96 1)" class="tk" text-anchor="end">1</text>
<path d="M206.5 418.5v2M206.5 418.5h-2M231.5 418.5v2M206.5 393.5h-2M256.5 418.5v2M206.5 368.5h-2M281.5 418.5v2M206.5 343.5h-2M306.5 418.5v2M206.5 318.5h-2M331.5 418.5v2M206.5 293.5h-2" class="tkl"/>
<g transform="translate(269 447.2)"><text transform="translate(-11.3 0) scale(1.15 1)" class="al">x<tspan class="sl" dy="2.9" dx="0.1">/</tspan><tspan dy="-2.9" dx="1.1">L</tspan></text></g>
<g transform="translate(181 355.4) rotate(-90)"><text transform="translate(-11.3 0) scale(1.15 1)" class="al">y<tspan class="sl" dy="2.9" dx="0.1">/</tspan><tspan dy="-2.9" dx="1.1">L</tspan></text></g>
<path d="M373.5 293.5V418.5M498.5 293.5V418.5" class="spv"/>
<path d="M373.1 293.5H498.9M373.1 418.5H498.9" class="sph"/>
<text transform="translate(373.5 432.2) scale(.96 1)" class="tk" text-anchor="middle">0</text>
<text transform="translate(369.2 423.5) scale(.96 1)" class="tk" text-anchor="end">0</text>
<text transform="translate(398.5 432.2) scale(.96 1)" class="tk" text-anchor="middle">0.2</text>
<text transform="translate(369.2 398.5) scale(.96 1)" class="tk" text-anchor="end">0.2</text>
<text transform="translate(423.5 432.2) scale(.96 1)" class="tk" text-anchor="middle">0.4</text>
<text transform="translate(369.2 373.5) scale(.96 1)" class="tk" text-anchor="end">0.4</text>
<text transform="translate(448.5 432.2) scale(.96 1)" class="tk" text-anchor="middle">0.6</text>
<text transform="translate(369.2 348.5) scale(.96 1)" class="tk" text-anchor="end">0.6</text>
<text transform="translate(473.5 432.2) scale(.96 1)" class="tk" text-anchor="middle">0.8</text>
<text transform="translate(369.2 323.5) scale(.96 1)" class="tk" text-anchor="end">0.8</text>
<text transform="translate(498.5 432.2) scale(.96 1)" class="tk" text-anchor="middle">1</text>
<text transform="translate(369.2 298.5) scale(.96 1)" class="tk" text-anchor="end">1</text>
<path d="M373.5 418.5v2M373.5 418.5h-2M398.5 418.5v2M373.5 393.5h-2M423.5 418.5v2M373.5 368.5h-2M448.5 418.5v2M373.5 343.5h-2M473.5 418.5v2M373.5 318.5h-2M498.5 418.5v2M373.5 293.5h-2" class="tkl"/>
<g transform="translate(436 447.2)"><text transform="translate(-11.3 0) scale(1.15 1)" class="al">x<tspan class="sl" dy="2.9" dx="0.1">/</tspan><tspan dy="-2.9" dx="1.1">L</tspan></text></g>
<g transform="translate(348 355.4) rotate(-90)"><text transform="translate(-11.3 0) scale(1.15 1)" class="al">y<tspan class="sl" dy="2.9" dx="0.1">/</tspan><tspan dy="-2.9" dx="1.1">L</tspan></text></g>
<text x="342.6" y="463.8" class="sub" text-anchor="middle">(b)</text>
<path d="M38.5 493.5V618.5M163.5 493.5V618.5" class="spv"/>
<path d="M38.1 493.5H163.9M38.1 618.5H163.9" class="sph"/>
<text transform="translate(38.5 632.2) scale(.96 1)" class="tk" text-anchor="middle">0</text>
<text transform="translate(34.2 623.5) scale(.96 1)" class="tk" text-anchor="end">0</text>
<text transform="translate(63.5 632.2) scale(.96 1)" class="tk" text-anchor="middle">0.2</text>
<text transform="translate(34.2 598.5) scale(.96 1)" class="tk" text-anchor="end">0.2</text>
<text transform="translate(88.5 632.2) scale(.96 1)" class="tk" text-anchor="middle">0.4</text>
<text transform="translate(34.2 573.5) scale(.96 1)" class="tk" text-anchor="end">0.4</text>
<text transform="translate(113.5 632.2) scale(.96 1)" class="tk" text-anchor="middle">0.6</text>
<text transform="translate(34.2 548.5) scale(.96 1)" class="tk" text-anchor="end">0.6</text>
<text transform="translate(138.5 632.2) scale(.96 1)" class="tk" text-anchor="middle">0.8</text>
<text transform="translate(34.2 523.5) scale(.96 1)" class="tk" text-anchor="end">0.8</text>
<text transform="translate(163.5 632.2) scale(.96 1)" class="tk" text-anchor="middle">1</text>
<text transform="translate(34.2 498.5) scale(.96 1)" class="tk" text-anchor="end">1</text>
<path d="M38.5 618.5v2M38.5 618.5h-2M63.5 618.5v2M38.5 593.5h-2M88.5 618.5v2M38.5 568.5h-2M113.5 618.5v2M38.5 543.5h-2M138.5 618.5v2M38.5 518.5h-2M163.5 618.5v2M38.5 493.5h-2" class="tkl"/>
<g transform="translate(101 647.2)"><text transform="translate(-10.2 0) scale(1.15 1)" class="al">x<tspan class="sl" dy="2.9" dx="0">/</tspan><tspan dy="-2.9" dx="0.15">δ</tspan></text></g>
<g transform="translate(13 554.8) rotate(-90)"><text transform="translate(-10.2 0) scale(1.15 1)" class="al">y<tspan class="sl" dy="2.9" dx="0">/</tspan><tspan dy="-2.9" dx="0.15">δ</tspan></text></g>
<path d="M206.5 493.5V618.5M331.5 493.5V618.5" class="spv"/>
<path d="M206.1 493.5H331.9M206.1 618.5H331.9" class="sph"/>
<text transform="translate(206.5 632.2) scale(.96 1)" class="tk" text-anchor="middle">0</text>
<text transform="translate(202.2 623.5) scale(.96 1)" class="tk" text-anchor="end">0</text>
<text transform="translate(231.5 632.2) scale(.96 1)" class="tk" text-anchor="middle">0.2</text>
<text transform="translate(202.2 598.5) scale(.96 1)" class="tk" text-anchor="end">0.2</text>
<text transform="translate(256.5 632.2) scale(.96 1)" class="tk" text-anchor="middle">0.4</text>
<text transform="translate(202.2 573.5) scale(.96 1)" class="tk" text-anchor="end">0.4</text>
<text transform="translate(281.5 632.2) scale(.96 1)" class="tk" text-anchor="middle">0.6</text>
<text transform="translate(202.2 548.5) scale(.96 1)" class="tk" text-anchor="end">0.6</text>
<text transform="translate(306.5 632.2) scale(.96 1)" class="tk" text-anchor="middle">0.8</text>
<text transform="translate(202.2 523.5) scale(.96 1)" class="tk" text-anchor="end">0.8</text>
<text transform="translate(331.5 632.2) scale(.96 1)" class="tk" text-anchor="middle">1</text>
<text transform="translate(202.2 498.5) scale(.96 1)" class="tk" text-anchor="end">1</text>
<path d="M206.5 618.5v2M206.5 618.5h-2M231.5 618.5v2M206.5 593.5h-2M256.5 618.5v2M206.5 568.5h-2M281.5 618.5v2M206.5 543.5h-2M306.5 618.5v2M206.5 518.5h-2M331.5 618.5v2M206.5 493.5h-2" class="tkl"/>
<g transform="translate(269 647.2)"><text transform="translate(-10.2 0) scale(1.15 1)" class="al">x<tspan class="sl" dy="2.9" dx="0">/</tspan><tspan dy="-2.9" dx="0.15">δ</tspan></text></g>
<g transform="translate(181 554.8) rotate(-90)"><text transform="translate(-10.2 0) scale(1.15 1)" class="al">y<tspan class="sl" dy="2.9" dx="0">/</tspan><tspan dy="-2.9" dx="0.15">δ</tspan></text></g>
<path d="M373.5 493.5V618.5M498.5 493.5V618.5" class="spv"/>
<path d="M373.1 493.5H498.9M373.1 618.5H498.9" class="sph"/>
<text transform="translate(373.5 632.2) scale(.96 1)" class="tk" text-anchor="middle">0</text>
<text transform="translate(369.2 623.5) scale(.96 1)" class="tk" text-anchor="end">0</text>
<text transform="translate(398.5 632.2) scale(.96 1)" class="tk" text-anchor="middle">0.2</text>
<text transform="translate(369.2 598.5) scale(.96 1)" class="tk" text-anchor="end">0.2</text>
<text transform="translate(423.5 632.2) scale(.96 1)" class="tk" text-anchor="middle">0.4</text>
<text transform="translate(369.2 573.5) scale(.96 1)" class="tk" text-anchor="end">0.4</text>
<text transform="translate(448.5 632.2) scale(.96 1)" class="tk" text-anchor="middle">0.6</text>
<text transform="translate(369.2 548.5) scale(.96 1)" class="tk" text-anchor="end">0.6</text>
<text transform="translate(473.5 632.2) scale(.96 1)" class="tk" text-anchor="middle">0.8</text>
<text transform="translate(369.2 523.5) scale(.96 1)" class="tk" text-anchor="end">0.8</text>
<text transform="translate(498.5 632.2) scale(.96 1)" class="tk" text-anchor="middle">1</text>
<text transform="translate(369.2 498.5) scale(.96 1)" class="tk" text-anchor="end">1</text>
<path d="M373.5 618.5v2M373.5 618.5h-2M398.5 618.5v2M373.5 593.5h-2M423.5 618.5v2M373.5 568.5h-2M448.5 618.5v2M373.5 543.5h-2M473.5 618.5v2M373.5 518.5h-2M498.5 618.5v2M373.5 493.5h-2" class="tkl"/>
<g transform="translate(436 647.2)"><text transform="translate(-10.2 0) scale(1.15 1)" class="al">x<tspan class="sl" dy="2.9" dx="0">/</tspan><tspan dy="-2.9" dx="0.15">δ</tspan></text></g>
<g transform="translate(348 554.8) rotate(-90)"><text transform="translate(-10.2 0) scale(1.15 1)" class="al">y<tspan class="sl" dy="2.9" dx="0">/</tspan><tspan dy="-2.9" dx="0.15">δ</tspan></text></g>
<text x="342.6" y="663.3" class="sub" text-anchor="middle">(c)</text>
<clipPath id="cp0"><rect x="550.6" y="88.5" width="134" height="129.9"/></clipPath>
<path d="M554.5 88.5V218.4M638.5 88.5V218.4M550.6 105.6H684.6M550.6 162H684.6" class="grid"/>
<g clip-path="url(#cp0)">
<polyline points="554.5,109.7 579.79,127.2 605.07,143.8 630.36,159 655.65,172.6 680.93,184.2" fill="none" stroke="#0014a8" stroke-width="1.6"/>
<rect x="552.2" y="107.4" width="4.6" height="4.6" fill="#0014a8"/>
<rect x="577.49" y="124.9" width="4.6" height="4.6" fill="#0014a8"/>
<rect x="602.77" y="141.5" width="4.6" height="4.6" fill="#0014a8"/>
<rect x="628.06" y="156.7" width="4.6" height="4.6" fill="#0014a8"/>
<rect x="653.35" y="170.3" width="4.6" height="4.6" fill="#0014a8"/>
<rect x="678.63" y="181.9" width="4.6" height="4.6" fill="#0014a8"/>
<polyline points="554.5,155.8 579.79,192.3 605.07,212.5 630.36,207.8" fill="none" stroke="#088030" stroke-width="1.6"/>
<circle cx="554.5" cy="155.8" r="2.25" fill="#088030"/>
<circle cx="579.79" cy="192.3" r="2.25" fill="#088030"/>
<circle cx="605.07" cy="212.5" r="2.25" fill="#088030"/>
<circle cx="630.36" cy="207.8" r="2.25" fill="#088030"/>
<path d="M554.5 109.7L680.93 194.4" class="ref r1" stroke-dasharray="5.7 2.3"/>
<path d="M554.5 155.8L604.5 223.5" class="ref r2" stroke-dasharray="9.8 2.2 1.8 2.1"/>
</g>
<path d="M550.6 88.5V218.4" fill="none" stroke="#3a3a3a" stroke-width="0.9" stroke-linecap="square"/>
<path d="M550.6 218.4H684.6" fill="none" stroke="#3a3a3a" stroke-width="0.9" stroke-linecap="square"/>
<path d="M550.6 88.5H684.6" fill="none" stroke="#3a3a3a" stroke-width="0.9" stroke-linecap="square"/>
<path d="M684.6 88.5V218.4" fill="none" stroke="#3a3a3a" stroke-width="0.9" stroke-linecap="square"/>
<path d="M554.5 218.4v1.8M638.5 218.4v1.8M550.6 105.6h-1.8M550.6 162h-1.8M550.6 218.4h-1.8" class="tkl"/>
<path d="M579.79 218.4v1M594.58 218.4v1M605.07 218.4v1M613.21 218.4v1M619.86 218.4v1M625.49 218.4v1M630.36 218.4v1M634.66 218.4v1M663.79 218.4v1M678.58 218.4v1M550.6 88.62h-1M550.6 145.02h-1M550.6 135.09h-1M550.6 128.04h-1M550.6 122.58h-1M550.6 118.11h-1M550.6 114.34h-1M550.6 111.07h-1M550.6 108.18h-1M550.6 201.42h-1M550.6 191.49h-1M550.6 184.44h-1M550.6 178.98h-1M550.6 174.51h-1M550.6 170.74h-1M550.6 167.47h-1M550.6 164.58h-1" class="tkm"/>
<text x="553.9" y="232.8" font-size="15.6" text-anchor="middle">10<tspan dy="-6.2" dx=".2" font-size="11.3">0</tspan></text>
<text x="637.9" y="232.8" font-size="15.6" text-anchor="middle">10<tspan dy="-6.2" dx=".2" font-size="11.3">1</tspan></text>
<text x="547.8" y="111.8" font-size="15.6" text-anchor="end">10<tspan dy="-6.2" dx=".2" font-size="11.3" letter-spacing=".9">−1</tspan></text>
<text x="547.8" y="168.2" font-size="15.6" text-anchor="end">10<tspan dy="-6.2" dx=".2" font-size="11.3" letter-spacing=".9">−2</tspan></text>
<text x="547.8" y="224.6" font-size="15.6" text-anchor="end">10<tspan dy="-6.2" dx=".2" font-size="11.3" letter-spacing=".9">−3</tspan></text>
<text x="617.6" y="249.1" font-size="16.5" text-anchor="middle">Splitting steps</text>
<text transform="translate(513.7 153.45) rotate(-90)" font-size="16.5" text-anchor="middle">Error norm</text>
<clipPath id="cp1"><rect x="552" y="293.5" width="129.4" height="125.6"/></clipPath>
<path d="M555.5 293.5V419.1M636.3 293.5V419.1M552 309.5H681.4M552 364.3H681.4" class="grid"/>
<g clip-path="url(#cp1)">
<polyline points="555.5,292.9 579.82,308.1 604.15,323 628.47,337.1 652.79,350.3 677.12,361.6" fill="none" stroke="#0014a8" stroke-width="1.6"/>
<rect x="553.2" y="290.6" width="4.6" height="4.6" fill="#0014a8"/>
<rect x="577.52" y="305.8" width="4.6" height="4.6" fill="#0014a8"/>
<rect x="601.85" y="320.7" width="4.6" height="4.6" fill="#0014a8"/>
<rect x="626.17" y="334.8" width="4.6" height="4.6" fill="#0014a8"/>
<rect x="650.49" y="348" width="4.6" height="4.6" fill="#0014a8"/>
<rect x="674.82" y="359.3" width="4.6" height="4.6" fill="#0014a8"/>
<polyline points="555.5,327 579.82,361 604.15,386.6 628.47,385.3" fill="none" stroke="#088030" stroke-width="1.6"/>
<circle cx="555.5" cy="327" r="2.25" fill="#088030"/>
<circle cx="579.82" cy="361" r="2.25" fill="#088030"/>
<circle cx="604.15" cy="386.6" r="2.25" fill="#088030"/>
<circle cx="628.47" cy="385.3" r="2.25" fill="#088030"/>
<path d="M555.5 292.9L677.12 375.5" class="ref r1" stroke-dasharray="5.7 2.3"/>
<path d="M555.5 327L604.2 393" class="ref r2" stroke-dasharray="9.8 2.2 1.8 2.1"/>
</g>
<path d="M552 293.5V419.1" fill="none" stroke="#c8c8c8" stroke-width="1.6" stroke-linecap="square"/>
<path d="M552 419.1H681.4" fill="none" stroke="#c8c8c8" stroke-width="1.4" stroke-linecap="square"/>
<path d="M552 293.5H681.4" fill="none" stroke="#3a3a3a" stroke-width="0.9" stroke-linecap="square"/>
<path d="M681.4 293.5V419.1" fill="none" stroke="#3a3a3a" stroke-width="0.9" stroke-linecap="square"/>
<path d="M555.5 419.1v1.8M636.3 419.1v1.8M552 309.5h-1.8M552 364.3h-1.8M552 419.1h-1.8" class="tkl"/>
<path d="M579.82 419.1v1M594.05 419.1v1M604.15 419.1v1M611.98 419.1v1M618.37 419.1v1M623.78 419.1v1M628.47 419.1v1M632.6 419.1v1M660.62 419.1v1M674.85 419.1v1M552 347.8h-1M552 338.15h-1M552 331.31h-1M552 326h-1M552 321.66h-1M552 317.99h-1M552 314.81h-1M552 312.01h-1M552 402.6h-1M552 392.95h-1M552 386.11h-1M552 380.8h-1M552 376.46h-1M552 372.79h-1M552 369.61h-1M552 366.81h-1" class="tkm"/>
<text x="554.9" y="433" font-size="15.01" text-anchor="middle">10<tspan dy="-5.96" dx=".2" font-size="10.87">0</tspan></text>
<text x="635.7" y="433" font-size="15.01" text-anchor="middle">10<tspan dy="-5.96" dx=".2" font-size="10.87">1</tspan></text>
<text x="549.2" y="315.46" font-size="15.01" text-anchor="end">10<tspan dy="-5.96" dx=".2" font-size="10.87" letter-spacing=".9">−1</tspan></text>
<text x="549.2" y="370.26" font-size="15.01" text-anchor="end">10<tspan dy="-5.96" dx=".2" font-size="10.87" letter-spacing=".9">−2</tspan></text>
<text x="549.2" y="425.06" font-size="15.01" text-anchor="end">10<tspan dy="-5.96" dx=".2" font-size="10.87" letter-spacing=".9">−3</tspan></text>
<text x="616.7" y="448.5" font-size="15.87" text-anchor="middle">Splitting steps</text>
<text transform="translate(516.2 356.3) rotate(-90)" font-size="15.87" text-anchor="middle">Error norm</text>
<clipPath id="cp2"><rect x="552" y="493.2" width="129.4" height="125.2"/></clipPath>
<path d="M555.5 493.2V618.4M636.3 493.2V618.4M552 509.3H681.4M552 563.85H681.4" class="grid"/>
<g clip-path="url(#cp2)">
<polyline points="555.5,507 579.82,523.2 604.15,538.9 628.47,553.6 652.79,566.9 677.12,577.8" fill="none" stroke="#0014a8" stroke-width="1.6"/>
<rect x="553.2" y="504.7" width="4.6" height="4.6" fill="#0014a8"/>
<rect x="577.52" y="520.9" width="4.6" height="4.6" fill="#0014a8"/>
<rect x="601.85" y="536.6" width="4.6" height="4.6" fill="#0014a8"/>
<rect x="626.17" y="551.3" width="4.6" height="4.6" fill="#0014a8"/>
<rect x="650.49" y="564.6" width="4.6" height="4.6" fill="#0014a8"/>
<rect x="674.82" y="575.5" width="4.6" height="4.6" fill="#0014a8"/>
<polyline points="555.5,547.6 579.82,583.7 604.15,606.7 628.47,601.5" fill="none" stroke="#088030" stroke-width="1.6"/>
<circle cx="555.5" cy="547.6" r="2.25" fill="#088030"/>
<circle cx="579.82" cy="583.7" r="2.25" fill="#088030"/>
<circle cx="604.15" cy="606.7" r="2.25" fill="#088030"/>
<circle cx="628.47" cy="601.5" r="2.25" fill="#088030"/>
<path d="M555.5 507L677.12 589.2" class="ref r1" stroke-dasharray="5.7 2.3"/>
<path d="M555.5 547.6L604.2 613.3" class="ref r2" stroke-dasharray="9.8 2.2 1.8 2.1"/>
</g>
<path d="M552 493.2V618.4" fill="none" stroke="#c8c8c8" stroke-width="1.6" stroke-linecap="square"/>
<path d="M552 618.4H681.4" fill="none" stroke="#3a3a3a" stroke-width="0.9" stroke-linecap="square"/>
<path d="M552 493.2H681.4" fill="none" stroke="#c8c8c8" stroke-width="1.5" stroke-linecap="square"/>
<path d="M681.4 493.2V618.4" fill="none" stroke="#3a3a3a" stroke-width="0.9" stroke-linecap="square"/>
<path d="M555.5 618.4v1.8M636.3 618.4v1.8M552 509.3h-1.8M552 563.85h-1.8M552 618.4h-1.8" class="tkl"/>
<path d="M579.82 618.4v1M594.05 618.4v1M604.15 618.4v1M611.98 618.4v1M618.37 618.4v1M623.78 618.4v1M628.47 618.4v1M632.6 618.4v1M660.62 618.4v1M674.85 618.4v1M552 547.43h-1M552 537.82h-1M552 531.01h-1M552 525.72h-1M552 521.4h-1M552 517.75h-1M552 514.59h-1M552 511.8h-1M552 601.98h-1M552 592.37h-1M552 585.56h-1M552 580.27h-1M552 575.95h-1M552 572.3h-1M552 569.14h-1M552 566.35h-1" class="tkm"/>
<text x="554.9" y="632.3" font-size="15.01" text-anchor="middle">10<tspan dy="-5.96" dx=".2" font-size="10.87">0</tspan></text>
<text x="635.7" y="632.3" font-size="15.01" text-anchor="middle">10<tspan dy="-5.96" dx=".2" font-size="10.87">1</tspan></text>
<text x="549.2" y="515.26" font-size="15.01" text-anchor="end">10<tspan dy="-5.96" dx=".2" font-size="10.87" letter-spacing=".9">−1</tspan></text>
<text x="549.2" y="569.81" font-size="15.01" text-anchor="end">10<tspan dy="-5.96" dx=".2" font-size="10.87" letter-spacing=".9">−2</tspan></text>
<text x="549.2" y="624.36" font-size="15.01" text-anchor="end">10<tspan dy="-5.96" dx=".2" font-size="10.87" letter-spacing=".9">−3</tspan></text>
<text x="616.7" y="647.8" font-size="15.87" text-anchor="middle">Splitting steps</text>
<text transform="translate(516.2 555.8) rotate(-90)" font-size="15.87" text-anchor="middle">Error norm</text>
<linearGradient id="cbg"><stop offset="0" stop-color="#fff"/><stop offset="0.125" stop-color="#dfdfdf"/><stop offset="0.25" stop-color="#bfbfbf"/><stop offset="0.375" stop-color="#9f9f9f"/><stop offset="0.5" stop-color="#808080"/><stop offset="0.625" stop-color="#606060"/><stop offset="0.75" stop-color="#404040"/><stop offset="0.875" stop-color="#202020"/><stop offset="1" stop-color="#000"/></linearGradient>
<rect x="153.3" y="35.2" width="256.2" height="10.9" fill="url(#cbg)" class="sp2"/>
<text transform="translate(153.3 63.3) scale(.94 1)" class="cbt" text-anchor="middle">0.00</text>
<text transform="translate(217.35 63.3) scale(.94 1)" class="cbt" text-anchor="middle">0.01</text>
<text transform="translate(281.4 63.3) scale(.94 1)" class="cbt" text-anchor="middle">0.02</text>
<text transform="translate(345.45 63.3) scale(.94 1)" class="cbt" text-anchor="middle">0.03</text>
<text transform="translate(409.5 63.3) scale(.94 1)" class="cbt" text-anchor="middle">0.04</text>
<path d="M153.3 46.1v2.6M217.35 46.1v2.6M281.4 46.1v2.6M345.45 46.1v2.6M409.5 46.1v2.6" class="tkl"/>
<g><text transform="translate(266.3 21.7)" font-size="21.8">|</text><text transform="translate(271.6 22) scale(1.19 1)" font-size="17.9" font-style="italic">ϕ</text><text transform="translate(282.4 24.1) scale(1.35 1)" font-size="14.6" font-style="italic">t</text><text transform="translate(288.9 23.4) scale(1 1.28)" class="ang">⟩</text></g>
<rect x="561.3" y="0.4" width="123" height="81.9" rx="2.2" fill="#fff" fill-opacity="0.8" stroke="#d4d4d4" stroke-width="1"/>
<path d="M566.5 10.6H595.7" stroke="#0014a8" stroke-width="1.6"/>
<rect x="578.8" y="8.3" width="4.6" height="4.6" fill="#0014a8"/>
<path d="M566.5 30.4H595.7" stroke="#088030" stroke-width="1.6"/>
<circle cx="581.1" cy="30.4" r="2.25" fill="#088030"/>
<path d="M567.1 49.9H595.7" class="ref r1" stroke-dasharray="5.7 2.3"/>
<path d="M567.1 69.5H595.7" class="ref r2" stroke-dasharray="9.8 2.2 1.8 2.1"/>
<text x="606.6" y="15.5" class="lg" letter-spacing="0">Trotter</text>
<text x="606.6" y="35.3" class="lg" letter-spacing="0">Strang</text>
<text x="606.6" y="54.8" class="lg" letter-spacing="-0.1">First order</text>
<text x="606.6" y="74.4" class="lg" letter-spacing="-0.35">Second order</text>
</svg>
</body></html>
